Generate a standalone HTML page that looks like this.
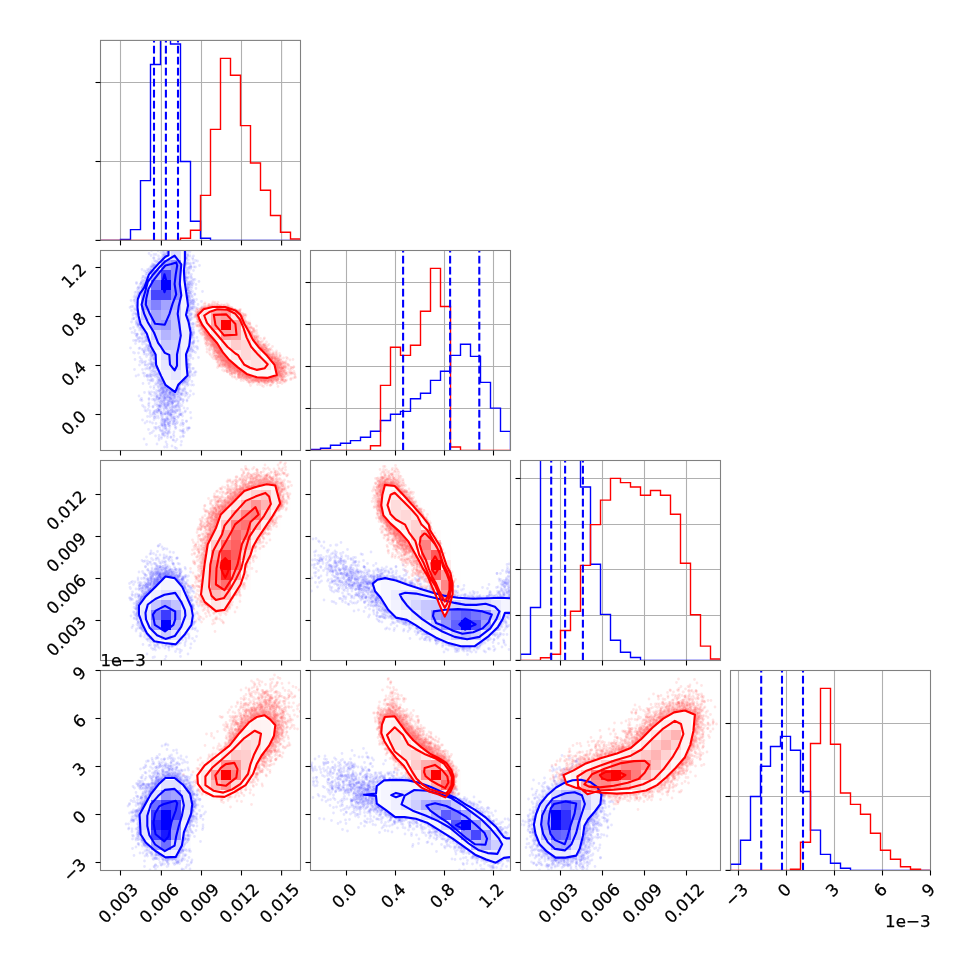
<!DOCTYPE html>
<html><head><meta charset="utf-8"><title>corner</title>
<style>
html,body{margin:0;padding:0;background:#fff;overflow:hidden;width:970px;height:970px}
svg{display:block}
text{font-family:"DejaVu Sans","Liberation Sans",sans-serif;font-size:16.67px;fill:#000;stroke:#000;stroke-width:.25px}
.fr{fill:none;stroke:#808080;stroke-width:1.1}
.tk{stroke:#000;stroke-width:1.1;fill:none}
.gr{stroke:#b0b0b0;stroke-width:1.1;fill:none}
.hb{stroke:#0000ff;stroke-width:1.4;fill:none;stroke-linejoin:miter}
.hr{stroke:#ff0000;stroke-width:1.4;fill:none;stroke-linejoin:miter}
.dq{stroke:#0000ff;stroke-width:2.1;fill:none;stroke-dasharray:7.7 3.3}
.dt{fill:none;stroke-width:5.6;stroke-linecap:round;stroke-opacity:.1}
.cb{stroke:#0000ff;stroke-width:2.1;fill:none;stroke-linejoin:round}
.cr{stroke:#ff0000;stroke-width:2.1;fill:none;stroke-linejoin:round}
</style></head><body>
<svg width="970" height="970" viewBox="0 0 970 970">
<rect width="970" height="970" fill="#fff"/>
<defs>
<clipPath id="c00"><rect x="100.5" y="40.4" width="200.0" height="200.0"/></clipPath>
<clipPath id="c10"><rect x="100.5" y="250.5" width="200.0" height="200.0"/></clipPath>
<clipPath id="c11"><rect x="310.5" y="250.5" width="200.0" height="200.0"/></clipPath>
<clipPath id="c20"><rect x="100.5" y="460.5" width="200.0" height="200.0"/></clipPath>
<clipPath id="c21"><rect x="310.5" y="460.5" width="200.0" height="200.0"/></clipPath>
<clipPath id="c22"><rect x="520.5" y="460.5" width="200.0" height="200.0"/></clipPath>
<clipPath id="c30"><rect x="100.5" y="670.5" width="200.0" height="200.0"/></clipPath>
<clipPath id="c31"><rect x="310.5" y="670.5" width="200.0" height="200.0"/></clipPath>
<clipPath id="c32"><rect x="520.5" y="670.5" width="200.0" height="200.0"/></clipPath>
<clipPath id="c33"><rect x="730.5" y="670.5" width="200.0" height="200.0"/></clipPath>
</defs>
<g clip-path="url(#c00)">
<path d="M120.5 40.4 V240.4" class="gr"/>
<path d="M161.4 40.4 V240.4" class="gr"/>
<path d="M201.5 40.4 V240.4" class="gr"/>
<path d="M241.5 40.4 V240.4" class="gr"/>
<path d="M281.6 40.4 V240.4" class="gr"/>
<path d="M100.5 82.5 H300.5" class="gr"/>
<path d="M100.5 161.5 H300.5" class="gr"/>
<path d="M100.5 240.4 L100.5 240.4 L110.5 240.4 L110.5 240.4 L120.5 240.4 L120.5 239.5 L130.5 239.5 L130.5 229.6 L140.5 229.6 L140.5 180.6 L150.5 180.6 L150.5 64.5 L160.5 64.5 L160.5 -30.0 L170.5 -30.0 L170.5 44.0 L180.5 44.0 L180.5 161.5 L190.5 161.5 L190.5 221.2 L200.5 221.2 L200.5 238.2 L210.5 238.2 L210.5 240.4 L220.5 240.4 L220.5 240.4 L230.5 240.4 L230.5 240.4 L240.5 240.4 L240.5 240.4 L250.5 240.4 L250.5 240.4 L260.5 240.4 L260.5 240.4 L270.5 240.4 L270.5 240.4 L280.5 240.4 L280.5 240.4 L290.5 240.4 L290.5 240.4 L300.5 240.4 L300.5 240.4" class="hb"/>
<path d="M100.5 240.4 L100.5 240.4 L110.5 240.4 L110.5 240.4 L120.5 240.4 L120.5 240.4 L130.5 240.4 L130.5 240.4 L140.5 240.4 L140.5 240.4 L150.5 240.4 L150.5 240.4 L160.5 240.4 L160.5 240.4 L170.5 240.4 L170.5 240.4 L180.5 240.4 L180.5 238.2 L190.5 238.2 L190.5 230.3 L200.5 230.3 L200.5 195.4 L210.5 195.4 L210.5 129.4 L220.5 129.4 L220.5 58.4 L230.5 58.4 L230.5 75.2 L240.5 75.2 L240.5 125.6 L250.5 125.6 L250.5 163.0 L260.5 163.0 L260.5 190.2 L270.5 190.2 L270.5 215.5 L280.5 215.5 L280.5 232.3 L290.5 232.3 L290.5 239.0 L300.5 239.0 L300.5 240.4" class="hr"/>
<path d="M154.0 240.4 V40.4" class="dq"/>
<path d="M165.9 240.4 V40.4" class="dq"/>
<path d="M178.0 240.4 V40.4" class="dq"/>
</g>
<rect x="100.5" y="40.4" width="200" height="200" class="fr"/>
<path d="M120.5 240.4 v5" class="tk"/>
<path d="M161.4 240.4 v5" class="tk"/>
<path d="M201.5 240.4 v5" class="tk"/>
<path d="M241.5 240.4 v5" class="tk"/>
<path d="M281.6 240.4 v5" class="tk"/>
<path d="M100.5 82.5 h-5" class="tk"/>
<path d="M100.5 161.5 h-5" class="tk"/>
<path d="M100.5 240.4 h-5" class="tk"/>
<g clip-path="url(#c10)">
<path transform="scale(.5)" d="M263 613h0m10-48h0m-3 20h0m6 2h0m-6 18h0m5 15h0m-4 8h0m5 1h0m-8 8h0m5 5h0m1 26h0m-4 51h0m18 159h0m-4-77h0m-1-82h0m-6-69h0m4-4h0m-4-60h0m8-9h0m2-6h0m-5-4h0m6 0h0m-4-10h0m14-13h0m-3 12h0m-3 110h0m1 15h0m4 3h0m-1 8h0m-2 1h0m4 6h0m-1 1h0m0 38h0m-3 14h0m2 8h0m4 107h0m11-40h0m0-41h0m-10-24h0m1-8h0m1-7h0m7-1h0m-4-5h0m3-6h0m-4-4h0m-2-20h0m-2-19h0m1-151h0m5-11h0m4-7h0m-3-14h0m14-4h0m-6 15h0m0 3h0m-3 2h0m3 0h0m-4 207h0m7 14h0m-6 1h0m-1 1h0m7 0h0m-5 7h0m7 0h0m3 1h0m-4 1h0m-2 4h0m2 7h0m3 8h0m-4 6h0m-3 1h0m5 6h0m-6 3h0m3 5h0m0 13h0m-3 9h0m1 1h0m-2 4h0m8 2h0m-4 45h0m-4 17h0m15-16h0m1-16h0m-4-3h0m4-5h0m0-4h0m2-1h0m-7-10h0m0-5h0m0-2h0m3-8h0m5-2h0m-8-5h0m3-3h0m7-2h0m-6-1h0m-3-2h0m4-8h0m5-2h0m-1-2h0m1 0h0m-5-1h0m-3-1h0m6-2h0m-7-1h0m6-2h0m-5-6h0m7-1h0m-3 0h0m-4-5h0m-2-3h0m5 0h0m-4-251h0m5-6h0m1-2h0m-7-2h0m10-2h0m-8-1h0m10-4h0m-1 0h0m1 277h0m2 1h0m4 5h0m4 1h0m-8 2h0m-2 2h0m4 4h0m0 3h0m-3 7h0m5 2h0m2 2h0m-9 2h0m8 5h0m-8 10h0m1 1h0m2 1h0m-2 2h0m3 1h0m-3 22h0m13-4h0m0-2h0m-1-10h0m8-2h0m-6-20h0m0-9h0m5-9h0m-5-8h0m4-8h0m0-5h0m16-274h0m1 17h0m-1 27h0m-1 2h0m-6 220h0m-3 12h0m6 10h0m-3 1h0m1 1h0m-3 9h0m0 30h0m5 30h0m-1 3h0m3 3h0m6-5h0m-2-70h0m4-21h0m-4-2h0m0-3h0m3-2h0m1-16h0m4-3h0m-5-1h0m-2-15h0m7-53h0m-1-14h0m1-1h0m0-1h0m1-3h0m-4-7h0m1-2h0m2-6h0m-3-3h0m-2-2h0m2-3h0m0-12h0m-1-1h0m7-4h0m-7-7h0m3-4h0m0-2h0m4 0h0m-9-5h0m-1-2h0m2-1h0m7-4h0m-8-3h0m0 0h0m4-3h0m-4-8h0m0-8h0m9 0h0m-9-14h0m2-17h0m14-3h0m-1 25h0m2 10h0m-7 14h0m1 25h0m-1 39h0m2 14h0m0 2h0m-3 8h0m9 22h0m-9 11h0m23-83h0" stroke="#00f" class="dt"/>
<path transform="scale(.5)" d="M263 621h0m-3-6h0m15-38h0m-6 23h0m6 22h0m-1 11h0m-6 4h0m7 9h0m-1 23h0m-2 0h0m1 12h0m-2 6h0m-2 52h0m14 58h0m3-30h0m-7-37h0m9-27h0m-1-20h0m1-1h0m-8-6h0m1-22h0m0-4h0m-4-60h0m2 0h0m-1-1h0m3-6h0m0-1h0m5-5h0m-10-1h0m10-2h0m-4-7h0m13-28h0m-5 131h0m2 1h0m-1 6h0m3 0h0m-3 11h0m-1 12h0m-1 25h0m2 4h0m-2 18h0m0 5h0m9 15h0m14 88h0m-4-30h0m-7-51h0m7-23h0m-7-10h0m11-10h0m-9-4h0m8 0h0m-7-2h0m4-5h0m-3-11h0m0-1h0m-3-9h0m1-2h0m-3-3h0m9-158h0m-7-4h0m7-2h0m0-9h0m-7-10h0m11 12h0m5 3h0m-4 212h0m0 1h0m3 2h0m1 5h0m0 0h0m-2 2h0m4 0h0m-2 4h0m4 5h0m-1 1h0m0 3h0m3 5h0m-1 10h0m0 1h0m0 9h0m-10 2h0m6 1h0m-7 9h0m11 3h0m0 8h0m-5 12h0m4 4h0m2 37h0m9 3h0m0-2h0m-4-11h0m-2-2h0m-2-1h0m2 0h0m2-5h0m4-10h0m2-10h0m-2 0h0m-2-13h0m-2-3h0m5-9h0m-2-3h0m-5-2h0m7-3h0m-1-6h0m-7-2h0m9-3h0m-2-2h0m-5 0h0m2-2h0m3 0h0m-6-11h0m-2-246h0m-1-1h0m1-1h0m2-3h0m2-3h0m7-4h0m7 273h0m3 1h0m-4 2h0m3 7h0m-1 1h0m-5 6h0m5 9h0m-5 9h0m4 12h0m-6 12h0m3 6h0m-3 20h0m5 9h0m5 6h0m7-1h0m-3-56h0m2-2h0m7-8h0m-7-12h0m7-12h0m-3-1h0m-1-3h0m-1-6h0m2-2h0m0-1h0m2-6h0m11-272h0m1 8h0m0 2h0m1 21h0m-2 3h0m2 2h0m-4 5h0m0 1h0m0 2h0m2 13h0m1 7h0m-1 196h0m-1 1h0m-5 9h0m-2 29h0m3 2h0m1 2h0m4 23h0m-4 27h0m0 11h0m-3 0h0m3 10h0m8-70h0m3-7h0m6-25h0m-11-13h0m11-8h0m-7-14h0m0 0h0m-1-2h0m1-5h0m5-13h0m-1-3h0m0-4h0m-5-5h0m1-1h0m1-3h0m2 0h0m-1-59h0m4-10h0m-1-3h0m1 0h0m-3-8h0m1-1h0m3-2h0m-7-16h0m2-8h0m3-4h0m-6-2h0m2-6h0m3-6h0m-2-3h0m3-6h0m-9-3h0m1-22h0m0-24h0m5-16h0m10 26h0m-3 34h0m7 17h0m-5 25h0m-1 2h0m5 27h0m-4 34h0m1 38h0m-2 14h0m-1 20h0m13-75h0m1-131h0" stroke="#00f" class="dt"/>
<path transform="scale(.5)" d="M270 591h0m4 0h0m-2 4h0m3 11h0m0 13h0m-1 3h0m-1 12h0m2 5h0m0 4h0m-3 1h0m-5 11h0m3 6h0m15 150h0m-8-61h0m8-11h0m-1-13h0m-1-59h0m4-5h0m-1-2h0m-3-5h0m-5-18h0m-1-45h0m4-7h0m5-9h0m-5-2h0m13-27h0m3 2h0m-2 6h0m-4 1h0m-2 107h0m-1 3h0m3 16h0m7 8h0m-10 13h0m9 25h0m0 81h0m-3 34h0m-4 3h0m22 1h0m-12-14h0m11-1h0m-8-1h0m7-1h0m2-9h0m-4-23h0m-5-7h0m5-14h0m3-9h0m-7-7h0m2-2h0m-2-16h0m5-9h0m-6-3h0m6-6h0m-6-14h0m4-3h0m0-1h0m-5-1h0m3-5h0m-4-156h0m4-10h0m0 0h0m2-6h0m0-13h0m-4-15h0m13 0h0m4 18h0m-4 6h0m1 1h0m-4 210h0m-1 6h0m3 2h0m2 1h0m5 6h0m0 11h0m-5 4h0m-5 0h0m9 2h0m-7 24h0m8 1h0m-4 4h0m4 6h0m-2 1h0m-3 14h0m-3 5h0m6 34h0m-8 1h0m17 36h0m3-10h0m-7-15h0m6-14h0m-1-5h0m-1-2h0m-4-3h0m5-4h0m4-3h0m-2-22h0m0-1h0m3-8h0m-7-6h0m2-4h0m4-1h0m-1-18h0m-7-2h0m-2-3h0m3-6h0m-2-1h0m7-260h0m-5-3h0m5-5h0m12 283h0m0 0h0m4 2h0m-8 1h0m8 2h0m-8 4h0m-2 1h0m0 3h0m7 4h0m0 4h0m-3 1h0m4 2h0m-7 4h0m-1 43h0m-1 11h0m11 10h0m5 24h0m-2-14h0m9-22h0m-8-6h0m-2-6h0m5-40h0m-4-7h0m-1-3h0m0-1h0m10-5h0m-12-3h0m7-2h0m1-1h0m0-4h0m0-2h0m0-1h0m3-11h0m-4-275h0m16 7h0m0 4h0m-3 37h0m3 12h0m-4 208h0m3 14h0m-5 4h0m-3 10h0m5 10h0m4 22h0m-10 28h0m4 12h0m1 4h0m9-79h0m-3-31h0m1-1h0m6-3h0m-2-7h0m-2-1h0m4-15h0m-5 0h0m7-28h0m1-6h0m0-19h0m0-8h0m-5-26h0m-1-6h0m1-2h0m-1-1h0m0-7h0m-2 0h0m3-4h0m3-6h0m-3-6h0m5-3h0m-3-13h0m4 0h0m-6-1h0m1-1h0m4-7h0m-9-5h0m10-3h0m-9-5h0m6-4h0m-3-3h0m1-30h0m3-8h0m-8-6h0m1-2h0m6-7h0m10-17h0m5 0h0m0 27h0m-8 37h0m0 6h0m1 50h0m7 2h0m-2 12h0m-4 19h0m-5 21h0m1 5h0m3 7h0m-3 6h0m10 11h0m-10 3h0m6 4h0m6-67h0m5-4h0m2-20h0" stroke="#00f" class="dt"/>
<path transform="scale(.5)" d="M261 696h0m7-102h0m2 23h0m5 3h0m-7 5h0m5 24h0m2 4h0m6 147h0m-3-8h0m8-93h0m-1-11h0m-8-11h0m2-2h0m0-32h0m-3-62h0m3-2h0m5-1h0m0-2h0m2-3h0m12-66h0m-5 36h0m0 18h0m-1 1h0m-4 0h0m6 112h0m4 8h0m-10 2h0m9 11h0m0 1h0m-8 1h0m2 11h0m0 15h0m4 8h0m-4 7h0m3 13h0m4 48h0m-3 34h0m2 26h0m15-23h0m-4-2h0m0-11h0m-8-1h0m9-31h0m-8-4h0m2-3h0m-2-24h0m1-9h0m5-2h0m1-7h0m-1-3h0m-2-7h0m-3-4h0m10-2h0m-10-5h0m6-4h0m0-1h0m-2-3h0m4-2h0m-3-1h0m-2-5h0m-1-1h0m-3-161h0m1-6h0m2-3h0m4-2h0m0-16h0m5 15h0m0 1h0m3 222h0m2 6h0m6 1h0m-7 3h0m4 1h0m2 2h0m-10 2h0m11 27h0m-9 5h0m-1 10h0m5 3h0m0 1h0m0 4h0m3 7h0m12 68h0m-1-36h0m-9-8h0m6-6h0m5-4h0m-6-1h0m5 0h0m-10 0h0m2-1h0m1-10h0m6-11h0m-3-5h0m4 0h0m1-1h0m0-9h0m-7-3h0m-3-3h0m3-4h0m2-2h0m4-2h0m-9-2h0m7-3h0m-4 0h0m-1-2h0m9-7h0m-5-2h0m0-2h0m-5-3h0m2-1h0m-1-249h0m-1-6h0m9-9h0m4-10h0m-2 7h0m2 279h0m2 9h0m1 1h0m-4 0h0m8 1h0m-4 10h0m1 2h0m1 1h0m-7 4h0m9 7h0m0 1h0m-9 8h0m5 13h0m-2 9h0m-3 4h0m5 27h0m2 17h0m9-45h0m3-12h0m-7-9h0m1-2h0m5-3h0m0 0h0m-4-5h0m0-5h0m9-3h0m-3-6h0m-8 0h0m11-4h0m-10-6h0m-1-1h0m6-12h0m3-10h0m2-278h0m10 11h0m2 24h0m0 2h0m-2 31h0m0 202h0m0 31h0m-6 19h0m1 30h0m-2 5h0m16 10h0m-6-13h0m8-18h0m-6-8h0m-1-81h0m-1-25h0m3-8h0m7-29h0m-1-1h0m2-3h0m0-12h0m-4-2h0m1-7h0m-4-6h0m2-3h0m-3-2h0m-2-3h0m0-2h0m0-7h0m6-18h0m1-2h0m-3 0h0m-2-1h0m4-6h0m-4-2h0m0-18h0m-3-2h0m-1-1h0m6 0h0m-5-4h0m7-1h0m1-1h0m-4-26h0m-3-7h0m4-2h0m4-1h0m-6-7h0m0-14h0m11-1h0m1 22h0m1 54h0m-3 20h0m0 11h0m4 3h0m-2 12h0m-3 16h0m1 8h0m0 26h0m-2 2h0m11 9h0m-10 5h0m2 37h0m-3 26h0m13-137h0" stroke="#00f" class="dt"/>
<path transform="scale(.5)" d="M264 665h0m10-72h0m-1 34h0m2 0h0m0 42h0m-1 4h0m-7 32h0m2 1h0m3 46h0m13-29h0m-5-8h0m0-19h0m0-14h0m-4-5h0m9-1h0m-1-8h0m-7-18h0m1-11h0m0 0h0m1-50h0m1-3h0m-1-1h0m5-10h0m3-22h0m12-16h0m-7 10h0m4 7h0m-6 2h0m0 3h0m3 116h0m6 18h0m-1 3h0m-3 3h0m-2 2h0m6 8h0m-6 4h0m1 23h0m5 17h0m12 119h0m-4-44h0m-7-1h0m8-42h0m-4-27h0m4-13h0m2-1h0m-10-9h0m5-7h0m0 0h0m4-9h0m1-5h0m-2-2h0m-7-8h0m2-2h0m1-5h0m-2-156h0m1-1h0m-2-5h0m8 0h0m-3-2h0m4-1h0m3 203h0m3 4h0m2 21h0m-2 14h0m6 0h0m-3 7h0m4 9h0m-9 4h0m9 11h0m-9 2h0m2 5h0m4 1h0m-4 1h0m0 1h0m6 6h0m-6 11h0m7 18h0m0 27h0m12-2h0m-10-8h0m4-2h0m3-6h0m4-12h0m-6-19h0m6-8h0m-8-4h0m7-6h0m-6-1h0m7-3h0m-6-7h0m-3-3h0m2-2h0m7 0h0m-10-3h0m1-3h0m2-2h0m-4-2h0m4-1h0m-3-5h0m10-4h0m-7 0h0m1-1h0m-4-1h0m2-260h0m3 0h0m6-20h0m8 291h0m-7 1h0m2 3h0m0 1h0m6 5h0m-6 4h0m0 1h0m-2 6h0m7 3h0m-4 9h0m2 3h0m-4 4h0m5 1h0m-2 5h0m6 6h0m-7 5h0m0 1h0m7 2h0m-2 4h0m-10 21h0m10 12h0m7-47h0m6-3h0m-7-4h0m8-6h0m-11-6h0m-1-22h0m0-2h0m10-11h0m1-12h0m6-273h0m5 17h0m2 15h0m-4 18h0m1 3h0m2 1h0m0 2h0m-1 8h0m-1 6h0m0 195h0m-1 3h0m-2 5h0m0 2h0m4 2h0m-3 7h0m3 3h0m-2 1h0m-3 0h0m-4 5h0m4 39h0m0 6h0m2 15h0m15-11h0m-2-45h0m-8-5h0m3-22h0m-1-5h0m5 0h0m-3 0h0m4-5h0m-1-17h0m-2-1h0m-3-19h0m3-5h0m5-1h0m-6-1h0m-1-9h0m7-10h0m2-25h0m-4-8h0m-2-12h0m4-11h0m-7-1h0m6-5h0m-1-1h0m-1 0h0m-4-3h0m3-3h0m6-4h0m-6-5h0m4-11h0m0 0h0m-7-1h0m0-9h0m1 0h0m5-11h0m-9-1h0m4-5h0m7-11h0m-11-5h0m1-3h0m4-36h0m-2-10h0m5-7h0m-4-1h0m11 39h0m-2 28h0m0 24h0m8 6h0m-6 1h0m0 69h0m7 6h0m-9 10h0m2 1h0m-1 5h0m4 53h0m-3 26h0" stroke="#00f" class="dt"/>
<path transform="scale(.5)" d="M261 657h0m12-90h0m-1 41h0m-6 5h0m3 6h0m5 10h0m-5 37h0m4 6h0m15 36h0m-11-2h0m1-23h0m6-27h0m-7-8h0m3-5h0m-2-6h0m-1-1h0m2-50h0m-2-12h0m3-5h0m3-5h0m1-25h0m5 3h0m8 3h0m-6 21h0m-3 2h0m7 103h0m1 8h0m2 24h0m2 0h0m0 3h0m-5 44h0m-1 2h0m1 2h0m-6 31h0m10 3h0m-1 18h0m-2 13h0m-3 3h0m15 17h0m-2-26h0m3-13h0m3-50h0m-12-14h0m7-1h0m1-4h0m4-11h0m-10-3h0m4-1h0m-2-5h0m5-3h0m-5-4h0m0-172h0m6-2h0m7-18h0m1 5h0m-5 234h0m4 6h0m1 0h0m4 2h0m-1 4h0m3 2h0m-8 1h0m6 4h0m-5 2h0m1 4h0m3 3h0m-3 2h0m5 2h0m-3 0h0m0 13h0m1 12h0m-2 3h0m-1 10h0m4 4h0m-5 11h0m7 3h0m-1 3h0m-1 4h0m-6 9h0m18 34h0m1-18h0m-9-2h0m0-1h0m8-1h0m-3-16h0m5-4h0m-2-4h0m2-5h0m-6-10h0m2-15h0m-3-1h0m4 0h0m-6-9h0m1 0h0m2-3h0m-2-1h0m3-1h0m0-11h0m0-3h0m-1 0h0m3-1h0m-6-2h0m8-1h0m-6-6h0m-1 0h0m4-3h0m-7-14h0m10-258h0m5 280h0m0 1h0m3 1h0m-3 3h0m8 2h0m0 0h0m-2 3h0m-6 6h0m8 1h0m-6 2h0m-2 3h0m2 19h0m3 1h0m3 3h0m-12 3h0m3 1h0m3 2h0m-5 3h0m10 10h0m-7 10h0m7 16h0m1-31h0m11-10h0m1-4h0m-2-10h0m-6-2h0m5-8h0m-2-4h0m-2-3h0m4-3h0m1 0h0m-5-6h0m-4-2h0m8-2h0m1-9h0m-1-1h0m5-281h0m9 21h0m-1 5h0m0 11h0m2 13h0m-2 12h0m0 2h0m-6 206h0m5 1h0m-5 24h0m-2 102h0m16-34h0m-5-14h0m1-42h0m1-29h0m5-27h0m-1-3h0m1-1h0m-3-7h0m-3-5h0m2-5h0m1-3h0m-2-17h0m9-37h0m-3-37h0m0-8h0m-7-1h0m3 0h0m-2-1h0m1-6h0m2-14h0m-3-1h0m4-2h0m-3-6h0m0-3h0m-3 0h0m6-1h0m-3-4h0m-2-1h0m0-3h0m3-4h0m2-5h0m-5-2h0m3-2h0m-1 0h0m7-10h0m-6 0h0m4-3h0m-4-5h0m4-16h0m-2-3h0m-4-2h0m1-18h0m-3-8h0m17 89h0m-6 12h0m4 9h0m-1 2h0m4 3h0m-7 22h0m2 10h0m1 7h0m1 12h0m-4 4h0m3 16h0m2 8h0m3 50h0m11-141h0m2-20h0" stroke="#00f" class="dt"/>
<path transform="scale(.5)" d="M273 584h0m2 1h0m-3 11h0m-1 3h0m2 4h0m0 8h0m-1 9h0m0 8h0m-1 53h0m15 65h0m-6-23h0m8-19h0m-4-5h0m-5-39h0m1 0h0m-2-4h0m3-6h0m-3-2h0m-1-72h0m10-7h0m-4-5h0m3-11h0m6-2h0m0 5h0m-4 104h0m3 5h0m4 9h0m1 7h0m-2 9h0m5 30h0m1 7h0m0 21h0m-2 36h0m0 13h0m0 16h0m-10 1h0m2 1h0m0 6h0m10 23h0m9-9h0m1-26h0m-5-10h0m-1-48h0m-3-16h0m6-3h0m-2 0h0m-3-2h0m1-2h0m4-1h0m-5 0h0m7-1h0m-8-3h0m1-7h0m0-1h0m-1 0h0m5-5h0m-4-5h0m1-5h0m5-164h0m15-22h0m-10 16h0m5 219h0m0 0h0m2 22h0m2 8h0m-9 2h0m6 13h0m0 1h0m-4 2h0m4 15h0m2 2h0m1 1h0m1 0h0m-1 14h0m-2 31h0m3 14h0m-5 6h0m11-10h0m0-5h0m-2-2h0m-1-2h0m1-3h0m5-5h0m-1-2h0m-4-12h0m4 0h0m3-3h0m-1-8h0m-3-34h0m0-4h0m-4-4h0m9-5h0m-1-1h0m-9-4h0m5-2h0m0-266h0m6-17h0m9 2h0m-3 288h0m-2 2h0m5 0h0m-6 3h0m5 3h0m-2 0h0m0 8h0m5 5h0m-4 3h0m1 3h0m-4 1h0m-3 2h0m7 9h0m-3 1h0m4 1h0m-2 2h0m-6 4h0m5 3h0m2 4h0m0 4h0m3 3h0m-10 3h0m3 4h0m-2 13h0m2 3h0m10-12h0m3-12h0m-3-2h0m0-19h0m9-2h0m-4-3h0m0-4h0m1-6h0m-6-11h0m-2-4h0m11-7h0m0-5h0m-1-4h0m1-6h0m-5-274h0m17 263h0m1 1h0m-6 3h0m5 1h0m-2 2h0m-3 0h0m-3 22h0m-3 14h0m8 16h0m-7 13h0m0 45h0m16-18h0m-5-71h0m9-3h0m-7-15h0m-1-9h0m5-4h0m-2-3h0m1-3h0m4-4h0m-7-8h0m2-3h0m0-2h0m5-2h0m-4 0h0m-4-1h0m1-6h0m1-1h0m-1-15h0m0-3h0m4-3h0m0-1h0m3-2h0m2-30h0m-1-4h0m-2-5h0m1-1h0m-2-2h0m1-15h0m-4-17h0m5-6h0m-3-4h0m6-7h0m-9-10h0m4-10h0m-1-4h0m-4-3h0m2-2h0m0-7h0m5-8h0m-7-2h0m1-3h0m8-8h0m-11-2h0m6-1h0m-1-5h0m4-3h0m0-5h0m-9-17h0m3-5h0m-3-1h0m13 6h0m6 5h0m-5 5h0m-2 47h0m3 26h0m2 5h0m-4 11h0m-1 13h0m4 48h0m8 6h0m-8 65h0m2 3h0m-4 1h0m1 37h0" stroke="#00f" class="dt"/>
<path transform="scale(.5)" d="M263 644h0m-1-43h0m6 0h0m5 11h0m1 2h0m-8 15h0m0 1h0m-1 8h0m8 9h0m-6 34h0m18 159h0m-7-143h0m6-14h0m0-5h0m1-8h0m3-4h0m-4-4h0m-3-5h0m-5-6h0m6-1h0m-2-3h0m-1-4h0m8-72h0m-1-10h0m11-21h0m2 4h0m-10 28h0m2 92h0m-1 10h0m5 1h0m-1 3h0m-1 3h0m5 10h0m-6 3h0m3 3h0m3 4h0m-3 8h0m-5 21h0m9 21h0m-6 138h0m11-24h0m3-3h0m2-7h0m-4-9h0m1-19h0m4-5h0m-4-8h0m4-11h0m-2-30h0m-2-11h0m4-9h0m-3-26h0m-2-1h0m3-9h0m1-8h0m0-2h0m-7-166h0m6-7h0m-3-6h0m7-19h0m2 227h0m6 12h0m-7 1h0m2 12h0m9 16h0m-3 10h0m1 2h0m0 2h0m-9 3h0m6 4h0m3 1h0m-3 4h0m2 9h0m-3 10h0m-5 0h0m0 1h0m3 2h0m7 5h0m0 4h0m-4 19h0m3 9h0m-4 14h0m7-25h0m3-3h0m-1-3h0m-1-4h0m4-1h0m1-13h0m4-1h0m-4-2h0m-3-2h0m3-15h0m-6-1h0m10-13h0m-7-10h0m6-3h0m-10 0h0m7-3h0m4-3h0m-9-5h0m-2-7h0m3-246h0m2-1h0m-1-6h0m7-3h0m-2-5h0m11 279h0m1 4h0m-5 2h0m4 0h0m-6 8h0m5 0h0m4 1h0m1 1h0m-3 2h0m0 2h0m-8 1h0m1 0h0m9 3h0m-2 8h0m1 4h0m0 7h0m0 0h0m-6 5h0m0 2h0m7 1h0m-3 0h0m2 5h0m0 12h0m-7 10h0m8 46h0m3-9h0m-2-31h0m3-7h0m4-12h0m-5-6h0m5-18h0m1-10h0m0-3h0m-5-16h0m4-1h0m-3-9h0m2-1h0m4-3h0m1-7h0m12-266h0m1 11h0m-3 34h0m1 1h0m-1 8h0m2 3h0m-2 195h0m-1 4h0m-5 2h0m7 2h0m-1 0h0m0 13h0m-2 3h0m-1 24h0m-4 24h0m4 18h0m1 26h0m-4 10h0m11-27h0m2-102h0m1-4h0m-2-1h0m-1-12h0m3-3h0m2 0h0m-2-2h0m-3-1h0m3-2h0m-4-3h0m0-1h0m2-7h0m-1-5h0m-1-1h0m1-8h0m5-3h0m0-3h0m-2 0h0m7-1h0m-4-15h0m3-4h0m-2-7h0m0-7h0m0-3h0m0-5h0m-1-8h0m1-37h0m-1-2h0m0-5h0m-4 0h0m0-3h0m-1-5h0m3-3h0m-4-4h0m0 0h0m2-2h0m-2-6h0m-1-2h0m2-11h0m4-2h0m-7-10h0m10-1h0m0-20h0m4-16h0m2 85h0m8 5h0m-8 74h0m9 32h0m1-152h0" stroke="#00f" class="dt"/>
<path transform="scale(.5)" d="M394 633h0m1 5h0m-1 14h0m7 14h0m3-9h0m1 0h0m2-1h0m-2-3h0m0-1h0m-7-4h0m-1-6h0m2-2h0m-1-1h0m-1-3h0m4-13h0m-5-2h0m5 0h0m-2-2h0m6 0h0m-2-2h0m5-8h0m2 0h0m7 5h0m2 1h0m0 0h0m-10 2h0m-1 1h0m2 39h0m0 2h0m2 1h0m0 2h0m-2 1h0m5 1h0m-1 1h0m-3 0h0m1 0h0m1 1h0m4 1h0m1 2h0m1 1h0m-5 1h0m-4 3h0m5 0h0m2 1h0m-4 4h0m4 0h0m-4 6h0m6 22h0m12 11h0m0-7h0m-1-3h0m0-14h0m0-2h0m-3-3h0m5-1h0m0-1h0m-2-1h0m-3-4h0m-5-2h0m5 0h0m1 0h0m0 0h0m-4-1h0m-3-2h0m3-1h0m-3-4h0m1-57h0m4-1h0m4-9h0m6 0h0m-2 8h0m6 1h0m-7 71h0m2 3h0m-2 2h0m1 1h0m1 2h0m0 1h0m1 2h0m1 1h0m3 1h0m1 0h0m0 2h0m-2 1h0m0 1h0m5 0h0m-11 0h0m8 0h0m3 0h0m-5 0h0m4 0h0m0 1h0m-10 0h0m11 0h0m-1 0h0m-2 0h0m3 1h0m-2 0h0m-6 0h0m8 1h0m-8 1h0m8 6h0m0 2h0m-7 1h0m-5 3h0m7 0h0m5 1h0m-5 0h0m5 1h0m-2 5h0m-2 2h0m-5 8h0m16 6h0m2-8h0m1-3h0m0-1h0m-4 0h0m6-1h0m-12 0h0m11-1h0m0-1h0m0-2h0m-1-1h0m-3 0h0m5-1h0m-3-3h0m-1 0h0m-5 0h0m1-1h0m5 0h0m1-1h0m-8 0h0m9 0h0m-5 0h0m0 0h0m1 0h0m2-1h0m-4 0h0m-4-1h0m8 0h0m-6 0h0m4 0h0m3 0h0m-1-1h0m-4 0h0m-3 0h0m2 0h0m3 0h0m-1 0h0m2-1h0m-4 0h0m1-1h0m-4-2h0m3-1h0m1 0h0m-1-1h0m-2-1h0m1-1h0m-1 0h0m-1-2h0m12-94h0m1 110h0m1 2h0m-2 2h0m1 0h0m-2 1h0m8 0h0m0 1h0m3 1h0m-11 0h0m12 1h0m-8 0h0m4 0h0m3 0h0m-8 1h0m1 1h0m0 0h0m1 1h0m-4 1h0m3 0h0m-3 1h0m7 1h0m2 0h0m-1 1h0m-4 5h0m2 4h0m-3 1h0m7 0h0m10 9h0m0-4h0m1-1h0m-8-1h0m10 0h0m-2-2h0m0-1h0m1-1h0m-9 0h0m9 0h0m-3-2h0m1-1h0m0 0h0m3-1h0m-2 0h0m-1-1h0m-5 0h0m-1-1h0m7-1h0m-2 0h0m-2-1h0m-3 0h0m4-1h0m-1-2h0m-4 0h0m2-1h0m-3-2h0m1 0h0m-1 0h0m10-103h0m1-2h0m-12-6h0m17 9h0m0 5h0m3 11h0m1 0h0m1 2h0m-8 95h0m1 1h0m4 1h0m1 0h0m0 4h0m-4 5h0m15 14h0m-1-7h0m2-1h0m-3-2h0m-2 0h0m4-2h0m-4 0h0m8-2h0m-8 0h0m2-1h0m3 0h0m-5-2h0m-3-1h0m11-83h0m-2-1h0m-8-11h0m2-7h0m18 6h0m-5 10h0m-4 4h0m11 6h0m1 10h0m-4 5h0m0 1h0m-7 64h0m3 1h0m-4 1h0m9 1h0m-5 0h0m8 1h0m-9 0h0m0 1h0m4 0h0m0 5h0m4 1h0m-10 3h0m19-1h0m-8-1h0m9-1h0m-2-2h0m5 0h0m-2-2h0m-2-1h0m-5-1h0m8-1h0m-11 0h0m7-1h0m3-53h0m0 0h0m-1-1h0m-1-1h0m3-1h0m-6-2h0m4-1h0m-2 0h0m-2-1h0m-2-2h0m-2-1h0m3-1h0m1-1h0m1 0h0m-6 0h0m1-1h0m12-13h0m4 8h0m-1 5h0m3 2h0m-3 6h0m3 1h0m4 2h0m-8 3h0m-1 1h0m0 1h0m1 0h0m3 4h0m3 0h0m2 1h0m0 6h0m0 39h0m-3 0h0m-6 1h0m6 1h0m1 2h0m-4 0h0m1 3h0m-4 0h0m-1 0h0m7 2h0m-2 1h0m8-2h0m2-2h0m1-1h0m-3 0h0m10-1h0m-10-3h0m8-1h0m-7 0h0m-3 0h0m5 0h0m5-1h0m1-1h0m-6 0h0m6-15h0m0-8h0m-2-3h0m-1 0h0m-1-1h0m1 0h0m2-4h0m-9-2h0m0-2h0m9 0h0m-6-1h0m-2-1h0m-2 0h0m4-4h0m2-4h0m7-6h0m5 18h0m-2 2h0m-3 5h0m10 1h0m1 0h0m-11 1h0m2 1h0m-2 2h0m4 3h0m1 0h0m6 1h0m-12 1h0m4 1h0m-2 1h0m-1 3h0m-1 1h0m6 2h0m0 1h0m-3 0h0m3 1h0m0 1h0m-1 1h0m1 1h0m3 2h0m-6 0h0m5 0h0m-5 3h0m1 3h0m7 2h0m7 4h0m2-2h0m-4-7h0m5-4h0m-3-2h0m2 0h0m-5-1h0m-2-2h0m1-1h0m6-2h0m-6 0h0m-1-8h0m6-1h0m-5-1h0m2-4h0m2-3h0m15 11h0m-2 1h0m-1 2h0m1 7h0m-1 1h0m7-1h0" stroke="#f00" class="dt"/>
<path transform="scale(.5)" d="M396 626h0m-3 5h0m3 0h0m0 4h0m-2 0h0m1 2h0m0 14h0m11 10h0m-3-3h0m1-1h0m1-3h0m-2-2h0m-4-2h0m4-1h0m-1-1h0m-1-1h0m1 0h0m-2-5h0m0-1h0m-3-5h0m4-11h0m-2 0h0m-2-2h0m6-2h0m1-3h0m13-8h0m-9 7h0m0 38h0m2 2h0m0 2h0m2 1h0m-1 4h0m0 0h0m-2 0h0m5 0h0m-3 5h0m7 1h0m0 1h0m2 0h0m-1 1h0m-3 0h0m4 1h0m-7 0h0m-2 3h0m3 3h0m5 7h0m0 2h0m1 0h0m12 30h0m-8-4h0m6-10h0m1-5h0m0-1h0m-2 0h0m0-5h0m-1-1h0m1-1h0m-5-3h0m3-1h0m-4-3h0m4-2h0m-2-1h0m2-1h0m-5-3h0m-2-5h0m1-58h0m9-1h0m4-4h0m10 1h0m-4 2h0m1 1h0m-9 74h0m1 0h0m0 1h0m1 1h0m0 1h0m1 1h0m1 0h0m1 0h0m0 1h0m-4 1h0m6 3h0m1 0h0m-1 0h0m1 0h0m-5 1h0m2 0h0m-2 0h0m1 0h0m2 0h0m3 2h0m1 1h0m-5 0h0m6 2h0m-4 1h0m-4 1h0m7 2h0m-2 1h0m0 0h0m2 1h0m-1 1h0m1 0h0m1 0h0m-3 1h0m-3 3h0m4 0h0m3 1h0m-9 2h0m7 1h0m-5 3h0m5 1h0m-1 1h0m0 8h0m2 3h0m5 9h0m-3-2h0m9 0h0m0-2h0m-7-8h0m1-1h0m3-1h0m4-3h0m-1 0h0m-1 0h0m2-2h0m-6 0h0m-1-1h0m8-1h0m-1-1h0m-6 0h0m3 0h0m-3-1h0m5-1h0m1 0h0m-6-1h0m7 0h0m-7-1h0m4-1h0m-5-1h0m-4-1h0m3 0h0m1 0h0m-2-1h0m4 0h0m-2 0h0m-2 0h0m1 0h0m2-2h0m-2-1h0m-1-1h0m1 0h0m-1 0h0m-1 0h0m3-1h0m-3-1h0m1-1h0m9-91h0m-8-1h0m7-3h0m0-2h0m10 7h0m-7 103h0m0 2h0m-1 0h0m0 2h0m0 0h0m5 0h0m0 1h0m-2 2h0m5 0h0m-4 1h0m-3 1h0m4 0h0m-5 1h0m12 1h0m-3 1h0m0 0h0m2 1h0m-3 0h0m1 1h0m-6 1h0m5 3h0m-1 0h0m2 1h0m-9 1h0m10 0h0m1 1h0m-8 2h0m5 1h0m14 11h0m-1 0h0m-1-5h0m-5-2h0m8-2h0m-5-1h0m3 0h0m0-1h0m2-1h0m-9-1h0m7 0h0m0 0h0m-3-1h0m3 0h0m-5 0h0m5-1h0m2-1h0m-6 0h0m1-2h0m-3 0h0m1-1h0m1 0h0m-3-1h0m2-1h0m-2-2h0m9-103h0m0-1h0m-2-2h0m-1-2h0m16 8h0m-9 3h0m8 10h0m-11 95h0m0 0h0m0 0h0m0 3h0m2 1h0m1 0h0m-3 1h0m5 1h0m3 0h0m-3 0h0m4 1h0m-2 1h0m3 1h0m0 0h0m2 0h0m-6 5h0m2 2h0m1 0h0m12 9h0m-5-2h0m7-4h0m-5-1h0m-2 0h0m8-1h0m-11-2h0m7-1h0m0-1h0m-4 0h0m-1-1h0m3 0h0m6-75h0m-2-5h0m-2-2h0m-6-12h0m8-2h0m-9-4h0m6-4h0m11 16h0m-2 10h0m-4 1h0m1 2h0m1 0h0m0 0h0m2 1h0m6 0h0m-6 2h0m1 2h0m6 5h0m-4 1h0m2 0h0m-1 2h0m3 1h0m-9 63h0m2 1h0m0 1h0m-2 0h0m0 0h0m6 0h0m3 1h0m-1 0h0m-1 1h0m-2 1h0m-2 0h0m1 0h0m-5 1h0m4 0h0m6 1h0m0 0h0m-7 2h0m1 3h0m19 0h0m-10 0h0m6-2h0m-3-2h0m-2 0h0m9-1h0m-3-3h0m-4 0h0m3 0h0m-7-1h0m9-53h0m-3-2h0m4-2h0m-5-1h0m-2-1h0m-2-1h0m9-6h0m-10 0h0m-1-1h0m7-4h0m-7-8h0m14 13h0m1 8h0m8 9h0m0 0h0m-3 2h0m2 1h0m-1 0h0m-2 3h0m3 3h0m1 40h0m-9 1h0m8 0h0m-7 0h0m1 0h0m4 2h0m-4 0h0m2 0h0m3 1h0m-2 2h0m-4 0h0m17 2h0m-7-3h0m8-3h0m-7-1h0m0-2h0m-1 0h0m7-1h0m-2-1h0m5 0h0m0 0h0m1-10h0m-2-11h0m-2-3h0m-2-4h0m-4-4h0m0 0h0m10 0h0m-8-2h0m-2-1h0m8-1h0m-4-8h0m-1-15h0m9 29h0m5 4h0m-4 1h0m-3 0h0m8 2h0m-7 0h0m7 4h0m-6 0h0m1 0h0m5 0h0m-6 1h0m-1 0h0m5 1h0m3 0h0m2 2h0m-7 1h0m0 0h0m-3 2h0m9 1h0m-1 1h0m-3 0h0m-5 1h0m6 0h0m-2 1h0m-4 1h0m2 0h0m0 1h0m5 1h0m0 1h0m-6 3h0m0 1h0m-1 0h0m7 1h0m-4 6h0m9-2h0m7-10h0m-5-2h0m-3-4h0m4-2h0m7-2h0m-2-1h0m-7-2h0m0-1h0m1-9h0m17 22h0m3 10h0" stroke="#f00" class="dt"/>
<path transform="scale(.5)" d="M396 629h0m-1 3h0m0 6h0m-2 7h0m14 23h0m-7-8h0m6-4h0m-2-1h0m3-2h0m-2-3h0m-3-1h0m-3-5h0m-2-7h0m-1-12h0m6-4h0m4-3h0m1-1h0m1 0h0m-1 0h0m11-8h0m-8 8h0m-2 38h0m1 3h0m1 2h0m-1 3h0m0 0h0m6 2h0m2 2h0m0 2h0m2 1h0m0 1h0m-6 0h0m4 6h0m-4 1h0m6 17h0m-5 3h0m7 12h0m6 0h0m1-2h0m2-4h0m0-1h0m-2-3h0m-1 0h0m3-5h0m-8-3h0m1 0h0m7-3h0m-2-1h0m3 0h0m-1-1h0m2-2h0m-8-1h0m7 0h0m-1-1h0m-4 0h0m2 0h0m1 0h0m2-1h0m-2-1h0m-3-1h0m-2-1h0m-2-2h0m1-2h0m0-1h0m-2 0h0m0-2h0m10-58h0m1-2h0m-9 0h0m-2 0h0m3-2h0m13 1h0m-3 1h0m-2 72h0m0 2h0m2 1h0m2 2h0m-1 1h0m1 0h0m0 1h0m1 0h0m-3 2h0m2 2h0m-2 1h0m6 0h0m-4 0h0m4 1h0m-2 1h0m1 0h0m-1 1h0m-1 0h0m6 1h0m0 1h0m0 0h0m-8 0h0m9 1h0m-2 1h0m-8 0h0m9 1h0m-5 0h0m-3 1h0m7 0h0m-5 0h0m2 1h0m-1 0h0m3 1h0m-2 1h0m3 2h0m-1 2h0m3 0h0m-2 0h0m-4 1h0m3 0h0m-7 5h0m3 0h0m2 1h0m0 0h0m2 3h0m-4 1h0m5 2h0m-6 5h0m2 2h0m13-2h0m1-2h0m-7 0h0m-1-1h0m9-1h0m-2-3h0m4 0h0m0 0h0m1-2h0m-9 0h0m2-1h0m6 0h0m-3-1h0m1-1h0m-7 0h0m7 0h0m-1-1h0m-5-1h0m6 0h0m-4 0h0m3-1h0m1 0h0m-8 0h0m7-1h0m-6 0h0m5 0h0m-2 0h0m3 0h0m-7-1h0m3-1h0m3 0h0m-3-1h0m0 0h0m1 0h0m-2-1h0m-2-1h0m1 0h0m1 0h0m-3-1h0m1 0h0m2 0h0m0-1h0m-2 0h0m2 0h0m-1-2h0m-2 0h0m6-91h0m-1-1h0m-1-2h0m8 5h0m6 0h0m-4 104h0m0 0h0m1 1h0m-2 3h0m7 1h0m0 0h0m-6 1h0m6 0h0m1 1h0m-5 0h0m4 0h0m-5 0h0m-3 1h0m4 0h0m4 0h0m-7 1h0m9 1h0m0 0h0m1 1h0m-10 1h0m0 1h0m10 1h0m1 0h0m-2 1h0m-4 0h0m4 1h0m2 0h0m-5 1h0m-4 2h0m5 7h0m13 3h0m-3-6h0m6-1h0m-4-1h0m2-1h0m0-1h0m1-1h0m-2 0h0m-1-1h0m0-1h0m-7-2h0m0 0h0m1 0h0m0-2h0m-1-2h0m0-1h0m-1 0h0m6-107h0m6-1h0m11 23h0m-1 4h0m-7 93h0m-3 2h0m2 0h0m5 1h0m-4 0h0m1 1h0m4 0h0m-1 0h0m2 1h0m-7 0h0m7 1h0m-1 0h0m-1 1h0m-2 1h0m3 0h0m-6 8h0m13 6h0m-2-3h0m6-5h0m-1-1h0m5 0h0m-10 0h0m9-1h0m-7 0h0m8 0h0m-7 0h0m0 0h0m2 0h0m2-1h0m-2 0h0m1 0h0m0 0h0m-6-2h0m5 0h0m-5-1h0m0-1h0m11-76h0m-3-5h0m3-2h0m0-9h0m9 5h0m-2 13h0m-7 0h0m6 7h0m1 3h0m2 3h0m0 1h0m-9 65h0m2 1h0m8 1h0m0 1h0m-2 2h0m-2 0h0m0 1h0m-4 2h0m8 0h0m0 1h0m5 2h0m4-2h0m-5-1h0m5 0h0m4-2h0m-7 0h0m7-1h0m-5-1h0m4 0h0m0 0h0m-4-1h0m-4 0h0m5-1h0m0-55h0m-1-1h0m1 0h0m2-2h0m-1-3h0m1-12h0m-4-5h0m-4-5h0m11 16h0m3 5h0m-1 1h0m1 2h0m1 2h0m3 2h0m-4 0h0m2 5h0m-3 2h0m0 0h0m6 2h0m-2 0h0m2 3h0m2 0h0m-2 1h0m4 3h0m-11 40h0m2 0h0m0 1h0m1 0h0m2 0h0m-1 0h0m7 0h0m-2 1h0m-8 0h0m3 1h0m4 0h0m-8 0h0m6 1h0m4 3h0m5 0h0m6-5h0m-5-2h0m3-1h0m1-1h0m1-2h0m1-20h0m0-1h0m0-1h0m-3-2h0m3-2h0m-4 0h0m2 0h0m0-1h0m-7-7h0m1 0h0m1-1h0m-2-1h0m1-1h0m5 0h0m-8-6h0m18 7h0m-2 6h0m-1 4h0m5 2h0m-3 0h0m5 1h0m-8 0h0m9 2h0m-1 2h0m-4 1h0m-3 0h0m-1 0h0m1 1h0m-3 3h0m2 1h0m-2 0h0m2 3h0m9 3h0m-2 0h0m-5 0h0m-4 0h0m5 1h0m0 1h0m-1 3h0m7 1h0m-10 0h0m0 10h0m20-1h0m-7-8h0m2 0h0m4-5h0m-8-3h0m4-1h0m-3 0h0m-1-7h0m6-3h0m-1-2h0m-2-3h0m7 0h0m-3 0h0m-2-2h0m-2-10h0m19 3h0m-8 13h0m0 12h0m4 13h0m9-2h0" stroke="#f00" class="dt"/>
<path transform="scale(.5)" d="M394 626h0m2 2h0m-3 2h0m2 13h0m-2 8h0m12 4h0m-1 0h0m3-1h0m-1-1h0m-3-3h0m-7-8h0m3-1h0m-3-9h0m3-6h0m3-4h0m1 0h0m1 0h0m-4-3h0m2 0h0m5-1h0m1-4h0m9-1h0m1 1h0m-1 1h0m-5 1h0m-4 40h0m2 2h0m3 4h0m-1 0h0m0 3h0m-1 1h0m2 0h0m2 3h0m4 1h0m-3 1h0m3 1h0m1 1h0m-1 2h0m-1 1h0m-1 0h0m-5 11h0m15 30h0m2-4h0m0-12h0m0-9h0m-4 0h0m-1-1h0m6-1h0m2 0h0m-1 0h0m0-1h0m-1 0h0m2 0h0m-8 0h0m-1-1h0m9-1h0m-5-1h0m5-1h0m-6 0h0m3-1h0m-3 0h0m-1 0h0m3 0h0m2-1h0m-7-1h0m-2 0h0m5-1h0m1 0h0m0-2h0m-6 0h0m0-1h0m2-2h0m-2 0h0m-1-5h0m8-60h0m14 2h0m-8 74h0m0 0h0m-1 0h0m1 1h0m-2 1h0m2 0h0m-1 1h0m-1 0h0m5 1h0m-2 0h0m2 0h0m-3 2h0m4 1h0m2 2h0m0 1h0m0 0h0m1 1h0m-7 0h0m1 2h0m8 1h0m-5 1h0m-4 0h0m8 0h0m-5 1h0m5 0h0m-1 0h0m0 2h0m-1 1h0m-2 2h0m6 0h0m-9 4h0m7 0h0m2 1h0m-4 2h0m-4 10h0m18 18h0m-4-10h0m4-3h0m-3-2h0m0-2h0m-1-2h0m-4 0h0m9-1h0m-9-1h0m9-1h0m-1 0h0m1-1h0m-4 0h0m4-1h0m-8 0h0m5 0h0m-5 0h0m-1-1h0m4 0h0m-2 0h0m6 0h0m-5 0h0m-2-2h0m0 0h0m7 0h0m-8 0h0m4-1h0m3-2h0m-8 0h0m6 0h0m0-1h0m-2 0h0m0-2h0m-1 0h0m-1 0h0m-2-1h0m1 0h0m3-1h0m-3-1h0m18-89h0m-8 99h0m2 2h0m1 1h0m-2 0h0m1 1h0m0 0h0m1 1h0m-3 0h0m6 2h0m-3 0h0m5 1h0m-5 1h0m7 1h0m0 0h0m-4 0h0m-2 1h0m7 0h0m-11 1h0m10 2h0m-8 0h0m7 0h0m-2 0h0m-3 3h0m6 1h0m11 20h0m2-6h0m-10-5h0m10-2h0m-4-1h0m-7-1h0m12 0h0m-2-1h0m0 0h0m2-1h0m-1 0h0m-2-1h0m-3 0h0m0-1h0m-2 0h0m-1 0h0m6-1h0m-7 0h0m-1-1h0m2 0h0m-3 0h0m0-2h0m7-108h0m-1-2h0m-4-3h0m11 10h0m6 3h0m0 9h0m3 8h0m0 2h0m-9 88h0m1 3h0m0 1h0m5 1h0m-5 0h0m5 1h0m-3 1h0m6 1h0m-4 0h0m-5 0h0m3 0h0m4 1h0m-8 0h0m11 2h0m0 1h0m-1 0h0m-3 1h0m-7 1h0m6 1h0m-3 1h0m5 2h0m5 2h0m3-1h0m4-3h0m0-2h0m-1 0h0m0-1h0m-4-1h0m4 0h0m-2-1h0m1 0h0m1 0h0m-2 0h0m0 0h0m6-80h0m1-1h0m-2 0h0m-2-2h0m2-2h0m-4 0h0m0-2h0m-1-2h0m-2-4h0m3-1h0m-4-2h0m2-5h0m11 8h0m-3 8h0m1 1h0m2 10h0m4 2h0m3 2h0m-7 0h0m-1 0h0m9 4h0m0 0h0m-3 0h0m-2 1h0m3 70h0m0 2h0m1 0h0m-9 3h0m7 0h0m1 1h0m14 12h0m-2-11h0m-2-3h0m0 0h0m4-1h0m-6 0h0m2 0h0m-2-1h0m-4 0h0m0-1h0m11 0h0m0-53h0m-2-4h0m-2-1h0m0 0h0m0 0h0m0-4h0m-5 0h0m1-2h0m-3-1h0m17 8h0m-5 2h0m2 1h0m5 1h0m-2 1h0m3 0h0m-5 0h0m-2 2h0m3 2h0m2 0h0m1 0h0m-2 2h0m5 0h0m-3 1h0m1 45h0m-8 0h0m3 0h0m-3 1h0m7 0h0m-6 0h0m-1 1h0m9 0h0m-10 0h0m1 1h0m9 1h0m-6 0h0m8 0h0m-4 2h0m-7 1h0m0 1h0m1 3h0m13 2h0m3-4h0m-3-2h0m-1-5h0m10-1h0m-11-1h0m4 0h0m0-1h0m1 0h0m4-2h0m-1 0h0m-3 0h0m6-1h0m0-9h0m-2-9h0m1-3h0m0-2h0m-1-1h0m-2-2h0m0 0h0m-2-1h0m3 0h0m-2-1h0m2 0h0m-6-3h0m9-2h0m-8-3h0m-1-2h0m8-2h0m-7-1h0m-2 0h0m0-1h0m6-2h0m-5-8h0m10 6h0m6 6h0m-5 7h0m2 0h0m1 2h0m-3 1h0m-2 3h0m8 1h0m3 0h0m-4 2h0m2 1h0m-4 0h0m-5 2h0m5 1h0m4 1h0m-2 0h0m0 0h0m-2 1h0m-3 0h0m0 1h0m3 2h0m5 0h0m-8 4h0m5 1h0m-3 1h0m-2 0h0m3 0h0m-3 5h0m6 0h0m-1 2h0m1 0h0m-6 1h0m0 4h0m6 9h0m-4 1h0m4 0h0m6-4h0m4 0h0m-6-6h0m1-19h0m8-4h0m3-3h0m-11-3h0m8-11h0m7 5h0m-3 30h0" stroke="#f00" class="dt"/>
<path transform="scale(.5)" d="M394 618h0m-1 6h0m13 35h0m0-3h0m2 0h0m-3-2h0m2 0h0m-1-1h0m-3-1h0m-6-1h0m7-2h0m-2-1h0m-5-20h0m2-6h0m2-1h0m6-2h0m12-4h0m-11 3h0m3 46h0m1 4h0m7 1h0m0 1h0m-3 0h0m3 1h0m-2 1h0m1 1h0m1 2h0m-8 1h0m4 0h0m5 1h0m-2 3h0m-3 2h0m3 4h0m-2 3h0m-1 0h0m11 13h0m1-1h0m2-1h0m-1-4h0m1-1h0m0-1h0m-1-2h0m3-2h0m-5-1h0m2-2h0m2-1h0m0 0h0m-3 0h0m2-2h0m-3 0h0m-4-1h0m8 0h0m-4 0h0m4-1h0m-2 0h0m-6 0h0m5-1h0m-5 0h0m2-2h0m2-1h0m-3-2h0m-1-62h0m9-1h0m0 0h0m-2-1h0m-3-8h0m16 6h0m-5 1h0m1 2h0m-5 74h0m3 2h0m-4 0h0m4 2h0m0 0h0m1 1h0m-4 1h0m0 1h0m3 0h0m0 0h0m0 1h0m-2 0h0m6 1h0m-5 1h0m3 0h0m2 0h0m1 0h0m-4 0h0m4 0h0m0 3h0m-4 0h0m5 0h0m-2 1h0m3 1h0m1 0h0m-4 0h0m0 1h0m4 1h0m-5 1h0m-5 1h0m5 0h0m3 0h0m2 1h0m-4 0h0m1 2h0m-2 1h0m-1 1h0m1 0h0m4 0h0m-7 2h0m-3 4h0m2 3h0m-1 4h0m20 11h0m0-3h0m-2 0h0m1-8h0m-7 0h0m8 0h0m-2-3h0m3 0h0m-11-1h0m10 0h0m-7-1h0m-2 0h0m10-1h0m0 0h0m-2 0h0m2-1h0m-5-1h0m0 0h0m-3 0h0m3-1h0m1-2h0m1-1h0m-8-1h0m4 0h0m2 0h0m0-1h0m-1-1h0m-2-1h0m-2-1h0m2 0h0m-1-1h0m11-91h0m-1 103h0m1 3h0m3 1h0m-1 1h0m-2 1h0m7 0h0m-2 1h0m-4 1h0m3 1h0m5 0h0m-8 1h0m0 0h0m0 1h0m6 0h0m-4 0h0m4 0h0m-6 1h0m9 0h0m-5 0h0m1 0h0m-5 1h0m6 1h0m-4 5h0m5 2h0m1 8h0m-2 0h0m1 7h0m4 0h0m7-3h0m1-2h0m-2-3h0m0-2h0m3-1h0m-2-2h0m4-1h0m-7-1h0m-3 0h0m3-1h0m3 0h0m-6 0h0m5-1h0m-2 0h0m-1 0h0m3 0h0m-3-1h0m-1 0h0m1 0h0m5-1h0m-2 0h0m-1 0h0m-6-2h0m2-1h0m0 0h0m2 0h0m-1 0h0m-2 0h0m11-107h0m-1-5h0m11 10h0m-10 108h0m0 1h0m1 0h0m3 3h0m0 0h0m0 0h0m1 0h0m-2 0h0m2 0h0m1 1h0m-2 0h0m-3 0h0m6 1h0m0 0h0m0 0h0m1 1h0m2 0h0m0 1h0m2 1h0m-4 0h0m1 0h0m1 1h0m-4 1h0m-6 0h0m10 1h0m2 0h0m-6 3h0m1 1h0m-2 1h0m-5 0h0m5 0h0m16 16h0m-3-7h0m5-4h0m-10-1h0m10-4h0m-3-1h0m-8 0h0m7 0h0m-6 0h0m9-2h0m2 0h0m-5 0h0m-1-1h0m-5 0h0m2-1h0m0 0h0m4 0h0m-2 0h0m0-1h0m-3 0h0m-1 0h0m8-85h0m-5-4h0m5-3h0m-5-1h0m11 3h0m7 7h0m-10 4h0m2 1h0m2 4h0m4 2h0m-3 1h0m-2 0h0m6 1h0m2 5h0m1 2h0m-11 66h0m1 1h0m5 1h0m0 0h0m2 2h0m-3 0h0m4 2h0m10 13h0m-4-2h0m1-8h0m0-2h0m-2-1h0m-1-2h0m9 0h0m-3-1h0m-1 0h0m-1 0h0m5-54h0m-3 0h0m3-1h0m-5 0h0m1-1h0m-2-2h0m-1 0h0m2-2h0m0-1h0m-2-1h0m-3-1h0m3-1h0m6-1h0m12-1h0m-10 4h0m4 7h0m3 2h0m-5 0h0m0 4h0m0 1h0m3 3h0m4 0h0m2 7h0m1 37h0m-3 2h0m-2 0h0m-1 0h0m1 1h0m-6 0h0m-1 0h0m1 1h0m6 1h0m1 1h0m-4 0h0m1 1h0m1 1h0m-2 1h0m0 2h0m12-1h0m3-5h0m-4-1h0m-3-2h0m8 0h0m-4 0h0m3-1h0m-3 0h0m2-1h0m0-1h0m5-1h0m0-24h0m-3-1h0m0 0h0m-1-1h0m0-1h0m0-1h0m-1-2h0m2 0h0m2-1h0m-8-1h0m-1-1h0m9-2h0m-5-1h0m-5-1h0m6-2h0m-5-16h0m13 13h0m7 1h0m-7 5h0m7 4h0m-1 0h0m-5 2h0m-3 0h0m3 2h0m1 1h0m-3 0h0m4 1h0m4 1h0m-6 2h0m4 1h0m-3 0h0m-3 4h0m-1 1h0m5 0h0m5 2h0m0 0h0m-10 1h0m0 1h0m1 2h0m9 0h0m-10 0h0m6 2h0m0 2h0m5 3h0m-7 1h0m1 0h0m5 1h0m-6 0h0m-4 3h0m3 6h0m7 0h0m-6 0h0m4 6h0m9-4h0m-1 0h0m2 0h0m-5-24h0m4-4h0m3-11h0m15 12h0m-5 1h0m6 8h0m-2 3h0m4 4h0" stroke="#f00" class="dt"/>
<path transform="scale(.5)" d="M393 625h0m-3 4h0m5 3h0m-4 1h0m5 1h0m11 36h0m-5-3h0m6-5h0m-1-5h0m-1-3h0m1 0h0m-6-2h0m3-1h0m-5-7h0m2 0h0m-2-2h0m-1-3h0m-2-4h0m3-10h0m20-15h0m-7 3h0m-3 1h0m8 0h0m-1 2h0m-8 42h0m0 1h0m3 1h0m0 1h0m3 3h0m-4 1h0m7 3h0m-3 0h0m5 2h0m1 0h0m-4 2h0m-2 2h0m5 3h0m0 4h0m-5 4h0m-3 2h0m5 1h0m2 1h0m-2 0h0m0 1h0m3 9h0m9 6h0m3-5h0m0 0h0m-9-2h0m-1-1h0m8 0h0m1-1h0m-8-3h0m8-1h0m-2-1h0m3-2h0m-7 0h0m7 0h0m-6-4h0m1-1h0m-2-1h0m1-3h0m2-1h0m-3-2h0m-3-2h0m0 0h0m0-1h0m2 0h0m-3-3h0m9-63h0m11 5h0m-7 74h0m0 1h0m0 1h0m1 0h0m-1 3h0m3 0h0m1 1h0m0 1h0m-2 0h0m0 0h0m-2 0h0m5 0h0m-4 1h0m5 2h0m-7 0h0m9 2h0m3 2h0m-3 1h0m-1 0h0m2 1h0m-2 0h0m0 0h0m4 1h0m-7 2h0m-1 0h0m7 1h0m-1 0h0m-1 1h0m3 0h0m-7 1h0m7 2h0m-7 2h0m-5 0h0m11 0h0m-5 1h0m4 1h0m2 4h0m-3 13h0m14 12h0m-7-10h0m-2 0h0m0-4h0m1-1h0m3-2h0m0-1h0m5-3h0m-2 0h0m-1-1h0m1-3h0m-8 0h0m2 0h0m1 0h0m3 0h0m3 0h0m1-1h0m1 0h0m-3-1h0m-7-1h0m6 0h0m-1-1h0m-1-4h0m-2-1h0m1 0h0m0-1h0m-1 0h0m-3-2h0m0-3h0m6-90h0m5-1h0m4 1h0m-2 2h0m0 0h0m5 1h0m-6 102h0m1 3h0m2 0h0m-3 1h0m4 1h0m3 1h0m-2 1h0m0 0h0m4 1h0m1 0h0m0 0h0m-10 1h0m1 1h0m6 0h0m-6 0h0m8 1h0m-2 1h0m-3 0h0m3 0h0m-3 2h0m-3 1h0m0 2h0m9 1h0m-4 6h0m3 2h0m-1 1h0m8 12h0m-3-4h0m0-8h0m8 0h0m1-2h0m-8-2h0m5-1h0m-7-1h0m1 0h0m8 0h0m-4-2h0m-1 0h0m3-1h0m-5 0h0m5 0h0m2-1h0m-4 0h0m-6-1h0m6 0h0m1 0h0m-4-1h0m-2 0h0m5 0h0m-1-1h0m-2-1h0m-2 0h0m2-1h0m-2-1h0m-1-1h0m10-105h0m-6-2h0m11 5h0m3 1h0m-1 5h0m6 0h0m-4 4h0m-1 1h0m4 2h0m-8 100h0m2 1h0m-1 0h0m-1 1h0m2 0h0m8 5h0m0 1h0m-4 0h0m-7 2h0m3 0h0m1 1h0m4 1h0m-6 2h0m6 1h0m-3 4h0m1 2h0m7-6h0m9-1h0m-2 0h0m-2 0h0m4 0h0m-2-1h0m-6-1h0m0 0h0m-1 0h0m7 0h0m1-1h0m-6-1h0m1 0h0m-2-1h0m0 0h0m8-76h0m0-2h0m-2-2h0m2-1h0m0-1h0m-6-7h0m-1-2h0m6-3h0m-6 0h0m-2-3h0m6-5h0m7 11h0m0 3h0m1 2h0m3 11h0m-1 3h0m-2 5h0m1 1h0m5 5h0m1 1h0m-8 65h0m4 0h0m0 0h0m1 1h0m1 0h0m-1 1h0m-2 1h0m4 1h0m-5 0h0m0 1h0m1 0h0m5 10h0m3-6h0m5-4h0m-4-1h0m-2 0h0m8-1h0m2-1h0m-10-1h0m11-52h0m-1 0h0m-3-4h0m1-1h0m3 0h0m-6 0h0m-2-2h0m5-1h0m-7-6h0m-1-5h0m0-2h0m12 9h0m3 5h0m5 3h0m-9 1h0m7 3h0m-1 2h0m1 4h0m-1 2h0m1 0h0m1 0h0m4 3h0m-11 42h0m3 0h0m4 0h0m-3 0h0m4 0h0m-6 2h0m1 1h0m-2 0h0m1 1h0m0 0h0m8 1h0m-10 0h0m7 3h0m-2 6h0m7 1h0m7-11h0m-6-1h0m3-4h0m-1-1h0m-2 0h0m9-1h0m-1-1h0m2-1h0m-5-24h0m3-3h0m-4-2h0m0-1h0m-1-1h0m0-1h0m-5-1h0m10-1h0m-9 0h0m5-1h0m-2 0h0m4-5h0m4-5h0m0 9h0m2 0h0m3 3h0m-3 0h0m3 1h0m-5 4h0m10 2h0m-6 2h0m3 0h0m-4 1h0m-1 1h0m5 1h0m-4 0h0m6 0h0m-8 2h0m8 1h0m-5 1h0m0 1h0m2 2h0m-4 0h0m2 0h0m3 0h0m-4 2h0m-2 0h0m7 1h0m-2 0h0m-3 1h0m1 2h0m0 0h0m-2 0h0m-1 1h0m8 0h0m-5 2h0m-1 1h0m5 0h0m-7 1h0m7 1h0m-4 1h0m3 0h0m-5 0h0m1 1h0m0 1h0m7 0h0m-7 0h0m3 1h0m5 1h0m0 4h0m1 1h0m-12 2h0m4 12h0m9-20h0m2-2h0m3-4h0m4-1h0m-4-8h0m-2-2h0m-2-1h0m5-9h0m-5-1h0m13 14h0m2 6h0m0 14h0m1 0h0m6-25h0" stroke="#f00" class="dt"/>
<path transform="scale(.5)" d="M395 628h0m-4 6h0m5 9h0m8 27h0m2-6h0m-2-3h0m-1-2h0m-2-7h0m0-4h0m-2-7h0m-1-3h0m0-2h0m-1-3h0m1-6h0m3-10h0m9-11h0m2 8h0m3 0h0m1 2h0m-4 0h0m-4 46h0m3 3h0m3 2h0m1 2h0m2 1h0m-7 1h0m6 0h0m-1 9h0m-5 1h0m9 20h0m-5 3h0m18 6h0m-1-13h0m-7 0h0m2-3h0m1-4h0m-5-1h0m5-1h0m4 0h0m-6-1h0m0 0h0m2-1h0m3-2h0m-8-1h0m7 0h0m-4-1h0m3-1h0m-2-1h0m2-1h0m-4-1h0m0-1h0m-2-2h0m-1 0h0m0-3h0m3-60h0m10 74h0m-1 2h0m0 0h0m0 2h0m1 0h0m-1 1h0m4 0h0m-2 1h0m2 1h0m-4 0h0m3 2h0m3 1h0m-7 1h0m8 1h0m0 1h0m-3 0h0m-1 0h0m-3 1h0m9 0h0m-7 1h0m0 1h0m7 0h0m-2 1h0m-6 1h0m8 0h0m2 2h0m-2 0h0m0 0h0m-5 0h0m6 1h0m-2 3h0m1 4h0m1 2h0m-2 2h0m-2 11h0m16 14h0m1-6h0m-4-6h0m2 0h0m-6 0h0m0-1h0m5-1h0m2-5h0m0 0h0m-11-2h0m4 0h0m-2 0h0m7-1h0m-6-2h0m3 0h0m3-1h0m3 0h0m-11 0h0m8 0h0m-9-1h0m9 0h0m-1-2h0m-7 0h0m3 0h0m2 0h0m4 0h0m-8 0h0m4-1h0m1 0h0m2 0h0m0 0h0m-2-1h0m-6-1h0m3-2h0m-2-1h0m1-1h0m-2-2h0m-1-1h0m9-91h0m4 0h0m2 2h0m6 2h0m-9 101h0m5 3h0m0 3h0m-4 0h0m2 1h0m7 0h0m-7 0h0m1 0h0m-3 3h0m6 0h0m0 0h0m4 0h0m-5 1h0m4 0h0m2 2h0m-8 1h0m2 3h0m1 4h0m-3 0h0m2 1h0m-2 0h0m-2 2h0m3 6h0m3 2h0m14-8h0m-4-1h0m4-1h0m-2 0h0m-5 0h0m4 0h0m5-1h0m-3-1h0m0-1h0m-1-1h0m1-1h0m-3-1h0m-5 0h0m7 0h0m-3-1h0m-4 0h0m-1-1h0m4 0h0m-3 0h0m2 0h0m1-1h0m-3 0h0m-1-1h0m1-1h0m-1-2h0m2-109h0m14 14h0m-1 0h0m6 4h0m-7 103h0m-1 1h0m4 1h0m2 2h0m-2 0h0m1 1h0m3 0h0m-3 1h0m-5 0h0m7 0h0m-5 3h0m9 1h0m0 1h0m-1 2h0m0 3h0m8 8h0m2-3h0m1-7h0m-3-1h0m-1 0h0m2 0h0m-2-1h0m0 0h0m-4-1h0m4 0h0m3 0h0m-4 0h0m2 0h0m-5-1h0m0-1h0m9-76h0m0 0h0m-3-6h0m-3-6h0m3 0h0m-4-2h0m-3-6h0m6-5h0m-7-4h0m14 18h0m4 5h0m2 3h0m-8 0h0m1 2h0m0 0h0m2 1h0m8 2h0m-8 4h0m4 1h0m3 1h0m1 1h0m-3 4h0m3 1h0m-2 0h0m-1 1h0m2 0h0m-1 1h0m2 3h0m1 0h0m-12 60h0m6 3h0m2 1h0m2 0h0m-1 0h0m-3 1h0m-1 0h0m7 2h0m-6 0h0m3 1h0m-8 1h0m11 1h0m-7 0h0m-4 1h0m2 0h0m11 1h0m10-3h0m-5-1h0m1-2h0m3-1h0m-1 0h0m-5-1h0m2 0h0m-2-1h0m5-52h0m2 0h0m-4-5h0m-3-1h0m2 0h0m0 0h0m-2-1h0m-3-4h0m-1 0h0m2-1h0m2-2h0m-2-4h0m2 0h0m7 6h0m2 2h0m-1 8h0m3 2h0m-2 0h0m0 1h0m2 1h0m-4 0h0m2 1h0m0 0h0m8 7h0m0 3h0m1 0h0m1 2h0m0 36h0m-6 2h0m-1 1h0m6 0h0m-9 2h0m0 7h0m10 4h0m4-8h0m8-1h0m-7-1h0m5 0h0m-6 0h0m-2-1h0m10 0h0m-7-1h0m7-2h0m-11 0h0m10-2h0m-4 0h0m-1-1h0m5-1h0m-1 0h0m0 0h0m1-16h0m1-1h0m-1-5h0m-2 0h0m2-4h0m-5 0h0m-1-1h0m2-3h0m-3 0h0m1 0h0m0-1h0m-4-1h0m10-1h0m-8-1h0m-2-1h0m8-1h0m0 0h0m-4-1h0m-4-3h0m10-1h0m-7-4h0m3-3h0m6 7h0m0 7h0m9 3h0m-5 2h0m5 0h0m-4 1h0m-3 3h0m0 0h0m7 2h0m-7 1h0m0 1h0m-1 4h0m1 0h0m5 2h0m-6 1h0m1 1h0m2 0h0m4 1h0m-8 1h0m0 1h0m6 0h0m-2 1h0m-3 1h0m7 1h0m-5 0h0m-2 0h0m2 2h0m3 1h0m0 1h0m1 1h0m-7 1h0m0 1h0m0 0h0m8 2h0m-6 0h0m5 0h0m1 0h0m-7 1h0m-2 0h0m1 0h0m6 1h0m-4 2h0m-3 2h0m2 7h0m12-8h0m4-5h0m-5-1h0m-1-3h0m0-4h0m5-5h0m-1 0h0m0-1h0m-2-2h0m2-2h0m1-1h0m-1 0h0m-4-13h0m11-5h0m2 13h0m4 16h0" stroke="#f00" class="dt"/>
<path transform="scale(.5)" d="M393 620h0m15 47h0m-2-2h0m-8-11h0m7 0h0m-4-2h0m1-1h0m1-1h0m-2-5h0m-2-5h0m-1-15h0m-1-2h0m8-4h0m2 0h0m-1-1h0m-1-2h0m-1-1h0m15-1h0m-10 1h0m11 0h0m-9 1h0m-3 0h0m3 46h0m3 0h0m-1 1h0m1 0h0m-2 2h0m1 2h0m4 1h0m-3 0h0m4 0h0m-7 1h0m-1 0h0m4 0h0m4 2h0m-1 2h0m2 1h0m-2 0h0m-4 1h0m-4 2h0m10 2h0m-6 13h0m19 22h0m-3-1h0m-3-6h0m6-5h0m-1-1h0m0-5h0m-3-1h0m3 0h0m-8-3h0m4 0h0m3-3h0m0 0h0m-6 0h0m7-3h0m1-2h0m-5 0h0m2 0h0m-3 0h0m1-1h0m3 0h0m0-1h0m-4-1h0m2 0h0m-5-2h0m-1-1h0m2 0h0m1-2h0m-5 0h0m1-1h0m0-3h0m3-60h0m0-1h0m0-3h0m10 1h0m2 2h0m-3 76h0m-1 4h0m2 0h0m1 1h0m1 1h0m0 1h0m-3 2h0m6 0h0m1 1h0m0 0h0m-3 0h0m5 2h0m-2 1h0m3 0h0m-2 1h0m-4 1h0m4 0h0m3 0h0m-8 0h0m2 1h0m3 1h0m-6 1h0m4 1h0m3 0h0m-3 3h0m-2 0h0m-2 2h0m8 2h0m-2 1h0m-6 0h0m9 5h0m-1 1h0m0 6h0m-5 6h0m16 6h0m-1-2h0m2-2h0m1 0h0m-10-3h0m0-1h0m2-1h0m7-3h0m-7 0h0m1 0h0m6-1h0m-4-1h0m5-1h0m-2-1h0m-3 0h0m-6-1h0m2 0h0m6 0h0m1-1h0m-1-3h0m-3-1h0m0-1h0m1 0h0m-6-1h0m3-2h0m1 0h0m1 0h0m-4 0h0m-1 0h0m5-2h0m0 0h0m-1-1h0m-1-1h0m-3-2h0m1-1h0m-1-1h0m0 0h0m3-93h0m1-1h0m8 108h0m0 2h0m1 0h0m1 1h0m1 0h0m-1 1h0m0 0h0m0 1h0m4 3h0m-3 1h0m4 3h0m2 1h0m-6 0h0m1 1h0m0 1h0m-3 1h0m0 0h0m1 0h0m3 0h0m6 1h0m-10 1h0m7 2h0m0 0h0m3 3h0m-8 0h0m0 7h0m2 0h0m16 7h0m0-5h0m-9-5h0m9-1h0m-2 0h0m3-2h0m-2 0h0m3-2h0m0 0h0m-1 0h0m-6-2h0m2 0h0m1-2h0m-3-1h0m-1 0h0m2 0h0m-1-1h0m-1 0h0m-4-1h0m1 0h0m2-1h0m4-110h0m-4-2h0m10-1h0m8 10h0m-6 5h0m2 0h0m1 4h0m5 12h0m-11 88h0m2 2h0m0 2h0m2 0h0m1 0h0m-4 0h0m3 0h0m-3 1h0m2 0h0m-1 1h0m3 0h0m3 0h0m-6 1h0m3 1h0m4 0h0m-4 0h0m4 1h0m0 1h0m-4 2h0m-1 1h0m-2 1h0m0 0h0m7 1h0m-1 3h0m2 1h0m-8 4h0m19-5h0m-1 0h0m2 0h0m-5-1h0m4 0h0m-9-1h0m12 0h0m-8-1h0m8 0h0m-1-1h0m-2-1h0m-7 0h0m4 0h0m4 0h0m-5 0h0m-3-1h0m3-1h0m-2 0h0m-2 0h0m-1-1h0m8-81h0m0-1h0m1 0h0m-2-1h0m0-11h0m1-4h0m-4-5h0m14 28h0m3 1h0m-5 5h0m7 11h0m-6 64h0m3 0h0m0 1h0m0 1h0m-6 3h0m6 2h0m1 1h0m-6 0h0m-3 0h0m12 0h0m10 0h0m-2-1h0m1-2h0m1-1h0m-7 0h0m1 0h0m-4-1h0m12-1h0m-2-54h0m-3-1h0m1-1h0m0-2h0m-4-3h0m-2-1h0m3-2h0m5-1h0m-8-3h0m2-2h0m-3-2h0m2 0h0m9-6h0m0 16h0m6 0h0m-1 1h0m6 4h0m-11 2h0m3 1h0m5 1h0m-3 0h0m6 1h0m-5 2h0m0 3h0m4 2h0m-2 1h0m4 3h0m-2 40h0m-3 1h0m-6 1h0m9 1h0m1 0h0m-8 1h0m0 1h0m7 0h0m0 2h0m-1 2h0m-9 0h0m8 0h0m-1 1h0m11 1h0m-3-7h0m4-2h0m-2-1h0m-4-1h0m1 0h0m3-1h0m5-2h0m-2 0h0m4-15h0m-1-8h0m-4-2h0m2-1h0m-3 0h0m0-1h0m-1-1h0m1 0h0m2 0h0m-1-2h0m-1 0h0m-3 0h0m-3-4h0m9-2h0m-5 0h0m4-2h0m-4-1h0m-1-2h0m-1 0h0m17-4h0m1 6h0m-5 3h0m-2 0h0m9 1h0m-2 5h0m-1 0h0m-1 2h0m-5 2h0m0 0h0m3 2h0m-1 1h0m4 1h0m-6 1h0m0 2h0m0 1h0m0 1h0m9 0h0m-2 0h0m-7 3h0m9 1h0m-10 1h0m9 1h0m-1 0h0m3 0h0m-6 1h0m0 1h0m2 0h0m-1 1h0m0 0h0m-3 3h0m-2 0h0m8 3h0m-6 2h0m7 1h0m-8 0h0m7 0h0m-8 2h0m3 2h0m-3 1h0m3 1h0m-1 3h0m9 5h0m3-3h0m-3-3h0m1-12h0m4-6h0m-3-3h0m-1-2h0m18-3h0m7 19h0" stroke="#f00" class="dt"/>
<path d="M168.5 246.9L168.5 255.2L165.4 256.7L159.7 262.4L154.0 268.6L148.9 274.7L146.3 282.0L144.2 287.6L140.1 293.3L137.7 299.5L137.5 307.7L138.6 316.0L140.6 324.2L146.8 333.5L149.9 342.8L150.9 346.2L155.6 354.4L156.1 364.7L161.2 376.1L165.4 384.8L175.2 392.1L178.2 384.8L187.5 375.6L186.5 364.7L186.0 354.4L189.1 346.2L189.6 342.8L190.6 332.5L188.6 322.2L186.0 314.9L188.0 305.7L187.5 301.5L186.0 291.2L184.4 279.9L183.9 270.6L184.9 260.3L184.9 246.9Z" fill="#fff" shape-rendering="crispEdges"/>
<g shape-rendering="crispEdges"><rect x="130.5" y="280.2" width="10" height="10" fill="#f6f6ff" fill-opacity="0.03"/><rect x="130.5" y="290.2" width="10" height="10" fill="#e8e8ff" fill-opacity="0.09"/><rect x="130.5" y="300.2" width="10" height="10" fill="#dfdfff" fill-opacity="0.13"/><rect x="130.5" y="310.2" width="10" height="10" fill="#e5e5ff" fill-opacity="0.10"/><rect x="130.5" y="320.2" width="10" height="10" fill="#efefff" fill-opacity="0.06"/><rect x="140.5" y="260.2" width="10" height="10" fill="#f7f7ff" fill-opacity="0.03"/><rect x="140.5" y="270.2" width="10" height="10" fill="#e5e5ff" fill-opacity="0.10"/><rect x="140.5" y="280.2" width="10" height="10" fill="#b7b7ff" fill-opacity="0.28"/><rect x="140.5" y="290.2" width="10" height="10" fill="#7a7aff" fill-opacity="0.52"/><rect x="140.5" y="300.2" width="10" height="10" fill="#6868ff" fill-opacity="0.59"/><rect x="140.5" y="310.2" width="10" height="10" fill="#8d8dff" fill-opacity="0.45"/><rect x="140.5" y="320.2" width="10" height="10" fill="#b6b6ff" fill-opacity="0.29"/><rect x="140.5" y="330.2" width="10" height="10" fill="#ddddff" fill-opacity="0.13"/><rect x="140.5" y="340.2" width="10" height="10" fill="#ededff" fill-opacity="0.07"/><rect x="140.5" y="350.2" width="10" height="10" fill="#f7f7ff" fill-opacity="0.03"/><rect x="150.5" y="250.2" width="10" height="10" fill="#f6f6ff" fill-opacity="0.04"/><rect x="150.5" y="260.2" width="10" height="10" fill="#d6d6ff" fill-opacity="0.16"/><rect x="150.5" y="270.2" width="10" height="10" fill="#7272ff" fill-opacity="0.55"/><rect x="150.5" y="280.2" width="10" height="10" fill="#4040ff" fill-opacity="0.75"/><rect x="150.5" y="290.2" width="10" height="10" fill="#2626ff" fill-opacity="0.85"/><rect x="150.5" y="300.2" width="10" height="10" fill="#4d4dff" fill-opacity="0.70"/><rect x="150.5" y="310.2" width="10" height="10" fill="#6666ff" fill-opacity="0.60"/><rect x="150.5" y="320.2" width="10" height="10" fill="#6767ff" fill-opacity="0.60"/><rect x="150.5" y="330.2" width="10" height="10" fill="#9797ff" fill-opacity="0.41"/><rect x="150.5" y="340.2" width="10" height="10" fill="#b3b3ff" fill-opacity="0.30"/><rect x="150.5" y="350.2" width="10" height="10" fill="#d3d3ff" fill-opacity="0.17"/><rect x="150.5" y="360.2" width="10" height="10" fill="#dbdbff" fill-opacity="0.14"/><rect x="150.5" y="370.2" width="10" height="10" fill="#ededff" fill-opacity="0.07"/><rect x="150.5" y="380.2" width="10" height="10" fill="#f7f7ff" fill-opacity="0.03"/><rect x="160.5" y="250.2" width="10" height="10" fill="#d8d8ff" fill-opacity="0.15"/><rect x="160.5" y="260.2" width="10" height="10" fill="#6767ff" fill-opacity="0.59"/><rect x="160.5" y="270.2" width="10" height="10" fill="#2626ff" fill-opacity="0.85"/><rect x="160.5" y="280.2" width="10" height="10" fill="#0000ff" fill-opacity="1.00"/><rect x="160.5" y="290.2" width="10" height="10" fill="#2626ff" fill-opacity="0.85"/><rect x="160.5" y="300.2" width="10" height="10" fill="#6666ff" fill-opacity="0.60"/><rect x="160.5" y="310.2" width="10" height="10" fill="#7373ff" fill-opacity="0.55"/><rect x="160.5" y="320.2" width="10" height="10" fill="#5d5dff" fill-opacity="0.63"/><rect x="160.5" y="330.2" width="10" height="10" fill="#7575ff" fill-opacity="0.54"/><rect x="160.5" y="340.2" width="10" height="10" fill="#8989ff" fill-opacity="0.46"/><rect x="160.5" y="350.2" width="10" height="10" fill="#a2a2ff" fill-opacity="0.37"/><rect x="160.5" y="360.2" width="10" height="10" fill="#aeaeff" fill-opacity="0.32"/><rect x="160.5" y="370.2" width="10" height="10" fill="#c1c1ff" fill-opacity="0.24"/><rect x="160.5" y="380.2" width="10" height="10" fill="#d9d9ff" fill-opacity="0.15"/><rect x="160.5" y="390.2" width="10" height="10" fill="#f6f6ff" fill-opacity="0.04"/><rect x="170.5" y="250.2" width="10" height="10" fill="#a3a3ff" fill-opacity="0.36"/><rect x="170.5" y="260.2" width="10" height="10" fill="#5757ff" fill-opacity="0.66"/><rect x="170.5" y="270.2" width="10" height="10" fill="#5858ff" fill-opacity="0.65"/><rect x="170.5" y="280.2" width="10" height="10" fill="#5d5dff" fill-opacity="0.63"/><rect x="170.5" y="290.2" width="10" height="10" fill="#5858ff" fill-opacity="0.65"/><rect x="170.5" y="300.2" width="10" height="10" fill="#7474ff" fill-opacity="0.55"/><rect x="170.5" y="310.2" width="10" height="10" fill="#8383ff" fill-opacity="0.49"/><rect x="170.5" y="320.2" width="10" height="10" fill="#8383ff" fill-opacity="0.49"/><rect x="170.5" y="330.2" width="10" height="10" fill="#8484ff" fill-opacity="0.48"/><rect x="170.5" y="340.2" width="10" height="10" fill="#8e8eff" fill-opacity="0.44"/><rect x="170.5" y="350.2" width="10" height="10" fill="#9696ff" fill-opacity="0.41"/><rect x="170.5" y="360.2" width="10" height="10" fill="#9999ff" fill-opacity="0.40"/><rect x="170.5" y="370.2" width="10" height="10" fill="#afafff" fill-opacity="0.31"/><rect x="170.5" y="380.2" width="10" height="10" fill="#ccccff" fill-opacity="0.20"/><rect x="170.5" y="390.2" width="10" height="10" fill="#eaeaff" fill-opacity="0.08"/><rect x="180.5" y="250.2" width="10" height="10" fill="#d7d7ff" fill-opacity="0.16"/><rect x="180.5" y="260.2" width="10" height="10" fill="#d5d5ff" fill-opacity="0.16"/><rect x="180.5" y="270.2" width="10" height="10" fill="#d8d8ff" fill-opacity="0.15"/><rect x="180.5" y="280.2" width="10" height="10" fill="#d2d2ff" fill-opacity="0.18"/><rect x="180.5" y="290.2" width="10" height="10" fill="#c6c6ff" fill-opacity="0.22"/><rect x="180.5" y="300.2" width="10" height="10" fill="#c4c4ff" fill-opacity="0.23"/><rect x="180.5" y="310.2" width="10" height="10" fill="#ccccff" fill-opacity="0.20"/><rect x="180.5" y="320.2" width="10" height="10" fill="#bdbdff" fill-opacity="0.26"/><rect x="180.5" y="330.2" width="10" height="10" fill="#b6b6ff" fill-opacity="0.29"/><rect x="180.5" y="340.2" width="10" height="10" fill="#bebeff" fill-opacity="0.25"/><rect x="180.5" y="350.2" width="10" height="10" fill="#cfcfff" fill-opacity="0.19"/><rect x="180.5" y="360.2" width="10" height="10" fill="#cdcdff" fill-opacity="0.20"/><rect x="180.5" y="370.2" width="10" height="10" fill="#cfcfff" fill-opacity="0.19"/><rect x="180.5" y="380.2" width="10" height="10" fill="#efefff" fill-opacity="0.06"/><rect x="190.5" y="290.2" width="10" height="10" fill="#f7f7ff" fill-opacity="0.03"/><rect x="190.5" y="300.2" width="10" height="10" fill="#f5f5ff" fill-opacity="0.04"/><rect x="190.5" y="310.2" width="10" height="10" fill="#f7f7ff" fill-opacity="0.03"/><rect x="190.5" y="320.2" width="10" height="10" fill="#f1f1ff" fill-opacity="0.05"/><rect x="190.5" y="330.2" width="10" height="10" fill="#eeeeff" fill-opacity="0.07"/><rect x="190.5" y="340.2" width="10" height="10" fill="#f1f1ff" fill-opacity="0.05"/><rect x="190.5" y="350.2" width="10" height="10" fill="#f7f7ff" fill-opacity="0.03"/><rect x="190.5" y="360.2" width="10" height="10" fill="#f7f7ff" fill-opacity="0.03"/><rect x="190.5" y="370.2" width="10" height="10" fill="#f6f6ff" fill-opacity="0.04"/></g>
<path d="M197.9 314.9L203.6 309.3L212.7 307.0L225.2 307.0L235.4 310.4L240.5 314.9L244.4 324.0L249.0 332.0L252.9 339.9L259.2 347.8L267.1 355.8L274.5 364.8L276.8 375.1L267.1 377.9L256.9 377.3L246.7 373.9L237.6 367.1L228.6 359.2L222.9 352.4L217.2 343.3L209.3 334.2L202.5 325.2L199.6 319.5Z" fill="#fff" shape-rendering="crispEdges"/>
<g shape-rendering="crispEdges"><rect x="190.5" y="310.2" width="10" height="10" fill="#ffebeb" fill-opacity="0.08"/><rect x="190.5" y="320.2" width="10" height="10" fill="#fff4f4" fill-opacity="0.04"/><rect x="200.5" y="300.2" width="10" height="10" fill="#ffecec" fill-opacity="0.07"/><rect x="200.5" y="310.2" width="10" height="10" fill="#ffafaf" fill-opacity="0.32"/><rect x="200.5" y="320.2" width="10" height="10" fill="#ffc6c6" fill-opacity="0.22"/><rect x="200.5" y="330.2" width="10" height="10" fill="#ffeded" fill-opacity="0.07"/><rect x="210.5" y="300.2" width="10" height="10" fill="#ffe3e3" fill-opacity="0.11"/><rect x="210.5" y="310.2" width="10" height="10" fill="#ff6a6a" fill-opacity="0.58"/><rect x="210.5" y="320.2" width="10" height="10" fill="#ff6969" fill-opacity="0.59"/><rect x="210.5" y="330.2" width="10" height="10" fill="#ffb8b8" fill-opacity="0.28"/><rect x="210.5" y="340.2" width="10" height="10" fill="#ffe8e8" fill-opacity="0.09"/><rect x="210.5" y="350.2" width="10" height="10" fill="#fff7f7" fill-opacity="0.03"/><rect x="220.5" y="300.2" width="10" height="10" fill="#ffe5e5" fill-opacity="0.10"/><rect x="220.5" y="310.2" width="10" height="10" fill="#ff6161" fill-opacity="0.62"/><rect x="220.5" y="320.2" width="10" height="10" fill="#ff0000" fill-opacity="1.00"/><rect x="220.5" y="330.2" width="10" height="10" fill="#ff6464" fill-opacity="0.61"/><rect x="220.5" y="340.2" width="10" height="10" fill="#ffb0b0" fill-opacity="0.31"/><rect x="220.5" y="350.2" width="10" height="10" fill="#ffdbdb" fill-opacity="0.14"/><rect x="220.5" y="360.2" width="10" height="10" fill="#fff5f5" fill-opacity="0.04"/><rect x="230.5" y="300.2" width="10" height="10" fill="#fff1f1" fill-opacity="0.05"/><rect x="230.5" y="310.2" width="10" height="10" fill="#ffa9a9" fill-opacity="0.34"/><rect x="230.5" y="320.2" width="10" height="10" fill="#ff6565" fill-opacity="0.60"/><rect x="230.5" y="330.2" width="10" height="10" fill="#ff6868" fill-opacity="0.59"/><rect x="230.5" y="340.2" width="10" height="10" fill="#ff8e8e" fill-opacity="0.44"/><rect x="230.5" y="350.2" width="10" height="10" fill="#ffb5b5" fill-opacity="0.29"/><rect x="230.5" y="360.2" width="10" height="10" fill="#ffdbdb" fill-opacity="0.14"/><rect x="230.5" y="370.2" width="10" height="10" fill="#fff7f7" fill-opacity="0.03"/><rect x="240.5" y="310.2" width="10" height="10" fill="#fff0f0" fill-opacity="0.06"/><rect x="240.5" y="320.2" width="10" height="10" fill="#ffd5d5" fill-opacity="0.17"/><rect x="240.5" y="330.2" width="10" height="10" fill="#ffabab" fill-opacity="0.33"/><rect x="240.5" y="340.2" width="10" height="10" fill="#ff9898" fill-opacity="0.40"/><rect x="240.5" y="350.2" width="10" height="10" fill="#ff9a9a" fill-opacity="0.39"/><rect x="240.5" y="360.2" width="10" height="10" fill="#ffb1b1" fill-opacity="0.31"/><rect x="240.5" y="370.2" width="10" height="10" fill="#ffe6e6" fill-opacity="0.10"/><rect x="250.5" y="330.2" width="10" height="10" fill="#ffefef" fill-opacity="0.06"/><rect x="250.5" y="340.2" width="10" height="10" fill="#ffd0d0" fill-opacity="0.18"/><rect x="250.5" y="350.2" width="10" height="10" fill="#ffa7a7" fill-opacity="0.35"/><rect x="250.5" y="360.2" width="10" height="10" fill="#ffa4a4" fill-opacity="0.36"/><rect x="250.5" y="370.2" width="10" height="10" fill="#ffd2d2" fill-opacity="0.18"/><rect x="260.5" y="340.2" width="10" height="10" fill="#fff4f4" fill-opacity="0.04"/><rect x="260.5" y="350.2" width="10" height="10" fill="#ffd5d5" fill-opacity="0.17"/><rect x="260.5" y="360.2" width="10" height="10" fill="#ffaeae" fill-opacity="0.32"/><rect x="260.5" y="370.2" width="10" height="10" fill="#ffd0d0" fill-opacity="0.18"/><rect x="260.5" y="380.2" width="10" height="10" fill="#fff7f7" fill-opacity="0.03"/><rect x="270.5" y="350.2" width="10" height="10" fill="#fff6f6" fill-opacity="0.04"/><rect x="270.5" y="360.2" width="10" height="10" fill="#ffe2e2" fill-opacity="0.11"/><rect x="270.5" y="370.2" width="10" height="10" fill="#ffe0e0" fill-opacity="0.12"/></g>
<path d="M168.5 246.9L168.5 255.2L165.4 256.7L159.7 262.4L154.0 268.6L148.9 274.7L146.3 282.0L144.2 287.6L140.1 293.3L137.7 299.5L137.5 307.7L138.6 316.0L140.6 324.2L146.8 333.5L149.9 342.8L150.9 346.2L155.6 354.4L156.1 364.7L161.2 376.1L165.4 384.8L175.2 392.1L178.2 384.8L187.5 375.6L186.5 364.7L186.0 354.4L189.1 346.2L189.6 342.8L190.6 332.5L188.6 322.2L186.0 314.9L188.0 305.7L187.5 301.5L186.0 291.2L184.4 279.9L183.9 270.6L184.9 260.3L184.9 246.9ZM174.6 255.7L165.4 261.3L159.7 267.0L153.0 274.7L147.8 282.0L145.3 291.2L143.2 298.5L141.6 304.6L144.2 313.9L147.8 322.2L154.0 332.5L158.1 342.8L161.2 347.2L164.8 352.9L169.3 354.9L170.0 364.7L174.6 370.4L177.0 365.8L177.0 354.4L178.8 346.2L178.8 345.9L180.8 335.6L179.3 324.2L177.7 313.9L178.8 305.7L181.3 295.4L179.8 284.0L180.3 275.8L181.3 264.4ZM176.2 262.4L171.5 263.9L165.4 265.5L160.2 271.6L153.0 280.9L148.4 289.2L146.3 298.5L145.8 304.6L149.4 312.9L155.1 323.7L164.8 324.7L169.5 313.9L172.6 303.6L176.2 294.3L174.6 284.0L175.7 274.7L177.2 265.5ZM164.5 274.2L162.1 284.0L164.5 292.3L167.2 284.0Z" class="cb"/>
<path d="M197.9 314.9L203.6 309.3L212.7 307.0L225.2 307.0L235.4 310.4L240.5 314.9L244.4 324.0L249.0 332.0L252.9 339.9L259.2 347.8L267.1 355.8L274.5 364.8L276.8 375.1L267.1 377.9L256.9 377.3L246.7 373.9L237.6 367.1L228.6 359.2L222.9 352.4L217.2 343.3L209.3 334.2L202.5 325.2L199.6 319.5ZM204.2 315.5L209.3 312.1L217.2 309.3L227.4 309.8L235.4 313.8L239.9 319.5L243.3 327.4L246.7 337.6L251.2 346.7L258.0 354.6L267.7 364.3L264.8 368.2L256.9 369.9L250.1 367.7L244.4 364.8L240.5 359.2L238.2 355.2L235.4 353.5L227.4 346.7L220.6 338.8L213.8 330.8L207.0 322.9ZM213.8 314.9L226.3 314.4L235.4 324.0L236.5 334.8L224.0 335.4L215.5 325.2ZM222.9 322.3L226.9 322.3L226.9 327.4L222.9 327.4Z" class="cr"/>
</g>
<rect x="100.5" y="250.5" width="200" height="200" class="fr"/>
<path d="M120.5 450.5 v5" class="tk"/>
<path d="M161.4 450.5 v5" class="tk"/>
<path d="M201.5 450.5 v5" class="tk"/>
<path d="M241.5 450.5 v5" class="tk"/>
<path d="M281.6 450.5 v5" class="tk"/>
<path d="M100.5 414.5 h-5" class="tk"/>
<path d="M100.5 365.5 h-5" class="tk"/>
<path d="M100.5 316.5 h-5" class="tk"/>
<path d="M100.5 267.5 h-5" class="tk"/>
<g clip-path="url(#c11)">
<path d="M346.5 250.5 V450.5" class="gr"/>
<path d="M395.5 250.5 V450.5" class="gr"/>
<path d="M444.5 250.5 V450.5" class="gr"/>
<path d="M493.5 250.5 V450.5" class="gr"/>
<path d="M310.5 282.5 H510.5" class="gr"/>
<path d="M310.5 324.5 H510.5" class="gr"/>
<path d="M310.5 366.5 H510.5" class="gr"/>
<path d="M310.5 408.5 H510.5" class="gr"/>
<path d="M310.5 450.5 L310.5 449.5 L320.5 449.5 L320.5 448.2 L330.5 448.2 L330.5 445.3 L340.5 445.3 L340.5 443.3 L350.5 443.3 L350.5 440.6 L360.5 440.6 L360.5 437.3 L370.5 437.3 L370.5 431.2 L380.5 431.2 L380.5 420.5 L390.5 420.5 L390.5 414.3 L400.5 414.3 L400.5 411.4 L410.5 411.4 L410.5 398.7 L420.5 398.7 L420.5 393.3 L430.5 393.3 L430.5 380.4 L440.5 380.4 L440.5 371.3 L450.5 371.3 L450.5 355.4 L460.5 355.4 L460.5 344.3 L470.5 344.3 L470.5 356.4 L480.5 356.4 L480.5 382.4 L490.5 382.4 L490.5 408.1 L500.5 408.1 L500.5 431.4 L510.5 431.4 L510.5 450.5" class="hb"/>
<path d="M310.5 450.5 L310.5 450.5 L320.5 450.5 L320.5 450.5 L330.5 450.5 L330.5 450.5 L340.5 450.5 L340.5 450.5 L350.5 450.5 L350.5 450.5 L360.5 450.5 L360.5 450.5 L370.5 450.5 L370.5 445.8 L380.5 445.8 L380.5 385.4 L390.5 385.4 L390.5 347.3 L400.5 347.3 L400.5 355.4 L410.5 355.4 L410.5 345.3 L420.5 345.3 L420.5 311.2 L430.5 311.2 L430.5 268.4 L440.5 268.4 L440.5 306.5 L450.5 306.5 L450.5 447.0 L460.5 447.0 L460.5 450.5 L470.5 450.5 L470.5 450.5 L480.5 450.5 L480.5 450.5 L490.5 450.5 L490.5 450.5 L500.5 450.5 L500.5 450.5 L510.5 450.5 L510.5 450.5" class="hr"/>
<path d="M403.1 450.5 V250.5" class="dq"/>
<path d="M450.1 450.5 V250.5" class="dq"/>
<path d="M479.3 450.5 V250.5" class="dq"/>
</g>
<rect x="310.5" y="250.5" width="200" height="200" class="fr"/>
<path d="M346.5 450.5 v5" class="tk"/>
<path d="M395.5 450.5 v5" class="tk"/>
<path d="M444.5 450.5 v5" class="tk"/>
<path d="M493.5 450.5 v5" class="tk"/>
<path d="M310.5 282.5 h-5" class="tk"/>
<path d="M310.5 324.5 h-5" class="tk"/>
<path d="M310.5 366.5 h-5" class="tk"/>
<path d="M310.5 408.5 h-5" class="tk"/>
<path d="M310.5 450.4 h-5" class="tk"/>
<g clip-path="url(#c20)">
<path transform="scale(.5)" d="M259 1167h0m3-2h0m10 13h0m2 31h0m0 15h0m1 9h0m-2 6h0m12 22h0m-4-4h0m6-2h0m-5-2h0m4-1h0m0-1h0m-7-44h0m3-2h0m-3-6h0m3-1h0m6-1h0m-12-2h0m1-6h0m7-6h0m3-6h0m-1-6h0m-5-2h0m5-24h0m-1-2h0m9-16h0m-3 7h0m7 9h0m1 3h0m-3 14h0m-7 4h0m7 3h0m-3 2h0m1 5h0m-4 4h0m7 3h0m-3 5h0m0 2h0m-5 1h0m2 1h0m-2 1h0m-1 2h0m2 0h0m0 1h0m-1 68h0m6 6h0m3 23h0m11 6h0m-8-114h0m0-1h0m-1-1h0m2-4h0m5-1h0m2-3h0m-5-1h0m-3-2h0m2-2h0m6 0h0m0-5h0m-6-5h0m7 0h0m-5-5h0m6-3h0m-7-5h0m6-7h0m-6-2h0m8-4h0m8-22h0m0 24h0m-7 3h0m2 6h0m-1 4h0m3 1h0m4 0h0m0 4h0m-3 1h0m-2 2h0m7 1h0m-8 0h0m2 3h0m-1 6h0m-2 4h0m2 121h0m16 23h0m0-22h0m1-3h0m-2-1h0m-6-130h0m4-4h0m3 0h0m0-1h0m3-1h0m0 0h0m-9-3h0m6 0h0m2-1h0m-4-2h0m1 0h0m2-1h0m-2-6h0m0-5h0m2-1h0m-1-3h0m-2-5h0m3-12h0m12 14h0m0 15h0m-1 2h0m-2 5h0m-1 3h0m4 1h0m2 0h0m-7 2h0m19 12h0m-2-3h0m-2-7h0m1-2h0m-6-17h0m11 3h0m-1 9h0m5 7h0m1 3h0m1 3h0m-4 5h0m6 6h0m1 2h0m0 116h0m14-33h0m-1-57h0m0-19h0m-3-9h0m-7-19h0m4-2h0m16 51h0m-8 10h0m5 15h0m-1 54h0" stroke="#00f" class="dt"/>
<path transform="scale(.5)" d="M267 1169h0m1 38h0m4 6h0m2 1h0m-1 2h0m9 38h0m4-3h0m-6-6h0m3-2h0m-6-11h0m1 0h0m0-9h0m0-3h0m-1-11h0m2-3h0m1 0h0m4-6h0m-2-1h0m4-4h0m-4 0h0m3-12h0m1 0h0m-7-7h0m8-3h0m-10-7h0m12-18h0m7 19h0m-4 1h0m3 8h0m-2 0h0m7 5h0m-11 6h0m3 0h0m-3 1h0m0 6h0m4 73h0m2 5h0m15 21h0m1 0h0m-2-3h0m-7-14h0m-1-93h0m-1-7h0m9-8h0m-9-3h0m9-1h0m-7-1h0m-1-1h0m1-1h0m6-2h0m-6-3h0m4-5h0m-1-1h0m-2 0h0m3-4h0m5-8h0m-8-9h0m9-1h0m1-12h0m3 24h0m-4 3h0m0 0h0m1 4h0m7 3h0m0 5h0m-2 1h0m-4 4h0m1 0h0m2 4h0m-5 1h0m1 1h0m-1 0h0m18 130h0m-4-141h0m-2-2h0m10 0h0m-7-1h0m3-1h0m6 0h0m-6-1h0m2-1h0m-6-1h0m4-2h0m0 0h0m2-3h0m-1-7h0m-6-3h0m5-3h0m-3-5h0m13-21h0m3 11h0m3 13h0m-6 12h0m2 4h0m-2 2h0m0 4h0m3 0h0m-6 3h0m2 0h0m0 1h0m6 136h0m-1 2h0m-7 0h0m14 11h0m3-5h0m6-131h0m-7-10h0m0-4h0m-2 0h0m7-1h0m-5-1h0m-4-9h0m0-1h0m10-1h0m-10-6h0m10-6h0m-5-12h0m16 19h0m-5 19h0m4 2h0m-5 3h0m-4 6h0m4 0h0m7 0h0m-10 121h0m17-14h0m5-60h0m-3-9h0m-4-11h0m-3-1h0m3-1h0m-3-9h0m8-7h0m-8-7h0m-1-16h0m13 49h0m9 25h0m-3 31h0" stroke="#00f" class="dt"/>
<path transform="scale(.5)" d="M261 1196h0m12-8h0m-2 6h0m-6 5h0m9 5h0m-1 2h0m-1 1h0m4 4h0m-2 1h0m-5 13h0m2 3h0m3 1h0m-5 0h0m3 3h0m10 40h0m2-14h0m-7-2h0m8-5h0m-3-1h0m0-2h0m-6-3h0m4-7h0m-2-13h0m-2-11h0m2-2h0m2-4h0m-4-5h0m6 0h0m-3-5h0m8 0h0m0-1h0m0-2h0m-2-1h0m2-1h0m-9-1h0m10-1h0m0-3h0m-5-12h0m0-3h0m-7-17h0m8-35h0m16-13h0m-5 49h0m1 7h0m-1 2h0m2 3h0m2 0h0m-3 7h0m-2 0h0m-3 1h0m8 2h0m1 0h0m-1 3h0m-7 8h0m-3 1h0m2 72h0m4 15h0m12 6h0m-7-8h0m1-93h0m-1-3h0m9-5h0m0-1h0m-3-6h0m3-2h0m-5-1h0m7-3h0m-10-12h0m2-1h0m4-2h0m-3-2h0m17-10h0m-6 2h0m5 1h0m-3 7h0m2 6h0m-4 7h0m7 1h0m1 1h0m-10 0h0m7 1h0m1 0h0m-9 2h0m5 2h0m-3 4h0m-1 2h0m2 115h0m15 33h0m2-30h0m-7-131h0m4-4h0m0-5h0m-1-5h0m2 0h0m2-1h0m-2 0h0m-5-3h0m15-26h0m-3 4h0m6 21h0m1 0h0m-3 2h0m-4 1h0m5 0h0m-4 1h0m9 2h0m-10 2h0m11 1h0m6 142h0m4-4h0m-1-126h0m-3-3h0m-3-1h0m-2-3h0m-1-5h0m6-4h0m6 4h0m1 3h0m9 1h0m-4 4h0m-1 2h0m1 10h0m5 0h0m-5 2h0m-3 131h0m15-25h0m-1-8h0m7-52h0m-9-22h0m1-1h0m-1-1h0m4-6h0m5-10h0m2 6h0m1 28h0m-1 4h0m1 3h0m12 23h0" stroke="#00f" class="dt"/>
<path transform="scale(.5)" d="M261 1200h0m9-36h0m4 38h0m-1 10h0m2 9h0m0 2h0m-1 4h0m0 22h0m-1 9h0m15 5h0m-3-8h0m-6-6h0m-3-1h0m6 0h0m0-6h0m-3-7h0m0-2h0m-2-17h0m4-9h0m-3-5h0m-1 0h0m7-3h0m-1-5h0m-5-1h0m3-15h0m4-2h0m3-19h0m-5 0h0m12-35h0m1 17h0m-5 28h0m9 1h0m-12 2h0m9 0h0m-5 4h0m6 8h0m0 4h0m-4 1h0m-5 7h0m9 78h0m1 3h0m4 2h0m-2-1h0m4-101h0m4 0h0m-2-2h0m1-5h0m4-4h0m-4-2h0m-2-7h0m-3 0h0m-2-5h0m3-10h0m11-37h0m1 13h0m-4 3h0m2 13h0m4 5h0m-3 8h0m-2 1h0m6 2h0m-3 1h0m-1 0h0m8 6h0m-2 0h0m-6 2h0m8 2h0m-5 2h0m-4 1h0m2 0h0m-3 1h0m0 4h0m-1 2h0m2 122h0m2 3h0m12-139h0m1-1h0m6-1h0m-1-1h0m-2 0h0m2 0h0m-9-2h0m7-1h0m-1 0h0m-2-1h0m6-4h0m-4-3h0m1-4h0m4-5h0m-5-9h0m-5-24h0m21 6h0m-8 29h0m-1 3h0m2 0h0m-2 2h0m-2 5h0m9 0h0m-3 1h0m-5 0h0m11 4h0m-4 1h0m-6 1h0m7 1h0m-3 0h0m-1 1h0m2 1h0m-6 140h0m1 6h0m17-139h0m0 0h0m-3-2h0m7-5h0m-9-3h0m4-1h0m-1-4h0m8-1h0m0 15h0m0 2h0m0 5h0m8 9h0m-3 1h0m6 9h0m-1 84h0m-2 4h0m1 12h0m6 22h0m8-64h0m-3-47h0m-7-12h0m12 32h0m2 15h0m-1 5h0m1 7h0m-2 13h0m9 5h0m-2 11h0m4-61h0" stroke="#00f" class="dt"/>
<path transform="scale(.5)" d="M265 1163h0m5 27h0m-5 1h0m3 24h0m7 2h0m-8 7h0m4 5h0m4 11h0m-3 22h0m12-5h0m-4-21h0m-2-4h0m0-21h0m0-8h0m2-1h0m5-11h0m1-4h0m-8-15h0m9-49h0m12 2h0m-9 24h0m1 23h0m6 7h0m2 2h0m-2 2h0m-4 1h0m4 0h0m-4 1h0m2 1h0m-2 0h0m-1 2h0m3 81h0m-2 9h0m1 30h0m12 7h0m3-1h0m-6-132h0m1-4h0m3 0h0m-5-2h0m7-3h0m2 0h0m0-4h0m-2-4h0m-5-2h0m6-1h0m-7-1h0m6-2h0m1 0h0m-9-4h0m5-5h0m-4-7h0m10-5h0m-4-11h0m9-35h0m-2 48h0m6 1h0m-8 2h0m10 1h0m-7 2h0m5 2h0m-3 2h0m3 5h0m-5 0h0m6 1h0m-5 5h0m-2 1h0m3 0h0m-4 1h0m1 3h0m2 1h0m-2 118h0m3 1h0m13 4h0m-7-2h0m1-130h0m1 0h0m0-4h0m-2-1h0m0 0h0m8 0h0m2-2h0m1-4h0m-2-1h0m1-3h0m-5-4h0m-1-2h0m5-22h0m-5-5h0m10 10h0m1 1h0m8 6h0m-6 13h0m-4 2h0m6 2h0m-4 0h0m-1 2h0m-1 2h0m0 1h0m3 3h0m2 0h0m1 3h0m0 134h0m13-2h0m2-122h0m1 0h0m-3-1h0m3-11h0m-3-1h0m-5-2h0m0-3h0m7-3h0m-6-5h0m11 4h0m3 11h0m-2 5h0m2 0h0m-2 0h0m1 1h0m7 6h0m-10 3h0m8 3h0m-6 1h0m7 3h0m-6 104h0m9-13h0m9-55h0m-3-8h0m3-2h0m-2-7h0m3-2h0m-7-9h0m-2-4h0m7-3h0m-5-4h0m4-29h0m4 101h0" stroke="#00f" class="dt"/>
<path transform="scale(.5)" d="M264 1189h0m10 19h0m-3 9h0m5 2h0m0 2h0m-1 15h0m6 31h0m5-6h0m-5-5h0m-4-5h0m7-1h0m-6-16h0m0-8h0m-1-4h0m0 0h0m0 0h0m-1-15h0m5-3h0m3-10h0m4-1h0m-10-1h0m-1-1h0m7-9h0m-5-11h0m4-5h0m7-44h0m6 7h0m-3 30h0m3 3h0m4 5h0m-2 3h0m-2 2h0m-6 0h0m5 9h0m4 2h0m-8 2h0m3 2h0m-3 1h0m0 5h0m12 103h0m3-16h0m1-107h0m2-6h0m2 0h0m-2-1h0m-1-1h0m4-3h0m-8 0h0m2-1h0m5-2h0m-6-2h0m4 0h0m-5-3h0m3-5h0m1-7h0m4-32h0m-10-8h0m18-13h0m-2 31h0m0 2h0m2 11h0m-3 1h0m3 10h0m0 2h0m2 2h0m-2 0h0m-7 1h0m-1 2h0m6 2h0m1 1h0m1 0h0m-7 0h0m3 4h0m0 1h0m6 0h0m-7 2h0m4 1h0m-5 4h0m1 121h0m4 9h0m0 0h0m8-10h0m-2-128h0m0-2h0m5-3h0m3-1h0m-6-1h0m3-1h0m3 0h0m0 0h0m-3-1h0m6 0h0m-11-1h0m6 0h0m1-1h0m-8-7h0m2-3h0m2-22h0m1-18h0m18 32h0m-1 19h0m0 1h0m0 1h0m-4 2h0m4 1h0m-5 0h0m5 1h0m-2 139h0m13-128h0m-2-4h0m-2-1h0m2-6h0m1-1h0m1-1h0m3-4h0m-11-4h0m2-4h0m5-13h0m-1-11h0m6 22h0m4 20h0m-5 2h0m3 7h0m2 3h0m4 4h0m-6 103h0m9 5h0m10 6h0m2-35h0m0-42h0m-9-20h0m0-1h0m-1-4h0m11 30h0m5 29h0m-3 4h0m-2 28h0" stroke="#00f" class="dt"/>
<path transform="scale(.5)" d="M264 1255h0m-3-78h0m-1-2h0m15 39h0m0 4h0m-3 0h0m3 9h0m1 3h0m-7 6h0m4 1h0m7 18h0m6-3h0m-9-9h0m1-13h0m-2-17h0m3-4h0m-2-1h0m6-6h0m-1-5h0m-1-7h0m-2-10h0m7-1h0m-2-2h0m9-63h0m-2 19h0m4 7h0m-4 11h0m-2 4h0m7 3h0m3 1h0m-5 10h0m1 5h0m-7 8h0m2 0h0m9 0h0m-4 2h0m-5 5h0m7 83h0m-8 2h0m22 26h0m-5-1h0m1-15h0m4 0h0m-8-4h0m1-1h0m-3-2h0m3-97h0m1-2h0m-3 0h0m1 0h0m5-4h0m-1-2h0m4-1h0m-3 0h0m-6-1h0m0 0h0m7-2h0m-1-2h0m-5-7h0m-3-4h0m11-6h0m-10-3h0m10-1h0m-1-18h0m-9-3h0m5-4h0m-3-3h0m-1-10h0m14-15h0m7 33h0m-1 2h0m-7 5h0m7 4h0m-1 11h0m-1 3h0m-2 2h0m3 1h0m-7 8h0m3 5h0m-2 0h0m-1 3h0m0 1h0m0 0h0m12 122h0m-2-134h0m3-2h0m5-3h0m2 0h0m2-1h0m-4-1h0m-7-1h0m5 0h0m-3-3h0m9 0h0m-7-1h0m2-2h0m2-5h0m-4-1h0m4-3h0m-8-13h0m14-7h0m5 6h0m-8 22h0m1 1h0m9 4h0m-8 2h0m4 3h0m1 136h0m-2 2h0m6 1h0m13 13h0m-2-142h0m-1 0h0m-2-3h0m1-1h0m-5-2h0m-1-2h0m3-4h0m6-2h0m-1-9h0m0-2h0m3 7h0m3 29h0m7 4h0m-5 0h0m6 99h0m11-63h0m-3-15h0m3 0h0m-1-3h0m-6-1h0m2-2h0m-2-21h0m-1-11h0m10 48h0m2 3h0m3 47h0" stroke="#00f" class="dt"/>
<path transform="scale(.5)" d="M262 1232h0m1-34h0m-4-2h0m17-36h0m-11 24h0m8 20h0m-1 14h0m4 2h0m-1 5h0m-2 6h0m-5 6h0m-2 14h0m20 38h0m-6-17h0m4-14h0m0-10h0m0-1h0m-1-2h0m-7 0h0m2-29h0m0-1h0m2-9h0m3-2h0m0-3h0m1-1h0m-2-2h0m2-3h0m1-5h0m1-1h0m-9-11h0m3-7h0m0-6h0m-2-21h0m15 7h0m6 8h0m-1 4h0m-6 8h0m4 2h0m2 4h0m1 5h0m0 0h0m-2 1h0m2 1h0m-9 0h0m2 0h0m3 3h0m2 0h0m-8 6h0m-1 68h0m2 8h0m8 10h0m-2 2h0m14 10h0m-9-1h0m0-6h0m3-104h0m-3-1h0m3 0h0m2-3h0m4-2h0m-7-3h0m-1-2h0m3 0h0m-3-5h0m8-4h0m-1-14h0m-2-39h0m17-13h0m-4 32h0m0 7h0m-2 10h0m3 3h0m2 0h0m-7 0h0m4 1h0m-1 2h0m2 2h0m-4 0h0m-2 3h0m-2 1h0m8 1h0m-7 5h0m9 0h0m-9 1h0m0 1h0m4 2h0m-5 6h0m6 114h0m8-129h0m7-5h0m-3-1h0m-3-4h0m-2 0h0m-2-6h0m11-5h0m-9-2h0m3-16h0m-1 0h0m6-19h0m6 42h0m4 6h0m-7 0h0m2 7h0m5 136h0m-6 6h0m21 4h0m-2-138h0m-2-1h0m1-6h0m-6 0h0m3-15h0m0-22h0m18 21h0m-2 16h0m-5 5h0m3 4h0m-2 2h0m-4 1h0m-1 0h0m1 3h0m7 0h0m-2 4h0m2 1h0m1 5h0m1 2h0m2 4h0m-11 128h0m20-17h0m2-45h0m1-38h0m-2-5h0m0-1h0m-8-23h0m5-5h0m9 6h0m0 59h0m-1 3h0" stroke="#00f" class="dt"/>
<path transform="scale(.5)" d="M391 1090h0m1 4h0m4 7h0m-7 26h0m3 28h0m-1 10h0m12 79h0m3-23h0m-7-48h0m2-11h0m-2-10h0m7-2h0m-10 0h0m10-1h0m-1-6h0m2 0h0m1-11h0m-2-4h0m-2 0h0m3-2h0m-2-8h0m3-3h0m-1-1h0m0-7h0m-8-36h0m3-13h0m2-3h0m2-3h0m6-28h0m6 2h0m1 8h0m-2 6h0m1 0h0m-4 4h0m5 2h0m-9 9h0m9 5h0m-6 1h0m0 3h0m2 6h0m-4 4h0m2 0h0m0 6h0m0 6h0m-2 1h0m2 5h0m-5 9h0m4 1h0m-2 6h0m-1 5h0m1 10h0m1 83h0m-1 3h0m5 12h0m3 5h0m11 20h0m-3-5h0m-6-10h0m2-162h0m3-2h0m-5-2h0m8-3h0m-1 0h0m-7-2h0m11-3h0m-6-2h0m0 0h0m3-2h0m4-3h0m-1-1h0m1 0h0m-2-2h0m-7-11h0m8-3h0m0-3h0m-4-4h0m1-10h0m-7-14h0m11-2h0m-1-6h0m-2-6h0m11 11h0m-3 2h0m6 1h0m-4 12h0m-1 1h0m6 4h0m-3 4h0m-1 1h0m2 0h0m-3 0h0m-3 2h0m3 4h0m-3 1h0m0 1h0m-1 0h0m-2 1h0m6 0h0m0 0h0m-3 1h0m1 2h0m-1 0h0m-2 4h0m1 2h0m0 0h0m-1 0h0m-2 7h0m0 1h0m1 3h0m1 170h0m19-1h0m2-5h0m-10-194h0m3-3h0m3 0h0m1-3h0m1 0h0m0-1h0m1 0h0m-8 0h0m4-3h0m6-1h0m-9 0h0m-3-1h0m7 0h0m-2-1h0m2 0h0m3-4h0m-4 0h0m-4-1h0m-2-1h0m10 0h0m-5-1h0m3 0h0m-2-2h0m17-39h0m-7 0h0m2 12h0m0 3h0m3 8h0m2 8h0m-1 6h0m2 1h0m-4 1h0m3 0h0m-10 2h0m9 1h0m0 0h0m-3 1h0m1 1h0m1 0h0m-5 1h0m-1 5h0m-2 1h0m8 191h0m-6 3h0m5 3h0m8-213h0m3-2h0m-6 0h0m0-1h0m7-1h0m0 0h0m-3-1h0m0-1h0m5-2h0m-4-3h0m6 0h0m-9-4h0m2 0h0m0-1h0m12-31h0m-1 3h0m1 1h0m4 1h0m0 2h0m1 3h0m-6 6h0m4 1h0m1 8h0m-8 0h0m6 1h0m-5 3h0m3 2h0m3 0h0m-6 2h0m3 2h0m-2 1h0m9 157h0m-4 12h0m0 12h0m8-16h0m-3-18h0m6-18h0m-5-135h0m3-1h0m-4-4h0m3-1h0m2 0h0m1-1h0m-7-1h0m4-2h0m4-4h0m-1-1h0m1-1h0m-8-6h0m10-3h0m-3-6h0m-6-11h0m21 7h0m-1 12h0m-8 7h0m3 1h0m4 5h0m0 0h0m4 0h0m-7 2h0m-4 1h0m6 120h0m8-10h0m7-8h0m-3-5h0m2-2h0m3-6h0m-12-90h0m4-1h0m0 0h0m-3-1h0m7-1h0m-5 0h0m0 0h0m2-2h0m-2 0h0m5-1h0m-1-6h0m14-13h0m-6 8h0m0 1h0m-2 1h0m5 2h0m-4 0h0m8 3h0m-5 2h0m3 0h0m3 0h0m1 5h0m-9 86h0m5 2h0m-7 4h0m-1 2h0m12 17h0m-12 13h0m20-63h0m2-5h0m0-55h0m0 0h0m1-1h0m-6-3h0m5 0h0m-7 0h0m5-2h0m-7-7h0m1 0h0m-2-3h0m8-16h0m14-14h0m0 43h0m-9 2h0m-1 4h0m10 3h0m-9 0h0m4 0h0m1 1h0m-1 2h0m-2 1h0m1 6h0m3 4h0m1 12h0m0 1h0m3 4h0m-2 3h0m2 3h0m4 1h0m1-7h0m-2-1h0m1 0h0m7-1h0m-1-4h0" stroke="#f00" class="dt"/>
<path transform="scale(.5)" d="M394 1099h0m1 15h0m1 19h0m-2 24h0m-5 19h0m11 30h0m2-3h0m4 0h0m0-4h0m-7-9h0m0-16h0m4-5h0m1-12h0m0-2h0m-2-6h0m2-1h0m2-4h0m-1-2h0m2-1h0m-6-9h0m2-10h0m3-2h0m2-4h0m-10-11h0m10-8h0m-4 0h0m-4-3h0m1-1h0m-3-3h0m7-11h0m2-1h0m-6 0h0m-4 0h0m9-9h0m4-58h0m8 19h0m-7 9h0m3 3h0m6 8h0m-7 1h0m1 0h0m5 1h0m-11 0h0m10 8h0m-2 15h0m2 1h0m-2 3h0m4 1h0m-4 5h0m-1 6h0m0 0h0m-2 3h0m1 6h0m-6 2h0m7 107h0m-6 10h0m19 8h0m-5-154h0m-3-3h0m4-2h0m0-1h0m0-1h0m2-1h0m0-4h0m2-1h0m2-1h0m-10-3h0m9 0h0m2-1h0m-8-2h0m7-1h0m-7 0h0m5-2h0m-1-1h0m-4-3h0m0-1h0m7 0h0m1-1h0m-7 0h0m4-3h0m-2-2h0m0-2h0m5-4h0m-1-1h0m0-6h0m-2-1h0m3-16h0m11-31h0m-6 15h0m2 4h0m0 6h0m-6 18h0m12 2h0m-3 1h0m3 1h0m-7 1h0m5 0h0m-2 0h0m3 1h0m-4 0h0m2 1h0m-3 0h0m3 1h0m-6 1h0m-3 2h0m2 3h0m3 1h0m0 0h0m0 2h0m-1 0h0m-2 1h0m2 1h0m0 0h0m0 5h0m-3 0h0m0 2h0m1 2h0m-1 188h0m23-19h0m-10-196h0m1-2h0m3 0h0m2-3h0m0-2h0m-6 0h0m1-1h0m-3 0h0m5 0h0m6-1h0m0-2h0m-3-2h0m1-1h0m-1-1h0m-5-1h0m0-5h0m5-4h0m-1-9h0m-6-4h0m9-21h0m2-3h0m10 5h0m-10 7h0m5 10h0m0 0h0m1 6h0m4 9h0m-3 2h0m-6 0h0m8 1h0m-8 3h0m0 1h0m-1 6h0m3 1h0m-2 0h0m13 213h0m3-34h0m-1-191h0m5-6h0m-7-1h0m6-2h0m-5-1h0m0 0h0m3-1h0m1-3h0m-6-1h0m11 0h0m-1-3h0m-10-1h0m9 0h0m-6-4h0m0-11h0m4-3h0m7-2h0m9 3h0m-5 1h0m5 6h0m-7 6h0m1 1h0m-4 0h0m0 0h0m-1 0h0m2 1h0m1 2h0m2 1h0m-1 2h0m-1 1h0m-2 3h0m-1 2h0m5 180h0m-5 22h0m-1 12h0m13-45h0m0-29h0m7-3h0m-5-1h0m1-2h0m-4-142h0m8-3h0m-3-1h0m0-1h0m0-1h0m-4 0h0m10-2h0m-6-1h0m0-1h0m-1-1h0m-1 0h0m0-1h0m8-5h0m0-1h0m-1-4h0m-8-9h0m8 0h0m13-9h0m-7 7h0m5 7h0m-7 3h0m1 0h0m0 5h0m-1 0h0m-2 5h0m1 1h0m5 1h0m-3 1h0m3 3h0m-3 118h0m0 2h0m2 1h0m1 16h0m8-142h0m-2-3h0m9-1h0m-4 0h0m-4-5h0m8 0h0m-7-1h0m1-1h0m2-1h0m0-2h0m13-5h0m5 13h0m-10 1h0m8 2h0m-9 4h0m12 72h0m-1 2h0m-1 3h0m-1 3h0m-4 36h0m18-47h0m-9-1h0m4-69h0m-4-2h0m-1-5h0m3-3h0m3-1h0m3 0h0m-8-13h0m8-1h0m8-8h0m-2 9h0m1 4h0m2 10h0m3 1h0m2 2h0m-8 3h0m6 1h0m-6 10h0m-1 5h0m4 15h0m0 3h0m4 3h0m0 9h0m-3 2h0m-1 1h0m-3 3h0m-2 20h0m12-39h0m10-6h0m-10 0h0m9-5h0m-9-4h0m-2 0h0m4-4h0m8-30h0m-6-2h0m1-7h0m6 33h0" stroke="#f00" class="dt"/>
<path transform="scale(.5)" d="M396 1072h0m0 1h0m-7 25h0m-4 2h0m0 71h0m10 1h0m2 65h0m2-4h0m-3-5h0m6-36h0m2-23h0m0-9h0m-5-4h0m7-6h0m-3-4h0m2-7h0m2 0h0m-4-1h0m-6-2h0m3-12h0m-1-5h0m9-11h0m-4-1h0m2-13h0m-2-2h0m-2-33h0m-1-5h0m-1-4h0m2-4h0m9-25h0m5 2h0m0 20h0m0 6h0m1 4h0m3 6h0m-5 7h0m3 3h0m-2 2h0m1 1h0m-7 1h0m9 1h0m-10 2h0m9 2h0m-3 1h0m1 0h0m0 0h0m3 1h0m-4 0h0m-1 10h0m-6 3h0m7 1h0m-3 1h0m2 0h0m-5 3h0m-1 5h0m4 4h0m-1 1h0m0 4h0m0 2h0m-1 2h0m1 1h0m6 96h0m8 35h0m2-22h0m0-8h0m-7-147h0m1-1h0m5-2h0m1-3h0m-2-3h0m-4-2h0m2-1h0m0-1h0m1-1h0m6-2h0m-5-2h0m-4-1h0m3-3h0m7 0h0m-2-2h0m1-2h0m1 0h0m0-1h0m0-1h0m-7-1h0m0-1h0m6-2h0m-7-3h0m9-3h0m-7-1h0m1-1h0m2 0h0m3-3h0m-7-2h0m3-2h0m-2-2h0m7-7h0m-7-4h0m8-28h0m7 12h0m2 7h0m-6 13h0m2 2h0m1 1h0m4 1h0m-5 2h0m1 1h0m0 1h0m-7 0h0m7 2h0m-1 2h0m3 1h0m-1 1h0m-7 4h0m1 6h0m3 2h0m-3 8h0m5 189h0m4 3h0m4 5h0m3-228h0m1-1h0m2-1h0m-1-1h0m2 0h0m-1 0h0m0-1h0m1-1h0m-10 0h0m9 0h0m2-2h0m1-1h0m-4-1h0m4-3h0m0 0h0m-4-1h0m-3-2h0m-4-29h0m18-9h0m5 21h0m-3 1h0m-1 5h0m0 0h0m1 1h0m-2 4h0m3 0h0m-5 1h0m4 2h0m-4 2h0m5 0h0m-2 2h0m1 0h0m-3 1h0m-2 5h0m0 0h0m0 194h0m-2 7h0m0 3h0m17-30h0m3-2h0m-9-181h0m1-1h0m3-8h0m-4-3h0m0-2h0m1-13h0m3-1h0m-2-4h0m1-8h0m16-15h0m-4 5h0m2 7h0m0 5h0m1 7h0m2 0h0m-6 3h0m6 8h0m-8 3h0m3 2h0m-4 4h0m12 166h0m-7 18h0m9-40h0m0-10h0m9-11h0m-4-136h0m-3-1h0m-1-1h0m8 0h0m-1-9h0m1 0h0m-5 0h0m4-1h0m-10-26h0m22 12h0m-4 4h0m5 10h0m1 3h0m-12 3h0m2 0h0m7 1h0m-2 1h0m2 142h0m0 28h0m12-50h0m1-9h0m-7-6h0m7-10h0m-4 0h0m-4-97h0m3 0h0m2-4h0m2 0h0m2 0h0m-8-3h0m3-1h0m5-1h0m-8-1h0m7-6h0m2 0h0m4-3h0m-1 2h0m4 6h0m-3 1h0m8 3h0m0 2h0m-10 1h0m0 0h0m3 0h0m-3 1h0m8 0h0m-4 0h0m6 0h0m-2 0h0m2 72h0m-8 17h0m15-5h0m3-5h0m-9-6h0m4-3h0m4-8h0m-1-1h0m1-4h0m2-54h0m-1-1h0m-8-1h0m3 0h0m3-2h0m3-2h0m-6-5h0m-3-3h0m10-9h0m8-22h0m-7 16h0m0 6h0m8 1h0m-2 8h0m5 9h0m-2 6h0m-4 6h0m3 7h0m3 9h0m-1 10h0m-2 2h0m0 2h0m-2 5h0m2 2h0m-4 3h0m-4 2h0m13-12h0m8-1h0m-7-3h0m5-1h0m-6 0h0m2-4h0m-2-9h0m8-2h0m0-2h0m-10-8h0m6-5h0m-3-1h0m1 0h0m0-2h0m1-1h0m7-6h0m-7-3h0m-3-14h0m17 25h0" stroke="#f00" class="dt"/>
<path transform="scale(.5)" d="M384 1225h0m8-137h0m-2 36h0m4 30h0m-2 5h0m1 29h0m-2 6h0m-3 25h0m19-11h0m-4-4h0m5 0h0m-5-8h0m1-32h0m1-10h0m-7-2h0m5-1h0m0-2h0m1-2h0m-7-6h0m7-5h0m-1-3h0m-1-7h0m5-5h0m-7-5h0m6 0h0m-2-1h0m1-4h0m-1-1h0m-6-5h0m10-11h0m-9-23h0m-3-14h0m1-2h0m7-3h0m-3-3h0m2-7h0m2-8h0m10 4h0m-4 8h0m0 0h0m6 2h0m-1 1h0m-1 1h0m-4 4h0m8 3h0m-6 2h0m3 1h0m1 10h0m-1 4h0m0 2h0m-8 4h0m7 1h0m-4 5h0m4 3h0m-6 4h0m6 0h0m-3 5h0m0 5h0m-3 9h0m0 95h0m5 3h0m1 4h0m-4 13h0m9-150h0m1-3h0m2-5h0m4-4h0m-2-1h0m-4-5h0m11-4h0m-2 0h0m-8-7h0m3-1h0m4-6h0m-4-4h0m1-1h0m-5-2h0m9 0h0m-7 0h0m2-5h0m1 0h0m-3-9h0m5-1h0m3-1h0m-8-1h0m10-23h0m2 10h0m6 7h0m-4 0h0m-1 5h0m2 2h0m-1 2h0m-3 0h0m0 1h0m7 0h0m-5 1h0m4 0h0m0 0h0m2 3h0m-9 4h0m2 0h0m-1 1h0m4 0h0m1 0h0m-6 0h0m1 0h0m1 0h0m5 2h0m-3 1h0m0 1h0m-5 0h0m6 2h0m0 1h0m-1 2h0m-4 3h0m1 0h0m0 5h0m9 178h0m-2 5h0m5 14h0m3-18h0m-2-205h0m2 0h0m-4-2h0m5 0h0m-4 0h0m0-2h0m-1 0h0m7-1h0m4-1h0m-10-1h0m5 0h0m-5-1h0m3-1h0m1-3h0m2-1h0m-2-1h0m4-3h0m-1-1h0m-3-1h0m4-16h0m1-16h0m1-7h0m9 7h0m-8 8h0m5 11h0m-1 3h0m-4 4h0m7 1h0m-4 0h0m6 1h0m0 1h0m1 4h0m-2 0h0m-7 1h0m5 1h0m-4 3h0m0 0h0m-1 1h0m0 2h0m1 0h0m19 169h0m-9-178h0m-1-1h0m3-2h0m0-1h0m3-1h0m1-1h0m-4 0h0m3-1h0m-1-1h0m6-4h0m1 0h0m-4-1h0m-5-1h0m4-1h0m0 0h0m4-2h0m1 0h0m-8 0h0m0-1h0m0-2h0m1-28h0m10-15h0m-3 21h0m12 3h0m-9 3h0m8 0h0m0 6h0m-2 1h0m0 5h0m-4 0h0m3 0h0m-4 0h0m0 0h0m-3 1h0m8 1h0m-3 0h0m4 1h0m-5 2h0m1 0h0m-5 1h0m1 3h0m7 180h0m15-65h0m-11-129h0m0-4h0m5-4h0m0 0h0m10-30h0m-2 14h0m4 2h0m-5 1h0m6 2h0m-4 2h0m3 7h0m0 1h0m1 2h0m5 6h0m-10 1h0m-1 0h0m3 2h0m5 107h0m2 2h0m-6 10h0m2 8h0m-5 13h0m1 8h0m13-26h0m7-21h0m-2-106h0m1 0h0m-8-3h0m9-1h0m-5 0h0m-4-3h0m3 0h0m-3-13h0m4-5h0m12 6h0m-3 7h0m5 3h0m-2 1h0m-1 2h0m5 0h0m-4 1h0m-5 0h0m0 1h0m8 2h0m-6 0h0m3 87h0m-2 1h0m-1 3h0m6 8h0m4-20h0m3-4h0m3-6h0m4-65h0m-3-2h0m1 0h0m-5-1h0m-3-4h0m12-2h0m0 11h0m2 4h0m-1 1h0m2 4h0m5 0h0m2 1h0m-7 2h0m5 4h0m0 14h0m-1 0h0m3 0h0m0 1h0m-4 4h0m2 1h0m-3 2h0m4 21h0m-9 20h0m13-41h0m1-12h0m-1-22h0m3-1h0m-2-3h0m-2-7h0m9-15h0m6 36h0" stroke="#f00" class="dt"/>
<path transform="scale(.5)" d="M387 1085h0m1 8h0m1 15h0m1 20h0m5 30h0m-8 15h0m8 8h0m-5 13h0m4 12h0m0 2h0m10 4h0m-3-2h0m0-17h0m-3-11h0m5-12h0m2-29h0m3-2h0m-8-1h0m5 0h0m3-1h0m-1-2h0m-1-1h0m-3-6h0m4-4h0m-1-1h0m-1-3h0m0-10h0m0-3h0m-6-8h0m4-8h0m2-10h0m0-1h0m-4-1h0m0-20h0m1-10h0m3-12h0m12-40h0m-3 25h0m1 14h0m-7 12h0m1 7h0m0 8h0m10 0h0m-10 5h0m2 0h0m6 1h0m1 3h0m1 1h0m1 1h0m-3 1h0m1 2h0m-3 5h0m0 2h0m-3 2h0m3 0h0m-2 4h0m-1 13h0m1 0h0m0 1h0m-2 8h0m1 96h0m4 3h0m0 1h0m-3 21h0m7-158h0m1-3h0m2-1h0m-2-1h0m4-2h0m1-2h0m-1-1h0m-2 0h0m5-2h0m-1-2h0m0 0h0m3-3h0m0-2h0m1-1h0m0 0h0m-1 0h0m1-1h0m-5 0h0m4-1h0m-2-2h0m2-1h0m-9-1h0m7-6h0m-2-1h0m1-1h0m-5 0h0m5 0h0m5 0h0m-1-4h0m-1-2h0m-6-1h0m8-2h0m-6-7h0m4-8h0m-3 0h0m-6-9h0m8-14h0m11-17h0m-5 5h0m-2 23h0m10 6h0m-3 0h0m-3 2h0m2 2h0m2 3h0m-9 2h0m7 1h0m3 2h0m-10 5h0m6 1h0m-5 0h0m3 1h0m2 3h0m-5 3h0m5 2h0m-2 1h0m2 1h0m-5 1h0m2 2h0m-2 3h0m0 5h0m-1 2h0m1 185h0m12-214h0m1-1h0m1 0h0m-1-5h0m-2 0h0m6-2h0m-2 0h0m1-1h0m0-3h0m0-1h0m1 0h0m0-4h0m-5 0h0m8-4h0m-1-1h0m-2-2h0m-1-4h0m7-3h0m0-9h0m-2-6h0m-4-3h0m7 0h0m3 5h0m1 1h0m6 4h0m-7 1h0m5 8h0m-2 0h0m-4 1h0m5 1h0m-4 2h0m0 1h0m3 1h0m-6 0h0m7 1h0m2 0h0m0 1h0m0 0h0m-9 0h0m1 1h0m-1 2h0m4 1h0m2 1h0m2 189h0m14-6h0m-9-1h0m8-5h0m-6-185h0m0-2h0m3-2h0m-3 0h0m3-1h0m1-1h0m-7-1h0m3 0h0m7-2h0m-10 0h0m8-1h0m1-1h0m1-2h0m-3-5h0m3-3h0m0-5h0m-6-1h0m0-9h0m-2-3h0m16-14h0m4 14h0m0 8h0m-2 2h0m0 2h0m-3 2h0m-4 3h0m5 2h0m-6 5h0m-1 2h0m7 185h0m6-22h0m-1-4h0m0-17h0m5-152h0m2-3h0m5-9h0m-4-9h0m4-3h0m-7-6h0m17 4h0m1 9h0m-2 1h0m-1 2h0m-4 10h0m-4 1h0m3 119h0m5 1h0m-2 3h0m12-10h0m-3-7h0m5-7h0m-4-102h0m3 0h0m-6 0h0m11-4h0m-12-3h0m1-9h0m4-1h0m-4-2h0m14-13h0m-2 12h0m9 4h0m-7 4h0m0 1h0m-2 1h0m1 2h0m3 1h0m0 2h0m5 4h0m1 72h0m-2 17h0m-1 1h0m5-5h0m6-5h0m0-4h0m0-3h0m-5-1h0m9-70h0m-4-3h0m5-2h0m-6-3h0m-1-7h0m7-6h0m4-20h0m8 9h0m-7 9h0m-3 16h0m7 1h0m-6 2h0m-2 1h0m4 5h0m-4 1h0m1 1h0m9 4h0m-1 4h0m-2 4h0m1 3h0m-4 2h0m4 9h0m1 10h0m0 1h0m-6 3h0m1 4h0m-4 3h0m13-28h0m5-13h0m0-3h0m-6-7h0m2-7h0m4-38h0m9 38h0m-4 11h0m2 22h0" stroke="#f00" class="dt"/>
<path transform="scale(.5)" d="M396 1084h0m0 11h0m-12 14h0m12 2h0m-3 3h0m-6 11h0m5 29h0m0 18h0m3 25h0m-3 45h0m10-42h0m3-2h0m-4 0h0m-2-2h0m3-8h0m-4-26h0m7 0h0m-3-1h0m3-1h0m-7-8h0m5-10h0m-1-7h0m4-3h0m2-10h0m-7-12h0m-3-6h0m8-18h0m-3-32h0m2-10h0m-3-1h0m6-25h0m1-6h0m1 10h0m8 4h0m-2 10h0m2 11h0m-3 4h0m4 16h0m-3 2h0m1 5h0m0 0h0m-1 6h0m3 2h0m-7 0h0m-2 3h0m1 3h0m0 5h0m0 6h0m0 1h0m1 4h0m-1 4h0m0 1h0m-2 1h0m-1 17h0m4 82h0m5 8h0m0 6h0m13 15h0m-8-164h0m1-1h0m0-2h0m-1-2h0m4-1h0m-5 0h0m0-1h0m2-1h0m-2-2h0m6-4h0m1-9h0m1-6h0m1-2h0m0-4h0m1-4h0m-9-4h0m5-1h0m5-1h0m-1-3h0m-11-2h0m9-4h0m-3-6h0m0-1h0m-5-7h0m3-5h0m16-16h0m2 15h0m-2 0h0m-1 4h0m-2 1h0m5 5h0m0 0h0m-9 0h0m-1 11h0m9 2h0m-2 3h0m-1 3h0m-2 2h0m-2 6h0m1 2h0m0 3h0m-1 2h0m-1 2h0m19 183h0m3-6h0m-7-201h0m-2-1h0m2-1h0m3-2h0m0 0h0m-5-2h0m4 0h0m-5-1h0m2 0h0m2-3h0m-4-1h0m1 0h0m3-9h0m-5 0h0m1-8h0m8-7h0m1-1h0m-7-1h0m18-5h0m-5 0h0m-2 3h0m1 1h0m4 0h0m-1 5h0m3 2h0m-8 1h0m9 1h0m-6 1h0m-3 2h0m11 0h0m-4 7h0m2 1h0m-1 1h0m-8 1h0m4 3h0m5 186h0m8 20h0m-3-217h0m-1-1h0m2 0h0m1-2h0m4-2h0m-1-1h0m-6-1h0m7-1h0m-6-3h0m1-1h0m-3 0h0m10-1h0m-9-3h0m4 0h0m-4-4h0m5 0h0m5-6h0m-1-14h0m-5-4h0m-2 0h0m19-21h0m0 3h0m-1 17h0m-3 7h0m2 8h0m-3 3h0m0 3h0m-1 2h0m-4 4h0m3 1h0m5 0h0m-7 4h0m-1 1h0m2 2h0m17 127h0m-6-135h0m5-3h0m-4 0h0m-2-1h0m5 0h0m4-3h0m-1-1h0m-3-4h0m1-2h0m3-5h0m1-2h0m0 0h0m-9-7h0m17-5h0m-3 10h0m2 1h0m-1 1h0m-1 2h0m2 0h0m5 1h0m-4 3h0m-3 3h0m4 2h0m-1 0h0m4 2h0m-2 1h0m-1 0h0m0 1h0m-4 1h0m7 104h0m-2 5h0m-5 29h0m10-39h0m5-2h0m3-10h0m-6-93h0m3-3h0m1-1h0m-3-1h0m6 0h0m-10-2h0m8-1h0m1-2h0m1-1h0m-9-7h0m9-8h0m9-7h0m3 3h0m-5 10h0m0 1h0m6 5h0m0 8h0m-2 0h0m1 1h0m-10 1h0m6 0h0m-5 2h0m9 85h0m-7 0h0m2 0h0m2 1h0m-2 1h0m-2 13h0m17-20h0m-3-4h0m-3-5h0m7-68h0m-7-1h0m4 0h0m-5-5h0m1 0h0m-1 0h0m-2-1h0m4-3h0m1 0h0m4-8h0m-6-8h0m16-5h0m-4 22h0m5 6h0m-6 6h0m2 3h0m-1 3h0m1 1h0m3 8h0m-1 3h0m2 5h0m-2 1h0m1 1h0m1 1h0m1 0h0m3 4h0m-2 3h0m-1 4h0m2 1h0m-5 1h0m1 1h0m-3 2h0m6 2h0m-6 5h0m2 11h0m-5 2h0m-1 6h0m1 5h0m19-26h0m-3-16h0m0-16h0m-5-7h0m4-3h0m-3-7h0m6-37h0m6 58h0" stroke="#f00" class="dt"/>
<path transform="scale(.5)" d="M378 1197h0m3-60h0m4-57h0m11 83h0m11 75h0m-2-28h0m-1-7h0m4-1h0m-8 0h0m5-5h0m-7-6h0m4-1h0m0-23h0m4-19h0m-2-23h0m1-11h0m-4-1h0m2-13h0m0-19h0m1-2h0m3-5h0m-3-6h0m-6-10h0m15 9h0m2 1h0m3 0h0m-6 5h0m7 2h0m-9 1h0m10 2h0m-11 2h0m6 7h0m-3 10h0m-2 14h0m3 98h0m-4 6h0m21 48h0m0-41h0m-7-2h0m0-148h0m-2 0h0m0 0h0m3-7h0m2 0h0m-3-1h0m2-2h0m1-1h0m-1 0h0m4-1h0m-6 0h0m4-1h0m3-2h0m-7 0h0m8-2h0m-3 0h0m-7-1h0m10-2h0m-2 0h0m1-2h0m-7-9h0m3-2h0m-6-2h0m5-7h0m-4-2h0m5-3h0m4 0h0m-7-1h0m5 0h0m4-6h0m-11 0h0m9-2h0m13-38h0m0 17h0m-7 7h0m-1 7h0m2 6h0m2 0h0m4 6h0m1 0h0m-3 3h0m0 1h0m-9 0h0m7 0h0m-2 2h0m1 0h0m-1 0h0m6 1h0m-7 0h0m-2 1h0m0 1h0m-1 1h0m6 1h0m-4 1h0m-2 2h0m2 1h0m2 1h0m-5 2h0m4 3h0m-2 4h0m-1 0h0m1 2h0m0 1h0m-2 174h0m17-201h0m-3-3h0m6-1h0m2-2h0m-5 0h0m-4-1h0m4-1h0m7 0h0m-3-2h0m-1-1h0m3-5h0m-3-2h0m8-44h0m6 17h0m1 9h0m-7 3h0m1 4h0m-4 0h0m0 1h0m10 1h0m-1 0h0m-1 1h0m-2 1h0m-2 4h0m-1 1h0m5 1h0m-8 0h0m5 0h0m0 1h0m-3 1h0m3 2h0m-5 0h0m5 1h0m-1 0h0m-1 3h0m-2 0h0m-2 3h0m3 199h0m1 2h0m9-25h0m5-3h0m-5-186h0m0-1h0m-1-1h0m1-2h0m3 0h0m-3-2h0m7-1h0m-3-1h0m-2-2h0m7-1h0m-7 0h0m2-1h0m2 0h0m4-3h0m-9-1h0m7-6h0m-3-1h0m-1-7h0m-3-2h0m17-27h0m-2 20h0m-1 16h0m4 3h0m-6 5h0m2 0h0m-2 1h0m8 185h0m5-19h0m-2-22h0m3-9h0m-3-143h0m5-1h0m1 0h0m-6-1h0m2-1h0m8-1h0m-8-1h0m4-2h0m-7-1h0m3-2h0m5-4h0m0-6h0m-6-2h0m5-1h0m15-17h0m0 14h0m-2 7h0m-6 4h0m3 1h0m-3 0h0m-1 1h0m6 1h0m-5 0h0m4 7h0m-2 0h0m-1 1h0m1 0h0m5 112h0m-7 32h0m12-32h0m2-5h0m-2-2h0m-1-4h0m9-10h0m-6-95h0m2 0h0m-3 0h0m7-2h0m1-2h0m-7-6h0m7-2h0m0-2h0m-5-5h0m1-1h0m4-14h0m12 13h0m-5 2h0m-1 0h0m1 4h0m2 8h0m3 2h0m0 76h0m0 2h0m-1 8h0m-9 7h0m0 7h0m10 2h0m-11 10h0m15-31h0m2-3h0m-3-6h0m4-6h0m4-3h0m1-3h0m-9-57h0m7-1h0m-6 0h0m1-3h0m7-3h0m0-1h0m-6-2h0m-2-1h0m0-2h0m6-9h0m1 0h0m3 5h0m0 6h0m3 6h0m0 0h0m-1 2h0m-2 2h0m6 1h0m-5 1h0m7 1h0m-2 0h0m-1 0h0m1 3h0m-6 1h0m0 3h0m1 1h0m1 2h0m2 2h0m-2 0h0m3 1h0m2 2h0m0 1h0m0 3h0m-2 2h0m2 6h0m0 6h0m3 4h0m-4 2h0m2 0h0m0 1h0m-4 3h0m1 2h0m-1 3h0m1 2h0m15-4h0m3-22h0m-11-15h0m8-29h0m-5-3h0" stroke="#f00" class="dt"/>
<path transform="scale(.5)" d="M376 1170h0m19-110h0m-1 5h0m-3 26h0m-2 15h0m6 15h0m-8 1h0m-1 24h0m4 6h0m-4 19h0m10 2h0m6 62h0m-6-36h0m6-19h0m-3-6h0m0-12h0m2-18h0m3-1h0m4-8h0m-9-4h0m9-13h0m-11-19h0m8-1h0m2-1h0m1-8h0m-2-3h0m-4-4h0m-2-43h0m19-11h0m-9 3h0m8 2h0m-2 12h0m2 0h0m-5 8h0m5 1h0m-1 2h0m-6 2h0m6 11h0m-4 6h0m6 7h0m-2 0h0m0 1h0m-6 1h0m-2 5h0m4 3h0m0 1h0m1 7h0m-2 2h0m-2 1h0m-1 17h0m0 86h0m22 18h0m-8-151h0m1-4h0m0-1h0m-2-3h0m-1-5h0m8 0h0m0-1h0m-2-1h0m-5-1h0m2-1h0m7 0h0m-1-1h0m0-1h0m-8-1h0m2-3h0m3-5h0m-5-2h0m6-3h0m2-2h0m-8-3h0m-2 0h0m4-5h0m4-3h0m-5-3h0m2-1h0m5-7h0m1-12h0m-2-5h0m-1-6h0m16-3h0m-9 5h0m1 8h0m-1 8h0m-3 2h0m7 0h0m3 1h0m-2 1h0m1 0h0m0 3h0m1 1h0m1 1h0m-1 0h0m-7 0h0m-2 2h0m3 0h0m-1 1h0m3 1h0m4 0h0m-1 1h0m2 0h0m-6 1h0m0 1h0m-2 1h0m5 1h0m1 1h0m-7 6h0m4 0h0m-5 2h0m4 1h0m0 1h0m-5 3h0m1 8h0m0 0h0m5 175h0m-5 8h0m15-13h0m4 0h0m-2-1h0m3 0h0m-8-197h0m0-2h0m4 0h0m-1-1h0m-4 0h0m4 0h0m2-4h0m-4-2h0m8 0h0m0-1h0m1 0h0m-7-3h0m-2 0h0m-2-3h0m10-8h0m1-4h0m1-10h0m-1-5h0m12 10h0m-1 1h0m2 4h0m-3 0h0m3 1h0m-7 2h0m1 1h0m5 0h0m-5 3h0m0 0h0m-2 1h0m-2 3h0m4 1h0m-2 0h0m-2 1h0m-2 0h0m3 1h0m2 198h0m-4 7h0m15-25h0m7-3h0m-8-190h0m4-2h0m-1-3h0m4-1h0m-2 0h0m-6-4h0m8-2h0m0-1h0m-4-4h0m6-1h0m-7-11h0m8-10h0m5 12h0m1 7h0m4 3h0m-10 1h0m6 0h0m-6 2h0m6 1h0m0 0h0m-5 6h0m10 139h0m-10 39h0m7 10h0m15-40h0m-11-8h0m3-152h0m-3 0h0m0-1h0m3 0h0m1-3h0m-1-19h0m6-3h0m-6-4h0m1-7h0m8-2h0m8 2h0m-9 14h0m2 4h0m8 3h0m-10 5h0m1 2h0m4 0h0m5 0h0m0 1h0m-1 0h0m1 0h0m-10 1h0m9 0h0m-9 3h0m5 1h0m-3 1h0m1 118h0m5 1h0m-1 1h0m8-23h0m1-1h0m7-3h0m-4-1h0m4-1h0m-10-94h0m0-2h0m10 0h0m-6-3h0m0-1h0m4-4h0m-4-3h0m-5-13h0m6-1h0m8-15h0m3 22h0m0 1h0m-3 0h0m1 3h0m5 1h0m-3 2h0m-4 2h0m4 1h0m7 2h0m-2 2h0m-1 3h0m2 74h0m0 1h0m-1 0h0m-3 8h0m2 7h0m-7 6h0m5 4h0m7-10h0m9-15h0m-6-3h0m2-9h0m3-8h0m2-50h0m-7-8h0m1-11h0m-6-1h0m10-11h0m13-1h0m-10 9h0m1 6h0m-2 9h0m1 4h0m2 1h0m0 2h0m4 3h0m-1 0h0m1 2h0m-5 2h0m6 2h0m-1 6h0m-1 3h0m1 1h0m-1 4h0m5 7h0m-4 6h0m1 2h0m1 0h0m-3 2h0m1 6h0m6-2h0m-1-6h0m1-14h0m1-2h0m1-49h0m-1-10h0m3-7h0" stroke="#f00" class="dt"/>
<path d="M165.5 576.5L174.7 578.1L182.2 586.9L186.8 597.1L191.4 607.3L192.8 615.7L191.4 624.9L184.9 634.2L175.7 644.4L164.5 643.0L154.3 641.2L146.9 633.3L142.3 624.0L139.0 614.7L139.0 605.5L145.1 597.1L155.3 586.9Z" fill="#fff" shape-rendering="crispEdges"/>
<g shape-rendering="crispEdges"><rect x="130.5" y="600.2" width="10" height="10" fill="#eeeeff" fill-opacity="0.07"/><rect x="130.5" y="610.2" width="10" height="10" fill="#eeeeff" fill-opacity="0.07"/><rect x="130.5" y="620.2" width="10" height="10" fill="#f5f5ff" fill-opacity="0.04"/><rect x="140.5" y="590.2" width="10" height="10" fill="#e2e2ff" fill-opacity="0.12"/><rect x="140.5" y="600.2" width="10" height="10" fill="#bbbbff" fill-opacity="0.27"/><rect x="140.5" y="610.2" width="10" height="10" fill="#acacff" fill-opacity="0.33"/><rect x="140.5" y="620.2" width="10" height="10" fill="#c6c6ff" fill-opacity="0.22"/><rect x="140.5" y="630.2" width="10" height="10" fill="#e8e8ff" fill-opacity="0.09"/><rect x="150.5" y="580.2" width="10" height="10" fill="#e2e2ff" fill-opacity="0.11"/><rect x="150.5" y="590.2" width="10" height="10" fill="#bebeff" fill-opacity="0.25"/><rect x="150.5" y="600.2" width="10" height="10" fill="#8585ff" fill-opacity="0.48"/><rect x="150.5" y="610.2" width="10" height="10" fill="#4c4cff" fill-opacity="0.70"/><rect x="150.5" y="620.2" width="10" height="10" fill="#6161ff" fill-opacity="0.62"/><rect x="150.5" y="630.2" width="10" height="10" fill="#b5b5ff" fill-opacity="0.29"/><rect x="150.5" y="640.2" width="10" height="10" fill="#ededff" fill-opacity="0.07"/><rect x="160.5" y="570.2" width="10" height="10" fill="#e7e7ff" fill-opacity="0.10"/><rect x="160.5" y="580.2" width="10" height="10" fill="#cacaff" fill-opacity="0.21"/><rect x="160.5" y="590.2" width="10" height="10" fill="#a7a7ff" fill-opacity="0.35"/><rect x="160.5" y="600.2" width="10" height="10" fill="#6a6aff" fill-opacity="0.58"/><rect x="160.5" y="610.2" width="10" height="10" fill="#2020ff" fill-opacity="0.88"/><rect x="160.5" y="620.2" width="10" height="10" fill="#0000ff" fill-opacity="1.00"/><rect x="160.5" y="630.2" width="10" height="10" fill="#8e8eff" fill-opacity="0.44"/><rect x="160.5" y="640.2" width="10" height="10" fill="#e6e6ff" fill-opacity="0.10"/><rect x="170.5" y="570.2" width="10" height="10" fill="#ececff" fill-opacity="0.07"/><rect x="170.5" y="580.2" width="10" height="10" fill="#ccccff" fill-opacity="0.20"/><rect x="170.5" y="590.2" width="10" height="10" fill="#a9a9ff" fill-opacity="0.34"/><rect x="170.5" y="600.2" width="10" height="10" fill="#8383ff" fill-opacity="0.49"/><rect x="170.5" y="610.2" width="10" height="10" fill="#5f5fff" fill-opacity="0.63"/><rect x="170.5" y="620.2" width="10" height="10" fill="#7676ff" fill-opacity="0.54"/><rect x="170.5" y="630.2" width="10" height="10" fill="#aeaeff" fill-opacity="0.32"/><rect x="170.5" y="640.2" width="10" height="10" fill="#e3e3ff" fill-opacity="0.11"/><rect x="180.5" y="580.2" width="10" height="10" fill="#eeeeff" fill-opacity="0.07"/><rect x="180.5" y="590.2" width="10" height="10" fill="#d9d9ff" fill-opacity="0.15"/><rect x="180.5" y="600.2" width="10" height="10" fill="#bebeff" fill-opacity="0.26"/><rect x="180.5" y="610.2" width="10" height="10" fill="#aeaeff" fill-opacity="0.32"/><rect x="180.5" y="620.2" width="10" height="10" fill="#c1c1ff" fill-opacity="0.24"/><rect x="180.5" y="630.2" width="10" height="10" fill="#e2e2ff" fill-opacity="0.11"/><rect x="180.5" y="640.2" width="10" height="10" fill="#f7f7ff" fill-opacity="0.03"/><rect x="190.5" y="600.2" width="10" height="10" fill="#f0f0ff" fill-opacity="0.06"/><rect x="190.5" y="610.2" width="10" height="10" fill="#eaeaff" fill-opacity="0.08"/><rect x="190.5" y="620.2" width="10" height="10" fill="#efefff" fill-opacity="0.06"/></g>
<path d="M266.6 484.2L275.3 485.5L280.2 503.4L272.8 515.8L265.4 526.9L257.9 538.0L253.0 546.7L250.5 554.9L245.6 564.7L244.3 573.4L240.6 584.5L232.0 598.1L224.5 609.9L215.9 611.1L204.7 601.9L201.0 594.4L204.7 563.5L207.8 544.2L215.9 528.1L220.8 514.5L232.0 503.4L244.3 491.0L256.7 486.7Z" fill="#fff" shape-rendering="crispEdges"/>
<g shape-rendering="crispEdges"><rect x="190.5" y="560.2" width="10" height="10" fill="#fff6f6" fill-opacity="0.04"/><rect x="190.5" y="570.2" width="10" height="10" fill="#fff3f3" fill-opacity="0.05"/><rect x="190.5" y="580.2" width="10" height="10" fill="#fff0f0" fill-opacity="0.06"/><rect x="190.5" y="590.2" width="10" height="10" fill="#ffeeee" fill-opacity="0.07"/><rect x="190.5" y="600.2" width="10" height="10" fill="#fff7f7" fill-opacity="0.03"/><rect x="200.5" y="530.2" width="10" height="10" fill="#ffefef" fill-opacity="0.06"/><rect x="200.5" y="540.2" width="10" height="10" fill="#ffdcdc" fill-opacity="0.14"/><rect x="200.5" y="550.2" width="10" height="10" fill="#ffcece" fill-opacity="0.19"/><rect x="200.5" y="560.2" width="10" height="10" fill="#ffc0c0" fill-opacity="0.25"/><rect x="200.5" y="570.2" width="10" height="10" fill="#ffb6b6" fill-opacity="0.29"/><rect x="200.5" y="580.2" width="10" height="10" fill="#ffadad" fill-opacity="0.32"/><rect x="200.5" y="590.2" width="10" height="10" fill="#ffb3b3" fill-opacity="0.30"/><rect x="200.5" y="600.2" width="10" height="10" fill="#ffdbdb" fill-opacity="0.14"/><rect x="200.5" y="610.2" width="10" height="10" fill="#fff7f7" fill-opacity="0.03"/><rect x="210.5" y="510.2" width="10" height="10" fill="#ffeaea" fill-opacity="0.08"/><rect x="210.5" y="520.2" width="10" height="10" fill="#ffd5d5" fill-opacity="0.16"/><rect x="210.5" y="530.2" width="10" height="10" fill="#ffb5b5" fill-opacity="0.29"/><rect x="210.5" y="540.2" width="10" height="10" fill="#ff8e8e" fill-opacity="0.44"/><rect x="210.5" y="550.2" width="10" height="10" fill="#ff6b6b" fill-opacity="0.58"/><rect x="210.5" y="560.2" width="10" height="10" fill="#ff5656" fill-opacity="0.66"/><rect x="210.5" y="570.2" width="10" height="10" fill="#ff5050" fill-opacity="0.69"/><rect x="210.5" y="580.2" width="10" height="10" fill="#ff5656" fill-opacity="0.66"/><rect x="210.5" y="590.2" width="10" height="10" fill="#ff7a7a" fill-opacity="0.52"/><rect x="210.5" y="600.2" width="10" height="10" fill="#ffb0b0" fill-opacity="0.31"/><rect x="210.5" y="610.2" width="10" height="10" fill="#ffe9e9" fill-opacity="0.09"/><rect x="220.5" y="500.2" width="10" height="10" fill="#ffe2e2" fill-opacity="0.11"/><rect x="220.5" y="510.2" width="10" height="10" fill="#ffb2b2" fill-opacity="0.30"/><rect x="220.5" y="520.2" width="10" height="10" fill="#ff8888" fill-opacity="0.47"/><rect x="220.5" y="530.2" width="10" height="10" fill="#ff6868" fill-opacity="0.59"/><rect x="220.5" y="540.2" width="10" height="10" fill="#ff4444" fill-opacity="0.73"/><rect x="220.5" y="550.2" width="10" height="10" fill="#ff2121" fill-opacity="0.87"/><rect x="220.5" y="560.2" width="10" height="10" fill="#ff0000" fill-opacity="1.00"/><rect x="220.5" y="570.2" width="10" height="10" fill="#ff1515" fill-opacity="0.92"/><rect x="220.5" y="580.2" width="10" height="10" fill="#ff3f3f" fill-opacity="0.75"/><rect x="220.5" y="590.2" width="10" height="10" fill="#ff8686" fill-opacity="0.47"/><rect x="220.5" y="600.2" width="10" height="10" fill="#ffc0c0" fill-opacity="0.25"/><rect x="220.5" y="610.2" width="10" height="10" fill="#ffeded" fill-opacity="0.07"/><rect x="230.5" y="490.2" width="10" height="10" fill="#ffe2e2" fill-opacity="0.11"/><rect x="230.5" y="500.2" width="10" height="10" fill="#ffaeae" fill-opacity="0.32"/><rect x="230.5" y="510.2" width="10" height="10" fill="#ff7b7b" fill-opacity="0.52"/><rect x="230.5" y="520.2" width="10" height="10" fill="#ff4d4d" fill-opacity="0.70"/><rect x="230.5" y="530.2" width="10" height="10" fill="#ff3d3d" fill-opacity="0.76"/><rect x="230.5" y="540.2" width="10" height="10" fill="#ff3636" fill-opacity="0.79"/><rect x="230.5" y="550.2" width="10" height="10" fill="#ff3434" fill-opacity="0.80"/><rect x="230.5" y="560.2" width="10" height="10" fill="#ff3d3d" fill-opacity="0.76"/><rect x="230.5" y="570.2" width="10" height="10" fill="#ff6969" fill-opacity="0.59"/><rect x="230.5" y="580.2" width="10" height="10" fill="#ffa4a4" fill-opacity="0.36"/><rect x="230.5" y="590.2" width="10" height="10" fill="#ffd6d6" fill-opacity="0.16"/><rect x="230.5" y="600.2" width="10" height="10" fill="#fff1f1" fill-opacity="0.06"/><rect x="240.5" y="480.2" width="10" height="10" fill="#ffebeb" fill-opacity="0.08"/><rect x="240.5" y="490.2" width="10" height="10" fill="#ffb1b1" fill-opacity="0.31"/><rect x="240.5" y="500.2" width="10" height="10" fill="#ff7878" fill-opacity="0.53"/><rect x="240.5" y="510.2" width="10" height="10" fill="#ff5151" fill-opacity="0.68"/><rect x="240.5" y="520.2" width="10" height="10" fill="#ff4343" fill-opacity="0.74"/><rect x="240.5" y="530.2" width="10" height="10" fill="#ff5151" fill-opacity="0.68"/><rect x="240.5" y="540.2" width="10" height="10" fill="#ff7878" fill-opacity="0.53"/><rect x="240.5" y="550.2" width="10" height="10" fill="#ff9797" fill-opacity="0.41"/><rect x="240.5" y="560.2" width="10" height="10" fill="#ffc0c0" fill-opacity="0.25"/><rect x="240.5" y="570.2" width="10" height="10" fill="#ffd7d7" fill-opacity="0.16"/><rect x="240.5" y="580.2" width="10" height="10" fill="#ffeaea" fill-opacity="0.08"/><rect x="240.5" y="590.2" width="10" height="10" fill="#fff7f7" fill-opacity="0.03"/><rect x="250.5" y="480.2" width="10" height="10" fill="#ffd9d9" fill-opacity="0.15"/><rect x="250.5" y="490.2" width="10" height="10" fill="#ff9494" fill-opacity="0.42"/><rect x="250.5" y="500.2" width="10" height="10" fill="#ff5b5b" fill-opacity="0.64"/><rect x="250.5" y="510.2" width="10" height="10" fill="#ff4c4c" fill-opacity="0.70"/><rect x="250.5" y="520.2" width="10" height="10" fill="#ff7c7c" fill-opacity="0.51"/><rect x="250.5" y="530.2" width="10" height="10" fill="#ffaeae" fill-opacity="0.32"/><rect x="250.5" y="540.2" width="10" height="10" fill="#ffd6d6" fill-opacity="0.16"/><rect x="250.5" y="550.2" width="10" height="10" fill="#ffeaea" fill-opacity="0.08"/><rect x="250.5" y="560.2" width="10" height="10" fill="#fff6f6" fill-opacity="0.04"/><rect x="260.5" y="470.2" width="10" height="10" fill="#fff6f6" fill-opacity="0.03"/><rect x="260.5" y="480.2" width="10" height="10" fill="#ffc8c8" fill-opacity="0.22"/><rect x="260.5" y="490.2" width="10" height="10" fill="#ff8888" fill-opacity="0.47"/><rect x="260.5" y="500.2" width="10" height="10" fill="#ff7676" fill-opacity="0.54"/><rect x="260.5" y="510.2" width="10" height="10" fill="#ff9292" fill-opacity="0.43"/><rect x="260.5" y="520.2" width="10" height="10" fill="#ffc4c4" fill-opacity="0.23"/><rect x="260.5" y="530.2" width="10" height="10" fill="#ffe9e9" fill-opacity="0.08"/><rect x="270.5" y="480.2" width="10" height="10" fill="#ffd6d6" fill-opacity="0.16"/><rect x="270.5" y="490.2" width="10" height="10" fill="#ffbbbb" fill-opacity="0.27"/><rect x="270.5" y="500.2" width="10" height="10" fill="#ffb3b3" fill-opacity="0.30"/><rect x="270.5" y="510.2" width="10" height="10" fill="#ffdada" fill-opacity="0.14"/><rect x="270.5" y="520.2" width="10" height="10" fill="#fff3f3" fill-opacity="0.05"/><rect x="280.5" y="490.2" width="10" height="10" fill="#fff2f2" fill-opacity="0.05"/><rect x="280.5" y="500.2" width="10" height="10" fill="#ffeeee" fill-opacity="0.07"/></g>
<path d="M165.5 576.5L174.7 578.1L182.2 586.9L186.8 597.1L191.4 607.3L192.8 615.7L191.4 624.9L184.9 634.2L175.7 644.4L164.5 643.0L154.3 641.2L146.9 633.3L142.3 624.0L139.0 614.7L139.0 605.5L145.1 597.1L155.3 586.9ZM175.2 592.9L181.2 601.8L184.9 610.1L185.4 615.7L181.2 626.8L174.7 636.1L165.5 638.9L157.1 635.2L149.7 627.7L146.0 619.4L145.5 612.9L147.8 604.5L155.3 599.0L164.5 594.8ZM165.0 605.9L175.2 611.5L175.2 619.4L173.4 624.9L165.0 631.4L154.8 624.9L152.9 614.7L155.7 610.6Z" class="cb"/>
<path d="M266.6 484.2L275.3 485.5L280.2 503.4L272.8 515.8L265.4 526.9L257.9 538.0L253.0 546.7L250.5 554.9L245.6 564.7L244.3 573.4L240.6 584.5L232.0 598.1L224.5 609.9L215.9 611.1L204.7 601.9L201.0 594.4L204.7 563.5L207.8 544.2L215.9 528.1L220.8 514.5L232.0 503.4L244.3 491.0L256.7 486.7ZM265.4 492.9L269.1 496.6L270.9 504.0L264.1 515.8L256.7 525.7L249.3 536.8L245.6 549.2L243.1 561.0L241.2 568.5L236.3 578.4L230.7 588.2L223.9 598.1L215.9 600.0L211.5 595.7L209.1 587.0L210.3 564.7L213.4 550.4L222.1 534.3L224.5 525.7L234.4 513.3L245.6 500.9L256.7 496.0ZM255.5 507.1L258.6 514.5L250.5 522.0L246.8 534.3L241.9 544.2L240.0 553.6L237.5 564.7L232.0 578.4L224.5 590.1L215.9 584.5L216.5 568.5L219.6 552.4L225.8 541.8L230.7 533.1L235.1 524.4L245.6 515.8ZM225.2 558.1L228.9 562.2L229.5 567.7L227.6 572.7L225.2 577.9L222.7 572.7L220.8 567.7L221.4 562.2Z" class="cr"/>
</g>
<rect x="100.5" y="460.5" width="200" height="200" class="fr"/>
<path d="M120.5 660.5 v5" class="tk"/>
<path d="M161.4 660.5 v5" class="tk"/>
<path d="M201.5 660.5 v5" class="tk"/>
<path d="M241.5 660.5 v5" class="tk"/>
<path d="M281.6 660.5 v5" class="tk"/>
<path d="M100.5 620.5 h-5" class="tk"/>
<path d="M100.5 578.5 h-5" class="tk"/>
<path d="M100.5 536.5 h-5" class="tk"/>
<path d="M100.5 494.5 h-5" class="tk"/>
<g clip-path="url(#c21)">
<path transform="scale(.5)" d="M647 1141h0m-5-6h0m-3-13h0m1-6h0m-3-34h0m19 55h0m-2 13h0m18 57h0m-8-4h0m0-40h0m1-13h0m5-10h0m-5 0h0m0-2h0m6-2h0m-9-4h0m9-7h0m-2-2h0m1-21h0m9 15h0m1 5h0m-5 8h0m7 17h0m1 0h0m-3 13h0m-1 15h0m8-8h0m2-1h0m4 0h0m-6-9h0m1-1h0m6-6h0m-1-17h0m-7-10h0m16-6h0m-3 21h0m3 10h0m3 5h0m-8 5h0m8 13h0m-6 0h0m2 5h0m17 17h0m1-1h0m-6-2h0m1-2h0m3-2h0m1-8h0m-1-3h0m0-5h0m-1-3h0m-5-2h0m4 0h0m2-6h0m-5 0h0m-3-1h0m0-12h0m8-2h0m-4-12h0m9-24h0m6 25h0m-5 27h0m8 3h0m-9 4h0m4 17h0m1 4h0m10 46h0m2-16h0m-3-7h0m7-6h0m-11-9h0m5-2h0m-3 0h0m3-5h0m6-7h0m-5-6h0m-5-2h0m10-3h0m-9-3h0m8-1h0m2 0h0m-2-1h0m-4-2h0m-5-2h0m0-4h0m15-4h0m5 5h0m-4 5h0m-3 20h0m5 15h0m-6 5h0m6 8h0m-4 8h0m7 18h0m11-5h0m-3 0h0m-3-18h0m7-1h0m1-3h0m-1-4h0m-4-6h0m-2-5h0m5-40h0m-5-3h0m13-19h0m-2 9h0m7 1h0m-9 76h0m2 10h0m3 26h0m11-19h0m-1-7h0m2-71h0m-5-21h0m19 25h0m12 81h0m3 0h0m-10-1h0m5-83h0m-2-9h0m13 16h0m-1 78h0m1 11h0m14-80h0m12-22h0m-1 106h0m3 19h0m8-5h0m-4-6h0m7-94h0m-3-2h0m15 104h0m-1 3h0m12-89h0m-1-1h0m1-3h0m-3-2h0m0-7h0m18 114h0m9-2h0m-2-97h0m5-2h0m-4-8h0m10 5h0m0 5h0m4 2h0m14 108h0m-3-5h0m-5-3h0m4-99h0m10 0h0m0 103h0m3 6h0m9 0h0m-2-10h0m5-109h0m15 101h0m1 18h0m4-24h0m9-89h0m10-44h0m-2 44h0m2 2h0m-5 0h0m3 66h0m-7 9h0m15 3h0m-2-15h0m2-6h0m5-2h0m2-6h0m-6-50h0m6-1h0m-7-1h0m-3-4h0m10-25h0m-6-2h0m4-18h0m10-6h0m-2 7h0m5 3h0m-5 13h0m5 2h0m-8 4h0m0 10h0m5 5h0m2 3h0m-3 4h0m4 1h0m0 8h0m-2 34h0m-7 4h0m7 2h0m-4 8h0m6 8h0m8-17h0m-5-3h0m6-2h0m-3-53h0m-2-12h0" stroke="#00f" class="dt"/>
<path transform="scale(.5)" d="M623 1182h0m-5-49h0m12-14h0m0 10h0m12 23h0m4-25h0m0-2h0m-2-8h0m3-2h0m12 1h0m-7 3h0m7 13h0m-8 5h0m13 5h0m-4-1h0m2-5h0m6-22h0m13-7h0m2 4h0m-1 8h0m-10 13h0m7 9h0m-4 30h0m4 26h0m6-33h0m11-5h0m-6-16h0m4-1h0m-3-4h0m-5-3h0m2-14h0m4-9h0m4 1h0m0 4h0m6 2h0m0 12h0m-1 5h0m1 9h0m-4 12h0m-2 1h0m2 10h0m6 25h0m13-2h0m1-2h0m1-11h0m1-4h0m-6-2h0m3-15h0m-8-3h0m-1-11h0m14 1h0m-2 10h0m6 2h0m-5 14h0m7 4h0m-5 1h0m-1 8h0m4 3h0m5 29h0m11-13h0m-9 0h0m10-1h0m-1-11h0m-8-6h0m1-2h0m3-3h0m4-7h0m-5-4h0m3-1h0m-4-1h0m7-1h0m-3-3h0m-1-20h0m8-11h0m7 7h0m-2 2h0m3 17h0m-1 1h0m-6 0h0m2 0h0m2 1h0m-5 2h0m1 3h0m5 24h0m-8 6h0m6 7h0m-6 1h0m8 5h0m1 18h0m13-6h0m-2-1h0m-9-16h0m0-5h0m4-39h0m7-5h0m-2-1h0m-5 0h0m-3-1h0m6-4h0m6 7h0m3 1h0m-2 57h0m2 8h0m1 12h0m16 14h0m-4-2h0m-4-12h0m2-79h0m9-19h0m8 19h0m-1 9h0m1 0h0m0 1h0m1 77h0m11-74h0m12 0h0m-3 0h0m3 2h0m-1 2h0m-4 73h0m1 3h0m20 32h0m-10-15h0m7-7h0m-4-1h0m-1-95h0m18-1h0m-1 4h0m-6 12h0m-1 3h0m7 85h0m2 1h0m-2 15h0m11-1h0m3-1h0m-10-98h0m10-2h0m0-13h0m9 18h0m1 1h0m-3 93h0m6 1h0m-5 3h0m14 13h0m-7-14h0m8-89h0m-2-1h0m-6-1h0m8-1h0m1 0h0m-8-1h0m14-14h0m-3 112h0m13 6h0m-3-100h0m20 105h0m15 4h0m-8-5h0m13-108h0m4 4h0m1 4h0m-5 99h0m16 1h0m2-4h0m2-96h0m-6-2h0m-5-7h0m12 11h0m4 92h0m-5 2h0m18 8h0m2 0h0m-1-19h0m2-1h0m-8-2h0m4-1h0m-4-82h0m5-2h0m15 68h0m-5 9h0m9 6h0m11-13h0m-9-2h0m-3 0h0m8-64h0m-3-13h0m5-11h0m11-27h0m-7 22h0m5 2h0m2 16h0m-2 1h0m-5 11h0m-1 36h0m5 22h0m-3 3h0m7 42h0m8-106h0m-6-2h0m2-19h0" stroke="#00f" class="dt"/>
<path transform="scale(.5)" d="M622 1130h0m10-53h0m2 44h0m2 6h0m-5 25h0m7 3h0m0-29h0m0-3h0m3-6h0m1-6h0m-3-27h0m14 29h0m3 11h0m2 6h0m1 11h0m-2 18h0m3 7h0m9 2h0m-2-5h0m-1-19h0m5-4h0m-1-32h0m3-3h0m2 10h0m2 8h0m4 4h0m2 21h0m-10 8h0m4 0h0m6 10h0m-4 4h0m16 12h0m-6-13h0m3-5h0m-4-7h0m0-2h0m4-4h0m-2-4h0m-5-9h0m19 14h0m-6 1h0m5 3h0m-2 4h0m3 10h0m-2 6h0m3 1h0m-6 12h0m6 17h0m-9 2h0m20-5h0m2-19h0m-6-6h0m6-5h0m2-1h0m-10-23h0m3-8h0m-4-16h0m9-1h0m12 11h0m-7 18h0m2 1h0m1 0h0m5 0h0m1 3h0m-2 2h0m-5 2h0m-2 3h0m0 0h0m6 7h0m-8 15h0m2 8h0m9 0h0m-8 1h0m-4 1h0m19 34h0m4-19h0m0-6h0m-1-8h0m-6-22h0m-2-6h0m8-2h0m-3-15h0m-5-5h0m12 3h0m1 1h0m0 2h0m1 1h0m0 2h0m8 0h0m-5 6h0m-2 0h0m-1 31h0m6 0h0m-5 4h0m3 5h0m1 2h0m-3 0h0m4 14h0m1 2h0m0 6h0m9 18h0m-2-36h0m-6-2h0m1-11h0m4-46h0m0-8h0m14 77h0m2 3h0m-9 14h0m17-77h0m3-3h0m-5-17h0m9-5h0m6 110h0m9 19h0m5-12h0m1-5h0m-9-5h0m1-83h0m21 10h0m-7 3h0m5 1h0m3 80h0m-11 12h0m20 3h0m-2-92h0m-5-4h0m19 93h0m3 5h0m9 14h0m-1-14h0m16-81h0m0 94h0m-2 1h0m0 6h0m6-100h0m19 2h0m-5 95h0m6 3h0m11 10h0m-9-7h0m7-99h0m-2-1h0m5-9h0m-3-9h0m8 0h0m7 7h0m-7 13h0m5 2h0m-5 0h0m1 107h0m8-5h0m5-1h0m1-107h0m8 113h0m17-105h0m0-1h0m-1-1h0m-6-1h0m11-3h0m11 6h0m-9 87h0m-1 5h0m16 8h0m1-25h0m2-84h0m2-1h0m-1-2h0m14 3h0m-5 72h0m-1 5h0m5 2h0m-7 26h0m3 5h0m18-12h0m-1-6h0m-5-12h0m2-14h0m-4-4h0m1-4h0m-3-62h0m6-5h0m4-14h0m-4-2h0m-6-5h0m13 3h0m1 3h0m-3 9h0m9 0h0m-9 5h0m5 7h0m5 8h0m-4 60h0m7 40h0m5-65h0m-2 0h0m4-61h0m-8-12h0m0-1h0m1-3h0" stroke="#00f" class="dt"/>
<path transform="scale(.5)" d="M625 1120h0m10 7h0m-11 29h0m11 18h0m9-53h0m-4 0h0m8-25h0m0 104h0m20-16h0m3-3h0m-5-37h0m2-17h0m2-5h0m0-3h0m1-5h0m-5-8h0m6 7h0m6 11h0m-4 8h0m3 5h0m1 2h0m2 1h0m-6 4h0m7 1h0m-8 2h0m3 2h0m-1 8h0m0 12h0m8 2h0m-6 6h0m4 20h0m6-5h0m0-13h0m-2-2h0m9-8h0m-1-16h0m1-7h0m-8-41h0m13 37h0m1 0h0m7 4h0m-5 7h0m-4 3h0m1 5h0m8 4h0m-5 7h0m1 24h0m7-5h0m3-1h0m-2-11h0m7-12h0m0-1h0m-2-3h0m0-1h0m-2-3h0m1-5h0m-6-31h0m2-8h0m17 19h0m3 6h0m-8 4h0m6 8h0m-1 6h0m2 7h0m-1 0h0m2 0h0m0 2h0m-11 0h0m4 4h0m-4 5h0m4 3h0m6 2h0m0 9h0m1 4h0m-9 6h0m7 5h0m15-14h0m-5-24h0m-3-1h0m2-12h0m5-2h0m-6-4h0m5-44h0m14 47h0m-8 9h0m-3 19h0m2 10h0m8 0h0m-2 6h0m-1 3h0m0 0h0m0 1h0m5 42h0m10-6h0m-3-17h0m-1-3h0m-6-4h0m10-3h0m-4-9h0m-5 0h0m2-50h0m3-3h0m-4-1h0m17-3h0m-2 11h0m-2 62h0m0 2h0m3 8h0m-6 5h0m13 19h0m6-12h0m-1-80h0m-3-11h0m10 8h0m4 0h0m4 3h0m-9 3h0m2 78h0m-2 0h0m1 14h0m18-7h0m-2-4h0m2-82h0m-6-1h0m6-8h0m9 19h0m2 1h0m2 80h0m4-81h0m6-5h0m-5-7h0m9 0h0m5 21h0m-2 82h0m1 2h0m6 6h0m10 11h0m-4-12h0m6-83h0m-2-30h0m12 26h0m0 6h0m-3 89h0m4 11h0m11-97h0m13-11h0m-2 12h0m6 98h0m-1 1h0m13 8h0m-3-3h0m-6-103h0m8 0h0m-10-3h0m10-5h0m2 10h0m-1 1h0m2 105h0m21 10h0m-7-11h0m7-4h0m-1 0h0m-6-123h0m8 21h0m9 1h0m13 3h0m-7 0h0m13 89h0m-4 0h0m12-8h0m10-85h0m-3 0h0m15-45h0m-9 49h0m6 74h0m4 6h0m-7 4h0m14-33h0m3-4h0m-5-54h0m6-4h0m-4-17h0m-3-6h0m2-15h0m17-19h0m-7 38h0m4 0h0m0 5h0m3 6h0m-6 3h0m-4 7h0m7 9h0m-6 41h0m1 8h0m3 3h0m-2 42h0m14 1h0m2-64h0m-2-32h0m-3-6h0" stroke="#00f" class="dt"/>
<path transform="scale(.5)" d="M619 1109h0m11 2h0m2 34h0m-1 20h0m8 0h0m2-32h0m7-49h0m11 28h0m-6 15h0m6 3h0m-4 32h0m13 42h0m-4-22h0m6-20h0m-9-42h0m11-30h0m10-5h0m-8 5h0m7 28h0m2 3h0m-3 19h0m3 16h0m-7 0h0m2 6h0m3 1h0m2 0h0m8 35h0m-6-45h0m3-3h0m6-2h0m-5-8h0m2-7h0m-5-3h0m5-5h0m16-10h0m-6 19h0m3 7h0m-4 3h0m-3 17h0m5 3h0m5 2h0m-8 3h0m7 1h0m0 1h0m-7 1h0m-3 5h0m12 19h0m1 10h0m4 0h0m6-26h0m-8-1h0m-1-6h0m7-1h0m-6-14h0m9-3h0m-9-2h0m1-5h0m4-7h0m-5-17h0m17 10h0m1 13h0m-6 7h0m0 11h0m0 6h0m7 4h0m-2 1h0m-6 3h0m3 15h0m2 3h0m1 26h0m12-27h0m-8 0h0m7-1h0m2-2h0m-5-6h0m7-2h0m-5-8h0m2 0h0m-7-1h0m7-11h0m-6 0h0m3-1h0m-3-13h0m3-9h0m0-2h0m11 6h0m6 4h0m-1 3h0m-4 1h0m-4 2h0m1 9h0m0 9h0m2 3h0m1 7h0m-5 7h0m11 1h0m-3 6h0m0 6h0m2 6h0m-7 1h0m1 17h0m11 15h0m2-9h0m0-12h0m5-5h0m-4-5h0m1-8h0m0 0h0m-5-4h0m1-2h0m0-3h0m-2-37h0m6 0h0m-1-1h0m-1-3h0m5-7h0m4 9h0m-1 65h0m2 4h0m6 1h0m0 5h0m2 3h0m0 24h0m-8 0h0m12-23h0m6 0h0m-2-84h0m6-9h0m10 101h0m-6 0h0m3 2h0m8 14h0m-3-12h0m3-2h0m2-2h0m-3-77h0m0-2h0m12 85h0m-1 5h0m19 11h0m0-4h0m-3-3h0m6-83h0m-11-2h0m11-17h0m10 24h0m3 100h0m2-14h0m5-84h0m3-5h0m4 2h0m6 7h0m0 94h0m13 10h0m-1-3h0m-9-8h0m24-94h0m-4 7h0m-3 93h0m-1 4h0m4 11h0m8-8h0m-4-102h0m15-7h0m0 11h0m13 108h0m-2-5h0m3-105h0m1-2h0m10 2h0m-1 1h0m14 102h0m3-7h0m2-1h0m-10-90h0m20 105h0m7-109h0m4-7h0m17 73h0m-8 42h0m20-18h0m-6-31h0m5-62h0m-5-14h0m-6-2h0m10-6h0m9-29h0m-2 6h0m3 19h0m-4 5h0m-1 14h0m7 0h0m-9 4h0m10 39h0m-1 2h0m-4 6h0m11 7h0m-1-61h0m-1-3h0m5 0h0" stroke="#00f" class="dt"/>
<path transform="scale(.5)" d="M620 1172h0m-4-28h0m2-4h0m14-38h0m-3 44h0m14 16h0m0-70h0m14 8h0m2 21h0m-4 18h0m4 33h0m6-10h0m5-8h0m-8-23h0m10-4h0m0-17h0m-9-2h0m19 14h0m-6 25h0m4 17h0m-3 19h0m8 16h0m3-5h0m-3-8h0m7-10h0m-7-29h0m2-10h0m19-11h0m-1 4h0m0 10h0m-6 1h0m1 1h0m5 3h0m-1 3h0m-7 0h0m8 1h0m-1 7h0m-3 4h0m7 8h0m-10 3h0m5 21h0m5 30h0m9-2h0m-5-31h0m0-2h0m4-10h0m-2-9h0m3-1h0m-7-7h0m1-2h0m4-1h0m2-12h0m3-3h0m-3-11h0m-1-1h0m-6 0h0m17 14h0m-1 16h0m0 2h0m0 4h0m-6 4h0m8 4h0m2 1h0m-6 4h0m5 2h0m-2 10h0m-4 2h0m6 10h0m9 0h0m-1-3h0m4-16h0m-9-1h0m5-4h0m-1-10h0m8-1h0m-7-2h0m-4-2h0m3-4h0m7-5h0m-1-4h0m4 3h0m2 5h0m0 1h0m-2 3h0m0 2h0m-1 2h0m3 16h0m-3 2h0m10 11h0m-9 6h0m-1 0h0m8 29h0m6 3h0m5-2h0m1-4h0m-1-6h0m-5-2h0m-1-8h0m9-5h0m-6-1h0m-5-51h0m6-1h0m2-5h0m-7-9h0m12 73h0m1 5h0m4 4h0m0 2h0m3 11h0m-6 1h0m17 25h0m-5-24h0m-2-4h0m3-2h0m-4-5h0m8-67h0m3-4h0m-5-2h0m-1-1h0m18 6h0m-8 2h0m5 4h0m3 74h0m-9 5h0m19 6h0m-4-2h0m4-6h0m-1-75h0m-1-25h0m12 22h0m-2 2h0m-3 1h0m5 0h0m-3 5h0m4 79h0m-4 27h0m13-8h0m2-5h0m0-8h0m4-94h0m-1-3h0m4 9h0m-1 1h0m6 7h0m-1 86h0m2 0h0m-4 6h0m8 7h0m1-10h0m18-95h0m5 17h0m-5 94h0m9 1h0m10-93h0m2 96h0m4 1h0m15 17h0m-5-11h0m4-1h0m-3-2h0m14-98h0m-5 103h0m0 1h0m-2 3h0m11 2h0m10-5h0m-6-2h0m5-99h0m-5-4h0m9 104h0m3 1h0m7 5h0m7-103h0m10-22h0m5 105h0m-5 2h0m2 1h0m-5 2h0m-2 7h0m19-101h0m11 71h0m14 32h0m-8-23h0m11-2h0m-1-33h0m2-4h0m-1-38h0m-4-14h0m11-51h0m3 46h0m2 5h0m0 10h0m-3 1h0m-5 0h0m2 2h0m1 3h0m-4 43h0m13-8h0m0-57h0" stroke="#00f" class="dt"/>
<path transform="scale(.5)" d="M626 1078h0m11 78h0m0-15h0m0-21h0m6 0h0m10 12h0m6 3h0m-4 10h0m6 34h0m0-3h0m7-23h0m-2-11h0m-3-1h0m0-1h0m-2-3h0m2-2h0m5-2h0m3-7h0m12-11h0m-5 23h0m3 1h0m1 8h0m-9 4h0m0 10h0m5 1h0m-1 1h0m19 25h0m-7-7h0m-2-9h0m5-1h0m2-7h0m0-3h0m2-1h0m-1-9h0m-3-1h0m3-3h0m-7-2h0m4-7h0m-4-11h0m0-4h0m3-1h0m15 15h0m-3 0h0m4 1h0m-4 7h0m-2 2h0m-2 2h0m4 7h0m1 0h0m-6 1h0m1 7h0m3 0h0m-5 3h0m9 4h0m-2 11h0m-6 27h0m18-31h0m-1-1h0m1-4h0m1 0h0m3 0h0m-11-5h0m5-7h0m0-9h0m3-4h0m0-3h0m-4-1h0m1-6h0m-2-15h0m15-2h0m-4 28h0m7 4h0m0 2h0m2 6h0m-4 0h0m-2 5h0m15 45h0m-3-3h0m4-24h0m-4-1h0m-5-7h0m0-9h0m9-14h0m-7-26h0m17 0h0m4 16h0m-2 8h0m-1 1h0m-4 0h0m6 4h0m-10 24h0m2 3h0m5 2h0m-3 1h0m4 1h0m-7 4h0m8 2h0m-6 0h0m1 1h0m1 0h0m-4 1h0m8 4h0m-5 8h0m2 3h0m16 18h0m-9-9h0m8-10h0m-10-52h0m3-3h0m4-13h0m-7-3h0m13 0h0m2 2h0m4 11h0m-6 2h0m8 70h0m-6 0h0m16 10h0m-4-1h0m8-76h0m-5-13h0m17 20h0m0 76h0m6 9h0m-1-3h0m5-2h0m-5-3h0m2-78h0m3-16h0m-7-16h0m17 37h0m-2 80h0m-1 1h0m12 8h0m10 6h0m9 13h0m-7 0h0m12-7h0m14 8h0m5 1h0m-4 3h0m15 4h0m-9-3h0m-1-2h0m5-90h0m1-4h0m-6-7h0m18 2h0m-2 4h0m1 2h0m16 105h0m1-97h0m6-21h0m-3 13h0m12 4h0m21-7h0m-2 14h0m-6 99h0m20-1h0m-4-1h0m-6-97h0m7-1h0m3-3h0m9 0h0m-5 3h0m2 86h0m11-88h0m5-11h0m-5-6h0m3-8h0m17 14h0m-8 9h0m9 2h0m-7 2h0m4 63h0m4 28h0m3-20h0m0-19h0m5-6h0m-1-1h0m2 0h0m-3-47h0m5-4h0m11-45h0m-2 7h0m2 12h0m-6 3h0m5 1h0m1 20h0m0 4h0m6 95h0m-1-34h0m4-19h0m-2-39h0m-3-2h0m0-10h0m2-4h0m-5-39h0m15 56h0" stroke="#00f" class="dt"/>
<path transform="scale(.5)" d="M629 1104h0m0 0h0m-2 26h0m1 5h0m4 2h0m13-18h0m-8-8h0m17-9h0m1 2h0m9 71h0m0-10h0m5-4h0m-6-3h0m0 0h0m-2-14h0m10-10h0m-7-1h0m8-9h0m-1-1h0m-8-7h0m-2-25h0m21 35h0m-7 0h0m-3 16h0m1 5h0m6 1h0m-7 19h0m5 11h0m-3 4h0m17 23h0m-6-2h0m7-9h0m0-19h0m-1-13h0m1-1h0m3-10h0m-2-1h0m-6-1h0m2-10h0m6-1h0m-6 0h0m5-3h0m-5-1h0m-2-3h0m8-32h0m11 21h0m0 30h0m-7 3h0m4 6h0m0 11h0m2 5h0m-4 28h0m16-12h0m-1-1h0m-6-23h0m2-1h0m-2-8h0m5-14h0m-2-1h0m12-34h0m4 54h0m-1 4h0m-7 4h0m-1 7h0m7 1h0m-2 12h0m6 4h0m-7 2h0m5 8h0m13-9h0m-10-2h0m1-14h0m5-4h0m-5-2h0m4-6h0m3-4h0m-1-1h0m4-1h0m-9-18h0m13-2h0m9 17h0m-8 1h0m1 4h0m-3 7h0m-1 10h0m7 5h0m-3 4h0m5 6h0m-1 1h0m0 0h0m-1 2h0m0 2h0m-7 3h0m9 1h0m-2 6h0m2 2h0m-7 0h0m0 10h0m7 9h0m4 1h0m10-10h0m-7-18h0m-2-2h0m5-1h0m-4-7h0m1-38h0m4-18h0m-1-3h0m4 7h0m10 3h0m-3 11h0m1 0h0m4 1h0m-10 52h0m0 0h0m1 2h0m1 9h0m-2 15h0m19 21h0m-3-11h0m-1-88h0m-5-5h0m12-6h0m2 13h0m1 80h0m12 8h0m0-109h0m13 25h0m2 1h0m1 81h0m-6 3h0m2 10h0m21 3h0m-5-5h0m0-105h0m5 17h0m3 9h0m9 0h0m-2 1h0m-1 84h0m-3 6h0m1 0h0m8 5h0m5-1h0m-6-4h0m4-90h0m7 5h0m5 1h0m5 3h0m-9 85h0m10 12h0m11-97h0m-10-15h0m21 20h0m-9 91h0m7 5h0m-4 9h0m-4 6h0m16-15h0m20 5h0m-6 4h0m-4 5h0m13-125h0m21 10h0m-2 7h0m-6 99h0m15 4h0m8-102h0m13 85h0m-2-88h0m19-18h0m-3 17h0m-1 2h0m-4 75h0m5 2h0m-2 8h0m-2 6h0m15-94h0m6-4h0m-8-2h0m7-2h0m-2-13h0m3-5h0m-1-1h0m10-10h0m-3 2h0m0 4h0m2 0h0m-7 9h0m1 4h0m10 9h0m-1 47h0m-5 0h0m2 5h0m3 3h0m-6 8h0m0 7h0m2 17h0m9-99h0" stroke="#00f" class="dt"/>
<path transform="scale(.5)" d="M751 967h0m-4 11h0m7 10h0m1 23h0m9 49h0m-3-2h0m-3-15h0m4-4h0m-3-1h0m8-3h0m0-1h0m0-2h0m-3-4h0m-1 0h0m2-4h0m-1 0h0m1-1h0m-2 0h0m-2-1h0m2 0h0m-7-1h0m7-5h0m-2-2h0m0-1h0m-1-1h0m3-1h0m-7-1h0m4-1h0m3-2h0m-1 0h0m-2-3h0m2-6h0m2-9h0m-7-5h0m6 0h0m-2 0h0m-1-4h0m7-3h0m-8-4h0m9-2h0m-8-1h0m6 0h0m-1-2h0m-1-10h0m0-4h0m3-15h0m2 1h0m0 5h0m1 2h0m0 2h0m4 9h0m-4 3h0m0 4h0m4 0h0m2 2h0m-6 0h0m4 2h0m5 0h0m-8 0h0m2 0h0m5 0h0m-10 1h0m7 0h0m3 1h0m1 0h0m-10 2h0m6 68h0m-2 0h0m1 3h0m-4 1h0m-1 1h0m10 2h0m0 0h0m-1 2h0m-3 1h0m-3 0h0m3 18h0m2 11h0m0 21h0m0 5h0m10-8h0m4-1h0m-4-17h0m1-3h0m2-1h0m2-3h0m-1-4h0m-9-1h0m6-2h0m-2-1h0m5-1h0m-2-2h0m3-2h0m-2-2h0m-8-1h0m9-1h0m-11-3h0m7-1h0m-1 0h0m-5 0h0m1 0h0m0-1h0m0-3h0m4-77h0m-5-1h0m2-3h0m5 0h0m-1 0h0m-4-3h0m2-1h0m-3 0h0m0-2h0m2-13h0m7-17h0m5 40h0m1 1h0m-3 1h0m6 2h0m-6 1h0m8 0h0m-4 1h0m3 0h0m1 2h0m1 6h0m-8 76h0m-1 1h0m0 0h0m3 4h0m2 2h0m3 0h0m-9 4h0m4 1h0m5 1h0m-1 0h0m-5 1h0m5 0h0m-3 0h0m2 4h0m0 2h0m-2 1h0m-3 2h0m9 6h0m-6 5h0m4 13h0m-1 3h0m-2 2h0m4 6h0m12 10h0m-5-4h0m-3-4h0m1 0h0m7-17h0m0-3h0m-6 0h0m2 0h0m2-1h0m-8-4h0m11-4h0m-5-3h0m4 0h0m-1-1h0m-3-1h0m0-2h0m2 0h0m1-2h0m-3-1h0m-5-2h0m3-2h0m2 0h0m-2-2h0m-4-2h0m0-1h0m-1-4h0m11-72h0m-4-3h0m-2-1h0m-1-5h0m0-3h0m3-1h0m-3-3h0m-2-2h0m14 7h0m-1 1h0m2 8h0m-3 3h0m7 5h0m-5 1h0m3 2h0m5 5h0m-11 74h0m3 5h0m1 1h0m0 1h0m1 2h0m0 1h0m-2 3h0m5 2h0m-3 0h0m-3 0h0m-1 0h0m2 1h0m4 2h0m-6 5h0m6 3h0m0 4h0m3 1h0m-11 3h0m5 4h0m7 14h0m-2 6h0m10 26h0m3-27h0m-6-1h0m7-10h0m-2-1h0m-5-2h0m3-8h0m-2 0h0m-1-101h0m0-8h0m-4-2h0m14 19h0m2 2h0m3 4h0m3 3h0m-2 109h0m-5 9h0m5 17h0m1 2h0m-8 1h0m11-2h0m1-10h0m-1-6h0m8-103h0m-2-3h0m9 131h0m3 11h0m-2 2h0m5 3h0m14 35h0m-1-3h0m-9-144h0m21 52h0m1 83h0m-5 3h0m7 14h0m2-40h0m2-18h0m0-13h0m-2-23h0" stroke="#f00" class="dt"/>
<path transform="scale(.5)" d="M751 957h0m-7 46h0m12 11h0m-2 1h0m2 7h0m0 4h0m9 38h0m1-10h0m1-8h0m-5-7h0m5-2h0m-6-3h0m2-1h0m3-1h0m-3-7h0m2-1h0m-7-3h0m3-8h0m0-3h0m0-1h0m-2 0h0m4-2h0m-7-3h0m3 0h0m-3-1h0m8-2h0m-1-6h0m1-3h0m0-2h0m-3 0h0m0 0h0m3-6h0m-3-1h0m1 0h0m-5-2h0m3-1h0m6 0h0m1-1h0m-1-2h0m-8 0h0m2-2h0m7 0h0m-8 0h0m6-1h0m-7 0h0m4 0h0m3-1h0m0-2h0m-1-3h0m-5-1h0m1-2h0m-4-2h0m6-6h0m4-1h0m13-8h0m-8 9h0m4 1h0m-4 1h0m0 9h0m2 0h0m4 2h0m-2 0h0m-6 64h0m0 1h0m3 2h0m-1 2h0m3 2h0m3 4h0m0 0h0m-4 0h0m4 1h0m1 0h0m0 1h0m0 2h0m2 2h0m-1 7h0m1 9h0m11 44h0m-2-20h0m-4-7h0m6-5h0m-4-1h0m5 0h0m0-5h0m-1-7h0m-2 0h0m3-3h0m-1-1h0m-8-3h0m8 0h0m-5-2h0m-1-1h0m1 0h0m-1-1h0m3 0h0m-3 0h0m-4-3h0m5-1h0m-5-2h0m8-78h0m-3-1h0m2-1h0m-7-1h0m0 0h0m4-1h0m-2-1h0m3 0h0m-5-2h0m2-7h0m3-2h0m-1-4h0m6-1h0m2-5h0m6 7h0m0 4h0m-4 4h0m3 5h0m-1 3h0m-4 6h0m3 3h0m8 3h0m-2 1h0m-1 2h0m-9 74h0m5 5h0m-4 1h0m7 1h0m-5 2h0m-3 1h0m8 0h0m-6 1h0m9 0h0m-1 1h0m1 0h0m-5 1h0m1 0h0m-1 2h0m3 2h0m-5 4h0m-2 2h0m9 1h0m0 0h0m-2 1h0m-2 1h0m-5 2h0m4 3h0m2 1h0m-6 15h0m21 39h0m-1-18h0m1-7h0m-5-14h0m2-2h0m-3-4h0m4-3h0m-7-2h0m0-1h0m5 0h0m-4-1h0m7-2h0m-1-1h0m-1 0h0m2-1h0m-5 0h0m3-2h0m-2-1h0m1-1h0m4-1h0m-5 0h0m-2-1h0m1-4h0m-5-2h0m2-3h0m-1-1h0m9-74h0m-3-7h0m-1 0h0m-1-2h0m4-1h0m-9 0h0m2 0h0m3 0h0m-1-1h0m0-2h0m-4 0h0m2-9h0m1-2h0m9 14h0m3 6h0m-1 4h0m0 1h0m0 3h0m4 4h0m-2 88h0m2 1h0m0 8h0m1 13h0m-4 0h0m7 8h0m-3 3h0m4 3h0m0 17h0m-1 5h0m9 8h0m-5-11h0m7-1h0m-3-14h0m6-4h0m-6-2h0m0-9h0m-1-5h0m7-90h0m-2 0h0m-2-1h0m-1 0h0m-2-3h0m6-1h0m-9-6h0m3 0h0m-4-6h0m0-1h0m14 13h0m-2 9h0m4 4h0m1 123h0m-2 0h0m17 20h0m-1-10h0m-4-9h0m4-102h0m1-7h0m-7-2h0m17 29h0m-6 108h0m2 1h0m-1 1h0m2 3h0m13 36h0m0-3h0m5-112h0m-4-12h0m-3-4h0m1-4h0m14 43h0m5 88h0m-1 2h0m-4 6h0m-1 1h0m2 1h0m11-20h0" stroke="#f00" class="dt"/>
<path transform="scale(.5)" d="M754 957h0m2 14h0m-2 4h0m1 0h0m-2 12h0m-5 4h0m5 8h0m-4 4h0m3 11h0m3 15h0m8 36h0m0-23h0m0-1h0m-2-3h0m6-5h0m-1-2h0m-2-1h0m2-2h0m0 0h0m0 0h0m-3-2h0m-1-5h0m2 0h0m0-1h0m0-2h0m-2 0h0m-6-6h0m6-1h0m-6-7h0m3 0h0m4-2h0m-5 0h0m2-3h0m1-8h0m-4-1h0m5-3h0m1-2h0m2-1h0m1-3h0m-3 0h0m0-3h0m5-4h0m-2-1h0m-6 0h0m1-1h0m5 0h0m1-2h0m1-2h0m-6 0h0m-3-1h0m7 0h0m1-2h0m0-5h0m1-4h0m-6-8h0m5-4h0m3-11h0m8 19h0m-3 4h0m-3 4h0m-2 3h0m8 4h0m-3 1h0m-7 65h0m3 4h0m0 0h0m-1 2h0m5 1h0m-6 0h0m2 3h0m7 0h0m0 1h0m-3 3h0m1 0h0m-1 3h0m2 2h0m0 1h0m1 1h0m0 2h0m-6 2h0m6 6h0m-7 7h0m5 31h0m11-19h0m5-4h0m-1-6h0m-4-5h0m1-4h0m-6-1h0m5-2h0m-4-3h0m7-2h0m1 0h0m-11-2h0m4-4h0m-2 0h0m2 0h0m-1-1h0m0 0h0m8-78h0m-8 0h0m5 0h0m-5 0h0m2-1h0m-4-1h0m7 0h0m-7-2h0m2-3h0m2-3h0m4-4h0m-9-1h0m3-7h0m11-11h0m4 7h0m-6 10h0m1 5h0m1 10h0m3 3h0m-3 1h0m5 4h0m1 2h0m0 1h0m0 1h0m3 1h0m-10 75h0m2 2h0m2 1h0m2 2h0m-5 2h0m1 1h0m5 2h0m4 0h0m-8 0h0m-2 1h0m3 2h0m-2 0h0m-1 1h0m4 1h0m-5 0h0m8 1h0m-6 1h0m7 0h0m-5 1h0m4 1h0m-4 1h0m5 2h0m2 1h0m-10 0h0m6 2h0m3 2h0m-5 2h0m4 2h0m-7 3h0m5 4h0m-8 2h0m11 0h0m6 23h0m0-10h0m-4-8h0m2-1h0m1-3h0m-3-2h0m10 0h0m-3-1h0m1-1h0m2-2h0m-11-2h0m5-1h0m-2-1h0m-2 0h0m2-2h0m-2-1h0m6-3h0m-1-1h0m-2 0h0m2-1h0m1-1h0m2 0h0m-5 0h0m0-1h0m3-1h0m-2-1h0m-4-3h0m1-2h0m8-75h0m1-6h0m-9-2h0m8-5h0m-6-1h0m1-2h0m-4-11h0m1-3h0m21 18h0m-2 3h0m-5 10h0m1 0h0m0 1h0m-2 2h0m1 2h0m0 1h0m2 2h0m4 1h0m-7 86h0m1 0h0m0 3h0m3 2h0m-5 0h0m7 4h0m1 3h0m-1 9h0m-1 4h0m-3 1h0m3 30h0m0 2h0m15-5h0m0-3h0m-5-3h0m2-7h0m3-1h0m-4-3h0m-3-3h0m0-4h0m-3-8h0m4 0h0m12-88h0m2 8h0m-2 103h0m1 2h0m-4 4h0m8 0h0m12 29h0m-2-3h0m-6-13h0m5-99h0m0-5h0m-2-3h0m-3-7h0m13 139h0m3 6h0m-4 3h0m16-102h0m7 18h0m10 109h0m-2 3h0m-2 6h0m16-23h0m-3-13h0m-1-24h0m-5-15h0m0-2h0" stroke="#f00" class="dt"/>
<path transform="scale(.5)" d="M753 968h0m2 6h0m-5 6h0m-5 2h0m10 6h0m0 3h0m-1 21h0m1 7h0m11 33h0m1-18h0m-4-2h0m2-7h0m0 0h0m0-1h0m0-4h0m-1 0h0m-1-3h0m-6-1h0m2-1h0m-3-1h0m6-1h0m-2-5h0m2 0h0m0-2h0m-1 0h0m-4-1h0m1-2h0m4-2h0m-4-4h0m2-17h0m3-1h0m-5-1h0m8-8h0m-9 0h0m5-3h0m3-3h0m-4 0h0m-4-1h0m4 0h0m-2-5h0m19-15h0m1 16h0m-7 3h0m-4 3h0m8 1h0m-3 0h0m-1 3h0m0 0h0m7 2h0m-11 0h0m1 68h0m1 0h0m4 3h0m-2 0h0m3 1h0m-1 0h0m2 1h0m-2 7h0m4 3h0m-3 1h0m5 3h0m-1 1h0m0 15h0m-3 5h0m3 7h0m3 2h0m7-16h0m1-1h0m-7-4h0m4 0h0m2-2h0m0-1h0m1 0h0m-4-2h0m0-1h0m2-2h0m-4-1h0m2 0h0m3 0h0m-2-3h0m3 0h0m-2-1h0m-3-2h0m-4-82h0m3 0h0m2 0h0m-4-3h0m9-2h0m-7 0h0m2-1h0m5-3h0m-4-1h0m0-1h0m-1-12h0m-2-7h0m12 1h0m0 9h0m6 15h0m-10 3h0m0 1h0m10 1h0m-8 2h0m5 0h0m-7 1h0m2 2h0m3 1h0m-2 0h0m3 2h0m5 8h0m-10 75h0m2 1h0m5 2h0m-3 1h0m3 1h0m-7 0h0m3 3h0m7 0h0m-6 1h0m4 0h0m-5 0h0m7 2h0m1 1h0m-4 3h0m0 2h0m2 5h0m-2 0h0m4 1h0m-8 0h0m3 2h0m1 5h0m-6 2h0m8 4h0m7 68h0m3-40h0m1-5h0m-9 0h0m6-3h0m-2-7h0m4-4h0m1-7h0m0-6h0m-9 0h0m8-8h0m-2-1h0m4 0h0m0-1h0m-5 0h0m3 0h0m1-1h0m-9 0h0m6-2h0m-1 0h0m2 0h0m-7-1h0m4 0h0m-3-1h0m0 0h0m-1 0h0m7 0h0m-2-1h0m-1-2h0m0-1h0m-3-1h0m0 0h0m8-78h0m0 0h0m0-5h0m-9-5h0m6-2h0m-2-14h0m-1-4h0m-1-3h0m19 36h0m-5 1h0m7 4h0m-3 1h0m-2 0h0m6 9h0m-11 75h0m2 3h0m0 2h0m3 1h0m-1 0h0m1 1h0m-1 4h0m4 0h0m-3 2h0m3 0h0m-4 3h0m-4 1h0m10 4h0m-7 4h0m7 7h0m-9 5h0m5 2h0m-5 28h0m11 17h0m9-21h0m2 0h0m-10-5h0m6-4h0m-7-12h0m1-3h0m-2-4h0m5-1h0m-3-6h0m0-5h0m0-2h0m9-83h0m-1-1h0m0-4h0m-1 0h0m1-1h0m0-1h0m-4-3h0m-4-2h0m3-1h0m-5-2h0m3-9h0m17 19h0m-6 1h0m0 115h0m3 2h0m-1 4h0m2 5h0m-2 10h0m2 28h0m17-10h0m0-1h0m-4-12h0m-6 0h0m2-4h0m-3-7h0m4-107h0m-1-2h0m-2-3h0m20 156h0m14 41h0m-3-137h0m15 112h0m-2 7h0m-1 11h0m9-9h0m3-4h0m-7-3h0m2-13h0m3-32h0m2-6h0m-4-3h0m7-1h0" stroke="#f00" class="dt"/>
<path transform="scale(.5)" d="M755 961h0m-4 5h0m1 15h0m2 4h0m1 10h0m1 14h0m-8 6h0m6 3h0m13 22h0m0-3h0m-8-2h0m4-1h0m4 0h0m-2-1h0m-4-1h0m2-2h0m-7-1h0m5-2h0m-2-4h0m3-1h0m1 0h0m-6-1h0m5 0h0m0-2h0m-4-1h0m5-5h0m-4 0h0m1-1h0m-3-10h0m0-3h0m1 0h0m-1-1h0m7-1h0m-2-1h0m-2-1h0m-3-1h0m2-1h0m3-1h0m2-3h0m0 0h0m0-4h0m1 0h0m-5-1h0m0-2h0m3-2h0m1-3h0m-6-4h0m6-2h0m3-4h0m-4-4h0m-3-2h0m6-5h0m9-11h0m0 14h0m1 2h0m-7 4h0m3 3h0m3 1h0m-6 1h0m3 0h0m-4 63h0m3 4h0m1 1h0m0 2h0m1 0h0m2 1h0m-2 0h0m1 2h0m2 0h0m-1 1h0m-3 0h0m4 1h0m-2 1h0m4 0h0m1 0h0m-6 2h0m5 0h0m2 0h0m-5 1h0m-1 1h0m4 0h0m-2 1h0m0 2h0m-3 6h0m3 17h0m0 3h0m-2 2h0m18 20h0m-3-8h0m-3-4h0m1-9h0m-1-2h0m-1-5h0m6-3h0m0-1h0m-6-1h0m2-1h0m2-2h0m-8-3h0m4-2h0m5-3h0m-7 0h0m2 0h0m3-2h0m-4-1h0m2 0h0m0-1h0m-4 0h0m-2 0h0m1-1h0m7-84h0m-5 0h0m1-1h0m0-1h0m8-1h0m-5-10h0m-2-18h0m12 18h0m-5 10h0m4 0h0m-2 3h0m9 3h0m-8 2h0m0 0h0m2 5h0m1 2h0m4 0h0m2 4h0m-11 74h0m2 3h0m3 2h0m0 0h0m1 3h0m1 0h0m0 1h0m-4 0h0m6 1h0m1 0h0m1 1h0m-6 0h0m4 1h0m0 2h0m1 0h0m-1 1h0m-4 0h0m5 4h0m1 8h0m-2 5h0m1 2h0m-6 4h0m1 1h0m4 2h0m-4 6h0m-2 2h0m11 23h0m7-13h0m1 0h0m-11-6h0m5-3h0m4-1h0m0-1h0m-8-7h0m7-2h0m0-1h0m-2-3h0m5-2h0m-8 0h0m3-8h0m-5 0h0m3-3h0m3-1h0m1-1h0m-3 0h0m-4-1h0m0-2h0m2-1h0m-1-2h0m8-76h0m-2 0h0m2-11h0m-9 0h0m7-1h0m-7-1h0m13-5h0m2 12h0m-2 12h0m8 5h0m1 1h0m0 0h0m-7 80h0m-2 2h0m-1 1h0m5 5h0m-3 1h0m-2 2h0m8 1h0m-1 1h0m-4 2h0m6 4h0m0 5h0m-2 1h0m-4 9h0m3 2h0m5 1h0m-5 3h0m1 0h0m1 2h0m0 10h0m0 20h0m8-20h0m0 0h0m3-13h0m-2-4h0m1-6h0m-4-2h0m-2 0h0m9-97h0m-5-5h0m-4 0h0m14 12h0m2 6h0m-4 112h0m2 0h0m7 6h0m-2 1h0m4 2h0m-8 21h0m16-10h0m-3 0h0m6-104h0m-2-2h0m-8-16h0m2 0h0m14 25h0m4 11h0m-8 104h0m6 16h0m2 12h0m8 12h0m6-112h0m-2-10h0m6 26h0m2 3h0m6 13h0m0 74h0m-8 16h0m10-1h0m0-12h0m3-3h0m2-63h0" stroke="#f00" class="dt"/>
<path transform="scale(.5)" d="M753 980h0m1 9h0m-2 2h0m1 2h0m0 9h0m1 1h0m-3 5h0m3 18h0m9 27h0m-4-15h0m8 0h0m-4-1h0m0 0h0m3 0h0m-5-1h0m-3-2h0m4-1h0m3-1h0m-3-3h0m3 0h0m-1-1h0m0-3h0m-4-4h0m0-1h0m-3-6h0m4-1h0m1-1h0m1-3h0m-6-14h0m5-1h0m2-5h0m-2 0h0m1-1h0m1-1h0m-1-1h0m2-3h0m-3 0h0m2-3h0m0-2h0m3 0h0m-2-2h0m-4-2h0m2-1h0m-4-1h0m9-8h0m-7 0h0m4 0h0m-2-1h0m-2 0h0m1-2h0m2-6h0m0-11h0m-4-5h0m11 12h0m2 9h0m5 0h0m-5 2h0m3 0h0m-3 3h0m6 0h0m-10 0h0m-1 5h0m2 65h0m0 1h0m3 4h0m-2 0h0m6 3h0m-2 1h0m-1 1h0m3 1h0m-3 6h0m-4 4h0m8 3h0m-4 1h0m-3 10h0m5 0h0m8 44h0m1-7h0m-1-27h0m6-11h0m-1-1h0m-1-6h0m3 0h0m-1 0h0m2-2h0m-4-1h0m3 0h0m-11 0h0m11-1h0m-10-1h0m11-1h0m-6 0h0m3-1h0m-5-1h0m2-1h0m1-1h0m-5-1h0m0 0h0m2-1h0m-1 0h0m-3-3h0m5-76h0m0-1h0m-1 0h0m1-1h0m-2 0h0m-1-3h0m7 0h0m-2-1h0m-2-13h0m-3-4h0m9-11h0m11 16h0m1 6h0m-6 1h0m-1 1h0m2 6h0m-6 3h0m7 3h0m-2 2h0m1 2h0m1 4h0m4 3h0m-3 80h0m-2 2h0m2 0h0m0 1h0m2 1h0m-10 0h0m3 0h0m1 1h0m7 0h0m0 0h0m-1 0h0m-3 0h0m-7 2h0m11 0h0m-8 0h0m3 3h0m5 1h0m-4 1h0m5 0h0m-11 0h0m10 2h0m-1 1h0m-3 1h0m1 1h0m-4 6h0m4 1h0m4 0h0m-5 1h0m5 1h0m-11 0h0m5 0h0m-1 25h0m17-4h0m-1-2h0m-7-5h0m5-1h0m-4-5h0m-1-1h0m7-3h0m-5-2h0m1-2h0m3-3h0m-4 0h0m-3-2h0m9-1h0m-5-1h0m1-1h0m-2-1h0m6-1h0m-2-1h0m-5 0h0m3-2h0m1 0h0m-7-1h0m1-2h0m2-1h0m0 0h0m-1-2h0m-1-1h0m10-73h0m-1-1h0m-5-5h0m0-2h0m2-3h0m-1-2h0m1-1h0m0-3h0m-6-20h0m1-1h0m11 36h0m0 4h0m11 6h0m-6 1h0m4 1h0m0 3h0m-10 74h0m2 2h0m-2 8h0m6 1h0m-5 1h0m5 1h0m-3 4h0m7 4h0m-8 0h0m8 7h0m-8 7h0m8 64h0m8-21h0m4-10h0m0-6h0m-3-4h0m0-2h0m0-12h0m2-3h0m-1-2h0m-3 0h0m5-1h0m-3 0h0m-6-1h0m-1-1h0m5-6h0m4-93h0m-5-8h0m9 7h0m1 3h0m4 7h0m1 6h0m-6 94h0m1 3h0m-1 0h0m8 13h0m-7 7h0m6 7h0m13 11h0m-1-6h0m3-106h0m-3-4h0m-5-11h0m-2-3h0m2-12h0m25 57h0m17 52h0m-3 99h0m0 4h0m9-26h0m4-30h0m-1-6h0" stroke="#f00" class="dt"/>
<path transform="scale(.5)" d="M753 974h0m-1 10h0m-2 13h0m3 39h0m10 7h0m4-7h0m-10-1h0m8 0h0m-8-1h0m10-1h0m1 0h0m-7-7h0m-1 0h0m2-2h0m2-1h0m-2-1h0m1 0h0m0-1h0m1-1h0m-3-1h0m1-1h0m0-1h0m-3-2h0m4-3h0m-4-1h0m3-1h0m-1 0h0m1 0h0m-4-1h0m1-4h0m0-6h0m-2-8h0m3-1h0m0-1h0m3-2h0m-7-1h0m5 0h0m3-2h0m2 0h0m-1-1h0m-7 0h0m0-1h0m-1-2h0m9-6h0m-2 0h0m3 0h0m1-1h0m-11-3h0m11-2h0m-8 0h0m-2-6h0m9-29h0m10 19h0m-6 1h0m8 1h0m-9 8h0m1 3h0m-1 1h0m5 2h0m1 2h0m3 1h0m-9 65h0m0 1h0m1 1h0m0 0h0m-2 3h0m-1 1h0m1 0h0m7 1h0m-7 1h0m4 1h0m-4 1h0m8 1h0m-4 3h0m0 0h0m6 0h0m-5 1h0m0 1h0m3 2h0m3 0h0m-5 2h0m-2 3h0m4 3h0m-3 1h0m4 2h0m-10 5h0m0 6h0m6 15h0m16 24h0m-7-35h0m8-3h0m1-3h0m-2-3h0m2 0h0m-8-3h0m3-2h0m-5-1h0m8-4h0m-2 0h0m3-3h0m-6-1h0m-3 0h0m9-1h0m-7-1h0m0 0h0m3-2h0m-1 0h0m-6-2h0m8-80h0m-5 0h0m1 0h0m3-2h0m-1 0h0m0-2h0m-6-1h0m4 0h0m-2-1h0m7-3h0m-3 0h0m-4-1h0m7-1h0m0-17h0m4 24h0m1 7h0m3 0h0m-2 3h0m8 2h0m-5 1h0m4 3h0m2 3h0m-11 72h0m0 1h0m1 2h0m2 2h0m0 0h0m3 1h0m-6 2h0m1 2h0m10 3h0m-1 0h0m1 5h0m-2 3h0m1 2h0m-2 1h0m0 8h0m3 4h0m-8 1h0m-2 5h0m16 41h0m1-8h0m-1-24h0m-1-11h0m3-1h0m1 0h0m1-4h0m-2 0h0m-4-2h0m8-1h0m-8 0h0m5-1h0m-7 0h0m4-5h0m-3-1h0m4-2h0m3-1h0m-1 0h0m-9-3h0m5-1h0m1 0h0m0 0h0m-1 0h0m-5-4h0m10-75h0m0-1h0m-2-5h0m4 0h0m-9-1h0m-1-2h0m0 0h0m-2-5h0m9-1h0m-6 0h0m16 2h0m-6 10h0m10 1h0m-6 3h0m3 0h0m-2 2h0m-1 2h0m3 2h0m3 8h0m1 2h0m-11 73h0m0 2h0m3 2h0m-3 2h0m0 1h0m1 1h0m0 0h0m-2 1h0m6 1h0m1 2h0m-5 4h0m9 3h0m-3 25h0m14 54h0m-1-24h0m-2-13h0m0-2h0m4-9h0m-5-2h0m3-11h0m-7-4h0m3-5h0m-1-3h0m-1-2h0m6-87h0m-7-8h0m2-10h0m10 24h0m5 5h0m1 3h0m-6 93h0m4 9h0m3 6h0m-3 1h0m-4 1h0m8 11h0m1 4h0m2 13h0m6-10h0m4-101h0m-2-8h0m-1-2h0m-3-6h0m1 0h0m0-1h0m-6-10h0m15 147h0m5 15h0m11 21h0m17-9h0m-3 12h0m-4 5h0m13 3h0m3-31h0m-5-2h0m5-6h0m-3-20h0m1-9h0" stroke="#f00" class="dt"/>
<path transform="scale(.5)" d="M756 956h0m-8 18h0m7 2h0m-5 17h0m-4 4h0m9 2h0m-1 6h0m-5 8h0m14 31h0m4-2h0m-2-4h0m-2-3h0m5-1h0m-5-3h0m1-2h0m2-1h0m-1-2h0m-2-2h0m-1 0h0m1-2h0m-4-3h0m1-1h0m4-1h0m-1-4h0m-2-3h0m-5-1h0m2-3h0m3 0h0m-3-1h0m-1-1h0m5 0h0m-3 0h0m0-2h0m2-14h0m-2-1h0m6 0h0m-6-2h0m3-2h0m2-2h0m4-2h0m-2-1h0m1 0h0m-5-1h0m3 0h0m0-1h0m-3-1h0m-1-4h0m3 0h0m2 0h0m-1-3h0m-1-7h0m1-5h0m1 0h0m-4-2h0m11-14h0m-4 9h0m10 4h0m-11 0h0m10 4h0m-2 2h0m-7 4h0m7 1h0m-3 3h0m-2 2h0m5 1h0m-8 2h0m0 61h0m0 3h0m6 6h0m-5 0h0m-1 0h0m7 0h0m0 2h0m0 1h0m0 0h0m-5 2h0m2 0h0m6 1h0m0 1h0m2 1h0m-4 0h0m3 3h0m-1 1h0m2 0h0m-4 0h0m3 1h0m0 3h0m-10 1h0m10 0h0m-1 3h0m2 5h0m-4 3h0m-1 24h0m10 17h0m6-19h0m-3 0h0m-2-9h0m3-10h0m-1-3h0m1-3h0m3-8h0m-2 0h0m2 0h0m-10-1h0m8-1h0m-8 0h0m6-1h0m-3-3h0m1-1h0m-6-2h0m1 0h0m1-2h0m-2 0h0m3-77h0m1-1h0m-3-2h0m2 0h0m6-5h0m1-5h0m-2-1h0m2-15h0m9 20h0m-6 1h0m3 2h0m-2 2h0m6 5h0m-4 0h0m-1 1h0m-1 3h0m0 1h0m-1 82h0m1 2h0m4 3h0m-3 5h0m7 1h0m-2 1h0m4 2h0m-3 1h0m-5 4h0m3 0h0m5 1h0m-10 1h0m10 1h0m-6 3h0m-3 2h0m0 2h0m9 1h0m-10 3h0m7 27h0m4 6h0m6-5h0m-5-4h0m-2-3h0m5-6h0m4-3h0m-5-4h0m5-4h0m-4 0h0m5-1h0m-1 0h0m2-3h0m-11-4h0m6 0h0m-2-1h0m3-1h0m-5-3h0m4-1h0m0 0h0m-5-3h0m4-1h0m-4-1h0m5-1h0m-4 0h0m0-1h0m-2-3h0m0-1h0m12-73h0m-3-2h0m-1-2h0m-6-7h0m0-1h0m2-1h0m6-2h0m-3-12h0m10 14h0m-3 10h0m5 2h0m0 5h0m4 7h0m-10 75h0m0 1h0m1 7h0m1 3h0m1 0h0m4 2h0m-3 0h0m-3 1h0m1 2h0m6 1h0m1 3h0m-3 0h0m4 0h0m-2 4h0m12 53h0m-4-12h0m0-3h0m-4-8h0m3-1h0m8-3h0m-12-1h0m6-2h0m-5-7h0m1 0h0m6-3h0m1-2h0m-8-10h0m2 0h0m5-88h0m-1-5h0m0-3h0m6 5h0m0 6h0m0 104h0m4 8h0m-4 6h0m0 2h0m6 3h0m1 39h0m14 0h0m2-2h0m0-3h0m-3-3h0m-5-12h0m-3-16h0m7-97h0m-7-18h0m12 142h0m1 9h0m1 10h0m7 1h0m-3 2h0m14 28h0m-9-8h0m2-6h0m0-2h0m4-114h0m8 138h0m1 2h0m8 3h0m4-28h0" stroke="#f00" class="dt"/>
<path d="M372.7 583.6L377.4 579.7L385.1 578.1L395.9 580.5L408.3 585.1L420.7 589.0L433.0 592.8L445.4 595.9L457.8 597.8L473.2 598.7L488.7 598.2L499.5 597.8L510.4 598.2L519.6 598.2L519.6 612.9L510.4 612.9L504.9 612.9L502.6 619.1L498.0 626.9L488.7 636.1L474.8 646.2L460.9 646.2L448.5 643.1L436.1 637.7L425.3 631.5L416.0 625.3L406.8 619.9L395.9 617.6L388.2 609.8L380.5 597.5L375.1 591.3Z" fill="#fff" shape-rendering="crispEdges"/>
<g shape-rendering="crispEdges"><rect x="360.5" y="580.2" width="10" height="10" fill="#f7f7ff" fill-opacity="0.03"/><rect x="370.5" y="570.2" width="10" height="10" fill="#f2f2ff" fill-opacity="0.05"/><rect x="370.5" y="580.2" width="10" height="10" fill="#dadaff" fill-opacity="0.14"/><rect x="370.5" y="590.2" width="10" height="10" fill="#e8e8ff" fill-opacity="0.09"/><rect x="380.5" y="570.2" width="10" height="10" fill="#ececff" fill-opacity="0.08"/><rect x="380.5" y="580.2" width="10" height="10" fill="#cfcfff" fill-opacity="0.19"/><rect x="380.5" y="590.2" width="10" height="10" fill="#cfcfff" fill-opacity="0.19"/><rect x="380.5" y="600.2" width="10" height="10" fill="#dedeff" fill-opacity="0.13"/><rect x="380.5" y="610.2" width="10" height="10" fill="#f3f3ff" fill-opacity="0.05"/><rect x="390.5" y="570.2" width="10" height="10" fill="#f2f2ff" fill-opacity="0.05"/><rect x="390.5" y="580.2" width="10" height="10" fill="#ceceff" fill-opacity="0.19"/><rect x="390.5" y="590.2" width="10" height="10" fill="#babaff" fill-opacity="0.27"/><rect x="390.5" y="600.2" width="10" height="10" fill="#c6c6ff" fill-opacity="0.22"/><rect x="390.5" y="610.2" width="10" height="10" fill="#d9d9ff" fill-opacity="0.15"/><rect x="390.5" y="620.2" width="10" height="10" fill="#f7f7ff" fill-opacity="0.03"/><rect x="400.5" y="580.2" width="10" height="10" fill="#d7d7ff" fill-opacity="0.16"/><rect x="400.5" y="590.2" width="10" height="10" fill="#a9a9ff" fill-opacity="0.34"/><rect x="400.5" y="600.2" width="10" height="10" fill="#b0b0ff" fill-opacity="0.31"/><rect x="400.5" y="610.2" width="10" height="10" fill="#cbcbff" fill-opacity="0.20"/><rect x="400.5" y="620.2" width="10" height="10" fill="#f1f1ff" fill-opacity="0.05"/><rect x="410.5" y="580.2" width="10" height="10" fill="#e6e6ff" fill-opacity="0.10"/><rect x="410.5" y="590.2" width="10" height="10" fill="#a9a9ff" fill-opacity="0.34"/><rect x="410.5" y="600.2" width="10" height="10" fill="#9898ff" fill-opacity="0.40"/><rect x="410.5" y="610.2" width="10" height="10" fill="#b3b3ff" fill-opacity="0.30"/><rect x="410.5" y="620.2" width="10" height="10" fill="#ddddff" fill-opacity="0.13"/><rect x="420.5" y="580.2" width="10" height="10" fill="#f1f1ff" fill-opacity="0.05"/><rect x="420.5" y="590.2" width="10" height="10" fill="#b4b4ff" fill-opacity="0.29"/><rect x="420.5" y="600.2" width="10" height="10" fill="#8888ff" fill-opacity="0.47"/><rect x="420.5" y="610.2" width="10" height="10" fill="#8d8dff" fill-opacity="0.45"/><rect x="420.5" y="620.2" width="10" height="10" fill="#bfbfff" fill-opacity="0.25"/><rect x="420.5" y="630.2" width="10" height="10" fill="#ebebff" fill-opacity="0.08"/><rect x="430.5" y="590.2" width="10" height="10" fill="#cacaff" fill-opacity="0.21"/><rect x="430.5" y="600.2" width="10" height="10" fill="#8282ff" fill-opacity="0.49"/><rect x="430.5" y="610.2" width="10" height="10" fill="#5d5dff" fill-opacity="0.64"/><rect x="430.5" y="620.2" width="10" height="10" fill="#8b8bff" fill-opacity="0.46"/><rect x="430.5" y="630.2" width="10" height="10" fill="#d2d2ff" fill-opacity="0.18"/><rect x="430.5" y="640.2" width="10" height="10" fill="#f6f6ff" fill-opacity="0.04"/><rect x="440.5" y="590.2" width="10" height="10" fill="#ddddff" fill-opacity="0.13"/><rect x="440.5" y="600.2" width="10" height="10" fill="#8686ff" fill-opacity="0.47"/><rect x="440.5" y="610.2" width="10" height="10" fill="#4c4cff" fill-opacity="0.70"/><rect x="440.5" y="620.2" width="10" height="10" fill="#5b5bff" fill-opacity="0.64"/><rect x="440.5" y="630.2" width="10" height="10" fill="#b8b8ff" fill-opacity="0.28"/><rect x="440.5" y="640.2" width="10" height="10" fill="#ebebff" fill-opacity="0.08"/><rect x="450.5" y="590.2" width="10" height="10" fill="#e7e7ff" fill-opacity="0.10"/><rect x="450.5" y="600.2" width="10" height="10" fill="#9191ff" fill-opacity="0.43"/><rect x="450.5" y="610.2" width="10" height="10" fill="#4141ff" fill-opacity="0.75"/><rect x="450.5" y="620.2" width="10" height="10" fill="#3636ff" fill-opacity="0.79"/><rect x="450.5" y="630.2" width="10" height="10" fill="#9292ff" fill-opacity="0.43"/><rect x="450.5" y="640.2" width="10" height="10" fill="#dedeff" fill-opacity="0.13"/><rect x="460.5" y="590.2" width="10" height="10" fill="#ebebff" fill-opacity="0.08"/><rect x="460.5" y="600.2" width="10" height="10" fill="#9f9fff" fill-opacity="0.38"/><rect x="460.5" y="610.2" width="10" height="10" fill="#3434ff" fill-opacity="0.79"/><rect x="460.5" y="620.2" width="10" height="10" fill="#0000ff" fill-opacity="1.00"/><rect x="460.5" y="630.2" width="10" height="10" fill="#7878ff" fill-opacity="0.53"/><rect x="460.5" y="640.2" width="10" height="10" fill="#d6d6ff" fill-opacity="0.16"/><rect x="470.5" y="590.2" width="10" height="10" fill="#ececff" fill-opacity="0.07"/><rect x="470.5" y="600.2" width="10" height="10" fill="#a3a3ff" fill-opacity="0.36"/><rect x="470.5" y="610.2" width="10" height="10" fill="#4343ff" fill-opacity="0.74"/><rect x="470.5" y="620.2" width="10" height="10" fill="#2c2cff" fill-opacity="0.83"/><rect x="470.5" y="630.2" width="10" height="10" fill="#8e8eff" fill-opacity="0.44"/><rect x="470.5" y="640.2" width="10" height="10" fill="#dbdbff" fill-opacity="0.14"/><rect x="480.5" y="590.2" width="10" height="10" fill="#ebebff" fill-opacity="0.08"/><rect x="480.5" y="600.2" width="10" height="10" fill="#a0a0ff" fill-opacity="0.37"/><rect x="480.5" y="610.2" width="10" height="10" fill="#5454ff" fill-opacity="0.67"/><rect x="480.5" y="620.2" width="10" height="10" fill="#6464ff" fill-opacity="0.61"/><rect x="480.5" y="630.2" width="10" height="10" fill="#c3c3ff" fill-opacity="0.24"/><rect x="480.5" y="640.2" width="10" height="10" fill="#f2f2ff" fill-opacity="0.05"/><rect x="490.5" y="590.2" width="10" height="10" fill="#e9e9ff" fill-opacity="0.08"/><rect x="490.5" y="600.2" width="10" height="10" fill="#b6b6ff" fill-opacity="0.29"/><rect x="490.5" y="610.2" width="10" height="10" fill="#9191ff" fill-opacity="0.43"/><rect x="490.5" y="620.2" width="10" height="10" fill="#c3c3ff" fill-opacity="0.24"/><rect x="490.5" y="630.2" width="10" height="10" fill="#efefff" fill-opacity="0.06"/><rect x="500.5" y="590.2" width="10" height="10" fill="#eaeaff" fill-opacity="0.08"/><rect x="500.5" y="600.2" width="10" height="10" fill="#c9c9ff" fill-opacity="0.21"/><rect x="500.5" y="610.2" width="10" height="10" fill="#dfdfff" fill-opacity="0.13"/><rect x="500.5" y="620.2" width="10" height="10" fill="#f3f3ff" fill-opacity="0.05"/></g>
<path d="M384.9 484.9L394.7 486.0L404.0 495.8L413.3 506.1L421.5 515.4L428.8 524.6L429.9 530.0L435.1 538.2L440.2 546.5L443.3 555.8L446.4 565.1L450.5 573.3L452.6 583.6L452.6 593.9L450.5 602.2L447.4 611.4L444.8 616.6L442.3 611.4L439.2 604.2L436.1 596.0L432.0 586.7L427.8 576.4L422.7 568.1L418.5 559.7L413.3 550.4L408.1 541.1L399.9 531.9L390.6 523.6L383.4 515.4L381.3 505.1L382.4 494.7Z" fill="#fff" shape-rendering="crispEdges"/>
<g shape-rendering="crispEdges"><rect x="370.5" y="490.2" width="10" height="10" fill="#fff5f5" fill-opacity="0.04"/><rect x="370.5" y="500.2" width="10" height="10" fill="#fff4f4" fill-opacity="0.04"/><rect x="370.5" y="510.2" width="10" height="10" fill="#fff7f7" fill-opacity="0.03"/><rect x="380.5" y="480.2" width="10" height="10" fill="#ffe1e1" fill-opacity="0.12"/><rect x="380.5" y="490.2" width="10" height="10" fill="#ffcaca" fill-opacity="0.21"/><rect x="380.5" y="500.2" width="10" height="10" fill="#ffc0c0" fill-opacity="0.25"/><rect x="380.5" y="510.2" width="10" height="10" fill="#ffd2d2" fill-opacity="0.18"/><rect x="380.5" y="520.2" width="10" height="10" fill="#fff1f1" fill-opacity="0.05"/><rect x="390.5" y="480.2" width="10" height="10" fill="#ffe4e4" fill-opacity="0.11"/><rect x="390.5" y="490.2" width="10" height="10" fill="#ffafaf" fill-opacity="0.31"/><rect x="390.5" y="500.2" width="10" height="10" fill="#ffa0a0" fill-opacity="0.37"/><rect x="390.5" y="510.2" width="10" height="10" fill="#ffa6a6" fill-opacity="0.35"/><rect x="390.5" y="520.2" width="10" height="10" fill="#ffcfcf" fill-opacity="0.19"/><rect x="390.5" y="530.2" width="10" height="10" fill="#fff2f2" fill-opacity="0.05"/><rect x="400.5" y="490.2" width="10" height="10" fill="#ffe2e2" fill-opacity="0.11"/><rect x="400.5" y="500.2" width="10" height="10" fill="#ffadad" fill-opacity="0.32"/><rect x="400.5" y="510.2" width="10" height="10" fill="#ff9b9b" fill-opacity="0.39"/><rect x="400.5" y="520.2" width="10" height="10" fill="#ffabab" fill-opacity="0.33"/><rect x="400.5" y="530.2" width="10" height="10" fill="#ffcece" fill-opacity="0.19"/><rect x="400.5" y="540.2" width="10" height="10" fill="#ffefef" fill-opacity="0.06"/><rect x="410.5" y="500.2" width="10" height="10" fill="#ffe6e6" fill-opacity="0.10"/><rect x="410.5" y="510.2" width="10" height="10" fill="#ffafaf" fill-opacity="0.31"/><rect x="410.5" y="520.2" width="10" height="10" fill="#ff9494" fill-opacity="0.42"/><rect x="410.5" y="530.2" width="10" height="10" fill="#ff8e8e" fill-opacity="0.44"/><rect x="410.5" y="540.2" width="10" height="10" fill="#ffafaf" fill-opacity="0.32"/><rect x="410.5" y="550.2" width="10" height="10" fill="#ffd9d9" fill-opacity="0.15"/><rect x="410.5" y="560.2" width="10" height="10" fill="#fff2f2" fill-opacity="0.05"/><rect x="420.5" y="510.2" width="10" height="10" fill="#ffebeb" fill-opacity="0.08"/><rect x="420.5" y="520.2" width="10" height="10" fill="#ffc2c2" fill-opacity="0.24"/><rect x="420.5" y="530.2" width="10" height="10" fill="#ff6b6b" fill-opacity="0.58"/><rect x="420.5" y="540.2" width="10" height="10" fill="#ff4c4c" fill-opacity="0.70"/><rect x="420.5" y="550.2" width="10" height="10" fill="#ff5555" fill-opacity="0.66"/><rect x="420.5" y="560.2" width="10" height="10" fill="#ff9191" fill-opacity="0.43"/><rect x="420.5" y="570.2" width="10" height="10" fill="#ffdcdc" fill-opacity="0.14"/><rect x="420.5" y="580.2" width="10" height="10" fill="#fff2f2" fill-opacity="0.05"/><rect x="430.5" y="520.2" width="10" height="10" fill="#fff5f5" fill-opacity="0.04"/><rect x="430.5" y="530.2" width="10" height="10" fill="#ffe4e4" fill-opacity="0.11"/><rect x="430.5" y="540.2" width="10" height="10" fill="#ff8989" fill-opacity="0.46"/><rect x="430.5" y="550.2" width="10" height="10" fill="#ff3232" fill-opacity="0.81"/><rect x="430.5" y="560.2" width="10" height="10" fill="#ff0000" fill-opacity="1.00"/><rect x="430.5" y="570.2" width="10" height="10" fill="#ff3535" fill-opacity="0.79"/><rect x="430.5" y="580.2" width="10" height="10" fill="#ff8e8e" fill-opacity="0.44"/><rect x="430.5" y="590.2" width="10" height="10" fill="#ffd6d6" fill-opacity="0.16"/><rect x="430.5" y="600.2" width="10" height="10" fill="#ffeeee" fill-opacity="0.07"/><rect x="430.5" y="610.2" width="10" height="10" fill="#fff7f7" fill-opacity="0.03"/><rect x="440.5" y="540.2" width="10" height="10" fill="#fff3f3" fill-opacity="0.05"/><rect x="440.5" y="550.2" width="10" height="10" fill="#ffe6e6" fill-opacity="0.10"/><rect x="440.5" y="560.2" width="10" height="10" fill="#ffb9b9" fill-opacity="0.27"/><rect x="440.5" y="570.2" width="10" height="10" fill="#ff6262" fill-opacity="0.61"/><rect x="440.5" y="580.2" width="10" height="10" fill="#ff5050" fill-opacity="0.69"/><rect x="440.5" y="590.2" width="10" height="10" fill="#ff6060" fill-opacity="0.62"/><rect x="440.5" y="600.2" width="10" height="10" fill="#ffafaf" fill-opacity="0.31"/><rect x="440.5" y="610.2" width="10" height="10" fill="#ffe2e2" fill-opacity="0.11"/><rect x="450.5" y="570.2" width="10" height="10" fill="#fff0f0" fill-opacity="0.06"/><rect x="450.5" y="580.2" width="10" height="10" fill="#ffeaea" fill-opacity="0.08"/><rect x="450.5" y="590.2" width="10" height="10" fill="#ffecec" fill-opacity="0.08"/><rect x="450.5" y="600.2" width="10" height="10" fill="#fff3f3" fill-opacity="0.05"/></g>
<path d="M372.7 583.6L377.4 579.7L385.1 578.1L395.9 580.5L408.3 585.1L420.7 589.0L433.0 592.8L445.4 595.9L457.8 597.8L473.2 598.7L488.7 598.2L499.5 597.8L510.4 598.2L519.6 598.2L519.6 612.9L510.4 612.9L504.9 612.9L502.6 619.1L498.0 626.9L488.7 636.1L474.8 646.2L460.9 646.2L448.5 643.1L436.1 637.7L425.3 631.5L416.0 625.3L406.8 619.9L395.9 617.6L388.2 609.8L380.5 597.5L375.1 591.3ZM399.8 594.4L405.2 592.8L416.0 593.6L429.9 596.7L442.3 599.8L454.7 602.9L465.5 604.9L476.3 604.9L485.6 603.7L494.9 606.8L499.5 611.4L496.4 619.1L490.3 628.4L479.4 636.9L467.1 639.2L454.7 636.9L442.3 631.5L431.5 625.3L422.2 619.1L412.9 611.4L406.8 605.2L402.1 599.0ZM433.8 611.4L445.4 609.8L457.8 609.1L470.2 609.8L482.5 611.4L491.8 614.5L488.7 622.2L482.5 628.4L473.2 632.3L462.4 633.8L453.1 630.7L443.9 626.1L436.1 623.0L433.0 616.0ZM465.2 618.4L471.7 622.2L475.6 624.5L471.7 626.1L465.2 629.6L459.3 624.5Z" class="cb"/>
<path d="M384.9 484.9L394.7 486.0L404.0 495.8L413.3 506.1L421.5 515.4L428.8 524.6L429.9 530.0L435.1 538.2L440.2 546.5L443.3 555.8L446.4 565.1L450.5 573.3L452.6 583.6L452.6 593.9L450.5 602.2L447.4 611.4L444.8 616.6L442.3 611.4L439.2 604.2L436.1 596.0L432.0 586.7L427.8 576.4L422.7 568.1L418.5 559.7L413.3 550.4L408.1 541.1L399.9 531.9L390.6 523.6L383.4 515.4L381.3 505.1L382.4 494.7ZM394.7 492.7L403.0 500.9L411.2 509.2L417.4 516.4L421.5 524.6L427.3 530.0L432.0 538.2L436.6 546.5L440.2 554.7L443.3 564.0L446.9 571.2L450.0 579.5L451.0 587.7L449.5 597.0L446.9 604.2L444.8 607.8L441.8 602.2L438.7 593.9L435.1 585.7L429.9 577.4L425.8 568.1L423.6 562.8L419.5 555.6L417.4 548.4L415.4 541.1L409.2 532.9L405.1 524.6L395.8 519.5L390.6 514.3L387.5 505.1L390.6 494.7ZM424.2 533.6L420.6 537.2L419.6 544.4L422.2 552.7L425.8 559.9L428.9 569.2L432.0 576.4L436.1 583.6L439.2 590.8L442.3 597.0L444.8 601.6L447.4 597.0L449.5 589.8L449.5 581.5L446.9 574.3L442.8 566.1L441.2 558.9L439.2 551.6L435.1 544.4L429.9 538.2L425.8 534.1ZM435.1 556.3L438.7 563.0L438.1 569.2L435.1 574.3L432.0 569.2L431.4 563.0Z" class="cr"/>
</g>
<rect x="310.5" y="460.5" width="200" height="200" class="fr"/>
<path d="M346.5 660.5 v5" class="tk"/>
<path d="M395.5 660.5 v5" class="tk"/>
<path d="M444.5 660.5 v5" class="tk"/>
<path d="M493.5 660.5 v5" class="tk"/>
<path d="M310.5 620.5 h-5" class="tk"/>
<path d="M310.5 578.5 h-5" class="tk"/>
<path d="M310.5 536.5 h-5" class="tk"/>
<path d="M310.5 494.5 h-5" class="tk"/>
<g clip-path="url(#c22)">
<path d="M560.5 460.5 V660.5" class="gr"/>
<path d="M602.5 460.5 V660.5" class="gr"/>
<path d="M644.5 460.5 V660.5" class="gr"/>
<path d="M686.5 460.5 V660.5" class="gr"/>
<path d="M520.5 478.5 H720.5" class="gr"/>
<path d="M520.5 524.5 H720.5" class="gr"/>
<path d="M520.5 569.5 H720.5" class="gr"/>
<path d="M520.5 615.5 H720.5" class="gr"/>
<path d="M520.5 660.5 L520.5 654.3 L530.5 654.3 L530.5 607.5 L540.5 607.5 L540.5 390.0 L550.5 390.0 L550.5 390.0 L560.5 390.0 L560.5 390.0 L570.5 390.0 L570.5 390.0 L580.5 390.0 L580.5 487.0 L590.5 487.0 L590.5 564.2 L600.5 564.2 L600.5 614.4 L610.5 614.4 L610.5 640.2 L620.5 640.2 L620.5 652.3 L630.5 652.3 L630.5 657.5 L640.5 657.5 L640.5 660.5 L650.5 660.5 L650.5 660.5 L660.5 660.5 L660.5 660.5 L670.5 660.5 L670.5 660.5 L680.5 660.5 L680.5 660.5 L690.5 660.5 L690.5 660.5 L700.5 660.5 L700.5 660.5 L710.5 660.5 L710.5 660.5 L720.5 660.5 L720.5 660.5" class="hb"/>
<path d="M520.5 660.5 L520.5 660.5 L530.5 660.5 L530.5 660.5 L540.5 660.5 L540.5 657.7 L550.5 657.7 L550.5 654.3 L560.5 654.3 L560.5 630.5 L570.5 630.5 L570.5 611.2 L580.5 611.2 L580.5 565.4 L590.5 565.4 L590.5 524.6 L600.5 524.6 L600.5 500.1 L610.5 500.1 L610.5 478.4 L620.5 478.4 L620.5 482.6 L630.5 482.6 L630.5 487.0 L640.5 487.0 L640.5 495.2 L650.5 495.2 L650.5 490.5 L660.5 490.5 L660.5 495.2 L670.5 495.2 L670.5 514.2 L680.5 514.2 L680.5 563.2 L690.5 563.2 L690.5 614.7 L700.5 614.7 L700.5 646.1 L710.5 646.1 L710.5 659.0 L720.5 659.0 L720.5 660.5" class="hr"/>
<path d="M551.2 660.5 V460.5" class="dq"/>
<path d="M565.1 660.5 V460.5" class="dq"/>
<path d="M582.9 660.5 V460.5" class="dq"/>
</g>
<rect x="520.5" y="460.5" width="200" height="200" class="fr"/>
<path d="M560.5 660.5 v5" class="tk"/>
<path d="M602.5 660.5 v5" class="tk"/>
<path d="M644.5 660.5 v5" class="tk"/>
<path d="M686.5 660.5 v5" class="tk"/>
<path d="M520.5 478.5 h-5" class="tk"/>
<path d="M520.5 524.5 h-5" class="tk"/>
<path d="M520.5 569.5 h-5" class="tk"/>
<path d="M520.5 615.5 h-5" class="tk"/>
<path d="M520.5 660.4 h-5" class="tk"/>
<g clip-path="url(#c30)">
<path transform="scale(.5)" d="M252 1648h0m7-39h0m16-41h0m0 32h0m-3 22h0m4 1h0m-11 1h0m7 8h0m-5 1h0m10 54h0m2-36h0m-2-31h0m7 0h0m1-3h0m0 0h0m0-1h0m-1-4h0m2-1h0m-1-14h0m-3-2h0m4-27h0m-1-5h0m-2 0h0m2-12h0m5-6h0m2 10h0m3 14h0m4 6h0m-8 1h0m6 14h0m-6 3h0m3 4h0m-1 3h0m-3 0h0m4 1h0m-3 5h0m1 0h0m-3 4h0m-1 1h0m0 71h0m0 7h0m2 23h0m-1 21h0m19 0h0m-2-16h0m5-7h0m-3-11h0m-8-3h0m0-1h0m1-111h0m1-1h0m0 0h0m2-2h0m3 0h0m-3-1h0m-1-5h0m7-5h0m-5-3h0m-1-1h0m0-1h0m7 0h0m-5-3h0m-1-41h0m11-5h0m-4 1h0m8 14h0m1 2h0m-4 16h0m-2 3h0m-2 4h0m6 2h0m1 2h0m3 1h0m-10 1h0m5 2h0m0 2h0m-4 2h0m1 2h0m-3 133h0m2 5h0m2 1h0m-2 8h0m6 8h0m-4 25h0m18-17h0m-4-13h0m-5-3h0m1-5h0m-1-155h0m6-6h0m-5-1h0m-1-3h0m10-18h0m-1-30h0m2-9h0m7 20h0m-1 23h0m-4 5h0m5 9h0m-5 1h0m7 4h0m-5 0h0m7 163h0m-5 2h0m-3 0h0m-3 3h0m0 7h0m0 5h0m13-3h0m9-9h0m-8-4h0m8-6h0m-3-153h0m2-2h0m-9-4h0m4-1h0m1-1h0m0-3h0m0-5h0m0-6h0m0-8h0m17 13h0m-3 11h0m-3 1h0m4 11h0m0 2h0m-1 1h0m1 116h0m0 9h0m-3 28h0m7 16h0m-8 3h0m3 1h0m6-38h0m4-21h0m3-9h0m-2-1h0m-5 0h0m4-6h0m-3-3h0m6-18h0m-1-6h0m3-4h0m0 0h0m-6-52h0m1-3h0m5-1h0m-5 0h0m-4-17h0m15 29h0m4 11h0m-2 4h0m-4 0h0m-1 5h0m0 0h0m7 3h0m-7 2h0m0 4h0m8 10h0m-6 24h0m5 9h0m7-61h0m1-1h0" stroke="#00f" class="dt"/>
<path transform="scale(.5)" d="M264 1658h0m-5-51h0m3-6h0m7-25h0m2 46h0m-1 9h0m-5 9h0m9 30h0m2 18h0m12-1h0m-2-6h0m-2-2h0m-1-2h0m-3-11h0m1-1h0m-3 0h0m1-3h0m1-8h0m-4-1h0m1-4h0m2-2h0m-2-14h0m7-14h0m-4 0h0m-3-1h0m11-6h0m-4-3h0m2-2h0m-6-8h0m7-11h0m0-4h0m-5-13h0m-1-3h0m3-12h0m11-34h0m-2 1h0m-1 46h0m-3 0h0m9 1h0m-4 4h0m4 12h0m-9 1h0m0 4h0m5 10h0m-2 2h0m-1 0h0m1 1h0m-3 3h0m1 1h0m-2 72h0m1 6h0m5 4h0m-4 12h0m5 10h0m16 26h0m-2-4h0m2-4h0m-4-11h0m-2-8h0m-2 0h0m8-8h0m-5-4h0m-5-113h0m-1-3h0m1-2h0m5-1h0m3-1h0m-8-3h0m11-4h0m-9-3h0m2-3h0m5-15h0m-3-1h0m-2-4h0m4 0h0m2-11h0m-7-18h0m10-4h0m0 2h0m-2 38h0m4 8h0m-3 2h0m3 1h0m1 0h0m-4 0h0m4 1h0m-5 1h0m2 2h0m-2 1h0m1 5h0m6 135h0m-6 0h0m9 4h0m9 39h0m-5-30h0m-2-161h0m6-8h0m2-65h0m8 27h0m6 6h0m-4 5h0m1 11h0m-7 14h0m8 3h0m3 0h0m-4 161h0m16 12h0m-4-3h0m-1-12h0m6-6h0m-2-144h0m2-2h0m-4 0h0m0-2h0m-1-4h0m-7 0h0m2-1h0m4-19h0m-4-4h0m4-24h0m9 36h0m7 12h0m1 0h0m-10 7h0m6 6h0m1 3h0m0 2h0m1 100h0m0 5h0m-3 5h0m-1 3h0m5 2h0m-5 15h0m-1 0h0m2 5h0m13-8h0m-6-20h0m4-8h0m3-12h0m-2-4h0m3-5h0m2-8h0m-4 0h0m2-10h0m-1-46h0m-5-11h0m4-9h0m-6-9h0m3-21h0m-1-11h0m11 56h0m0 2h0m2 4h0m1 19h0m7 4h0m-9 3h0m5 3h0m-6 5h0m-2 3h0m10 28h0m12-2h0m-5-19h0m-2-10h0" stroke="#00f" class="dt"/>
<path transform="scale(.5)" d="M257 1658h0m2-32h0m10-23h0m-3 0h0m10 3h0m-7 32h0m5 1h0m0 0h0m1 26h0m-10 6h0m11 2h0m10 33h0m-1-14h0m-7-2h0m9-4h0m-3-6h0m-7-1h0m8-4h0m-8-6h0m0-14h0m3-13h0m-3-2h0m0-1h0m0-11h0m3 0h0m-2-5h0m4-3h0m3-3h0m-2-2h0m2-4h0m1-3h0m-4-4h0m5 0h0m-4-8h0m3-19h0m-7-1h0m-2-6h0m6 0h0m4-2h0m-7-5h0m12-30h0m-2 46h0m3 3h0m-2 2h0m2 19h0m-5 5h0m2 0h0m-1 2h0m7 83h0m15 24h0m-8-10h0m0-123h0m2 0h0m-3-7h0m1 0h0m3-2h0m4-7h0m1-5h0m-9-7h0m-1-3h0m11-10h0m-7-15h0m14-19h0m0 20h0m-5 17h0m0 2h0m6 2h0m-4 5h0m8 0h0m-11 2h0m4 4h0m-5 7h0m22 154h0m-1-2h0m-1 0h0m3-3h0m-10-157h0m1-4h0m8-1h0m-5-1h0m-1 0h0m7-5h0m-8-1h0m0-1h0m-2-2h0m8 0h0m-1-11h0m-7-1h0m0-8h0m11 8h0m9 7h0m0 6h0m-6 4h0m5 5h0m-8 0h0m2 0h0m4 159h0m-4 6h0m1 0h0m16 6h0m1-1h0m-3-4h0m6-158h0m-4-3h0m-1-1h0m-3-1h0m2-1h0m7 0h0m-10-2h0m1-1h0m6-4h0m-3-2h0m-1-48h0m9 12h0m0 6h0m-1 30h0m10 5h0m-11 10h0m12 7h0m-2 109h0m-4 4h0m5 16h0m-5 2h0m3 11h0m-3 1h0m0 2h0m-4 7h0m21 2h0m-10-39h0m6-39h0m2-7h0m-1-1h0m0-4h0m2-40h0m-2-10h0m1-4h0m-8-2h0m8 0h0m2-1h0m-3-5h0m-7-3h0m5-10h0m-3 0h0m2-19h0m9 35h0m8 8h0m-8 2h0m1 3h0m7 2h0m-7 12h0m5 7h0m-5 0h0m1 6h0m1 2h0m-4 3h0m-1 5h0m0 4h0m1 3h0m8 2h0m-7 32h0m15 17h0m4-24h0m-2-28h0" stroke="#00f" class="dt"/>
<path transform="scale(.5)" d="M273 1567h0m-7 6h0m2 24h0m7 26h0m-2 4h0m3 2h0m-3 3h0m-5 9h0m7 7h0m-3 10h0m13 25h0m-7-13h0m0-24h0m7-28h0m0-3h0m1-6h0m-6 0h0m-3-1h0m10-2h0m-2-5h0m1-8h0m1-17h0m-6-3h0m-5-1h0m11-4h0m2-33h0m10 48h0m-1 3h0m-3 9h0m-5 3h0m4 0h0m0 1h0m-5 1h0m0 2h0m6 86h0m-6 3h0m11 49h0m10-23h0m-6-8h0m8-5h0m-10-9h0m3-111h0m-4-2h0m4-1h0m5-4h0m-3 0h0m-2-1h0m6 0h0m0-2h0m-3-1h0m-2-3h0m3-1h0m-6-2h0m9-7h0m11-41h0m-5 5h0m0 2h0m4 5h0m-4 4h0m0 8h0m-2 2h0m3 1h0m2 10h0m-4 4h0m-2 4h0m0 1h0m-1 2h0m2 3h0m-3 135h0m6 4h0m-5 8h0m12 11h0m3 0h0m4-13h0m-9-154h0m4-4h0m2-2h0m5-8h0m-3-3h0m-6-2h0m0-4h0m5-7h0m-3-11h0m2-30h0m9 22h0m6 4h0m-3 16h0m-1 8h0m1 2h0m1 1h0m-6 0h0m2 2h0m8 4h0m-6 3h0m4 2h0m-6 0h0m1 0h0m-3 2h0m10 170h0m4-9h0m4-1h0m5-154h0m-7-3h0m1-2h0m-5-3h0m2-2h0m4-1h0m4-4h0m-2-5h0m-3-6h0m4-8h0m-3 0h0m2-12h0m10 4h0m-6 40h0m1 6h0m4 1h0m2 2h0m2 0h0m-2 4h0m0 94h0m4 10h0m-6 2h0m1 16h0m-3 45h0m16-2h0m-2-36h0m-1-23h0m-2-7h0m1-7h0m-1-3h0m3-15h0m0-2h0m5-9h0m-2-1h0m2-2h0m0-37h0m0-6h0m0-1h0m-8-14h0m3-3h0m3 0h0m-8-5h0m9-2h0m-2-10h0m-7-41h0m22 51h0m-2 0h0m-3 24h0m-6 7h0m1 6h0m2 4h0m1 0h0m0 5h0m2 1h0m-5 9h0m4 3h0m-4 3h0m1 3h0m3 5h0m2 0h0m-4 3h0m13-39h0" stroke="#00f" class="dt"/>
<path transform="scale(.5)" d="M262 1643h0m1-19h0m-7-12h0m19-18h0m-3 100h0m16-8h0m-1-6h0m-3-1h0m-5-11h0m0-1h0m0-1h0m1-2h0m-4-1h0m3-6h0m0-1h0m0-3h0m-3-9h0m3-5h0m0-7h0m3-9h0m2-6h0m4-4h0m-1-6h0m-6-1h0m6-1h0m-1-36h0m-5-31h0m10-8h0m8 12h0m-9 17h0m10 10h0m-2 3h0m-7 10h0m8 7h0m1 1h0m-7 2h0m1 4h0m-4 10h0m-1 2h0m1 1h0m0 0h0m3 80h0m-1 1h0m3 3h0m-1 8h0m0 6h0m-5 15h0m16-16h0m-1-2h0m-4-114h0m0-6h0m8-4h0m-3-1h0m4 0h0m2-15h0m0-4h0m-5-6h0m3-7h0m-1-1h0m-1-21h0m7 8h0m0 7h0m1 6h0m3 8h0m3 0h0m3 2h0m-5 2h0m3 1h0m0 2h0m-5 0h0m0 0h0m-2 5h0m-3 2h0m4 2h0m-1 1h0m-3 2h0m1 133h0m2 4h0m9 1h0m-6 8h0m6 9h0m-1 2h0m11-14h0m1-161h0m-3-2h0m-6-10h0m5-14h0m-7-37h0m19 31h0m-5 9h0m1 7h0m5 0h0m0 12h0m-7 2h0m11 162h0m-6 1h0m2 1h0m1 2h0m7 4h0m-4-6h0m5-3h0m5-1h0m-5 0h0m1-2h0m4-6h0m1-144h0m-5-2h0m6-1h0m-12-3h0m12-1h0m-8-1h0m4-5h0m2-6h0m-3-17h0m6 37h0m4 2h0m0 1h0m1 0h0m-3 1h0m2 0h0m5 98h0m-2 6h0m0 4h0m-2 27h0m-3 3h0m1 18h0m11 0h0m0-39h0m8-19h0m-4-10h0m-4-5h0m4-4h0m0-3h0m1-56h0m3-3h0m-5 0h0m-1-2h0m-1-2h0m3-10h0m-4-8h0m11 4h0m1 25h0m6 1h0m2 5h0m1 2h0m-5 4h0m-5 2h0m2 0h0m0 2h0m2 3h0m-1 1h0m0 3h0m-2 9h0m7 6h0m-7 6h0m5 4h0m-5 0h0m2 1h0m0 3h0m-5 1h0m5 30h0m19-45h0" stroke="#00f" class="dt"/>
<path transform="scale(.5)" d="M258 1656h0m6-16h0m0-6h0m9-42h0m0 14h0m3 3h0m-4 2h0m2 11h0m-3 2h0m1 12h0m-5 7h0m-3 20h0m8 14h0m-4 34h0m12-5h0m-2-33h0m4-1h0m-2-18h0m0-4h0m0 0h0m-1-12h0m0-5h0m0-14h0m0-4h0m6-1h0m0-2h0m0-3h0m-5-3h0m3-10h0m0-19h0m4-41h0m10 33h0m-6 4h0m2 3h0m1 4h0m2 1h0m4 0h0m-1 1h0m0 8h0m-8 5h0m0 3h0m5 1h0m-4 3h0m-3 5h0m1 1h0m1 77h0m5 6h0m-5 2h0m7 11h0m13 12h0m-11-11h0m12-2h0m-11-116h0m2-4h0m0-1h0m4-1h0m-5-1h0m4-3h0m3-1h0m-7 0h0m6-1h0m2-9h0m-6-7h0m3-6h0m3-11h0m-2-14h0m11 5h0m-4 3h0m1 12h0m0 6h0m-2 2h0m4 3h0m-1 4h0m4 0h0m0 1h0m-3 2h0m-5 6h0m5 138h0m-5 1h0m10 2h0m-8 20h0m19-10h0m-7-4h0m0-160h0m-2-1h0m5-2h0m3-1h0m-7-4h0m9 0h0m0 0h0m0-6h0m-5 0h0m4-9h0m-4 0h0m0-4h0m-1-14h0m14 0h0m-1 0h0m4 12h0m0 5h0m-8 4h0m1 9h0m1 4h0m5 2h0m1 164h0m5 1h0m8-14h0m1-4h0m-2-142h0m-5-2h0m0-4h0m6 0h0m-9-2h0m-1-6h0m2-8h0m14-11h0m-3 14h0m1 17h0m7 5h0m-8 0h0m9 7h0m-5 0h0m3 4h0m-1 91h0m-1 9h0m3 5h0m-2 1h0m-5 16h0m0 1h0m-2 5h0m6 0h0m11 29h0m-4 0h0m4-15h0m-6-5h0m6-35h0m-2-4h0m4-19h0m4-9h0m-3-11h0m-1-48h0m-3-2h0m0-3h0m4-1h0m-6-1h0m-2-2h0m3-21h0m19 35h0m-10 4h0m1 2h0m4 4h0m-4 4h0m0 7h0m0 1h0m-1 0h0m0 1h0m1 1h0m0 1h0m8 25h0m-7 12h0m19-12h0m5-15h0" stroke="#00f" class="dt"/>
<path transform="scale(.5)" d="M263 1639h0m9-54h0m1 36h0m0 4h0m-8 1h0m10 2h0m-4 1h0m3 3h0m-8 10h0m8 15h0m1 10h0m-8 5h0m-2 6h0m10 1h0m-3 1h0m16 9h0m-5-6h0m4-4h0m-8-15h0m1 0h0m-2-5h0m-1-1h0m4-1h0m-1-13h0m-2-11h0m0-3h0m0-7h0m3 0h0m0 0h0m4-9h0m-3-18h0m3-7h0m-5-16h0m12-27h0m5 22h0m-4 7h0m2 1h0m5 4h0m-1 1h0m0 3h0m-6 1h0m7 0h0m-6 5h0m-1 4h0m-1 1h0m-1 0h0m3 1h0m1 2h0m-5 5h0m0 6h0m-1 74h0m3 5h0m6 3h0m1 2h0m-6 16h0m18 21h0m0-21h0m-5-128h0m-3-1h0m7-6h0m0-1h0m1 0h0m-3-1h0m-3 0h0m3-3h0m-1-2h0m-3-7h0m1-23h0m7 19h0m10 3h0m1 1h0m-8 4h0m0 3h0m3 0h0m-4 3h0m0 2h0m-1 1h0m5 135h0m1 5h0m3 17h0m13-5h0m-9-7h0m8-162h0m1 0h0m-3-2h0m3-2h0m-6-1h0m-4-3h0m0-7h0m11-5h0m-9-5h0m4-5h0m-2-8h0m18-17h0m-11 16h0m2 25h0m0 3h0m10 0h0m-5 3h0m1 2h0m-7 0h0m6 5h0m-7 161h0m12 2h0m-11 10h0m17-2h0m3-3h0m-4-9h0m-3 0h0m6-5h0m0 0h0m3-7h0m-5-143h0m-1-3h0m-3-10h0m9-17h0m11-5h0m0 33h0m-4 3h0m0 9h0m3 1h0m1 2h0m1 91h0m-6 30h0m-2 4h0m7 13h0m-6 8h0m5 1h0m5-60h0m7 0h0m2-10h0m-3-2h0m-4-1h0m6-6h0m-2-5h0m3-2h0m-2-2h0m2-7h0m0 0h0m1-19h0m-3-13h0m2-1h0m-2-1h0m1-1h0m2-2h0m-3-8h0m-1-3h0m3-1h0m-3-3h0m-7-3h0m5-3h0m-4-4h0m0-8h0m21 26h0m-9 16h0m4 9h0m-5 8h0m2 1h0m-2 8h0m2 11h0m19 22h0m-5-20h0" stroke="#00f" class="dt"/>
<path transform="scale(.5)" d="M257 1648h0m10-28h0m7 1h0m-6 3h0m7 9h0m-8 7h0m9 20h0m-1 15h0m-10 22h0m20-18h0m-5-1h0m1-1h0m-2-10h0m2 0h0m-3-33h0m3-16h0m2-2h0m3 0h0m-2 0h0m2-1h0m-2 0h0m1-6h0m-9-16h0m7 0h0m3-7h0m-5-8h0m4-6h0m-7-6h0m-1-4h0m5-7h0m15-33h0m2 30h0m-6 18h0m-2 1h0m7 1h0m-2 4h0m-5 10h0m-1 2h0m1 2h0m7 0h0m-7 4h0m3 5h0m1 89h0m-4 3h0m3 6h0m0 2h0m4 1h0m11 14h0m-8-9h0m6-127h0m3-2h0m-2-1h0m-4-1h0m6-2h0m0-4h0m-5-2h0m-2-11h0m-3-1h0m12-19h0m-11-1h0m20-8h0m3 14h0m-11 14h0m8 6h0m-6 0h0m5 2h0m3 0h0m-5 3h0m-6 9h0m8 134h0m0 0h0m-3 35h0m16-23h0m2-167h0m0 0h0m-1-1h0m-4-1h0m-4 0h0m8-1h0m-4-4h0m4-2h0m-7-3h0m15-15h0m-2 6h0m0 4h0m6 3h0m1 9h0m-8 1h0m9 3h0m-10 1h0m0 0h0m4 1h0m5 1h0m-3 0h0m-1 162h0m-6 1h0m7 2h0m7 7h0m5-3h0m-1-17h0m4-7h0m-3-139h0m-1-4h0m-1-1h0m2-4h0m-5-3h0m8-1h0m-2 0h0m-7-1h0m1-7h0m-3-18h0m1-4h0m16 23h0m-5 5h0m6 6h0m-4 4h0m0 2h0m0 0h0m7 3h0m-3 1h0m3 10h0m2 90h0m-3 15h0m-3 10h0m4 2h0m-8 8h0m2 3h0m-2 5h0m21 21h0m2-6h0m-3-17h0m-5-25h0m7-15h0m-10-7h0m1-2h0m5-12h0m1-9h0m4-1h0m-1-6h0m1-33h0m-2-5h0m-3-9h0m1-5h0m-6 0h0m1 0h0m7-3h0m-5-6h0m6-15h0m1 22h0m0 11h0m2 5h0m2 11h0m1 2h0m-3 8h0m6 1h0m-2 4h0m-5 3h0m1 2h0m3 13h0m-4 5h0m8 8h0m12-32h0" stroke="#00f" class="dt"/>
<path transform="scale(.5)" d="M400 1584h0m-3-5h0m0-40h0m16-71h0m-3 23h0m16 23h0m14-81h0m-4 60h0m-1 4h0m10 0h0m9-46h0m-7-1h0m4 0h0m12-36h0m0 34h0m-5 15h0m8 4h0m-3 3h0m2 5h0m-5 6h0m4 3h0m-5 2h0m0 107h0m11 1h0m0-121h0m3-6h0m4 0h0m-2-2h0m1-3h0m-2-1h0m2-1h0m-5-13h0m-3-9h0m4-5h0m2-1h0m8-52h0m10 9h0m-10 20h0m6 4h0m2 0h0m2 10h0m-8 21h0m7 5h0m-6 0h0m6 2h0m-4 0h0m-1 0h0m-5 2h0m20 127h0m1-26h0m-9-107h0m1-2h0m2-4h0m6-5h0m-8-3h0m9-1h0m-3-6h0m-3-4h0m-4-1h0m-1-3h0m5-11h0m4-19h0m-3-6h0m0-4h0m12-10h0m-2 6h0m2 33h0m-3 2h0m0 6h0m6 2h0m-9 3h0m6 2h0m-3 7h0m4 1h0m-6 3h0m4 1h0m-1 3h0m-2 0h0m7 97h0m0 16h0m-2 6h0m-5 4h0m0 11h0m19 1h0m-9-11h0m8-18h0m-3-1h0m5-12h0m-4-11h0m-2-2h0m7-1h0m-5-2h0m3-1h0m-5-82h0m1 0h0m4-1h0m-8 0h0m9 0h0m-2-3h0m-2 0h0m-1-3h0m5-1h0m-1-1h0m0 0h0m-3-2h0m-2-2h0m-1-1h0m5-3h0m-1-4h0m-2-5h0m-2-3h0m-2-16h0m9-2h0m5 1h0m3 16h0m-3 3h0m8 4h0m-6 13h0m-5 0h0m3 1h0m4 1h0m0 1h0m-6 4h0m6 1h0m-2 4h0m5 3h0m-2 61h0m3 2h0m-6 0h0m-4 8h0m9 4h0m-8 0h0m1 0h0m1 14h0m-4 8h0m23-14h0m-9-11h0m5-4h0m1-2h0m-4-1h0m6-2h0m-6-1h0m-4 0h0m1-1h0m10-4h0m-4-1h0m0-1h0m-1 0h0m-1-4h0m-1-1h0m0-2h0m-1-2h0m4-5h0m4 0h0m-4 0h0m1-4h0m2-7h0m-1-2h0m2-12h0m-4-6h0m3 0h0m2-2h0m-8-2h0m4-2h0m-4-1h0m-4-1h0m5 0h0m4-1h0m2-6h0m-2 0h0m0-3h0m2-7h0m-7-7h0m8-1h0m-4-2h0m-4-1h0m4-2h0m-3-2h0m6-3h0m-10-3h0m3-4h0m-3-1h0m10-11h0m-2-34h0m4 20h0m0 31h0m4 5h0m-3 8h0m4 1h0m-2 14h0m-3 9h0m1 1h0m2 3h0m4 1h0m-1 1h0m0 3h0m-2 3h0m1 3h0m4 4h0m-10 7h0m3 1h0m8 2h0m-9 0h0m3 1h0m-3 4h0m3 2h0m-4 1h0m9 13h0m9 7h0m3-41h0m-5-10h0m-4-5h0m1-5h0m-1-2h0m1-6h0m-1-7h0m7-5h0m-6-11h0m4-22h0m-4-5h0m19 19h0m-9 78h0m4 17h0m18-110h0m-6-5h0" stroke="#f00" class="dt"/>
<path transform="scale(.5)" d="M394 1537h0m-5 26h0m16-37h0m13-16h0m2 2h0m11-4h0m-4-12h0m1-20h0m11 24h0m-5 94h0m9 9h0m4 2h0m4-110h0m4-46h0m1-24h0m10 18h0m-1 6h0m-2 7h0m2 0h0m-6 12h0m6 14h0m-7 2h0m2 109h0m9-118h0m-1-1h0m1-2h0m3-3h0m-3-4h0m5-3h0m5 0h0m-8-2h0m7-2h0m-2-6h0m-7-1h0m3-3h0m4-1h0m-3-2h0m7 0h0m-7-5h0m18-31h0m-3 21h0m2 0h0m-9 4h0m9 0h0m1 2h0m-6 1h0m-1 4h0m6 0h0m-5 1h0m6 0h0m-5 2h0m5 1h0m-9 3h0m4 3h0m-1 2h0m2 1h0m-1 0h0m0 2h0m-4 3h0m18 127h0m-6-139h0m3-2h0m0-1h0m4-7h0m-1-2h0m-3-1h0m-3-4h0m9 0h0m-11-3h0m8-35h0m7 3h0m3 3h0m5 0h0m-8 3h0m0 7h0m2 11h0m-4 2h0m10 4h0m-6 7h0m-1 3h0m0 1h0m-3 3h0m10 87h0m-4 10h0m3 11h0m-9 18h0m18-22h0m-6-5h0m0-13h0m9-1h0m-5-3h0m-1-2h0m3-3h0m4-4h0m-10-79h0m2-2h0m9-1h0m-9-1h0m-3-2h0m1 0h0m10-7h0m-5-5h0m1-1h0m-2-5h0m-3-13h0m7-1h0m-1-14h0m0-17h0m8 20h0m-2 4h0m5 5h0m-3 1h0m5 4h0m2 5h0m-7 1h0m2 2h0m4 5h0m-8 1h0m-1 0h0m1 2h0m9 4h0m-11 1h0m6 6h0m5 3h0m-5 0h0m2 1h0m3 2h0m-1 0h0m-5 1h0m1 1h0m4 1h0m-4 65h0m3 2h0m-2 1h0m2 1h0m-3 4h0m1 2h0m-5 5h0m6 5h0m0 2h0m-7 4h0m14 4h0m8-24h0m0-1h0m-1-4h0m1 0h0m-2-2h0m-1-3h0m4-1h0m-3-1h0m2-1h0m-7 0h0m5-1h0m-4-2h0m-2 0h0m1-2h0m-2-1h0m9-3h0m-3-6h0m1-1h0m1-7h0m0-7h0m2-12h0m0 0h0m-1-2h0m0-1h0m-1 0h0m-2-1h0m2-1h0m-5-2h0m5-2h0m-9-2h0m6 0h0m-2-2h0m-1 0h0m0-2h0m-1 0h0m-3-1h0m10 0h0m1-1h0m-1-2h0m-10-2h0m7-9h0m4-3h0m-6-6h0m7-3h0m-10-4h0m-1-4h0m3-2h0m-3-7h0m12-7h0m5 9h0m1 13h0m2 22h0m3 8h0m-9 0h0m3 5h0m5 0h0m0 2h0m0 1h0m-8 6h0m-2 5h0m5 2h0m6 2h0m-12 4h0m1 0h0m1 2h0m9 0h0m0 3h0m-4 10h0m-6 4h0m1 2h0m15 12h0m-2-1h0m-3-23h0m4-16h0m-3-6h0m0-1h0m8-1h0m-4-11h0m0-16h0m1-19h0m14-14h0m-8 9h0m2 18h0" stroke="#f00" class="dt"/>
<path transform="scale(.5)" d="M405 1587h0m0-51h0m8 53h0m10-72h0m15-29h0m6 11h0m6-6h0m1-3h0m1-1h0m1-1h0m-1-2h0m-1-31h0m-6-21h0m19 24h0m-4 8h0m1 8h0m3 3h0m-3 6h0m-2 0h0m-1 3h0m16 116h0m2-16h0m-6-110h0m1-5h0m-2-2h0m5 0h0m-2-5h0m-2-4h0m8-1h0m-4-9h0m-5 0h0m6 0h0m-2-6h0m5-5h0m-9-2h0m5-3h0m-2 0h0m0 0h0m6-8h0m10-26h0m-6 5h0m5 16h0m0 2h0m1 10h0m-5 7h0m5 2h0m-3 4h0m4 2h0m-2 0h0m-6 1h0m4 0h0m4 1h0m-8 2h0m1 1h0m7 1h0m-4 2h0m-3 4h0m-1 1h0m1 119h0m6 11h0m12-26h0m-8-114h0m5-8h0m0-4h0m0 0h0m-1-6h0m-4-6h0m7-7h0m3-4h0m-4-6h0m5-20h0m12-31h0m0 20h0m-7 26h0m6 1h0m2 8h0m-12 7h0m4 1h0m6 0h0m0 2h0m1 2h0m-4 1h0m-5 5h0m6 0h0m-3 0h0m-4 1h0m4 1h0m3 1h0m-4 0h0m1 1h0m4 94h0m1 2h0m-1 2h0m2 12h0m0 4h0m-6 3h0m11-8h0m-1-9h0m-1-13h0m0-1h0m5-9h0m3-83h0m-8-1h0m0-5h0m10 0h0m-12-2h0m11 0h0m-10-1h0m7-7h0m-7-19h0m7-1h0m-1 0h0m-4-4h0m10-5h0m9 6h0m0 10h0m-9 0h0m3 1h0m-3 2h0m1 0h0m-1 1h0m5 2h0m2 0h0m-3 1h0m7 3h0m-3 0h0m-3 2h0m-4 11h0m5 0h0m3 2h0m-3 0h0m4 1h0m-11 3h0m8 3h0m1 61h0m-4 4h0m2 6h0m-6 2h0m6 0h0m-7 2h0m11 4h0m-8 3h0m-1 3h0m3 0h0m0 2h0m-5 9h0m4 21h0m10-29h0m0-18h0m0-1h0m4-2h0m-5-2h0m2-10h0m-1-4h0m4-5h0m0-1h0m3-1h0m1-4h0m2-1h0m-2-3h0m0-4h0m0-2h0m1-14h0m-1-2h0m0-2h0m-6-2h0m6 0h0m1-5h0m-2-1h0m0-1h0m-9-2h0m10-9h0m-3-2h0m-6-6h0m2 0h0m-1-2h0m-1-2h0m2 0h0m-3-15h0m3-2h0m7-2h0m-7-3h0m-2-19h0m13-6h0m2 31h0m7 15h0m-8 2h0m9 6h0m-11 10h0m9 4h0m-6 7h0m3 2h0m-6 5h0m0 2h0m5 0h0m-5 1h0m8 0h0m-5 4h0m-1 3h0m6 0h0m1 5h0m-8 2h0m10 1h0m-12 4h0m5 1h0m-5 2h0m3 7h0m1 1h0m2 2h0m-5 19h0m7 2h0m-3 8h0m7 2h0m-11 3h0m15-35h0m4-13h0m2-5h0m-9-3h0m7-4h0m3-29h0m-7-11h0m9 26h0m4 1h0m-4 0h0m11 7h0" stroke="#f00" class="dt"/>
<path transform="scale(.5)" d="M389 1571h0m8-34h0m11-5h0m16-22h0m24-16h0m5-3h0m-3-5h0m6 0h0m-3-14h0m6-52h0m1 21h0m1 19h0m2 1h0m3 5h0m-6 13h0m8 0h0m-4 3h0m-5 6h0m-2 108h0m13-120h0m-1 0h0m2-7h0m2-3h0m7-1h0m-3-1h0m-1-1h0m-2-2h0m-4-1h0m3-1h0m-2-1h0m6-1h0m1-2h0m-1-1h0m0-2h0m-4-5h0m-3-14h0m5-26h0m7-10h0m9 0h0m-9 18h0m9 8h0m-9 6h0m3 8h0m-3 8h0m9 5h0m-7 2h0m0 3h0m1 0h0m3 1h0m-6 2h0m-1 4h0m2 141h0m9-156h0m5-3h0m4-4h0m-4-4h0m6-1h0m-10-2h0m10-8h0m-10-5h0m8-14h0m13-25h0m-1 2h0m2 30h0m-8 2h0m4 2h0m-6 0h0m6 1h0m1 1h0m1 9h0m-1 0h0m-5 0h0m1 1h0m3 3h0m-3 0h0m-3 1h0m3 4h0m-3 2h0m6 97h0m0 1h0m1 11h0m0 5h0m3 5h0m9 10h0m-6-35h0m0 0h0m10-1h0m-4-3h0m-7-7h0m1 0h0m7 0h0m-4-3h0m4-1h0m-5-1h0m6 0h0m0-7h0m-9-77h0m4-2h0m5 0h0m-3-1h0m-5 0h0m7 0h0m0-1h0m3 0h0m-1-2h0m-3-1h0m-2-3h0m3-1h0m-5-2h0m0-7h0m-2-2h0m6-1h0m3-4h0m-10-10h0m9-15h0m-7-19h0m12 7h0m2 13h0m-2 3h0m-1 13h0m7 2h0m-3 11h0m6 5h0m-2 5h0m-6 7h0m-2 1h0m3 1h0m6 5h0m0 54h0m0 1h0m0 8h0m-1 2h0m1 3h0m0 5h0m-11 15h0m6 9h0m6 9h0m0-10h0m2-25h0m7-6h0m0-3h0m-6-2h0m9-2h0m-7-1h0m1-5h0m-1-1h0m7-2h0m-2-5h0m2 0h0m-6 0h0m3-12h0m1-5h0m0 0h0m1-1h0m0-2h0m0-5h0m-1-1h0m1-2h0m0-1h0m-2-1h0m0-2h0m0-1h0m-1 0h0m0 0h0m1-1h0m-3-1h0m1-1h0m0-1h0m-1-1h0m-5-2h0m4-3h0m1 0h0m2-1h0m-5 0h0m2-3h0m-4-5h0m3 0h0m-4-2h0m12-2h0m-1-3h0m0-3h0m-3-2h0m0-12h0m-6-7h0m7-11h0m6-20h0m6 27h0m-1 10h0m-7 10h0m0 14h0m8 2h0m0 7h0m-3 13h0m3 6h0m-7 3h0m2 3h0m0 4h0m2 2h0m0 1h0m-6 4h0m5 1h0m-4 2h0m6 2h0m-2 10h0m-4 1h0m7 2h0m-3 3h0m3 19h0m7-47h0m0-4h0m8-6h0m-7-9h0m2-1h0m3-1h0m-1-21h0m-3-16h0m-1-3h0m0-7h0m10-30h0m4 73h0m1 15h0m-5 32h0m-1 5h0m12-61h0m0-36h0" stroke="#f00" class="dt"/>
<path transform="scale(.5)" d="M401 1516h0m22-49h0m19 33h0m6-41h0m18-35h0m1 18h0m-5 11h0m4 12h0m1 12h0m-3 3h0m-1 1h0m2 2h0m-9 7h0m2 2h0m14 98h0m-2-116h0m-1-4h0m1-1h0m4-1h0m2-3h0m0-1h0m3-1h0m-1-1h0m-1 0h0m1-5h0m-4-10h0m2 0h0m-5-4h0m-1-17h0m2-13h0m3-9h0m17-28h0m-5 22h0m1 10h0m0 25h0m1 3h0m1 1h0m1 0h0m-7 1h0m7 2h0m-3 1h0m-5 4h0m6 1h0m2 1h0m-4 2h0m-6 4h0m1 7h0m-1 3h0m1 122h0m13-137h0m0-2h0m-1-1h0m0-2h0m9-3h0m-7-1h0m7-2h0m-2-1h0m2-6h0m-1-5h0m-4-4h0m5-5h0m-7-5h0m8-35h0m-1-14h0m4 3h0m4 22h0m4 19h0m0 10h0m-2 4h0m0 1h0m-9 0h0m11 7h0m-5 6h0m1 1h0m-1 0h0m5 93h0m-3 6h0m2 13h0m-4 0h0m10-4h0m4-4h0m-7-3h0m7-7h0m-6-8h0m8 0h0m-2-4h0m3-3h0m0-3h0m-8-78h0m7-3h0m0-4h0m-4-2h0m-5-9h0m9 0h0m-4 0h0m3-1h0m-7-4h0m3-3h0m-1-1h0m4-2h0m3-2h0m-3-3h0m-2-10h0m14 1h0m-5 4h0m-2 7h0m2 8h0m5 5h0m3 10h0m-8 1h0m8 1h0m-4 4h0m3 0h0m-1 0h0m1 1h0m2 3h0m-3 1h0m0 0h0m2 56h0m-1 10h0m-4 2h0m-4 0h0m10 1h0m-10 4h0m7 2h0m-6 5h0m12-12h0m1-11h0m0-1h0m-2 0h0m3-1h0m6-3h0m-3 0h0m-7 0h0m7 0h0m-4-4h0m4 0h0m-4-2h0m2-3h0m2-2h0m4-12h0m-1-11h0m-2-6h0m-1-1h0m3-3h0m-5-1h0m-2-1h0m3-1h0m-5-2h0m2-1h0m6 0h0m-7-2h0m0 0h0m-1 0h0m-1-1h0m1-1h0m7 0h0m0-2h0m-2-2h0m4-1h0m-7-2h0m4-3h0m-6-3h0m6-2h0m3 0h0m-11-3h0m0-12h0m5-24h0m-4-20h0m5-1h0m7 42h0m4 5h0m-3 5h0m3 2h0m-3 2h0m7 4h0m-6 9h0m-1 3h0m3 1h0m6 7h0m-10 5h0m2 0h0m-2 2h0m1 0h0m4 4h0m6 3h0m-1 1h0m-2 3h0m-8 0h0m5 3h0m-3 0h0m8 1h0m-5 1h0m-5 6h0m2 3h0m5 0h0m-7 1h0m1 2h0m2 1h0m3 5h0m-2 4h0m-4 1h0m4 14h0m17-6h0m-10-13h0m1-8h0m1-5h0m-1-18h0m0-1h0m6-2h0m-6-9h0m2-3h0m2-2h0m-4-8h0m7-25h0m6-17h0m-1 1h0m5 3h0m-4 9h0m0 12h0m7 34h0m-9 0h0m0 2h0m1 35h0m18-59h0" stroke="#f00" class="dt"/>
<path transform="scale(.5)" d="M400 1530h0m27 63h0m-4-121h0m18 20h0m-1 8h0m16 101h0m-6-106h0m5-1h0m-3-49h0m15-11h0m-8 25h0m2 6h0m-5 2h0m5 1h0m3 1h0m2 3h0m-5 0h0m6 2h0m-1 1h0m0 0h0m-5 2h0m4 3h0m-7 2h0m2 0h0m18 110h0m-5-8h0m4-117h0m0-7h0m2 0h0m-1-5h0m-1-7h0m-7-6h0m9-23h0m12-12h0m-3 2h0m-2 8h0m1 1h0m4 3h0m-10 5h0m1 7h0m8 0h0m0 4h0m1 3h0m-9 1h0m3 4h0m4 0h0m-8 4h0m7 3h0m3 1h0m-10 2h0m4 3h0m-2 0h0m15-14h0m-1-1h0m1 0h0m4-2h0m-5-1h0m-2-1h0m7-4h0m-3 0h0m0-2h0m3-3h0m-3 0h0m0-4h0m-6-6h0m1-10h0m7-7h0m-3-4h0m1-12h0m-1-7h0m11-10h0m2 49h0m-4 4h0m3 2h0m4 1h0m-6 2h0m3 3h0m-3 0h0m3 1h0m-7 1h0m5 0h0m3 2h0m-4 3h0m-3 2h0m8 97h0m-3 2h0m-1 25h0m16-20h0m1-4h0m-7-11h0m-1-1h0m2-10h0m8-1h0m-3-7h0m-9-78h0m6 0h0m-4 0h0m-1-1h0m6-1h0m4-2h0m-10 0h0m-1-1h0m11 0h0m-5-1h0m-6 0h0m10 0h0m-6-1h0m-2-2h0m10-1h0m-7-1h0m7-3h0m-2 0h0m-3-24h0m3-1h0m1-6h0m-7-16h0m15 11h0m-6 3h0m4 21h0m4 2h0m-7 2h0m-1 5h0m11 5h0m-2 3h0m-8 0h0m10 2h0m-10 0h0m2 1h0m4 2h0m-7 0h0m5 6h0m3 2h0m3 55h0m-6 10h0m-4 1h0m4 7h0m-1 7h0m-3 0h0m12 6h0m-1-4h0m-1-3h0m3-11h0m-1-1h0m7-15h0m-9-1h0m8 0h0m2-4h0m-1-3h0m-3-1h0m3-1h0m0-6h0m0-5h0m0-2h0m1 0h0m0-6h0m1-12h0m-3-1h0m3 0h0m-5-1h0m-5-5h0m-1-1h0m12-4h0m-3-4h0m2-1h0m-10-1h0m6-4h0m0-9h0m3-10h0m1-2h0m-6-8h0m6-24h0m-10-4h0m15-13h0m8 12h0m-10 22h0m5 25h0m4 14h0m-8 3h0m9 1h0m-12 3h0m8 1h0m-6 7h0m1 1h0m3 0h0m6 0h0m-2 4h0m-4 0h0m0 1h0m-6 1h0m2 1h0m1 1h0m0 1h0m3 1h0m-1 0h0m-2 2h0m-1 3h0m-2 1h0m1 4h0m5 0h0m-4 1h0m-1 7h0m10 0h0m-11 3h0m3 1h0m-2 1h0m0 4h0m2 4h0m2 16h0m-3 4h0m-1 4h0m13-33h0m-1-14h0m5-25h0m-5-6h0m1-7h0m-2-31h0m22-20h0m-9 16h0m0 24h0m6 1h0m-3 21h0m0 22h0m15 1h0m-6-1h0m10-48h0" stroke="#f00" class="dt"/>
<path transform="scale(.5)" d="M396 1520h0m8 69h0m-6-8h0m1-8h0m19-59h0m8-6h0m17-73h0m-8 28h0m9 136h0m4-101h0m4-5h0m0-4h0m2-12h0m0-23h0m11-21h0m-5 0h0m4 34h0m4 4h0m-10 2h0m0 5h0m3 1h0m-4 0h0m5 2h0m1 1h0m-2 5h0m0 127h0m9-142h0m5-3h0m4-4h0m-1 0h0m-2-2h0m3-1h0m-1-2h0m-5-2h0m2-11h0m2-26h0m11-28h0m0 36h0m-4 2h0m0 7h0m8 0h0m-8 5h0m7 0h0m-1 0h0m-5 2h0m-1 1h0m0 6h0m-3 2h0m6 1h0m-6 2h0m3 2h0m-2 119h0m10 1h0m11 30h0m-11-35h0m11-10h0m-4-5h0m-4-113h0m-2-1h0m2-2h0m-1-2h0m1-9h0m4-4h0m2 0h0m0 0h0m-1-2h0m2-3h0m-8-2h0m3-4h0m6 0h0m0-24h0m5-10h0m8 26h0m-3 7h0m-3 1h0m-6 3h0m6 2h0m2 4h0m-4 0h0m2 2h0m-3 1h0m8 1h0m-3 0h0m1 1h0m0 2h0m-1 2h0m-5 0h0m0 1h0m-2 0h0m11 97h0m0 0h0m-6 7h0m3 9h0m0 5h0m6-15h0m5-15h0m-1-7h0m3-2h0m-2-4h0m2-2h0m-6-79h0m2 0h0m1-2h0m0-1h0m1-4h0m0-4h0m0 0h0m-2-1h0m0-4h0m-1-4h0m-1-2h0m-1-9h0m15-11h0m-2 13h0m-3 2h0m3 13h0m1 0h0m-2 2h0m3 1h0m0 4h0m-5 0h0m-1 1h0m2 4h0m9 6h0m1 55h0m-4 6h0m-1 1h0m3 2h0m-4 1h0m4 1h0m0 1h0m-3 2h0m-7 3h0m3 5h0m0 13h0m-2 7h0m9 0h0m-7 4h0m9 10h0m-7 7h0m15-24h0m-8-5h0m11-4h0m-1-8h0m0-10h0m-9-6h0m0-4h0m0-4h0m2-3h0m8-7h0m-2-4h0m0-1h0m2-9h0m-2-20h0m0-1h0m-1-1h0m4 0h0m-1 0h0m-7-3h0m-1 0h0m3 0h0m3-1h0m1-2h0m2-1h0m-5 0h0m2-1h0m-4 0h0m-1-1h0m-2 0h0m10-1h0m-4-1h0m-5 0h0m6-2h0m-6-6h0m0-5h0m2-2h0m-4-2h0m7-1h0m-3-2h0m2-2h0m2-3h0m2-4h0m-11-5h0m4-31h0m9 18h0m4 2h0m3 2h0m-1 30h0m-2 13h0m-4 0h0m1 4h0m10 1h0m-7 8h0m-4 4h0m6 4h0m0 1h0m-3 0h0m3 3h0m-5 3h0m4 1h0m-4 3h0m-1 2h0m6 3h0m4 1h0m-8 1h0m7 0h0m-10 2h0m9 7h0m-1 3h0m0 7h0m-4 15h0m10 3h0m0-13h0m7-29h0m-6-12h0m5-4h0m-6-6h0m2-17h0m-1 0h0m2-16h0m0-14h0m11-4h0m15 42h0m5-10h0m-10-31h0" stroke="#f00" class="dt"/>
<path transform="scale(.5)" d="M367 1549h0m19-5h0m6 17h0m0 5h0m24-48h0m-1 6h0m9-6h0m18 81h0m3-1h0m0-98h0m5-2h0m2-22h0m-1-15h0m5-6h0m7-19h0m2 5h0m1 3h0m-1 18h0m1 9h0m-3 1h0m-4 1h0m4 1h0m4 2h0m-3 3h0m-1 115h0m9-121h0m2-3h0m5-4h0m-1-4h0m1-3h0m-8 0h0m6-5h0m-8-8h0m10-15h0m13-24h0m-7 6h0m-4 1h0m10 9h0m1 4h0m-3 4h0m-7 5h0m9 11h0m-5 0h0m5 3h0m-10 0h0m11 2h0m-6 3h0m0 3h0m-5 3h0m-1 2h0m11 117h0m-7 7h0m14-143h0m-5-2h0m9-3h0m1-4h0m-2-1h0m2-1h0m0-5h0m1-2h0m-11-2h0m5-2h0m4-2h0m12-46h0m1 4h0m-11 7h0m6 26h0m-2 5h0m0 5h0m3 1h0m0 1h0m-4 2h0m9 1h0m-9 2h0m6 0h0m-4 1h0m5 2h0m-7 0h0m5 4h0m-3 0h0m6 105h0m-7 6h0m-1 13h0m6 10h0m-6 4h0m0 17h0m9-42h0m2-14h0m0-4h0m0 0h0m-2-1h0m4-9h0m0-1h0m0-1h0m7-9h0m-3-79h0m-1 0h0m-4-1h0m8-1h0m-2-4h0m-6-6h0m4-2h0m-4-5h0m6 0h0m-5 0h0m4-21h0m2-3h0m-8-20h0m18 18h0m-8 3h0m7 1h0m4 13h0m1 4h0m-8 1h0m-1 9h0m3 1h0m-2 5h0m-2 2h0m8 1h0m0 0h0m-8 4h0m6 1h0m3 1h0m-7 1h0m8 0h0m-2 3h0m1 57h0m-2 1h0m1 0h0m-5 6h0m1 5h0m3 1h0m2 1h0m-6 0h0m-3 6h0m-2 3h0m0 2h0m0 7h0m5 4h0m2 11h0m17-19h0m-8-5h0m6-12h0m-9-1h0m4-7h0m2-2h0m-1-1h0m3 0h0m-7-2h0m2-4h0m-2 0h0m5-2h0m2-2h0m-2 0h0m-4-1h0m3-1h0m1-3h0m2 0h0m-1-3h0m2-1h0m0-2h0m2-19h0m-1-1h0m-1-4h0m-3-3h0m5-2h0m-6-1h0m4-1h0m-2 0h0m-7-3h0m5 0h0m-1 0h0m5-5h0m-10-1h0m8-1h0m0-7h0m0-11h0m-4 0h0m6-5h0m2-10h0m-12-3h0m12 0h0m-10-12h0m-1 0h0m0-6h0m7-2h0m12-17h0m-1 35h0m-4 18h0m4 12h0m2 3h0m-8 7h0m9 4h0m-8 6h0m9 10h0m-9 0h0m10 1h0m-10 1h0m8 1h0m-8 1h0m1 1h0m-2 5h0m-1 5h0m5 0h0m-2 5h0m1 2h0m-3 3h0m7 34h0m9-37h0m-3-20h0m1-26h0m-1-3h0m1-1h0m-3-1h0m7-6h0m-1-2h0m8-22h0m9 13h0m0 15h0m-8 10h0m1 9h0m4 10h0m11-38h0m7-16h0m-1 27h0" stroke="#f00" class="dt"/>
<path d="M165.4 778.0L174.6 778.0L182.9 784.7L190.1 794.0L192.2 804.3L191.1 813.6L188.0 821.9L183.9 832.2L181.9 845.6L175.7 856.9L165.4 857.4L155.1 850.7L145.8 842.5L140.6 834.2L140.1 823.9L139.6 814.6L145.8 803.3L150.9 794.0L159.2 783.7Z" fill="#fff" shape-rendering="crispEdges"/>
<g shape-rendering="crispEdges"><rect x="130.5" y="800.2" width="10" height="10" fill="#f4f4ff" fill-opacity="0.04"/><rect x="130.5" y="810.2" width="10" height="10" fill="#e8e8ff" fill-opacity="0.09"/><rect x="130.5" y="820.2" width="10" height="10" fill="#e9e9ff" fill-opacity="0.09"/><rect x="130.5" y="830.2" width="10" height="10" fill="#ededff" fill-opacity="0.07"/><rect x="140.5" y="780.2" width="10" height="10" fill="#f7f7ff" fill-opacity="0.03"/><rect x="140.5" y="790.2" width="10" height="10" fill="#e7e7ff" fill-opacity="0.09"/><rect x="140.5" y="800.2" width="10" height="10" fill="#c2c2ff" fill-opacity="0.24"/><rect x="140.5" y="810.2" width="10" height="10" fill="#9d9dff" fill-opacity="0.38"/><rect x="140.5" y="820.2" width="10" height="10" fill="#9b9bff" fill-opacity="0.39"/><rect x="140.5" y="830.2" width="10" height="10" fill="#acacff" fill-opacity="0.32"/><rect x="140.5" y="840.2" width="10" height="10" fill="#dcdcff" fill-opacity="0.14"/><rect x="140.5" y="850.2" width="10" height="10" fill="#f7f7ff" fill-opacity="0.03"/><rect x="150.5" y="770.2" width="10" height="10" fill="#f5f5ff" fill-opacity="0.04"/><rect x="150.5" y="780.2" width="10" height="10" fill="#dadaff" fill-opacity="0.15"/><rect x="150.5" y="790.2" width="10" height="10" fill="#a3a3ff" fill-opacity="0.36"/><rect x="150.5" y="800.2" width="10" height="10" fill="#4040ff" fill-opacity="0.75"/><rect x="150.5" y="810.2" width="10" height="10" fill="#2121ff" fill-opacity="0.87"/><rect x="150.5" y="820.2" width="10" height="10" fill="#1414ff" fill-opacity="0.92"/><rect x="150.5" y="830.2" width="10" height="10" fill="#2626ff" fill-opacity="0.85"/><rect x="150.5" y="840.2" width="10" height="10" fill="#6666ff" fill-opacity="0.60"/><rect x="150.5" y="850.2" width="10" height="10" fill="#e4e4ff" fill-opacity="0.11"/><rect x="160.5" y="770.2" width="10" height="10" fill="#e2e2ff" fill-opacity="0.11"/><rect x="160.5" y="780.2" width="10" height="10" fill="#a9a9ff" fill-opacity="0.34"/><rect x="160.5" y="790.2" width="10" height="10" fill="#5c5cff" fill-opacity="0.64"/><rect x="160.5" y="800.2" width="10" height="10" fill="#2121ff" fill-opacity="0.87"/><rect x="160.5" y="810.2" width="10" height="10" fill="#0000ff" fill-opacity="1.00"/><rect x="160.5" y="820.2" width="10" height="10" fill="#0000ff" fill-opacity="1.00"/><rect x="160.5" y="830.2" width="10" height="10" fill="#0d0dff" fill-opacity="0.95"/><rect x="160.5" y="840.2" width="10" height="10" fill="#4040ff" fill-opacity="0.75"/><rect x="160.5" y="850.2" width="10" height="10" fill="#bbbbff" fill-opacity="0.27"/><rect x="160.5" y="860.2" width="10" height="10" fill="#f4f4ff" fill-opacity="0.04"/><rect x="170.5" y="770.2" width="10" height="10" fill="#e3e3ff" fill-opacity="0.11"/><rect x="170.5" y="780.2" width="10" height="10" fill="#a8a8ff" fill-opacity="0.34"/><rect x="170.5" y="790.2" width="10" height="10" fill="#6666ff" fill-opacity="0.60"/><rect x="170.5" y="800.2" width="10" height="10" fill="#2626ff" fill-opacity="0.85"/><rect x="170.5" y="810.2" width="10" height="10" fill="#2626ff" fill-opacity="0.85"/><rect x="170.5" y="820.2" width="10" height="10" fill="#4d4dff" fill-opacity="0.70"/><rect x="170.5" y="830.2" width="10" height="10" fill="#5c5cff" fill-opacity="0.64"/><rect x="170.5" y="840.2" width="10" height="10" fill="#9898ff" fill-opacity="0.41"/><rect x="170.5" y="850.2" width="10" height="10" fill="#c9c9ff" fill-opacity="0.21"/><rect x="170.5" y="860.2" width="10" height="10" fill="#f5f5ff" fill-opacity="0.04"/><rect x="180.5" y="770.2" width="10" height="10" fill="#f6f6ff" fill-opacity="0.04"/><rect x="180.5" y="780.2" width="10" height="10" fill="#d9d9ff" fill-opacity="0.15"/><rect x="180.5" y="790.2" width="10" height="10" fill="#ababff" fill-opacity="0.33"/><rect x="180.5" y="800.2" width="10" height="10" fill="#9999ff" fill-opacity="0.40"/><rect x="180.5" y="810.2" width="10" height="10" fill="#a6a6ff" fill-opacity="0.35"/><rect x="180.5" y="820.2" width="10" height="10" fill="#c1c1ff" fill-opacity="0.24"/><rect x="180.5" y="830.2" width="10" height="10" fill="#dadaff" fill-opacity="0.15"/><rect x="180.5" y="840.2" width="10" height="10" fill="#e4e4ff" fill-opacity="0.10"/><rect x="180.5" y="850.2" width="10" height="10" fill="#f3f3ff" fill-opacity="0.05"/><rect x="190.5" y="780.2" width="10" height="10" fill="#f7f7ff" fill-opacity="0.03"/><rect x="190.5" y="790.2" width="10" height="10" fill="#ebebff" fill-opacity="0.08"/><rect x="190.5" y="800.2" width="10" height="10" fill="#e4e4ff" fill-opacity="0.11"/><rect x="190.5" y="810.2" width="10" height="10" fill="#eaeaff" fill-opacity="0.08"/><rect x="190.5" y="820.2" width="10" height="10" fill="#f4f4ff" fill-opacity="0.04"/></g>
<path d="M264.7 715.3L270.3 719.6L275.3 725.2L274.0 735.7L269.1 745.6L261.6 755.5L256.7 764.1L253.0 774.0L245.6 785.2L234.4 792.0L224.5 796.9L213.4 796.3L203.5 791.3L197.9 783.9L197.3 775.3L204.7 765.4L217.1 755.5L229.5 745.6L239.4 733.2L249.3 722.1L256.7 717.1Z" fill="#fff" shape-rendering="crispEdges"/>
<g shape-rendering="crispEdges"><rect x="190.5" y="760.2" width="10" height="10" fill="#fff7f7" fill-opacity="0.03"/><rect x="190.5" y="770.2" width="10" height="10" fill="#ffe7e7" fill-opacity="0.09"/><rect x="190.5" y="780.2" width="10" height="10" fill="#ffebeb" fill-opacity="0.08"/><rect x="200.5" y="750.2" width="10" height="10" fill="#fff7f7" fill-opacity="0.03"/><rect x="200.5" y="760.2" width="10" height="10" fill="#ffdada" fill-opacity="0.14"/><rect x="200.5" y="770.2" width="10" height="10" fill="#ffb2b2" fill-opacity="0.30"/><rect x="200.5" y="780.2" width="10" height="10" fill="#ffb3b3" fill-opacity="0.30"/><rect x="200.5" y="790.2" width="10" height="10" fill="#ffe8e8" fill-opacity="0.09"/><rect x="210.5" y="750.2" width="10" height="10" fill="#ffe2e2" fill-opacity="0.12"/><rect x="210.5" y="760.2" width="10" height="10" fill="#ffa6a6" fill-opacity="0.35"/><rect x="210.5" y="770.2" width="10" height="10" fill="#ff6060" fill-opacity="0.62"/><rect x="210.5" y="780.2" width="10" height="10" fill="#ff7777" fill-opacity="0.53"/><rect x="210.5" y="790.2" width="10" height="10" fill="#ffd1d1" fill-opacity="0.18"/><rect x="220.5" y="740.2" width="10" height="10" fill="#ffe9e9" fill-opacity="0.09"/><rect x="220.5" y="750.2" width="10" height="10" fill="#ffb2b2" fill-opacity="0.30"/><rect x="220.5" y="760.2" width="10" height="10" fill="#ff5656" fill-opacity="0.66"/><rect x="220.5" y="770.2" width="10" height="10" fill="#ff0000" fill-opacity="1.00"/><rect x="220.5" y="780.2" width="10" height="10" fill="#ff5d5d" fill-opacity="0.64"/><rect x="220.5" y="790.2" width="10" height="10" fill="#ffd0d0" fill-opacity="0.19"/><rect x="230.5" y="730.2" width="10" height="10" fill="#ffe5e5" fill-opacity="0.10"/><rect x="230.5" y="740.2" width="10" height="10" fill="#ffb8b8" fill-opacity="0.28"/><rect x="230.5" y="750.2" width="10" height="10" fill="#ff8a8a" fill-opacity="0.46"/><rect x="230.5" y="760.2" width="10" height="10" fill="#ff5c5c" fill-opacity="0.64"/><rect x="230.5" y="770.2" width="10" height="10" fill="#ff4e4e" fill-opacity="0.70"/><rect x="230.5" y="780.2" width="10" height="10" fill="#ff9a9a" fill-opacity="0.40"/><rect x="230.5" y="790.2" width="10" height="10" fill="#ffecec" fill-opacity="0.07"/><rect x="240.5" y="710.2" width="10" height="10" fill="#fff7f7" fill-opacity="0.03"/><rect x="240.5" y="720.2" width="10" height="10" fill="#ffe0e0" fill-opacity="0.12"/><rect x="240.5" y="730.2" width="10" height="10" fill="#ffb9b9" fill-opacity="0.28"/><rect x="240.5" y="740.2" width="10" height="10" fill="#ff9a9a" fill-opacity="0.40"/><rect x="240.5" y="750.2" width="10" height="10" fill="#ff8f8f" fill-opacity="0.44"/><rect x="240.5" y="760.2" width="10" height="10" fill="#ff9191" fill-opacity="0.43"/><rect x="240.5" y="770.2" width="10" height="10" fill="#ffa3a3" fill-opacity="0.36"/><rect x="240.5" y="780.2" width="10" height="10" fill="#ffdbdb" fill-opacity="0.14"/><rect x="250.5" y="710.2" width="10" height="10" fill="#ffe9e9" fill-opacity="0.09"/><rect x="250.5" y="720.2" width="10" height="10" fill="#ffc5c5" fill-opacity="0.23"/><rect x="250.5" y="730.2" width="10" height="10" fill="#ffa6a6" fill-opacity="0.35"/><rect x="250.5" y="740.2" width="10" height="10" fill="#ffa4a4" fill-opacity="0.36"/><rect x="250.5" y="750.2" width="10" height="10" fill="#ffb8b8" fill-opacity="0.28"/><rect x="250.5" y="760.2" width="10" height="10" fill="#ffd5d5" fill-opacity="0.17"/><rect x="250.5" y="770.2" width="10" height="10" fill="#ffeaea" fill-opacity="0.08"/><rect x="260.5" y="710.2" width="10" height="10" fill="#ffe3e3" fill-opacity="0.11"/><rect x="260.5" y="720.2" width="10" height="10" fill="#ffc8c8" fill-opacity="0.21"/><rect x="260.5" y="730.2" width="10" height="10" fill="#ffbfbf" fill-opacity="0.25"/><rect x="260.5" y="740.2" width="10" height="10" fill="#ffcdcd" fill-opacity="0.20"/><rect x="260.5" y="750.2" width="10" height="10" fill="#ffeaea" fill-opacity="0.08"/><rect x="270.5" y="710.2" width="10" height="10" fill="#fff6f6" fill-opacity="0.04"/><rect x="270.5" y="720.2" width="10" height="10" fill="#ffe2e2" fill-opacity="0.11"/><rect x="270.5" y="730.2" width="10" height="10" fill="#ffe5e5" fill-opacity="0.10"/><rect x="270.5" y="740.2" width="10" height="10" fill="#fff3f3" fill-opacity="0.05"/></g>
<path d="M165.4 778.0L174.6 778.0L182.9 784.7L190.1 794.0L192.2 804.3L191.1 813.6L188.0 821.9L183.9 832.2L181.9 845.6L175.7 856.9L165.4 857.4L155.1 850.7L145.8 842.5L140.6 834.2L140.1 823.9L139.6 814.6L145.8 803.3L150.9 794.0L159.2 783.7ZM164.8 789.9L174.6 788.9L181.9 796.1L183.9 805.4L181.9 815.7L178.8 826.0L176.2 836.3L174.6 845.6L164.8 851.2L155.1 844.5L149.4 835.3L147.3 826.0L147.3 815.7L150.9 804.3L158.1 796.1ZM163.3 804.3L175.7 800.7L177.2 803.3L175.7 810.5L171.5 821.9L168.5 836.3L164.3 841.4L155.6 834.2L153.5 822.9L155.1 813.6L159.2 806.4Z" class="cb"/>
<path d="M264.7 715.3L270.3 719.6L275.3 725.2L274.0 735.7L269.1 745.6L261.6 755.5L256.7 764.1L253.0 774.0L245.6 785.2L234.4 792.0L224.5 796.9L213.4 796.3L203.5 791.3L197.9 783.9L197.3 775.3L204.7 765.4L217.1 755.5L229.5 745.6L239.4 733.2L249.3 722.1L256.7 717.1ZM254.8 730.7L261.0 733.8L259.2 744.3L254.2 754.2L250.5 764.1L248.0 774.0L240.6 783.9L232.0 789.5L223.3 792.6L213.4 790.7L205.4 785.2L205.4 776.5L212.2 767.8L222.1 759.2L233.2 749.3L244.3 738.1ZM225.8 764.1L234.4 762.9L237.5 769.1L236.3 777.7L225.8 785.8L217.1 784.5L215.3 775.3L220.8 767.8Z" class="cr"/>
</g>
<rect x="100.5" y="670.5" width="200" height="200" class="fr"/>
<path d="M120.5 870.5 v5" class="tk"/>
<path d="M161.4 870.5 v5" class="tk"/>
<path d="M201.5 870.5 v5" class="tk"/>
<path d="M241.5 870.5 v5" class="tk"/>
<path d="M281.6 870.5 v5" class="tk"/>
<path d="M100.5 862.5 h-5" class="tk"/>
<path d="M100.5 814.5 h-5" class="tk"/>
<path d="M100.5 766.5 h-5" class="tk"/>
<path d="M100.5 718.5 h-5" class="tk"/>
<path d="M100.5 670.5 h-5" class="tk"/>
<g clip-path="url(#c31)">
<path transform="scale(.5)" d="M626 1542h0m1 20h0m11-49h0m10 17h0m12 16h0m-4 21h0m1 1h0m3 20h0m3 53h0m1-64h0m8-11h0m-3-25h0m-3-6h0m5-1h0m12 15h0m-1 4h0m-6 3h0m0 2h0m5 0h0m-5 89h0m16 0h0m-8-39h0m12-27h0m-4-1h0m-5-15h0m7-5h0m-5-2h0m3-27h0m12-30h0m3 33h0m-3 24h0m-4 12h0m-1 9h0m-2 5h0m9 5h0m-4 11h0m3 13h0m-8 4h0m11 6h0m5-3h0m7-1h0m-7-4h0m6-1h0m-4-10h0m-2-12h0m3-8h0m1-2h0m3-7h0m-8 0h0m-1-4h0m-3-1h0m5-4h0m6-1h0m-10-5h0m4 0h0m14-63h0m-2 17h0m-4 32h0m4 9h0m-1 12h0m0 2h0m5 1h0m-5 0h0m2 5h0m-4 0h0m9 3h0m1 1h0m-8 3h0m-3 6h0m2 1h0m7 11h0m-3 12h0m14 26h0m-3-16h0m-2-9h0m-2-4h0m-1-6h0m9-2h0m-4-3h0m3 0h0m-9-3h0m9-11h0m-7-1h0m3-1h0m-2-4h0m3-3h0m-4-22h0m6-25h0m-6-14h0m-1-8h0m14 14h0m7 31h0m-4 0h0m2 4h0m0 22h0m-5 6h0m-1 3h0m6 11h0m-1 8h0m-7 1h0m6 8h0m0 1h0m0 2h0m1 0h0m-3 4h0m1 2h0m14 17h0m-5-9h0m1-13h0m-1-2h0m-1-1h0m3-2h0m4-49h0m-8-2h0m6-1h0m-4-15h0m12 4h0m10 7h0m-3 68h0m-7 0h0m8 7h0m13-74h0m-3-13h0m-7 0h0m9-9h0m7 20h0m6 83h0m-6 1h0m6 4h0m3-91h0m14-9h0m1 15h0m16 128h0m-5-43h0m12 1h0m1 20h0m14 11h0m1-12h0m-2-16h0m3-76h0m-4-1h0m14 3h0m-6 80h0m4 3h0m5 20h0m11 1h0m-6-5h0m1-92h0m16 6h0m-7 81h0m10 10h0m-4 3h0m16 14h0m-5-104h0m4-13h0m10 22h0m-6 84h0m0 5h0m20 38h0m-7-11h0m0-9h0m6-99h0m2-1h0m-3-6h0m14 8h0m-8 98h0m21-88h0m8 3h0m-3 4h0m5 5h0m2 3h0m-3 84h0m1 9h0m5-4h0m-1-101h0m18 0h0m-3 19h0m14 97h0m2-6h0m-1-11h0m2-1h0m1-62h0m10-20h0m2 2h0m-4 16h0m-4 19h0m0 41h0m5 4h0" stroke="#00f" class="dt"/>
<path transform="scale(.5)" d="M620 1547h0m2-17h0m5 35h0m7 6h0m12 2h0m3-31h0m8 16h0m-1 1h0m-4 44h0m15 12h0m-2-51h0m4-48h0m10 27h0m2 0h0m-3 9h0m0 20h0m6 27h0m1 60h0m6-19h0m2-15h0m-3-43h0m-2-6h0m6-24h0m1-2h0m-7-16h0m-4-27h0m12 21h0m8 5h0m1 15h0m-2 4h0m-6 0h0m4 3h0m2 2h0m3 4h0m-5 1h0m4 5h0m-4 4h0m0 1h0m-3 6h0m7 23h0m-4 27h0m11-20h0m2-3h0m-5-5h0m4-7h0m-1-1h0m4-1h0m-5-5h0m-3 0h0m10-1h0m-2-10h0m3-2h0m-8-18h0m3-5h0m-5-22h0m14 33h0m4 3h0m-5 6h0m8 8h0m-2 1h0m-5 6h0m2 3h0m-1 2h0m-2 2h0m5 0h0m-5 5h0m0 1h0m-2 1h0m0 3h0m7 9h0m-5 2h0m6 0h0m14 5h0m2-5h0m-1-6h0m-1 0h0m-6-6h0m-2-15h0m8 0h0m-3-2h0m-4-4h0m0-8h0m9-56h0m10 38h0m-6 8h0m0 9h0m5 3h0m-5 5h0m3 1h0m-6 21h0m6 9h0m4 4h0m-4 4h0m-5 31h0m21 4h0m-1-18h0m-5-4h0m0 0h0m3-11h0m-3-1h0m2-3h0m-4-48h0m5-17h0m13-5h0m3 11h0m-1 70h0m-7 3h0m12 34h0m0-14h0m6-3h0m-1-5h0m-7-8h0m2 0h0m-3-3h0m5-72h0m1-2h0m7-11h0m6 89h0m-1 2h0m1 1h0m10 18h0m-4-1h0m6-19h0m-8-80h0m7-1h0m6 90h0m2 9h0m6 39h0m25-129h0m0 2h0m-1 80h0m-2 8h0m0 4h0m6-90h0m9-1h0m-2-3h0m8-4h0m-3 10h0m11 6h0m-11 80h0m5 2h0m3 1h0m-1 3h0m1 41h0m11-37h0m-5-85h0m4-1h0m-5-8h0m20 8h0m12 139h0m-9-41h0m20-79h0m-3 90h0m3 9h0m-9 10h0m24 38h0m-10-19h0m6-12h0m-8-11h0m5-6h0m0 0h0m1-2h0m3-87h0m-4-11h0m8 105h0m2 4h0m0 0h0m6 21h0m9-15h0m2-102h0m-8 0h0m13-7h0m6 14h0m14 26h0m-2-11h0m-2-8h0m-1-10h0m10 28h0m0 90h0m19-75h0m-3-3h0m8-17h0m10 37h0m-9 42h0m12-3h0m1-39h0m-1-5h0" stroke="#00f" class="dt"/>
<path transform="scale(.5)" d="M630 1539h0m-5 0h0m8 1h0m0 15h0m6 82h0m6-86h0m8-32h0m4 30h0m-2 2h0m-7 87h0m19-42h0m-3-20h0m1-4h0m-1-5h0m-1-2h0m2-41h0m12 1h0m0 7h0m0 8h0m3 6h0m-7 10h0m7 15h0m-1 1h0m-1 3h0m-2 1h0m5 3h0m0 23h0m13 11h0m-5-32h0m6-6h0m1-4h0m-5-9h0m-6 0h0m9-8h0m-8-2h0m4-1h0m6-14h0m6-12h0m-4 0h0m7 5h0m3 5h0m-8 4h0m6 3h0m0 6h0m-4 3h0m5 9h0m-1 1h0m-1 8h0m0 6h0m-3 3h0m-4 12h0m9 9h0m-4 3h0m-4 37h0m15-10h0m-5-14h0m3-10h0m6-12h0m-6-4h0m4 0h0m1-5h0m-2-2h0m4-3h0m0-4h0m-10-4h0m10-4h0m-7-10h0m0-3h0m-3-43h0m15 54h0m7 2h0m-4 4h0m3 1h0m-7 1h0m8 7h0m-5 3h0m3 1h0m-5 5h0m-3 3h0m5 2h0m6 22h0m9 16h0m-1-5h0m-5-2h0m8-6h0m-4-11h0m-3-1h0m8-5h0m-10-1h0m10-13h0m-5-2h0m-4-7h0m3-9h0m-3-3h0m-1-8h0m-1-5h0m8-5h0m-3-9h0m4-13h0m-5-11h0m16 42h0m-7 6h0m-2 1h0m12 0h0m-7 13h0m-5 9h0m5 5h0m-5 0h0m6 2h0m2 2h0m-7 3h0m0 14h0m6 37h0m13-26h0m0-1h0m-5-7h0m1-53h0m-2-5h0m6-3h0m-3 0h0m2-2h0m14-4h0m-8 4h0m0 5h0m3 65h0m18 22h0m-9-5h0m11-2h0m-10-3h0m3-1h0m16 8h0m-6 2h0m15-9h0m2-78h0m8 87h0m5 1h0m-2 26h0m3 18h0m12-11h0m-5-25h0m-5-11h0m6-2h0m15-80h0m-5 6h0m-1 76h0m17 29h0m-5-23h0m15 7h0m-3 2h0m-2 9h0m22 6h0m-3-88h0m1-1h0m6-1h0m4 1h0m2 90h0m-7 6h0m4 13h0m13-6h0m2 0h0m1-94h0m-8-1h0m4-7h0m9 116h0m18 6h0m-8-10h0m4-101h0m12 18h0m3 102h0m-1 1h0m11-1h0m6-1h0m-8-99h0m12 10h0m16 14h0m-6-22h0m12 14h0m1 12h0m-2 2h0m3 1h0m6 10h0m2 70h0m1-1h0m6-58h0m0-5h0m-2-7h0m24 20h0" stroke="#00f" class="dt"/>
<path transform="scale(.5)" d="M614 1631h0m4-119h0m7 24h0m2 20h0m6 5h0m-6 9h0m3 2h0m6 17h0m3-55h0m10-16h0m-1 9h0m1 26h0m10 27h0m11-6h0m-10-8h0m5-3h0m-4-12h0m6-5h0m-6-8h0m19-11h0m2 24h0m-2 8h0m-3 17h0m8 35h0m8-25h0m2-6h0m-1-1h0m-8-5h0m7-18h0m-3-3h0m1-1h0m-2-28h0m14 3h0m-6 12h0m1 16h0m4 10h0m0 2h0m6 4h0m-8 1h0m4 31h0m-2 1h0m13 12h0m2-1h0m-4-1h0m2-2h0m-6-26h0m-1-2h0m2 0h0m3 0h0m-1-17h0m5-3h0m-9-12h0m21-27h0m1 26h0m2 7h0m-4 4h0m-2 0h0m2 6h0m-5 2h0m2 5h0m3 1h0m-4 10h0m0 1h0m3 1h0m-2 2h0m3 2h0m3 3h0m-6 2h0m1 6h0m-3 4h0m2 8h0m-3 2h0m12 28h0m7-24h0m-4-14h0m2-2h0m0-9h0m5-1h0m-4-1h0m-4-7h0m-1-2h0m0-2h0m-2-4h0m4-2h0m4-2h0m2-3h0m-3-2h0m-3-1h0m4-13h0m3-5h0m-9-3h0m-1-6h0m3-3h0m-1-25h0m16 32h0m-3 12h0m5 7h0m-7 10h0m2 5h0m4 0h0m-8 1h0m-1 1h0m2 11h0m0 1h0m5 7h0m4 22h0m-7 11h0m-3 8h0m16-14h0m3-10h0m-7-4h0m4-52h0m7-5h0m7-11h0m2 1h0m-3 83h0m-2 0h0m8 10h0m6-7h0m-2-81h0m4-8h0m9-4h0m4 16h0m-7 80h0m27 17h0m14-5h0m-4-5h0m-3-3h0m8-83h0m13 109h0m9-1h0m1-5h0m0-7h0m0-4h0m2-76h0m13 91h0m-4 0h0m2 4h0m-8 20h0m19 1h0m0-18h0m-5-93h0m13 0h0m-2 1h0m6 102h0m-3 2h0m2 4h0m-4 9h0m11-2h0m2-103h0m-2-1h0m15-1h0m3 8h0m0 143h0m9-37h0m-1-6h0m-1-4h0m-1 0h0m5-85h0m-4-5h0m6 0h0m16 111h0m-2 2h0m8 7h0m4-9h0m-10-1h0m4-1h0m0-92h0m3-1h0m10 99h0m6 2h0m12 13h0m-6-2h0m-4-95h0m4-1h0m12 91h0m7 0h0m-7 1h0m-2 2h0m0 7h0m13-77h0m-3-4h0m2 0h0m2-8h0m0-1h0m14 76h0m14 8h0" stroke="#00f" class="dt"/>
<path transform="scale(.5)" d="M617 1497h0m13 21h0m8 74h0m20-33h0m-3 20h0m2 3h0m0 2h0m8-11h0m-5 0h0m1-31h0m8-4h0m1-8h0m12-9h0m-1 10h0m2 6h0m0 1h0m-8 9h0m9 6h0m-8 13h0m-1 3h0m6 12h0m-5 24h0m6 16h0m6 8h0m-1-10h0m7-21h0m-6-3h0m1-2h0m4-23h0m0-10h0m-5-17h0m6-1h0m-9-23h0m16-1h0m4 15h0m-8 1h0m4 3h0m-1 30h0m-3 19h0m11 8h0m-6 5h0m1 2h0m14 54h0m1-48h0m1-7h0m-6 0h0m4-4h0m-5-7h0m-2-9h0m-1-8h0m6-7h0m-6-5h0m2-2h0m0-26h0m20 3h0m0 22h0m-4 7h0m-6 13h0m1 1h0m-1 1h0m8 2h0m-6 4h0m-2 4h0m5 0h0m-3 10h0m3 5h0m-5 1h0m7 0h0m1 20h0m6 13h0m-2-22h0m9-6h0m0-3h0m-5-1h0m3-2h0m-1-2h0m-7-4h0m7-5h0m-5-4h0m4-3h0m1-5h0m-2-1h0m3-6h0m-3-2h0m2-8h0m-5-6h0m1-5h0m10-20h0m0 34h0m2 8h0m4 1h0m-2 0h0m-5 4h0m0 16h0m8 1h0m-5 0h0m1 3h0m2 1h0m-1 1h0m-4 3h0m6 5h0m5 3h0m-3 1h0m-6 1h0m0 6h0m6 6h0m2 11h0m4 27h0m4-20h0m-6-21h0m4-1h0m-4-1h0m9-3h0m-1 0h0m-6-64h0m3-10h0m7 10h0m10 4h0m-2 67h0m0 3h0m-6 2h0m5 31h0m12-19h0m10-8h0m1 5h0m4 8h0m7-8h0m13-87h0m-3 7h0m5 78h0m3 20h0m-2 0h0m-3 9h0m8-21h0m2-1h0m12-80h0m-4 76h0m10 7h0m-7 7h0m7 1h0m-7 4h0m12 24h0m2-113h0m25 106h0m-2-8h0m5-4h0m-5-2h0m-2-83h0m18 2h0m-8 111h0m22 10h0m-7-119h0m9 99h0m8 6h0m1 5h0m1 2h0m-2 22h0m6 11h0m-3-37h0m0-90h0m10-4h0m5 6h0m5 2h0m-6 7h0m8 0h0m-8 89h0m7 13h0m3-106h0m13 7h0m5 11h0m-5 104h0m23-88h0m-5-1h0m-1-25h0m9 28h0m0 3h0m8 77h0m11 3h0m-4-6h0m-4-1h0m6-53h0m-3-7h0m9-6h0m0 9h0m9 58h0m12 3h0m-1-7h0" stroke="#00f" class="dt"/>
<path transform="scale(.5)" d="M623 1534h0m7 0h0m3 21h0m9-10h0m13 0h0m-5 49h0m6 6h0m4 11h0m11-28h0m-7-8h0m7-5h0m-6-15h0m7-36h0m6 22h0m5 9h0m-7 8h0m3 11h0m-6 7h0m3 1h0m5 35h0m10 5h0m-6-14h0m2-26h0m0-14h0m4-12h0m4-1h0m-5-24h0m17 4h0m-9 6h0m10 15h0m-10 16h0m5 8h0m2 0h0m-2 5h0m2 30h0m3 8h0m3 14h0m5-3h0m-6-2h0m8-9h0m-1-11h0m-2-9h0m4-4h0m-4-2h0m-6-14h0m1 0h0m2-1h0m3-1h0m3-11h0m0-51h0m8 27h0m-5 8h0m11 6h0m-9 21h0m2 1h0m5 7h0m-1 4h0m-3 1h0m-4 9h0m6 0h0m-1 5h0m-2 5h0m4 1h0m-8 6h0m9 17h0m8-10h0m5-21h0m-5-1h0m2-25h0m-5-3h0m3-9h0m-5-15h0m6-7h0m11 5h0m-4 9h0m9 7h0m-10 2h0m9 0h0m-3 1h0m-4 2h0m6 10h0m-4 9h0m2 1h0m-5 12h0m1 1h0m3 0h0m-1 6h0m-3 4h0m7 5h0m-1 3h0m6 21h0m5-3h0m0-16h0m-5-7h0m9-58h0m-6-2h0m0-5h0m10-27h0m7 37h0m-8 1h0m4 68h0m6 2h0m-9 16h0m-2 4h0m4 3h0m9-17h0m2-5h0m2-72h0m6-1h0m6 85h0m1 1h0m11 25h0m-3-26h0m6-3h0m2-79h0m-10-3h0m13 1h0m3 79h0m14 16h0m0-92h0m27 111h0m0-7h0m0-11h0m-6-2h0m-2-91h0m6 0h0m0-3h0m6 98h0m9 7h0m-5 1h0m4 9h0m13 5h0m-5-14h0m12-79h0m-5 83h0m4 15h0m5 8h0m6 27h0m7-25h0m-5-12h0m-4-92h0m1-1h0m13 10h0m3 1h0m-5 89h0m4 6h0m4 1h0m1 6h0m4-96h0m21 1h0m-6 3h0m-4 3h0m9 96h0m-1 5h0m0 32h0m9-29h0m-3-1h0m-1-2h0m4-97h0m-2-7h0m11 6h0m-2 7h0m1 5h0m5 91h0m0 3h0m0 18h0m13-5h0m2-1h0m-2-1h0m-8-9h0m2-2h0m3-86h0m-1-2h0m-1-1h0m20 16h0m-5 1h0m-3 77h0m-3 9h0m15-10h0m1-63h0m2-1h0m9 4h0m-2 8h0m7 3h0m-6 0h0m2 57h0m16-58h0" stroke="#00f" class="dt"/>
<path transform="scale(.5)" d="M615 1604h0m8-73h0m12 34h0m6-26h0m6-2h0m3-25h0m2 13h0m4 0h0m0 10h0m-7 40h0m12 24h0m2-15h0m3-6h0m-4-8h0m3-23h0m0-12h0m15 2h0m4 7h0m-10 5h0m6 3h0m-2 1h0m1 24h0m2 1h0m-3 3h0m-6 0h0m1 33h0m15-27h0m0-18h0m-2-17h0m14-21h0m-3 14h0m1 4h0m6 2h0m-6 12h0m0 7h0m3 1h0m6 6h0m-5 4h0m2 20h0m-1 8h0m2 16h0m4-13h0m11-8h0m-8-7h0m7-7h0m-3-1h0m0-9h0m2-3h0m-3-4h0m-1-7h0m2 0h0m2-6h0m0-4h0m-2-22h0m9 4h0m4 28h0m3 25h0m-11 1h0m4 2h0m6 2h0m-6 2h0m0 0h0m0 2h0m-3 1h0m3 1h0m4 1h0m-6 1h0m4 4h0m4 0h0m0 36h0m-9 3h0m18-3h0m0-20h0m0-4h0m0-2h0m-7-20h0m3-1h0m8-1h0m-2-3h0m-3-2h0m-6-11h0m4 0h0m-1 0h0m-1-4h0m0-6h0m3-1h0m1-2h0m2-5h0m-3-21h0m13 15h0m-4 3h0m6 14h0m-7 1h0m4 22h0m2 0h0m-8 9h0m8 1h0m2 4h0m-7 8h0m7 4h0m7 6h0m0-6h0m4-4h0m-1-3h0m3-57h0m-1-5h0m1-25h0m3 29h0m1 69h0m7 3h0m1 23h0m-9 9h0m19-17h0m-8-5h0m1-5h0m2-2h0m1-73h0m-3-1h0m6-5h0m12 6h0m-2 81h0m-3 16h0m14-98h0m0-7h0m16 89h0m-4 6h0m-1 3h0m-3 11h0m17-14h0m7-5h0m1 10h0m0 5h0m12 29h0m-2-14h0m5-5h0m0-17h0m-4-79h0m9-1h0m7 6h0m3 88h0m-2 6h0m4 1h0m-6 6h0m19-92h0m-8-8h0m11-1h0m6 102h0m12 17h0m0-13h0m6-102h0m-1 14h0m3 92h0m1 10h0m7 8h0m-3 0h0m8 37h0m-4-141h0m2 0h0m21-5h0m-9 10h0m1 9h0m7 98h0m5 29h0m6-136h0m8 116h0m-3 1h0m0 17h0m19-13h0m-1-84h0m-1-2h0m3-13h0m2 17h0m7 7h0m-5 85h0m4 15h0m16-82h0m-5-2h0m-1-2h0m14 3h0m-7 2h0m6 1h0m-6 3h0m3 2h0m6 41h0m11 23h0m-6-68h0m7-23h0" stroke="#00f" class="dt"/>
<path transform="scale(.5)" d="M615 1553h0m-3-7h0m12-20h0m2 69h0m18 5h0m2-7h0m1-68h0m9 0h0m-4 2h0m1 13h0m3 20h0m-1 3h0m12 63h0m3-27h0m-3-9h0m4-6h0m-6-5h0m5-18h0m-9-17h0m17 21h0m-4 8h0m7 71h0m14 18h0m-3-38h0m-3-25h0m2-15h0m3-3h0m-10-1h0m1-6h0m2-3h0m-1-6h0m2-27h0m6-9h0m9 7h0m3 10h0m-1 9h0m-8 1h0m3 6h0m8 5h0m-5 9h0m1 1h0m-2 5h0m-5 1h0m4 1h0m7 2h0m-1 10h0m1 3h0m-8 15h0m17 20h0m3-6h0m-4-22h0m-5-3h0m-1-4h0m8-2h0m-3 0h0m-4-3h0m9-6h0m-6-20h0m-5-2h0m2-20h0m12-12h0m1 2h0m4 4h0m-4 3h0m-4 5h0m11 2h0m-1 3h0m-3 0h0m5 0h0m-3 1h0m-4 16h0m-2 0h0m-3 5h0m2 2h0m8 0h0m-3 3h0m-7 1h0m7 4h0m-2 6h0m-2 1h0m-1 1h0m10 6h0m0 3h0m-3 17h0m-9 5h0m9 18h0m0 10h0m6-39h0m1-10h0m4-9h0m2-2h0m-6-3h0m-2-2h0m0-6h0m-1 0h0m9-2h0m-6-1h0m2-5h0m2-11h0m4-1h0m-4-7h0m9 11h0m1 6h0m-1 8h0m-2 1h0m5 6h0m-7 12h0m6 11h0m4 1h0m0 8h0m-4 1h0m2 19h0m11 18h0m4-29h0m-3-9h0m-8-1h0m0-4h0m12 8h0m1 3h0m5 10h0m2 9h0m10 5h0m-5-18h0m4-78h0m-3-3h0m17 90h0m4 1h0m2 9h0m-2-8h0m1-1h0m10-82h0m7 0h0m-1 3h0m6 87h0m-8 2h0m14 20h0m8-106h0m5 3h0m-2 0h0m3 0h0m-6 74h0m0 9h0m20-87h0m4 10h0m10 3h0m-8 87h0m5 16h0m7-12h0m1-87h0m1-2h0m-4-1h0m7-10h0m-5-7h0m13 24h0m17 114h0m-8-13h0m5-4h0m-1-95h0m13 108h0m17 27h0m-7-19h0m1-2h0m13-94h0m5 104h0m7 16h0m2-7h0m-5-1h0m5-5h0m-7-1h0m10-87h0m0-1h0m11 1h0m0 8h0m0 87h0m13 20h0m-5-18h0m-2-84h0m17 1h0m-8 8h0m5 5h0m3 83h0m3-8h0m1-70h0m8-13h0m14 6h0m-2 3h0m-5 12h0" stroke="#00f" class="dt"/>
<path transform="scale(.5)" d="M747 1426h0m7 32h0m12 19h0m-4-10h0m-2-2h0m2-4h0m1-4h0m0 0h0m-5-1h0m2-5h0m-1-4h0m-1-4h0m6-3h0m-3-1h0m5-8h0m-7-27h0m9 4h0m4 0h0m0 3h0m5 10h0m-1 7h0m1 1h0m3 1h0m-6 0h0m-6 2h0m8 0h0m-5 1h0m-2 0h0m0 1h0m0 1h0m3 53h0m5 10h0m4-65h0m0 0h0m3-1h0m5-1h0m0 0h0m-4-1h0m-2-3h0m3 0h0m-2-1h0m-3-3h0m3 0h0m-4-2h0m6-9h0m-2 0h0m5-2h0m-2-1h0m-3-2h0m2-16h0m-2-4h0m-3-20h0m12 32h0m6 16h0m2 13h0m-7 1h0m6 4h0m-5 1h0m-1 0h0m0 1h0m6 2h0m-7 1h0m3 1h0m7 0h0m-6 0h0m1 2h0m-1 0h0m1 1h0m1 1h0m-1 0h0m0 1h0m3 1h0m1 1h0m2 1h0m-3 1h0m2 1h0m-11 68h0m6 5h0m1 1h0m-5 27h0m11-20h0m7-66h0m1-4h0m-4 0h0m3 0h0m-1-1h0m4 0h0m-3-1h0m2-1h0m-8-2h0m4 0h0m-1 0h0m0-1h0m1 0h0m-2 0h0m2 0h0m1-1h0m-5-2h0m4-1h0m2-1h0m2-2h0m-8-1h0m8 0h0m-10 0h0m7-4h0m-1-1h0m-5-4h0m7-2h0m-6-16h0m13 11h0m-2 24h0m2 3h0m5 1h0m1 0h0m-2 0h0m3 1h0m-6 0h0m-4 2h0m11 4h0m-10 1h0m2 0h0m1 1h0m0 5h0m7 1h0m-3 1h0m-3 0h0m6 1h0m-3 0h0m1 1h0m-2 84h0m-6 4h0m11 9h0m10-84h0m1-2h0m-6-2h0m-1-2h0m0-1h0m6-1h0m-9-1h0m4-6h0m4 0h0m-7-2h0m9 0h0m-10-6h0m1-1h0m7-21h0m-4-11h0m12 31h0m-2 12h0m1 0h0m-3 6h0m7 3h0m-1 2h0m1 1h0m-3 0h0m2 2h0m-4 0h0m1 0h0m3 2h0m-3 2h0m-1 0h0m4 3h0m3 0h0m-3 1h0m2 1h0m2 0h0m0 1h0m-3 78h0m7 6h0m7-76h0m-3-1h0m0-1h0m-2-2h0m-3-1h0m1-1h0m1-1h0m5-1h0m-3 0h0m-2-1h0m-3-1h0m3-1h0m7-2h0m-7 0h0m3-1h0m-4-5h0m6-3h0m-2 0h0m-6-3h0m9 0h0m-7-2h0m6-7h0m-3-1h0m16 22h0m-4 0h0m-3 3h0m5 0h0m0 1h0m-2 2h0m-6 1h0m3 1h0m-2 4h0m9 1h0m-9 0h0m10 2h0m-2 1h0m-3 1h0m2 0h0m3 0h0m-11 74h0m8 3h0m1 2h0m14 2h0m-3-1h0m-1-73h0m1 0h0m3 0h0m1-1h0m-6-2h0m-5-2h0m2-1h0m9-2h0m-9-2h0m-2 0h0m1-3h0m-2-15h0m19 12h0m-6 7h0m0 3h0m0 1h0m3 5h0m4 2h0m-6 1h0m2 0h0m5 9h0m3 55h0m-4 8h0m4-5h0m11-1h0m-8-8h0m6-4h0m-1 0h0m-1-5h0m2-7h0m1-12h0m-1-1h0m-6-13h0m5-6h0m-1 0h0m-5-4h0m2-5h0" stroke="#f00" class="dt"/>
<path transform="scale(.5)" d="M755 1426h0m4 63h0m7-5h0m-1-9h0m-3-1h0m1-3h0m-1-11h0m-3-5h0m3 0h0m-4-7h0m3 0h0m0-2h0m6-8h0m0 0h0m-9 0h0m3-3h0m3-2h0m-1-1h0m-4-5h0m7-5h0m-1-42h0m15-4h0m-11 25h0m1 16h0m6 0h0m-4 1h0m5 2h0m-3 1h0m2 1h0m0 2h0m-3 2h0m-3 2h0m9 1h0m-7 0h0m3 1h0m2 0h0m-2 0h0m-7 4h0m1 51h0m7 9h0m1 2h0m3 6h0m7 14h0m-4 0h0m1-2h0m5-2h0m3-78h0m0-1h0m-8 0h0m5-1h0m-5-3h0m1-1h0m-1-1h0m-1 0h0m5 0h0m2-1h0m-9-4h0m5 0h0m3-1h0m1-3h0m-3-3h0m-3-1h0m8-7h0m-9-7h0m14-9h0m-4 14h0m0 8h0m4 5h0m-1 2h0m2 7h0m-2 2h0m-3 1h0m6 2h0m-7 1h0m1 1h0m4 1h0m2 2h0m1 7h0m3 1h0m-5 0h0m3 1h0m0 1h0m0 1h0m1 2h0m-9 73h0m9 6h0m3 6h0m9-71h0m-2-1h0m4-2h0m-7-1h0m5-1h0m-4 0h0m2-1h0m-5-2h0m1-2h0m-2-2h0m1-2h0m-2-2h0m0-3h0m1-4h0m-1-3h0m1-1h0m3-3h0m1-3h0m3-2h0m1-1h0m-8-1h0m0-2h0m2-22h0m-1-1h0m17 36h0m-3 10h0m-4 3h0m7 0h0m-2 1h0m-5 4h0m1 6h0m1 2h0m6 1h0m-2 2h0m-2 4h0m5 0h0m1 2h0m-4 82h0m-3 3h0m-3 3h0m3 12h0m18-2h0m1-80h0m-2-2h0m3 0h0m-3-1h0m1 0h0m-5-2h0m-1-5h0m4-2h0m-5 0h0m-3 0h0m0-4h0m5-1h0m-2-4h0m7-4h0m-10-1h0m2-1h0m10-2h0m-5-1h0m-2-1h0m1-1h0m-5-5h0m8-12h0m3 17h0m0 9h0m0 1h0m11 10h0m-9 0h0m1 1h0m-1 5h0m6 1h0m2 2h0m-7 1h0m7 0h0m-7 3h0m6 1h0m-3 0h0m1 0h0m5 3h0m-5 0h0m-1 1h0m18 88h0m-12-3h0m1-1h0m6-75h0m-1 0h0m0 0h0m5 0h0m0-1h0m0-1h0m-3 0h0m-5 0h0m4-1h0m1-1h0m-7 0h0m9 0h0m-6 0h0m7-2h0m-11-1h0m11-1h0m-3-1h0m-6-1h0m-1 0h0m8-2h0m-1 0h0m-5-1h0m8-7h0m-9-17h0m18 5h0m-2 14h0m-1 0h0m1 2h0m0 8h0m-5 1h0m0 3h0m0 2h0m0 2h0m10 1h0m-8 3h0m4 1h0m-3 0h0m5 3h0m-4 74h0m1 0h0m1 11h0m9-7h0m7-70h0m-6-5h0m-4-1h0m7-1h0m4 0h0m-4 0h0m-3 0h0m0-1h0m-2 0h0m6 0h0m-6-1h0m6-1h0m-9 0h0m10-9h0m-8-25h0m19 44h0m0 2h0m-5 0h0m3 3h0m4 4h0m0 1h0m10 54h0m-5-2h0m1-4h0m5-9h0m-3-7h0m0-5h0m0-3h0m0-3h0m-2-11h0m-1-1h0m0-2h0m-3-2h0m-1-9h0m12 25h0m5 35h0" stroke="#f00" class="dt"/>
<path transform="scale(.5)" d="M749 1426h0m2 15h0m14 45h0m-6-18h0m1-5h0m2-4h0m-5-3h0m4-2h0m-4-9h0m1-3h0m1-5h0m2-5h0m2-2h0m-2 0h0m2-4h0m3 0h0m-9-3h0m22-31h0m-3 5h0m2 1h0m-6 0h0m5 11h0m-4 14h0m3 3h0m-5 3h0m-3 2h0m7 2h0m-7 4h0m1 46h0m0 0h0m-1 1h0m5 8h0m15 38h0m-1-10h0m4-3h0m0-83h0m-8-2h0m4 0h0m2 0h0m-6 0h0m-1-1h0m5 0h0m-6 0h0m1-2h0m0-1h0m0 0h0m0-2h0m-1-1h0m2-2h0m-2-1h0m0-3h0m5-4h0m1-1h0m-6-3h0m2-2h0m1-3h0m4-3h0m-4-3h0m3-2h0m8-10h0m6 22h0m-7 0h0m5 6h0m-4 2h0m-1 4h0m-2 0h0m9 1h0m-2 9h0m-6 4h0m6 2h0m1 0h0m-5 2h0m3 0h0m3 2h0m1 1h0m-6 78h0m6 8h0m-6 0h0m-2 7h0m21 9h0m-6-12h0m7-69h0m0-2h0m-1 0h0m-4-2h0m3 0h0m-5-1h0m4 0h0m-1-3h0m-5 0h0m-1-4h0m0-1h0m-1-3h0m10-1h0m-2-4h0m1-1h0m-8-1h0m4-3h0m-2-5h0m7-1h0m-7-10h0m19-1h0m-5 14h0m-2 1h0m-1 17h0m6 3h0m-6 3h0m0 1h0m5 0h0m-2 3h0m4 1h0m-10 2h0m7 3h0m-3 0h0m-2 1h0m10 2h0m-8 1h0m6 0h0m-2 1h0m-1 1h0m5 4h0m-11 74h0m2 2h0m5 3h0m6 12h0m6 0h0m-1-1h0m-3-2h0m7-75h0m-3-5h0m0 0h0m-1-1h0m2 0h0m-3 0h0m3-1h0m1 0h0m-6-1h0m-1 0h0m5-1h0m-5 0h0m2 0h0m1-1h0m-3 0h0m-1-1h0m2-1h0m7-1h0m-8 0h0m0-2h0m9-1h0m-6-1h0m4-2h0m-8 0h0m2-1h0m8-9h0m3-5h0m-2 15h0m1 2h0m8 6h0m-3 2h0m4 1h0m-7 2h0m-3 0h0m10 1h0m-8 2h0m0 1h0m3 0h0m-2 1h0m6 2h0m-1 0h0m-6 0h0m-1 0h0m7 1h0m-3 0h0m2 0h0m2 1h0m-7 0h0m9 1h0m-2 3h0m-8 78h0m15-72h0m-1-2h0m0 0h0m1 0h0m-1-2h0m-4-1h0m7 0h0m-2-1h0m-2-1h0m4 0h0m2-1h0m-3 0h0m0-1h0m-2 0h0m-4-1h0m6-2h0m3-6h0m-6-1h0m0-1h0m8-9h0m2 2h0m10 5h0m-9 5h0m4 4h0m-2 2h0m-1 0h0m7 3h0m1 7h0m-9 1h0m0 0h0m1 2h0m-3 1h0m4 2h0m3 2h0m1 0h0m3 3h0m-3 76h0m-3 3h0m-1 1h0m16-2h0m-6-1h0m-1-1h0m9-70h0m0-4h0m-3 0h0m-6-1h0m11-2h0m-10-2h0m-1 0h0m6 0h0m-6-13h0m2-3h0m12 5h0m-2 22h0m1 0h0m5 1h0m1 4h0m4 65h0m2-13h0m3-2h0m5-2h0m-2-2h0m-1-4h0m1-11h0m0-3h0m3-7h0m-6-8h0m0-2h0m7-1h0m-8-3h0m2-3h0" stroke="#f00" class="dt"/>
<path transform="scale(.5)" d="M756 1416h0m-1 19h0m1 40h0m9 11h0m-6-4h0m2 0h0m3-5h0m0-1h0m-3-3h0m1-3h0m0-2h0m-1-2h0m0-3h0m1-4h0m-1-14h0m4-3h0m-1-3h0m2-3h0m-5-3h0m0-3h0m5-11h0m-3-2h0m-6 0h0m18-43h0m-3 18h0m2 29h0m3 1h0m-5 1h0m8 1h0m-3 2h0m2 1h0m-3 3h0m-3 1h0m3 0h0m1 68h0m-3 7h0m13 10h0m4-1h0m-1-2h0m0-81h0m2-1h0m-7-2h0m3-1h0m-1-2h0m0-1h0m-6-4h0m6-5h0m-2-4h0m2-37h0m12 23h0m-3 20h0m-4 2h0m5 1h0m2 4h0m-7 5h0m1 1h0m3 0h0m1 0h0m-5 0h0m12 1h0m-12 4h0m9 0h0m-3 1h0m-2 1h0m3 1h0m2 1h0m-2 0h0m4 2h0m1 7h0m0 3h0m-5 74h0m5 6h0m8 14h0m-4-12h0m4-72h0m2-3h0m0 0h0m-2 0h0m2-2h0m-3-1h0m0-1h0m0-4h0m-1-1h0m3-1h0m1-8h0m-9-2h0m1-1h0m-1-2h0m6-38h0m6 58h0m4 0h0m-3 2h0m5 1h0m-5 3h0m-1 1h0m7 0h0m4 0h0m-6 2h0m-4 0h0m5 4h0m-5 0h0m10 1h0m-4 0h0m-2 1h0m-2 0h0m3 2h0m3 5h0m-10 68h0m1 1h0m0 10h0m19 16h0m-8-1h0m11-80h0m-1-5h0m-4-1h0m3-1h0m0 0h0m-1 0h0m0-1h0m-4 0h0m7 0h0m-8 0h0m6 0h0m2-1h0m-2 0h0m-2-3h0m-5-2h0m0-1h0m8-1h0m-5 0h0m-4 0h0m10-2h0m-6 0h0m2-1h0m-6-1h0m7-1h0m4 0h0m-12-3h0m1-8h0m9-4h0m-1-16h0m-1-7h0m5 23h0m6 12h0m4 6h0m-4 2h0m-1 1h0m-6 1h0m7 0h0m-2 1h0m-3 2h0m1 0h0m5 1h0m2 1h0m-3 1h0m-4 0h0m1 3h0m-4 2h0m4 1h0m2 1h0m-4 0h0m9 2h0m-9 1h0m6 0h0m-1 0h0m0 1h0m5 1h0m-5 0h0m2 3h0m14 87h0m-9-5h0m-1-1h0m9-73h0m2-1h0m-2 0h0m-5-1h0m3-1h0m-2-1h0m-3-1h0m1-2h0m-1 0h0m-2 0h0m1-1h0m0 0h0m1 0h0m6-1h0m1-2h0m-10 0h0m6 0h0m0-1h0m0 0h0m1-7h0m-3-10h0m-4-6h0m14 6h0m10 22h0m-8 3h0m3 0h0m-4 1h0m3 2h0m-6 0h0m10 3h0m-1 2h0m0 1h0m0 1h0m1 0h0m-7 83h0m14-2h0m5-74h0m0 0h0m-3 0h0m-3-15h0m5-1h0m-4-1h0m-2 0h0m-2-2h0m12 14h0m5 1h0m4 5h0m-8 2h0m6 0h0m-3 1h0m1 1h0m3 71h0m5-11h0m7 0h0m-2-6h0m5-1h0m-8-1h0m3-2h0m-1-1h0m3 0h0m-2-5h0m0-6h0m1-2h0m-1-5h0m5-1h0m-6-7h0m-1-2h0m0-1h0m-2-7h0m1 0h0m-2 0h0m10-4h0m-10-3h0m3 0h0m-5-2h0m4 0h0m1-1h0m8 7h0" stroke="#f00" class="dt"/>
<path transform="scale(.5)" d="M756 1426h0m9 63h0m-5-2h0m6-8h0m-4-5h0m2-2h0m-1-1h0m-5-1h0m4-4h0m0-4h0m-3-8h0m0-6h0m6-3h0m-1 0h0m-5-2h0m5-2h0m-7-1h0m10-2h0m-1-15h0m-4 0h0m-1-3h0m-3-3h0m21-3h0m-1 2h0m-7 5h0m8 6h0m-1 1h0m-4 1h0m-3 1h0m7 1h0m-1 1h0m-8 0h0m9 0h0m-10 5h0m3 50h0m3 10h0m4 2h0m-6 10h0m19 12h0m-3-2h0m2-6h0m-4-1h0m-6-9h0m5-70h0m-3-2h0m3 0h0m5-3h0m-6-5h0m-1 0h0m2-23h0m-2-6h0m-2-7h0m3-1h0m1-2h0m-3-20h0m13 31h0m-3 1h0m12 27h0m-12 5h0m2 1h0m1 0h0m-2 0h0m9 1h0m-7 3h0m0 0h0m6 2h0m-7 3h0m3 3h0m3 3h0m1 3h0m-4 75h0m2 6h0m14-64h0m1 0h0m-2-1h0m-1-1h0m4-2h0m1 0h0m-1 0h0m-7-7h0m-2-3h0m6 0h0m-6-1h0m8 0h0m-4-1h0m-3-3h0m0-2h0m-2-2h0m3 0h0m6-9h0m-7-3h0m4-7h0m11 4h0m0 14h0m-1 12h0m1 1h0m0 2h0m-3 5h0m0 0h0m-1 0h0m5 1h0m-1 1h0m-4 1h0m8 0h0m-7 3h0m0 1h0m2 0h0m4 1h0m1 1h0m-8 0h0m3 1h0m6 0h0m-3 1h0m-4 0h0m1 0h0m5 2h0m-1 1h0m2 2h0m-4 0h0m1 85h0m9 6h0m7-76h0m0-1h0m-5-3h0m2-2h0m-5-1h0m-1-3h0m-1-1h0m2-1h0m-2 0h0m10-1h0m-5-1h0m1-1h0m-6-3h0m3 0h0m3-1h0m-7-4h0m9-1h0m-9 0h0m5-1h0m2 0h0m-2-2h0m6 0h0m-6-6h0m2-12h0m-5-2h0m5-4h0m11 29h0m-1 0h0m-3 1h0m2 11h0m6 3h0m-11 3h0m7 0h0m0 0h0m-4 2h0m2 0h0m-4 1h0m3 0h0m3 1h0m-2 0h0m0 2h0m-1 0h0m4 0h0m-3 1h0m0 0h0m3 0h0m-4 1h0m2 1h0m0 1h0m1 0h0m4 0h0m12 10h0m-4-1h0m2-2h0m-1 0h0m-5 0h0m8-1h0m-7 0h0m1 0h0m0-2h0m4 0h0m-5 0h0m3-1h0m-6-2h0m1-2h0m0-2h0m2 0h0m-2-1h0m4-3h0m2-4h0m-8-7h0m6-5h0m4-9h0m6 39h0m-2 0h0m-1 3h0m2 0h0m3 5h0m3 1h0m-2 76h0m7 1h0m10-69h0m-4-5h0m-2-1h0m2 0h0m-6-1h0m0-1h0m7 0h0m-3-2h0m-5-1h0m-1-1h0m5-1h0m5-5h0m-5-2h0m-4-2h0m12 6h0m6 3h0m3 6h0m-9 2h0m10 3h0m-7 0h0m1 1h0m3 10h0m3 56h0m0 1h0m-2 1h0m1 3h0m2 1h0m-8 2h0m0 4h0m12-18h0m0-1h0m2-1h0m2-1h0m2-3h0m-1-2h0m-1-3h0m1-5h0m-1 0h0m2-4h0m0-10h0m-4-4h0m6-4h0m-4-1h0m-2-1h0m-5-4h0m1-2h0m12 16h0m-1 30h0" stroke="#f00" class="dt"/>
<path transform="scale(.5)" d="M755 1431h0m-5 5h0m1 8h0m15 38h0m-7-13h0m3-11h0m-6-3h0m5-10h0m3-2h0m1 0h0m2-3h0m0 0h0m1-2h0m-3-1h0m-8-1h0m9-2h0m-4-4h0m3-5h0m15-21h0m-2 6h0m-2 0h0m3 9h0m-10 0h0m10 2h0m-10 10h0m0 4h0m7 62h0m-6 1h0m9 2h0m-5 0h0m16 24h0m0-4h0m1-5h0m-1-2h0m-4-5h0m-2-1h0m-1-1h0m-1-1h0m-1-72h0m9-1h0m-4 0h0m2 0h0m-5-2h0m6-3h0m-8-1h0m4-1h0m-1-3h0m6-1h0m-1 0h0m3 0h0m-5-7h0m1 0h0m0-9h0m-1-6h0m0-1h0m1-18h0m5 0h0m10 11h0m-11 22h0m7 2h0m-1 2h0m-5 14h0m9 2h0m-2 0h0m-7 1h0m5 4h0m-3 3h0m2 1h0m2 1h0m3 0h0m0 88h0m-1 2h0m-3 0h0m17 35h0m-2-18h0m-5-16h0m6-69h0m1-4h0m-2-2h0m-2-1h0m-3 0h0m3-2h0m3 0h0m-3-4h0m-2-1h0m-4-1h0m7-2h0m-1 0h0m-6-1h0m0 0h0m5-1h0m1-15h0m-3-33h0m11 49h0m-1 4h0m7 2h0m-3 1h0m2 1h0m-2 0h0m-6 8h0m2 2h0m0 1h0m2 0h0m4 2h0m-5 3h0m8 0h0m1 2h0m-3 0h0m0 1h0m-1 2h0m3 1h0m-1 1h0m2 2h0m-11 73h0m6 9h0m8 18h0m-3-3h0m6-9h0m-5 0h0m8-79h0m-1-1h0m2-2h0m0 0h0m-5-1h0m7 0h0m-1-1h0m-1-1h0m-9-1h0m10 0h0m-9-1h0m-1 0h0m0-2h0m4-2h0m3-4h0m-8 0h0m1-1h0m8-1h0m-7-3h0m6 0h0m-8-1h0m5-4h0m-1-1h0m-1-13h0m11 2h0m4 5h0m-1 5h0m7 16h0m-8 2h0m-2 1h0m6 1h0m1 0h0m0 1h0m-1 1h0m-6 1h0m9 1h0m-9 2h0m5 0h0m-4 1h0m5 1h0m3 1h0m-2 0h0m-4 1h0m-3 0h0m0 1h0m-1 1h0m2 1h0m2 2h0m-1 81h0m1 2h0m3 3h0m10 10h0m4-84h0m1-1h0m-1-1h0m1-1h0m-5 0h0m2 0h0m-7-3h0m5-1h0m-3 0h0m0-2h0m8 0h0m1 0h0m-11-1h0m-1-1h0m6-1h0m4-1h0m-1-1h0m-2 0h0m2-2h0m-5-1h0m-1 0h0m-1 0h0m-2 0h0m1-2h0m5-3h0m-4 0h0m4-22h0m13 27h0m-1 4h0m-5 3h0m10 2h0m-5 2h0m5 1h0m0 4h0m-11 0h0m2 1h0m9 1h0m-6 3h0m12 84h0m6-74h0m-1-1h0m-2-3h0m1-2h0m-5-2h0m-3-1h0m3-1h0m4 0h0m0-3h0m-7 0h0m3-14h0m-1-2h0m-2-1h0m8-2h0m6 23h0m-1 3h0m7 4h0m1 0h0m-4 2h0m-4 0h0m-1 1h0m2 1h0m3 2h0m2 3h0m4 3h0m-6 63h0m14-5h0m-3-5h0m-4 0h0m6-11h0m1-3h0m1-3h0m1-2h0m-3-6h0m4-6h0m-3 0h0m2-6h0m-6-23h0m-3-12h0m13 38h0" stroke="#f00" class="dt"/>
<path transform="scale(.5)" d="M755 1426h0m0 33h0m11 17h0m-1-1h0m-1-1h0m-3-20h0m1-3h0m2-4h0m1-1h0m-4 0h0m2-3h0m3-2h0m-3 0h0m4-3h0m-8-8h0m6-1h0m-8-1h0m1-16h0m18-53h0m-6 41h0m10 8h0m-5 1h0m3 8h0m1 3h0m1 2h0m-5 2h0m-1 1h0m-2 4h0m6 0h0m-4 2h0m4 0h0m-5 1h0m4 0h0m1 1h0m-6 0h0m-3 51h0m0 0h0m1 14h0m10 19h0m7-4h0m-2-1h0m-2-3h0m0-5h0m7-72h0m-3-2h0m-7-1h0m1 0h0m2-2h0m6-1h0m-6 0h0m-2 0h0m6-1h0m3 0h0m-5 0h0m6 0h0m-4-2h0m3-1h0m0-13h0m-5-24h0m-3-1h0m14 14h0m-3 16h0m8 2h0m-1 6h0m1 7h0m-8 1h0m9 3h0m-8 0h0m2 2h0m3 2h0m-2 3h0m1 1h0m5 0h0m-4 1h0m4 1h0m-3 4h0m2 1h0m-9 75h0m1 17h0m9 7h0m12 0h0m-7-11h0m7-70h0m-1-1h0m1-4h0m-4 0h0m1-1h0m-3 0h0m4-3h0m1-1h0m-8-2h0m9-1h0m-1 0h0m-5-2h0m-3-2h0m4-1h0m6-2h0m-3-1h0m0 0h0m-1 0h0m-6 0h0m1-1h0m-3 0h0m7 0h0m-2-6h0m-4-2h0m7-1h0m-1-5h0m14 1h0m-8 3h0m3 9h0m-1 12h0m-2 1h0m0 2h0m2 1h0m4 1h0m1 1h0m-7 4h0m8 1h0m-7 0h0m9 0h0m-4 1h0m-2 3h0m4 0h0m-1 1h0m-2 1h0m2 5h0m1 0h0m0 0h0m1 1h0m13 94h0m-6-3h0m5-82h0m0 0h0m-3-1h0m5-1h0m-5-1h0m-2 0h0m6-1h0m-8-1h0m0-1h0m4-2h0m0-1h0m2 0h0m-6-3h0m2-1h0m2-2h0m1-2h0m-3-1h0m-5-3h0m2-3h0m6-6h0m-2-2h0m15 1h0m0 0h0m-4 15h0m4 6h0m-8 3h0m4 4h0m0 0h0m5 1h0m2 0h0m-7 1h0m5 2h0m-7 1h0m1 1h0m6 1h0m-7 0h0m6 3h0m-5 0h0m1 1h0m3 1h0m3 1h0m-1 1h0m-4 79h0m-6 12h0m21-83h0m2-2h0m-5-1h0m-3 0h0m3 0h0m2-1h0m-8-1h0m12-1h0m-11 0h0m1-1h0m0 0h0m9-2h0m-4 0h0m-6-3h0m0-1h0m3-6h0m4-1h0m2-1h0m-7-3h0m7-8h0m7 6h0m3 22h0m-7 3h0m6 1h0m-1 0h0m5 2h0m-4 1h0m2 0h0m-9 1h0m6 1h0m6 1h0m-2 1h0m2 2h0m11 6h0m-3-1h0m-1-1h0m0-1h0m-4-1h0m6-3h0m-4-1h0m-1-1h0m3-4h0m-1-1h0m1-17h0m6 19h0m8 4h0m-5 0h0m-1 1h0m7 1h0m-7 5h0m-1 1h0m3 4h0m4 4h0m3 4h0m4 55h0m-4-1h0m8-28h0m0-2h0m-1-1h0m0-4h0m4-5h0m-5-5h0m-1 0h0m2-1h0m1-4h0m-7-2h0m1-1h0m1 0h0m3-1h0m-3-24h0m14 32h0m-3 6h0m-1 26h0m5 14h0" stroke="#f00" class="dt"/>
<path transform="scale(.5)" d="M765 1475h0m-2-8h0m-4-4h0m2-7h0m1-1h0m0 0h0m-3-3h0m4-3h0m1-4h0m-5-1h0m8-4h0m-8-3h0m5-1h0m0-1h0m2 0h0m2-1h0m-1-1h0m-5-5h0m0-7h0m15-64h0m-2 51h0m3 10h0m-2 2h0m-2 7h0m-1 2h0m-5 0h0m4 0h0m6 3h0m-9 0h0m7 1h0m-1 0h0m0 1h0m-4 55h0m-3 0h0m4 9h0m3 7h0m15 34h0m-3-23h0m1-6h0m-6-4h0m5-80h0m4-1h0m0-6h0m-5-2h0m-5 0h0m1-7h0m4-2h0m4-21h0m-9-23h0m15 62h0m-1 0h0m0 7h0m3 1h0m-5 1h0m2 2h0m-1 1h0m8 4h0m-5 0h0m5 0h0m-3 3h0m2 1h0m-4 77h0m5 3h0m2 3h0m8 16h0m3-80h0m0-5h0m0 0h0m-4 0h0m4-2h0m-6 0h0m0-1h0m5 0h0m0 0h0m-5-1h0m5 0h0m-7-1h0m3-1h0m-5-1h0m1 0h0m0-1h0m9-1h0m-9-1h0m3-3h0m4-2h0m-9-2h0m1-3h0m8-4h0m-5-3h0m0-2h0m6-12h0m-7-22h0m12 43h0m8 2h0m-10 7h0m6 5h0m2 2h0m-8 2h0m1 3h0m-1 1h0m5 2h0m0 1h0m-2 2h0m-1 2h0m0 0h0m-1 1h0m8 0h0m-7 2h0m9 0h0m-8 1h0m4 3h0m3 0h0m-2 1h0m-7 72h0m-1 1h0m7 7h0m16 16h0m-6-1h0m-4-7h0m8-75h0m2-1h0m-3-2h0m-1-1h0m-1-1h0m3-1h0m-5 0h0m0-1h0m3-1h0m-8-1h0m1 0h0m3-1h0m-2 0h0m4 0h0m4 0h0m-3 0h0m-2-3h0m5-1h0m-10-3h0m7-3h0m-3-1h0m0 0h0m3-3h0m-6-6h0m9-1h0m-3-6h0m13 10h0m3 17h0m-4 2h0m0 6h0m0 1h0m1 1h0m-6 0h0m-2 2h0m0 0h0m6 0h0m2 2h0m3 0h0m-7 1h0m3 0h0m3 0h0m-1 1h0m0 0h0m1 1h0m1 3h0m-1 79h0m0 2h0m9-75h0m1-1h0m-1 0h0m2 0h0m-5 0h0m6-1h0m-3-1h0m-5 0h0m3 0h0m-2-1h0m7 0h0m-5 0h0m4-1h0m-5 0h0m0-1h0m4 0h0m-7-2h0m6-3h0m-1 0h0m4-5h0m-7-5h0m4 0h0m-2 0h0m5-17h0m9 13h0m2 11h0m-4 0h0m-3 5h0m0 1h0m6 0h0m-2 1h0m-1 1h0m-2 0h0m-2 1h0m9 5h0m-3 1h0m-5 0h0m1 1h0m5 0h0m2 1h0m-2 0h0m-6 1h0m1 0h0m19 11h0m-2-1h0m-4-3h0m0-1h0m0-2h0m-2-1h0m8-1h0m-5-2h0m-1-1h0m-1-7h0m-1-6h0m0-1h0m-1-11h0m12 18h0m1 6h0m-2 11h0m9 4h0m-1 1h0m1 0h0m-1 4h0m0 2h0m1 60h0m-3 3h0m-1 1h0m4 3h0m9-9h0m-1-4h0m2-4h0m-1-2h0m6-3h0m-6-2h0m1 0h0m1-2h0m0-2h0m4-16h0m-3-1h0m-3-3h0m-5-21h0m11 17h0m1 7h0m-1 11h0" stroke="#f00" class="dt"/>
<path d="M364.0 794.8L376.0 793.6L376.8 786.0L384.0 780.4L396.8 779.9L407.9 780.4L419.1 782.8L430.3 786.8L443.1 792.4L455.9 798.0L465.5 804.4L475.1 809.9L486.2 817.9L495.8 826.7L503.8 837.1L506.2 838.4L510.5 838.4L519.8 838.4L519.8 857.1L510.5 857.1L503.8 857.9L495.8 862.7L486.2 859.5L475.1 854.7L463.9 846.7L452.7 838.7L439.9 830.7L427.1 822.7L415.9 818.7L404.7 817.1L395.2 817.1L385.6 809.9L376.8 803.6L376.0 795.9Z" fill="#fff" shape-rendering="crispEdges"/>
<g shape-rendering="crispEdges"><rect x="360.5" y="790.2" width="10" height="10" fill="#e6e6ff" fill-opacity="0.10"/><rect x="370.5" y="780.2" width="10" height="10" fill="#e7e7ff" fill-opacity="0.09"/><rect x="370.5" y="790.2" width="10" height="10" fill="#dedeff" fill-opacity="0.13"/><rect x="370.5" y="800.2" width="10" height="10" fill="#e9e9ff" fill-opacity="0.09"/><rect x="380.5" y="770.2" width="10" height="10" fill="#f2f2ff" fill-opacity="0.05"/><rect x="380.5" y="780.2" width="10" height="10" fill="#d4d4ff" fill-opacity="0.17"/><rect x="380.5" y="790.2" width="10" height="10" fill="#ccccff" fill-opacity="0.20"/><rect x="380.5" y="800.2" width="10" height="10" fill="#d3d3ff" fill-opacity="0.17"/><rect x="380.5" y="810.2" width="10" height="10" fill="#efefff" fill-opacity="0.06"/><rect x="390.5" y="770.2" width="10" height="10" fill="#f1f1ff" fill-opacity="0.06"/><rect x="390.5" y="780.2" width="10" height="10" fill="#cfcfff" fill-opacity="0.19"/><rect x="390.5" y="790.2" width="10" height="10" fill="#bfbfff" fill-opacity="0.25"/><rect x="390.5" y="800.2" width="10" height="10" fill="#c0c0ff" fill-opacity="0.25"/><rect x="390.5" y="810.2" width="10" height="10" fill="#d8d8ff" fill-opacity="0.15"/><rect x="400.5" y="770.2" width="10" height="10" fill="#f1f1ff" fill-opacity="0.05"/><rect x="400.5" y="780.2" width="10" height="10" fill="#cbcbff" fill-opacity="0.20"/><rect x="400.5" y="790.2" width="10" height="10" fill="#adadff" fill-opacity="0.32"/><rect x="400.5" y="800.2" width="10" height="10" fill="#a9a9ff" fill-opacity="0.34"/><rect x="400.5" y="810.2" width="10" height="10" fill="#d2d2ff" fill-opacity="0.18"/><rect x="400.5" y="820.2" width="10" height="10" fill="#f7f7ff" fill-opacity="0.03"/><rect x="410.5" y="770.2" width="10" height="10" fill="#f5f5ff" fill-opacity="0.04"/><rect x="410.5" y="780.2" width="10" height="10" fill="#cacaff" fill-opacity="0.21"/><rect x="410.5" y="790.2" width="10" height="10" fill="#9898ff" fill-opacity="0.40"/><rect x="410.5" y="800.2" width="10" height="10" fill="#9090ff" fill-opacity="0.44"/><rect x="410.5" y="810.2" width="10" height="10" fill="#c3c3ff" fill-opacity="0.23"/><rect x="410.5" y="820.2" width="10" height="10" fill="#f4f4ff" fill-opacity="0.04"/><rect x="420.5" y="780.2" width="10" height="10" fill="#d9d9ff" fill-opacity="0.15"/><rect x="420.5" y="790.2" width="10" height="10" fill="#9393ff" fill-opacity="0.42"/><rect x="420.5" y="800.2" width="10" height="10" fill="#6f6fff" fill-opacity="0.57"/><rect x="420.5" y="810.2" width="10" height="10" fill="#a6a6ff" fill-opacity="0.35"/><rect x="420.5" y="820.2" width="10" height="10" fill="#e9e9ff" fill-opacity="0.09"/><rect x="430.5" y="780.2" width="10" height="10" fill="#ededff" fill-opacity="0.07"/><rect x="430.5" y="790.2" width="10" height="10" fill="#9c9cff" fill-opacity="0.39"/><rect x="430.5" y="800.2" width="10" height="10" fill="#5e5eff" fill-opacity="0.63"/><rect x="430.5" y="810.2" width="10" height="10" fill="#7171ff" fill-opacity="0.56"/><rect x="430.5" y="820.2" width="10" height="10" fill="#cdcdff" fill-opacity="0.20"/><rect x="430.5" y="830.2" width="10" height="10" fill="#f4f4ff" fill-opacity="0.04"/><rect x="440.5" y="780.2" width="10" height="10" fill="#f7f7ff" fill-opacity="0.03"/><rect x="440.5" y="790.2" width="10" height="10" fill="#bebeff" fill-opacity="0.26"/><rect x="440.5" y="800.2" width="10" height="10" fill="#6969ff" fill-opacity="0.59"/><rect x="440.5" y="810.2" width="10" height="10" fill="#3333ff" fill-opacity="0.80"/><rect x="440.5" y="820.2" width="10" height="10" fill="#9e9eff" fill-opacity="0.38"/><rect x="440.5" y="830.2" width="10" height="10" fill="#e0e0ff" fill-opacity="0.12"/><rect x="450.5" y="790.2" width="10" height="10" fill="#e7e7ff" fill-opacity="0.10"/><rect x="450.5" y="800.2" width="10" height="10" fill="#8a8aff" fill-opacity="0.46"/><rect x="450.5" y="810.2" width="10" height="10" fill="#4848ff" fill-opacity="0.72"/><rect x="450.5" y="820.2" width="10" height="10" fill="#2e2eff" fill-opacity="0.82"/><rect x="450.5" y="830.2" width="10" height="10" fill="#b8b8ff" fill-opacity="0.28"/><rect x="450.5" y="840.2" width="10" height="10" fill="#ededff" fill-opacity="0.07"/><rect x="460.5" y="790.2" width="10" height="10" fill="#f7f7ff" fill-opacity="0.03"/><rect x="460.5" y="800.2" width="10" height="10" fill="#cacaff" fill-opacity="0.21"/><rect x="460.5" y="810.2" width="10" height="10" fill="#6b6bff" fill-opacity="0.58"/><rect x="460.5" y="820.2" width="10" height="10" fill="#0000ff" fill-opacity="1.00"/><rect x="460.5" y="830.2" width="10" height="10" fill="#5454ff" fill-opacity="0.67"/><rect x="460.5" y="840.2" width="10" height="10" fill="#c9c9ff" fill-opacity="0.21"/><rect x="460.5" y="850.2" width="10" height="10" fill="#f4f4ff" fill-opacity="0.04"/><rect x="470.5" y="800.2" width="10" height="10" fill="#efefff" fill-opacity="0.06"/><rect x="470.5" y="810.2" width="10" height="10" fill="#acacff" fill-opacity="0.32"/><rect x="470.5" y="820.2" width="10" height="10" fill="#5c5cff" fill-opacity="0.64"/><rect x="470.5" y="830.2" width="10" height="10" fill="#2626ff" fill-opacity="0.85"/><rect x="470.5" y="840.2" width="10" height="10" fill="#7f7fff" fill-opacity="0.50"/><rect x="470.5" y="850.2" width="10" height="10" fill="#ddddff" fill-opacity="0.13"/><rect x="480.5" y="810.2" width="10" height="10" fill="#e4e4ff" fill-opacity="0.11"/><rect x="480.5" y="820.2" width="10" height="10" fill="#a0a0ff" fill-opacity="0.37"/><rect x="480.5" y="830.2" width="10" height="10" fill="#6565ff" fill-opacity="0.60"/><rect x="480.5" y="840.2" width="10" height="10" fill="#6f6fff" fill-opacity="0.56"/><rect x="480.5" y="850.2" width="10" height="10" fill="#c1c1ff" fill-opacity="0.24"/><rect x="480.5" y="860.2" width="10" height="10" fill="#f3f3ff" fill-opacity="0.05"/><rect x="490.5" y="820.2" width="10" height="10" fill="#e0e0ff" fill-opacity="0.12"/><rect x="490.5" y="830.2" width="10" height="10" fill="#a9a9ff" fill-opacity="0.34"/><rect x="490.5" y="840.2" width="10" height="10" fill="#9191ff" fill-opacity="0.43"/><rect x="490.5" y="850.2" width="10" height="10" fill="#b7b7ff" fill-opacity="0.28"/><rect x="490.5" y="860.2" width="10" height="10" fill="#ebebff" fill-opacity="0.08"/><rect x="500.5" y="830.2" width="10" height="10" fill="#e6e6ff" fill-opacity="0.10"/><rect x="500.5" y="840.2" width="10" height="10" fill="#bebeff" fill-opacity="0.26"/><rect x="500.5" y="850.2" width="10" height="10" fill="#d1d1ff" fill-opacity="0.18"/><rect x="500.5" y="860.2" width="10" height="10" fill="#f6f6ff" fill-opacity="0.04"/></g>
<path d="M384.9 717.0L394.7 716.3L399.9 723.7L406.1 732.0L413.3 740.2L421.5 747.4L429.8 753.6L438.0 757.7L446.3 762.9L451.4 770.1L453.5 776.3L453.5 784.5L450.4 791.8L445.3 797.4L438.0 794.3L429.8 791.8L421.5 787.6L414.3 781.4L409.2 774.2L404.0 766.0L396.8 758.8L389.6 749.5L384.4 741.2L381.3 733.0L381.9 724.7Z" fill="#fff" shape-rendering="crispEdges"/>
<g shape-rendering="crispEdges"><rect x="370.5" y="720.2" width="10" height="10" fill="#fff5f5" fill-opacity="0.04"/><rect x="370.5" y="730.2" width="10" height="10" fill="#fff5f5" fill-opacity="0.04"/><rect x="380.5" y="710.2" width="10" height="10" fill="#ffe7e7" fill-opacity="0.09"/><rect x="380.5" y="720.2" width="10" height="10" fill="#ffcece" fill-opacity="0.19"/><rect x="380.5" y="730.2" width="10" height="10" fill="#ffc2c2" fill-opacity="0.24"/><rect x="380.5" y="740.2" width="10" height="10" fill="#ffe0e0" fill-opacity="0.12"/><rect x="380.5" y="750.2" width="10" height="10" fill="#fff5f5" fill-opacity="0.04"/><rect x="390.5" y="710.2" width="10" height="10" fill="#ffe7e7" fill-opacity="0.09"/><rect x="390.5" y="720.2" width="10" height="10" fill="#ffc0c0" fill-opacity="0.25"/><rect x="390.5" y="730.2" width="10" height="10" fill="#ffa4a4" fill-opacity="0.36"/><rect x="390.5" y="740.2" width="10" height="10" fill="#ffa5a5" fill-opacity="0.35"/><rect x="390.5" y="750.2" width="10" height="10" fill="#ffcbcb" fill-opacity="0.20"/><rect x="390.5" y="760.2" width="10" height="10" fill="#fff2f2" fill-opacity="0.05"/><rect x="400.5" y="720.2" width="10" height="10" fill="#ffeded" fill-opacity="0.07"/><rect x="400.5" y="730.2" width="10" height="10" fill="#ffc3c3" fill-opacity="0.23"/><rect x="400.5" y="740.2" width="10" height="10" fill="#ffa5a5" fill-opacity="0.35"/><rect x="400.5" y="750.2" width="10" height="10" fill="#ffa0a0" fill-opacity="0.37"/><rect x="400.5" y="760.2" width="10" height="10" fill="#ffc8c8" fill-opacity="0.21"/><rect x="400.5" y="770.2" width="10" height="10" fill="#ffeded" fill-opacity="0.07"/><rect x="410.5" y="730.2" width="10" height="10" fill="#fff1f1" fill-opacity="0.05"/><rect x="410.5" y="740.2" width="10" height="10" fill="#ffc8c8" fill-opacity="0.22"/><rect x="410.5" y="750.2" width="10" height="10" fill="#ff9797" fill-opacity="0.41"/><rect x="410.5" y="760.2" width="10" height="10" fill="#ff8d8d" fill-opacity="0.45"/><rect x="410.5" y="770.2" width="10" height="10" fill="#ffa7a7" fill-opacity="0.34"/><rect x="410.5" y="780.2" width="10" height="10" fill="#ffe5e5" fill-opacity="0.10"/><rect x="420.5" y="740.2" width="10" height="10" fill="#ffefef" fill-opacity="0.06"/><rect x="420.5" y="750.2" width="10" height="10" fill="#ffadad" fill-opacity="0.32"/><rect x="420.5" y="760.2" width="10" height="10" fill="#ff7070" fill-opacity="0.56"/><rect x="420.5" y="770.2" width="10" height="10" fill="#ff5a5a" fill-opacity="0.65"/><rect x="420.5" y="780.2" width="10" height="10" fill="#ffa5a5" fill-opacity="0.35"/><rect x="420.5" y="790.2" width="10" height="10" fill="#fff1f1" fill-opacity="0.05"/><rect x="430.5" y="750.2" width="10" height="10" fill="#ffdcdc" fill-opacity="0.14"/><rect x="430.5" y="760.2" width="10" height="10" fill="#ff6565" fill-opacity="0.60"/><rect x="430.5" y="770.2" width="10" height="10" fill="#ff0000" fill-opacity="1.00"/><rect x="430.5" y="780.2" width="10" height="10" fill="#ff7171" fill-opacity="0.56"/><rect x="430.5" y="790.2" width="10" height="10" fill="#ffe1e1" fill-opacity="0.12"/><rect x="440.5" y="750.2" width="10" height="10" fill="#fff4f4" fill-opacity="0.04"/><rect x="440.5" y="760.2" width="10" height="10" fill="#ffb7b7" fill-opacity="0.28"/><rect x="440.5" y="770.2" width="10" height="10" fill="#ff5757" fill-opacity="0.66"/><rect x="440.5" y="780.2" width="10" height="10" fill="#ff4040" fill-opacity="0.75"/><rect x="440.5" y="790.2" width="10" height="10" fill="#ffcbcb" fill-opacity="0.20"/><rect x="450.5" y="760.2" width="10" height="10" fill="#fff4f4" fill-opacity="0.04"/><rect x="450.5" y="770.2" width="10" height="10" fill="#ffe6e6" fill-opacity="0.10"/><rect x="450.5" y="780.2" width="10" height="10" fill="#ffe6e6" fill-opacity="0.10"/><rect x="450.5" y="790.2" width="10" height="10" fill="#fff5f5" fill-opacity="0.04"/></g>
<path d="M364.0 794.8L376.0 793.6L376.8 786.0L384.0 780.4L396.8 779.9L407.9 780.4L419.1 782.8L430.3 786.8L443.1 792.4L455.9 798.0L465.5 804.4L475.1 809.9L486.2 817.9L495.8 826.7L503.8 837.1L506.2 838.4L510.5 838.4L519.8 838.4L519.8 857.1L510.5 857.1L503.8 857.9L495.8 862.7L486.2 859.5L475.1 854.7L463.9 846.7L452.7 838.7L439.9 830.7L427.1 822.7L415.9 818.7L404.7 817.1L395.2 817.1L385.6 809.9L376.8 803.6L376.0 795.9ZM401.5 804.4L404.7 795.6L414.3 790.0L427.1 790.8L439.9 794.0L451.1 798.0L462.3 805.2L471.9 812.3L481.4 819.5L491.0 829.1L499.0 838.7L502.2 844.3L497.4 853.9L487.8 853.1L478.2 849.9L468.7 843.5L459.1 835.5L449.5 827.5L438.3 821.1L425.5 815.5L412.7 810.7ZM426.3 805.5L435.1 803.2L446.3 806.0L455.9 810.7L465.5 816.3L475.1 824.3L484.6 833.1L487.0 838.7L485.4 844.8L475.1 844.3L467.1 838.7L457.5 830.7L447.9 822.7L438.3 816.3L430.3 810.7ZM455.9 825.1L463.9 821.5L469.5 825.1L463.9 829.4ZM391.2 795.1L396.0 792.9L402.8 794.8L396.0 797.2Z" class="cb"/>
<path d="M384.9 717.0L394.7 716.3L399.9 723.7L406.1 732.0L413.3 740.2L421.5 747.4L429.8 753.6L438.0 757.7L446.3 762.9L451.4 770.1L453.5 776.3L453.5 784.5L450.4 791.8L445.3 797.4L438.0 794.3L429.8 791.8L421.5 787.6L414.3 781.4L409.2 774.2L404.0 766.0L396.8 758.8L389.6 749.5L384.4 741.2L381.3 733.0L381.9 724.7ZM394.7 727.3L403.0 735.1L408.1 744.3L416.4 749.5L425.7 754.6L434.9 758.2L444.2 763.9L449.4 771.1L452.0 777.3L451.4 785.6L448.4 790.7L445.8 793.8L438.0 791.8L429.8 789.2L422.6 784.5L416.4 778.4L411.2 770.1L406.1 760.8L399.9 755.7L394.7 751.5L390.6 743.3L387.0 735.1ZM424.6 768.0L434.9 764.9L442.2 770.1L447.3 776.3L448.4 782.5L445.3 788.1L438.0 784.5L430.8 780.4L425.7 776.3L424.1 772.2Z" class="cr"/>
</g>
<rect x="310.5" y="670.5" width="200" height="200" class="fr"/>
<path d="M346.5 870.5 v5" class="tk"/>
<path d="M395.5 870.5 v5" class="tk"/>
<path d="M444.5 870.5 v5" class="tk"/>
<path d="M493.5 870.5 v5" class="tk"/>
<path d="M310.5 862.5 h-5" class="tk"/>
<path d="M310.5 814.5 h-5" class="tk"/>
<path d="M310.5 766.5 h-5" class="tk"/>
<path d="M310.5 718.5 h-5" class="tk"/>
<path d="M310.5 670.5 h-5" class="tk"/>
<g clip-path="url(#c32)">
<path transform="scale(.5)" d="M1068 1649h0m-2 16h0m13 54h0m-8-21h0m1-8h0m-3-7h0m2-10h0m-3-12h0m2-27h0m9-29h0m0-5h0m-10-3h0m3-12h0m12-3h0m6 0h0m-4 9h0m2 110h0m1 1h0m-2 4h0m3 7h0m-6 2h0m14 16h0m-4-23h0m-1-5h0m0-1h0m4-117h0m-1-7h0m7 0h0m1-44h0m2 3h0m-1 5h0m4 175h0m6 2h0m-8 1h0m5 1h0m-2 13h0m17 19h0m-10 0h0m1-30h0m0-3h0m8-2h0m-9-1h0m9-2h0m-5-145h0m2-8h0m-3-23h0m-1-4h0m11 18h0m8 163h0m-5 0h0m0 3h0m-5 1h0m7 10h0m6-7h0m5-2h0m-4-6h0m2-159h0m2-2h0m-5-1h0m3-3h0m0-16h0m8-12h0m3 27h0m3 6h0m6 128h0m-3 14h0m-2 5h0m0 1h0m-5 6h0m10 2h0m-3 10h0m-8 7h0m-1 3h0m23 2h0m-2-28h0m-9-15h0m4-4h0m-1-2h0m8 0h0m-11-3h0m12-1h0m-2-4h0m-4-5h0m0-3h0m-2-2h0m8-4h0m-6-5h0m6-13h0m-2-1h0m-8-84h0m5-9h0m9-24h0m6 41h0m-3 71h0m2 0h0m-8 1h0m4 21h0m4 5h0m-2 12h0m-4 2h0m8 8h0m-1 21h0m-1 2h0m-3 1h0m13-35h0m0-7h0m-1-12h0m-1-11h0m-3-2h0m3 0h0m2-12h0m-1-13h0m0-48h0m-1-2h0m-1-9h0m11 31h0m1 8h0m0 6h0m5 1h0m-5 1h0m-3 2h0m11 30h0m-3 3h0m-8 74h0m15-62h0" stroke="#00f" class="dt"/>
<path transform="scale(.5)" d="M1051 1644h0m15-5h0m-4 3h0m-4 7h0m5 9h0m4 6h0m1 15h0m-1 1h0m-3 27h0m2 3h0m13 30h0m-1-13h0m-5-14h0m2-20h0m1-8h0m-4-5h0m-3-4h0m3-56h0m2-1h0m5-29h0m8-23h0m-1 18h0m-5 116h0m0 2h0m9 15h0m0 4h0m7-16h0m-5-4h0m2-111h0m-2-1h0m11-8h0m-4-2h0m9-18h0m-3 153h0m7 2h0m2 3h0m-4 0h0m-5 2h0m5 9h0m17 2h0m0-3h0m-8-5h0m4-4h0m-6-5h0m7-167h0m16-11h0m-4 3h0m-4 17h0m-3 4h0m10 152h0m-11 3h0m8 5h0m-8 1h0m7 2h0m-5 5h0m17 11h0m0-25h0m-3-156h0m5-3h0m2 0h0m-9-1h0m6-7h0m-7-2h0m6-4h0m-2-14h0m10-3h0m4 29h0m-5 3h0m2 0h0m7 138h0m-3 7h0m-5 8h0m7 1h0m-4 1h0m0 5h0m3 3h0m7 0h0m-1-11h0m1-4h0m2-5h0m6-6h0m-4-2h0m-5-6h0m-2-8h0m11-6h0m-8-6h0m2 0h0m3-5h0m0-7h0m1-5h0m0-5h0m1-90h0m5 2h0m1 7h0m4 69h0m1 6h0m0 3h0m-1 1h0m-7 0h0m-2 7h0m9 24h0m1 2h0m-9 5h0m19 20h0m-5-27h0m-2-16h0m1-1h0m-2-13h0m6-8h0m0-87h0m8 22h0m0 10h0m5 21h0m-1 1h0m2 2h0m-6 4h0m9 6h0m-6 1h0m-1 4h0m-1 2h0m5 48h0m-8 20h0m16-34h0m-2-14h0m4-29h0" stroke="#00f" class="dt"/>
<path transform="scale(.5)" d="M1067 1560h0m-3 18h0m0 26h0m2 3h0m-10 24h0m11 8h0m-8 2h0m1 10h0m6 13h0m-5 9h0m4 19h0m-2 10h0m4 25h0m11-25h0m2-2h0m-11 0h0m1-66h0m1-2h0m3-38h0m15-38h0m-1 38h0m-4 8h0m-1 92h0m7 13h0m-8 22h0m21 5h0m-9-5h0m8-18h0m8-148h0m2 2h0m-8 4h0m10 1h0m0 146h0m-4 2h0m2 2h0m-5 5h0m-3 4h0m21 14h0m2-14h0m-6-2h0m-2-1h0m8-8h0m0-2h0m-6 0h0m-1-148h0m13-7h0m-4 1h0m2 1h0m-3 152h0m8 1h0m0 0h0m-5 10h0m9 4h0m2 8h0m1-16h0m8-4h0m0-160h0m-9-4h0m7 0h0m-4-5h0m10-30h0m-1 3h0m4 34h0m3 0h0m-1 2h0m4 138h0m-2 1h0m-3 8h0m0 26h0m15 8h0m-9-5h0m0-15h0m0-2h0m10-10h0m-5-3h0m-4-5h0m3-6h0m-1-5h0m5-1h0m0-2h0m1 0h0m-10-1h0m3-4h0m5-3h0m-3-3h0m0-5h0m3-4h0m3-5h0m-1-10h0m0-1h0m2-2h0m-4-92h0m2-7h0m0-22h0m8 30h0m3 4h0m-8 2h0m4 74h0m-4 3h0m4 2h0m6 9h0m-6 7h0m5 2h0m-10 7h0m5 16h0m-3 2h0m12 49h0m1-79h0m2-6h0m2-4h0m2-27h0m3-41h0m-4-10h0m-5-1h0m-2-20h0m14 26h0m3 13h0m3 5h0m-2 1h0m0 9h0m-1 18h0m-4 7h0m1 27h0m20-1h0m-7-10h0" stroke="#00f" class="dt"/>
<path transform="scale(.5)" d="M1066 1590h0m1 34h0m-10 9h0m10 1h0m-9 8h0m-1 0h0m2 12h0m8 3h0m-10 1h0m9 6h0m-3 32h0m14 13h0m0-8h0m-1-11h0m-3-10h0m-2-9h0m3-50h0m4-9h0m-7-23h0m21-1h0m-6 10h0m-5 94h0m2 3h0m7 6h0m13 36h0m-8-7h0m3 0h0m1-12h0m-3-129h0m-1-16h0m19-35h0m-2 16h0m1 18h0m-4 144h0m-2 11h0m15 17h0m-4-1h0m6-8h0m-7-4h0m-1-162h0m11-5h0m5-6h0m1 6h0m3 151h0m-7 2h0m7 1h0m-7 5h0m14 3h0m5-7h0m-7-5h0m7-2h0m-3-152h0m-1-5h0m5-5h0m2-27h0m6 22h0m6 142h0m-7 21h0m5 6h0m-1 11h0m-6 1h0m9 1h0m-9 13h0m14-26h0m7-12h0m-7-19h0m-1-3h0m9-3h0m-8-9h0m3-5h0m5-3h0m-7 0h0m-1-3h0m4-1h0m-4-102h0m7 0h0m-7-1h0m1-1h0m-1-7h0m19-5h0m-3 27h0m4 62h0m-1 0h0m-4 12h0m5 1h0m-3 0h0m2 11h0m-9 5h0m8 5h0m-5 3h0m-1 1h0m2 3h0m-2 8h0m4 3h0m-6 10h0m21 5h0m-5-34h0m4-11h0m-8-4h0m6-1h0m0-14h0m1-1h0m-9-2h0m4-1h0m3-10h0m4-2h0m-3-1h0m-4-58h0m3-3h0m14 6h0m-2 25h0m-5 0h0m2 5h0m2 10h0m-3 1h0m0 1h0m6 0h0m-8 3h0m4 2h0m-4 2h0m4 26h0m-4 40h0m13-31h0m1-13h0m7-28h0" stroke="#00f" class="dt"/>
<path transform="scale(.5)" d="M1056 1661h0m1-63h0m10 17h0m0 6h0m0 19h0m-3 8h0m2 11h0m-6 5h0m0 30h0m0 17h0m13 19h0m-5-4h0m2-10h0m2-5h0m7-2h0m-11-21h0m2-6h0m5-2h0m-6-2h0m1-7h0m-1-45h0m4-9h0m2-14h0m2-7h0m13-31h0m-1 134h0m2 1h0m-4 2h0m5 0h0m0 6h0m-4 36h0m4-12h0m5-16h0m6-1h0m-9-4h0m4-5h0m-3-2h0m5-121h0m-6-8h0m13 4h0m-2 132h0m7 7h0m0 2h0m-2 0h0m-5 2h0m17-1h0m-3-5h0m5-155h0m5 155h0m3 0h0m-2 1h0m-2 1h0m6 12h0m3 1h0m15-6h0m-11-9h0m3 0h0m4-1h0m-8-2h0m10-1h0m-4-161h0m13-20h0m1 14h0m3 146h0m-11 25h0m9 12h0m-2 2h0m-7 5h0m17-9h0m5-2h0m-4-7h0m-5-17h0m5-4h0m0-5h0m-1-10h0m0-2h0m0-2h0m0-8h0m2 0h0m2-1h0m-4-9h0m4-8h0m-9-100h0m12-25h0m1 28h0m2 6h0m2 1h0m2 77h0m4 2h0m-8 1h0m-3 5h0m2 4h0m0 3h0m1 3h0m-3 14h0m6 1h0m-4 9h0m-1 0h0m8 12h0m-5 9h0m-3 12h0m12-78h0m1-1h0m-2-1h0m2-2h0m2-3h0m-1 0h0m-1-2h0m1-1h0m2-1h0m1-7h0m5-4h0m0-32h0m-1-5h0m-3-50h0m6 31h0m5 14h0m3 5h0m-6 11h0m2 4h0m-2 0h0m-3 19h0m2 12h0m0 2h0m17-20h0" stroke="#00f" class="dt"/>
<path transform="scale(.5)" d="M1052 1695h0m2-17h0m-6-28h0m18-24h0m-5 39h0m4 2h0m1 3h0m0 12h0m7 48h0m5-18h0m-1-20h0m-1-3h0m-7-2h0m6-8h0m-7-10h0m0-30h0m6-17h0m0-2h0m1-10h0m-1-29h0m13-6h0m0 6h0m-4 13h0m7 2h0m-5 6h0m-5 90h0m5 2h0m4 6h0m1 1h0m-6 1h0m20 25h0m-2-6h0m-4-6h0m-1-137h0m12-38h0m2 28h0m-3 146h0m4 2h0m-2 5h0m-4 8h0m17 20h0m5-26h0m-5-6h0m-7-1h0m5-150h0m4 0h0m2-12h0m-2-4h0m2-11h0m-3-28h0m15 5h0m-8 30h0m3 6h0m-4 8h0m-2 4h0m7 155h0m1 2h0m-1 3h0m1 4h0m-7 3h0m21 24h0m-4-31h0m-3-6h0m4-3h0m-7-1h0m9-157h0m-2-1h0m-6-16h0m13 8h0m2 1h0m-3 7h0m1 2h0m8 130h0m-6 21h0m6 10h0m-8 2h0m-1 6h0m18-9h0m-5-8h0m1-32h0m5-4h0m-4-3h0m3-2h0m-2-11h0m2 0h0m3-2h0m-4-3h0m3-91h0m-4-6h0m3-10h0m7 6h0m3 12h0m2 1h0m3 1h0m-1 64h0m-7 11h0m-1 1h0m-1 3h0m0 3h0m9 12h0m-8 17h0m-1 28h0m7 15h0m-5 7h0m10-30h0m3-1h0m4-27h0m-5-20h0m7-9h0m-5-18h0m2-54h0m5 10h0m0 3h0m6 10h0m-1 2h0m3 0h0m-4 1h0m-2 4h0m6 25h0m-1 0h0m1 6h0m1 7h0m-7 13h0m-1 1h0m25-46h0" stroke="#00f" class="dt"/>
<path transform="scale(.5)" d="M1054 1688h0m-8-46h0m14-22h0m-3 18h0m0 7h0m7 14h0m3 5h0m-7 1h0m-2 22h0m5 37h0m14 0h0m-1-34h0m-6-26h0m-2-17h0m6-27h0m2-3h0m-4-3h0m6-4h0m-5-1h0m-3-13h0m8-29h0m5 133h0m3 4h0m3 2h0m-1 5h0m-7 14h0m3 5h0m13 10h0m-1-8h0m0-13h0m7-4h0m0-4h0m-3-3h0m-6-1h0m1-1h0m4-129h0m16-9h0m-2 6h0m-8 4h0m4 139h0m0 1h0m1 0h0m5 9h0m6 17h0m3-18h0m-6-7h0m5-152h0m-1-2h0m2-5h0m0-10h0m16 7h0m-1 159h0m0 13h0m-3 3h0m10-17h0m4-3h0m-7-151h0m2-7h0m5-1h0m-4-6h0m10 8h0m8 135h0m-4 6h0m-1 2h0m1 2h0m2 1h0m-2 4h0m-3 1h0m-5 9h0m0 3h0m1 5h0m8 12h0m4 5h0m0-6h0m10-5h0m0-4h0m1-7h0m-11-1h0m-1-3h0m9-9h0m0-8h0m0-6h0m-7-12h0m2-3h0m0-1h0m-2 0h0m6-13h0m3-3h0m-6-1h0m0-1h0m6-12h0m-11-94h0m23-11h0m-8 16h0m4 1h0m0 79h0m-3 1h0m2 8h0m3 1h0m2 4h0m-8 3h0m1 4h0m0 12h0m1 20h0m-2 5h0m1 28h0m19-76h0m-9-5h0m2-14h0m-3-2h0m7-5h0m0-2h0m1-1h0m2-40h0m1-3h0m10 9h0m-9 0h0m8 19h0m1 7h0m-10 13h0m8 14h0m-5 33h0m-2 46h0m19-87h0m8-10h0" stroke="#00f" class="dt"/>
<path transform="scale(.5)" d="M1042 1649h0m18-21h0m7 5h0m-1 4h0m-5 2h0m3 11h0m-7 3h0m9 47h0m9-1h0m-1-6h0m-1-13h0m0-4h0m-2-6h0m-1-1h0m-1-31h0m4-25h0m1-7h0m10-34h0m3 23h0m-6 6h0m1 0h0m3 98h0m5 1h0m2 8h0m-7 3h0m-2 3h0m12 20h0m1-19h0m1-4h0m-1-2h0m-1-123h0m3-11h0m14-24h0m-4 4h0m0 5h0m-2 12h0m2 3h0m0 1h0m-4 135h0m2 4h0m7 8h0m3 2h0m-2 7h0m9-11h0m2-4h0m-8-1h0m7 0h0m3-172h0m2-7h0m1 24h0m9 1h0m-7 154h0m1 0h0m9 18h0m10-17h0m-5-165h0m7-2h0m1 9h0m8 128h0m-1 12h0m-4 1h0m1 6h0m4 0h0m0 8h0m-3 6h0m2 0h0m7 38h0m-4-16h0m3-6h0m-2-5h0m0-15h0m9-1h0m-7-4h0m3-3h0m3-6h0m-6-3h0m-1-14h0m-2-1h0m0-2h0m3-1h0m3-1h0m-4-4h0m-2-1h0m1-5h0m3-5h0m4-1h0m1-9h0m-3 0h0m3-6h0m1-4h0m-11-94h0m9-7h0m-2-2h0m9 8h0m5 82h0m-4 2h0m0 5h0m-4 0h0m2 2h0m7 7h0m0 9h0m-5 6h0m7 23h0m-7 0h0m-3 10h0m1 8h0m18-30h0m0-13h0m-3-1h0m2-11h0m-3-13h0m-1-1h0m-2-1h0m1-5h0m5-3h0m0 0h0m-4-2h0m1-4h0m10-32h0m3 0h0m-2 5h0m-1 7h0m1 15h0m7 14h0m3 43h0" stroke="#00f" class="dt"/>
<path transform="scale(.5)" d="M1111 1529h0m-2 34h0m17 13h0m-2-27h0m-4-27h0m18-10h0m1 8h0m-3 11h0m-4 7h0m1 2h0m0 29h0m3 1h0m4 2h0m-5 2h0m7 1h0m8-36h0m2-3h0m-8-11h0m3-5h0m13-15h0m0 8h0m-2 4h0m-4 1h0m4 2h0m3 0h0m-4 2h0m3 7h0m1 2h0m-7 5h0m6 49h0m-6 3h0m16 5h0m-4-3h0m22-108h0m-8 26h0m8 1h0m-1 11h0m-2 65h0m0 2h0m-2 6h0m14-83h0m-4-7h0m6-12h0m-8 0h0m17-1h0m-7 12h0m3 2h0m-1 4h0m7 1h0m-5 3h0m6 78h0m12-3h0m-4-79h0m2-12h0m-3-6h0m0-4h0m13-18h0m3 7h0m-2 24h0m3 1h0m-5 7h0m-4 1h0m-1 0h0m4 91h0m9-2h0m8-8h0m-1-1h0m-6-86h0m4-3h0m-1-1h0m-4-1h0m7-2h0m2-8h0m-4-41h0m16 16h0m-10 0h0m9 2h0m-4 6h0m-1 3h0m4 1h0m1 4h0m-9 4h0m11 5h0m-3 1h0m-9 6h0m10 93h0m11 2h0m-8-3h0m3-98h0m4-2h0m3-4h0m0-1h0m-1-5h0m-6-6h0m-2-12h0m3-1h0m6-1h0m1-32h0m12 29h0m-3 8h0m2 1h0m-2 1h0m1 0h0m0 10h0m-8 5h0m2 4h0m-3 1h0m-1 107h0m0 3h0m2 2h0m18-2h0m2-9h0m-8-114h0m-2-2h0m2-1h0m1-4h0m8 0h0m-7 0h0m0-2h0m5-4h0m-4-2h0m1-9h0m3-2h0m2 0h0m-4 0h0m2-10h0m1-17h0m13-29h0m-10 33h0m0 16h0m10 2h0m-5 1h0m5 6h0m0 0h0m-10 1h0m3 1h0m8 3h0m-11 0h0m4 0h0m0 1h0m6 0h0m-1 2h0m-4 1h0m0 1h0m-3 2h0m1 0h0m-2 2h0m-1 3h0m6 120h0m-6 0h0m4 1h0m-5 4h0m9 6h0m15-10h0m-9-140h0m3 0h0m0-2h0m-1 0h0m3-8h0m3-6h0m-10-2h0m17-28h0m-1 9h0m-3 12h0m8 2h0m-6 13h0m-3 5h0m11 117h0m-5 7h0m-3 5h0m10-13h0m7-7h0m3-2h0m-11-115h0m1-1h0m7-1h0m-4-8h0m-4-5h0m1-2h0m11-24h0m10 6h0m-9 5h0m-1 0h0m2 5h0m3 2h0m4 12h0m-7 2h0m9 1h0m-5 0h0m4 0h0m-1 112h0m-6 21h0m10 28h0m0-29h0m-2-9h0m7-4h0m-1-4h0m-4 0h0m1-1h0m-3-1h0m7-4h0m1-3h0m-3 0h0m2-4h0m1-2h0m-7-102h0m3-1h0m-3-5h0m1 0h0m6-9h0m-6 0h0m9-6h0m2-7h0m9 5h0m-3 4h0m2 2h0m-7 1h0m10 3h0m-10 0h0m3 2h0m-5 4h0m6 3h0m-2 1h0m0 0h0m3 1h0m4 76h0m0 1h0m-3 8h0m-2 2h0m0 6h0m-3 3h0m6 2h0m-1 4h0m-5 4h0m7 3h0m-1 38h0m8-42h0m-5-6h0m10-5h0m-3-16h0m-4-6h0m-3 0h0m1 0h0m1-3h0m4-10h0m3-7h0m-2-3h0m2-8h0m-1-9h0m2-5h0m1-1h0m0-1h0m1-2h0m-7-15h0m4-1h0m-9-1h0m10-6h0m-7-12h0m-1-25h0m12-16h0m8 48h0m-5 3h0m-4 9h0m8 5h0m-2 5h0m-3 2h0m6 7h0m-9 4h0m9 6h0m-1 15h0m1 4h0m-7 2h0m4 3h0m2 7h0m-7 29h0m7 3h0m7 11h0m6-25h0m-8-11h0m2-12h0m-3-23h0m1-18h0m10-5h0m-11-16h0m4-15h0m0 0h0m-2-11h0m19 55h0" stroke="#f00" class="dt"/>
<path transform="scale(.5)" d="M1121 1559h0m-2-11h0m7-2h0m2-7h0m-7-21h0m13 19h0m3 4h0m-6 26h0m-1 1h0m0 17h0m19-8h0m2-43h0m-1 0h0m-5-6h0m15-1h0m-7 10h0m8 41h0m-3 1h0m4 4h0m-1 10h0m15-4h0m-2-5h0m-5-66h0m-3-1h0m-1-13h0m13 13h0m7 5h0m-9 3h0m8 72h0m16-11h0m-12-68h0m9-1h0m2-1h0m-8-21h0m6-5h0m-5-1h0m7-7h0m4 20h0m9 5h0m-11 0h0m3 1h0m1 5h0m-1 74h0m7 1h0m-9 10h0m19-6h0m-5-2h0m0-2h0m3-80h0m5-3h0m-11-5h0m3-3h0m5-29h0m7 17h0m4 2h0m1 2h0m1 5h0m-7 0h0m7 4h0m-6 1h0m1 8h0m5 84h0m-3 3h0m1 14h0m4-1h0m5-12h0m1-93h0m-6 0h0m9-3h0m-9-1h0m10-2h0m0-1h0m-7-2h0m-2-1h0m21-53h0m-8 26h0m2 8h0m5 12h0m2 8h0m-2 2h0m-5 3h0m-1 1h0m4 102h0m17-11h0m-5 0h0m-1-1h0m-6-94h0m7-9h0m-2-1h0m4-21h0m3-5h0m7-45h0m-5 37h0m5 6h0m-5 8h0m2 4h0m5 0h0m0 1h0m0 2h0m-1 6h0m-4 4h0m-4 4h0m0 99h0m4 1h0m0 33h0m16-29h0m-5 0h0m7-8h0m-9-108h0m-1-6h0m6-1h0m1-6h0m2-7h0m-3-4h0m-5-4h0m0-2h0m8-3h0m0 0h0m-3-1h0m3-3h0m0-3h0m-2-10h0m7-26h0m7 17h0m-8 3h0m3 17h0m4 1h0m2 1h0m-7 4h0m9 2h0m-10 1h0m9 2h0m0 2h0m-8 2h0m-2 8h0m4 0h0m6 116h0m-3 8h0m-5 1h0m4 17h0m15-25h0m2-8h0m-9-119h0m5-2h0m-6-1h0m1-2h0m-3-3h0m1-8h0m10-24h0m5 8h0m-2 1h0m1 5h0m2 2h0m6 2h0m-8 0h0m3 7h0m0 0h0m5 1h0m-10 1h0m2 0h0m7 131h0m-7 7h0m4 0h0m0 3h0m6-20h0m2-3h0m1-1h0m1-122h0m-2-2h0m-1-1h0m2-3h0m-1-2h0m2-3h0m-2 0h0m7-9h0m-6-15h0m14-4h0m3 15h0m-8 1h0m8 1h0m-7 3h0m0 3h0m3 2h0m5 3h0m-10 1h0m3 1h0m7 3h0m-5 0h0m1 116h0m1 0h0m-2 6h0m3 3h0m12 0h0m-7 0h0m1-4h0m0 0h0m10-6h0m-12-2h0m8 0h0m-6-2h0m-1-5h0m5-1h0m1-1h0m-1-4h0m6-7h0m-8-95h0m5 0h0m-2-1h0m-5-8h0m-1 0h0m9-3h0m-8-5h0m7-4h0m-1 0h0m11 5h0m-7 3h0m11 0h0m-5 2h0m-4 3h0m2 5h0m0 1h0m0 1h0m8 72h0m-2 5h0m1 8h0m-1 0h0m-4 6h0m0 1h0m-4 2h0m-2 1h0m5 10h0m-1 3h0m2 2h0m-2 8h0m1 3h0m8 2h0m0-18h0m2-4h0m-2 0h0m2-22h0m-2-4h0m0 0h0m5-1h0m-1-1h0m-4-4h0m2-2h0m1-5h0m6-3h0m-6-1h0m8-6h0m-3-10h0m2-1h0m-1-1h0m2 0h0m-1-4h0m-1-13h0m1-12h0m-10-8h0m5-1h0m-3-1h0m7-1h0m-1-1h0m-9-6h0m8 0h0m2-1h0m-4-3h0m-2 0h0m1-10h0m18-29h0m-5 18h0m5 5h0m1 7h0m-7 25h0m0 7h0m-3 0h0m1 6h0m0 3h0m-1 8h0m0 12h0m4 16h0m1 8h0m7-12h0m5-23h0m-6-8h0m-1-5h0m6-24h0m-6-5h0m22 31h0" stroke="#f00" class="dt"/>
<path transform="scale(.5)" d="M1104 1531h0m9 13h0m-2 24h0m15-8h0m-9-6h0m10 0h0m-2-4h0m-1-11h0m11-20h0m-4 22h0m7 2h0m-7 23h0m-1 10h0m2 8h0m10-6h0m9-2h0m-9 0h0m7-53h0m2-11h0m-5-21h0m16 26h0m-2 14h0m2 0h0m-6 4h0m13-10h0m-3-1h0m5-6h0m-7-3h0m9-5h0m1-1h0m9-9h0m-3 6h0m-2 4h0m0 11h0m7 1h0m-3 1h0m-6 0h0m9 63h0m0 11h0m12-80h0m0-1h0m6-30h0m6 19h0m-4 3h0m5 3h0m-9 1h0m10 74h0m1 2h0m-11 2h0m1 5h0m15 0h0m3-84h0m-1-1h0m0-2h0m-4-1h0m3-3h0m4 0h0m1-17h0m0 0h0m11-4h0m-3 7h0m3 2h0m-8 1h0m3 3h0m1 4h0m0 6h0m-2 85h0m11 6h0m4-8h0m0-87h0m0 0h0m4-1h0m-10-1h0m8-1h0m-7 0h0m10 0h0m-3-4h0m-8-3h0m8-30h0m15-12h0m-8 18h0m-1 29h0m-2 0h0m7 89h0m-2 1h0m-3 0h0m-1 10h0m11-7h0m5-103h0m6-1h0m-6-3h0m-3-7h0m5-2h0m-5-5h0m0-9h0m1-34h0m8 1h0m2 13h0m7 15h0m-3 5h0m-2 2h0m2 0h0m1 3h0m2 0h0m-6 3h0m3 2h0m5 3h0m-10 4h0m4 3h0m-3 3h0m7 114h0m7 6h0m-2-18h0m0-112h0m1-1h0m2-2h0m2-2h0m-6-1h0m6-1h0m2-1h0m0-1h0m-3 0h0m6-1h0m-8-3h0m8-3h0m-3-1h0m1 0h0m-7-3h0m3-6h0m1-17h0m-4-9h0m20 13h0m-8 1h0m2 3h0m-3 2h0m9 4h0m-5 8h0m-2 0h0m7 2h0m-11 6h0m1 0h0m5 117h0m-1 16h0m-2 2h0m16-26h0m3 0h0m-5-123h0m2-2h0m-6 0h0m5-2h0m-1 0h0m-5-2h0m10-5h0m-2-43h0m6-1h0m4 13h0m-2 11h0m-2 1h0m-1 7h0m10 1h0m-3 5h0m0 3h0m3 1h0m-2 0h0m0 1h0m1 1h0m1 121h0m0 9h0m-2 5h0m-7 7h0m13 7h0m3-13h0m3-6h0m-5-1h0m7-1h0m-10-130h0m3-4h0m-1-1h0m-2-13h0m4-2h0m1-4h0m3-28h0m7 31h0m-1 1h0m4 2h0m-2 5h0m5 1h0m-7 4h0m-3 1h0m10 109h0m-2 9h0m-4 7h0m-2 7h0m1 12h0m-2 5h0m16 9h0m1-36h0m-2-12h0m6-5h0m1-2h0m0 0h0m-2-3h0m-3-1h0m6-3h0m-2-1h0m-3-102h0m2-1h0m1 0h0m0-2h0m-1-5h0m-8-1h0m1-1h0m7-1h0m-9-2h0m9-2h0m-6-9h0m-2-37h0m22 16h0m-8 23h0m1 2h0m2 14h0m5 0h0m-11 1h0m4 2h0m8 8h0m0 74h0m-2 13h0m-2 4h0m-7 1h0m9 1h0m-1 0h0m-4 2h0m-1 5h0m4 8h0m-2 1h0m-6 9h0m16-16h0m1-7h0m3-27h0m-4-3h0m5-1h0m-4-1h0m-1-8h0m3-4h0m-2-1h0m5-11h0m-2 0h0m1-1h0m1-5h0m-1-5h0m3-5h0m-2-10h0m0-2h0m-1-1h0m1-1h0m-1-6h0m-1-5h0m4-1h0m-1-1h0m-9-1h0m9-5h0m-10-1h0m6-4h0m5-27h0m2 23h0m4 20h0m-1 1h0m1 2h0m-2 5h0m-2 3h0m-1 7h0m6 1h0m0 4h0m-3 3h0m-3 2h0m-1 2h0m3 10h0m3 1h0m-2 2h0m-4 15h0m1 25h0m4 0h0m5 3h0m5-18h0m15-92h0m-1 28h0m6 15h0m-6 19h0" stroke="#f00" class="dt"/>
<path transform="scale(.5)" d="M1101 1558h0m14-11h0m2 16h0m3-12h0m9 9h0m3 8h0m-1 3h0m3 8h0m18 7h0m-1-3h0m-7-10h0m1 0h0m3-33h0m-7 0h0m4-1h0m4 0h0m-6-1h0m6 0h0m-9-10h0m6-5h0m16-8h0m1 0h0m-5 3h0m3 6h0m-9 7h0m7 47h0m-2 11h0m8-1h0m6-2h0m-7-1h0m8-59h0m-3-8h0m5-4h0m0-4h0m10-27h0m-4 18h0m5 15h0m1 0h0m-4 5h0m4 63h0m-5 2h0m5 2h0m-4 7h0m7-8h0m8-73h0m0-2h0m-4-5h0m2-7h0m-4-5h0m9-34h0m8 30h0m-8 20h0m0 3h0m5 72h0m1 0h0m5 1h0m9 8h0m-3-88h0m-4-1h0m1-3h0m-1-12h0m5-33h0m11-12h0m1 28h0m-1 7h0m-5 11h0m1 9h0m4 3h0m-4 4h0m2 0h0m-2 1h0m10 94h0m5-3h0m6-2h0m-6-2h0m3-6h0m-4-90h0m4-4h0m0-3h0m-5 0h0m9-1h0m-4-1h0m-4-4h0m13-45h0m8 17h0m-7 4h0m-1 0h0m3 13h0m-4 10h0m4 2h0m3 4h0m-6 3h0m6 2h0m-10 0h0m5 1h0m-4 1h0m4 88h0m-3 6h0m4 0h0m11-115h0m0-2h0m3-1h0m2-36h0m-7-15h0m18-5h0m2 40h0m-9 10h0m4 1h0m2 1h0m2 2h0m-8 1h0m9 1h0m-10 5h0m1 1h0m-1 3h0m5 103h0m-4 8h0m16-126h0m-4-2h0m-2 0h0m12-5h0m-8-2h0m2-1h0m-6-1h0m9-3h0m-8-6h0m3-9h0m4-6h0m2-5h0m8-20h0m-3 18h0m3 6h0m1 8h0m-2 8h0m5 0h0m-2 2h0m3 124h0m-4 2h0m1 11h0m12-4h0m-6-10h0m1-2h0m2-125h0m-1-6h0m7-7h0m1-1h0m-10-5h0m2-3h0m8-3h0m-3-29h0m15 21h0m-4 8h0m-7 5h0m1 2h0m9 2h0m-5 2h0m-3 1h0m1 3h0m-2 0h0m6 123h0m3 3h0m-10 5h0m8 1h0m-6 1h0m2 7h0m0 11h0m-4 11h0m14-33h0m1-3h0m5 0h0m-7-8h0m4-3h0m3-3h0m3 0h0m-2-2h0m-2-121h0m-6 0h0m3-4h0m4-3h0m3-5h0m-5-2h0m-3-20h0m11-8h0m3 12h0m5 1h0m-2 13h0m-6 8h0m-2 3h0m8 0h0m1 1h0m-6 2h0m0 116h0m-2 3h0m10 1h0m-11 4h0m3 1h0m-2 4h0m0 0h0m4 2h0m-3 19h0m17-32h0m-6 0h0m0 0h0m-1-8h0m9-5h0m-4-4h0m2 0h0m-1-2h0m-6-100h0m7-4h0m-6-12h0m7-1h0m-6-2h0m0 0h0m2-1h0m3-12h0m-7 0h0m19-18h0m2 8h0m-8 12h0m4 18h0m4 5h0m-9 0h0m10 1h0m-5 4h0m-2 89h0m0 4h0m0 0h0m8 0h0m-10 2h0m-1 3h0m7 36h0m-4 0h0m9-25h0m3-19h0m-4 0h0m3-2h0m0-7h0m6-2h0m-8-1h0m4-6h0m-2-3h0m3-1h0m-4-2h0m3-7h0m6-4h0m-2-13h0m2-4h0m-2 0h0m2-1h0m0-10h0m0-11h0m0-5h0m-6-6h0m-4-2h0m10-3h0m-10-1h0m5 0h0m5-3h0m-11-9h0m6-16h0m-6-22h0m9-11h0m4 24h0m2 15h0m-3 0h0m8 20h0m-5 4h0m6 1h0m-5 4h0m0 8h0m-1 6h0m1 13h0m4 3h0m-3 2h0m-3 8h0m2 24h0m-3 6h0m6 3h0m6-17h0m0-15h0m7-36h0m-5-1h0m0-29h0m-1-6h0m10 51h0m10 11h0m-9 13h0" stroke="#f00" class="dt"/>
<path transform="scale(.5)" d="M1100 1541h0m6 10h0m1 6h0m10 1h0m9-4h0m-7-2h0m20-54h0m-10 24h0m5 4h0m-3 20h0m1 1h0m6 35h0m9-3h0m-2-6h0m-3-37h0m5-1h0m-3-2h0m0-16h0m10-30h0m5 17h0m-7 19h0m4 8h0m5 2h0m-7 0h0m-1 43h0m1 9h0m13 15h0m3-13h0m4-5h0m-7-56h0m4-4h0m-2-2h0m-3 0h0m10-5h0m-8-2h0m2-1h0m4-9h0m2-19h0m11 26h0m-10 7h0m6 66h0m0 1h0m-1 0h0m5 13h0m-2 1h0m7-2h0m-3-76h0m5-8h0m-1-12h0m5 0h0m4-27h0m7 12h0m-3 16h0m-4 10h0m-2 1h0m1 3h0m-1 2h0m9 69h0m-5 0h0m7 2h0m-5 1h0m3 5h0m-3 8h0m12-11h0m0-81h0m1-2h0m5-3h0m-4-1h0m-4 0h0m8-5h0m11-24h0m-10 23h0m5 4h0m-4 5h0m1 84h0m4 4h0m1 7h0m-4 6h0m9-5h0m8-101h0m3-1h0m-1-1h0m-4-1h0m-4-1h0m8-2h0m-3-8h0m-2-4h0m3-2h0m14-37h0m0 0h0m0 12h0m0 11h0m-3 2h0m1 13h0m-4 11h0m3 2h0m2 1h0m-5 1h0m4 88h0m3 1h0m-5 4h0m15-3h0m-10-2h0m6-98h0m3-1h0m-9-1h0m11-7h0m-7-5h0m-2-4h0m0-6h0m1-26h0m17 12h0m2 4h0m-3 6h0m0 2h0m-5 2h0m8 2h0m-8 2h0m1 3h0m2 1h0m-2 4h0m5 0h0m1 3h0m0 0h0m-8 6h0m22 114h0m-9-10h0m0-122h0m1 0h0m1-1h0m3-2h0m1-5h0m3-1h0m0-3h0m-2-11h0m3-10h0m2-1h0m6 3h0m-5 7h0m1 6h0m6 0h0m-3 0h0m2 5h0m-8 125h0m10 5h0m2-6h0m8-1h0m-9-129h0m10-7h0m-10 0h0m10-6h0m-7-3h0m5-3h0m-2-3h0m-2-4h0m-1-14h0m21-1h0m-4 17h0m-3 3h0m4 8h0m-8 1h0m0 131h0m-1 13h0m16 4h0m-3 0h0m0-8h0m5 0h0m5-12h0m-11 0h0m5-5h0m4-10h0m-6-119h0m5-3h0m0-3h0m0-1h0m4-1h0m-7-3h0m-3-10h0m1-24h0m20-5h0m-2 12h0m1 8h0m2 6h0m-10 1h0m8 1h0m-9 10h0m2 5h0m-1 3h0m4 119h0m6 2h0m-10 6h0m9 7h0m-9 7h0m8 2h0m-1 1h0m11-3h0m2-31h0m-4-6h0m3-5h0m0-2h0m2-4h0m-9-97h0m5-1h0m3 0h0m-3-7h0m14-32h0m2 5h0m0 0h0m-8 4h0m6 1h0m-4 13h0m1 1h0m2 13h0m-4 2h0m1 0h0m6 0h0m-3 2h0m2 78h0m-3 2h0m1 11h0m-6 1h0m7 3h0m-5 1h0m5 6h0m-3 9h0m17 18h0m-1-47h0m-8-12h0m5-4h0m1-7h0m-2-1h0m-3 0h0m2-7h0m6-4h0m-4-1h0m0-1h0m-1-4h0m4-5h0m0-2h0m-2-5h0m1-2h0m3-11h0m0-2h0m0-3h0m0-5h0m-6-3h0m3-1h0m0-4h0m-3 0h0m-3-1h0m4-16h0m-2-5h0m3-3h0m-1-11h0m-3-4h0m8 0h0m4 10h0m6 17h0m-7 4h0m-2 4h0m4 10h0m3 2h0m-6 2h0m6 1h0m-8 3h0m11 0h0m-1 0h0m-3 3h0m-3 10h0m2 7h0m-4 1h0m-1 2h0m0 3h0m10 1h0m-10 21h0m8 23h0m-1 14h0m6-51h0m10-11h0m-8-1h0m-3-7h0m1-16h0m2-17h0m-4-12h0m5-1h0m-5-11h0m22 53h0" stroke="#f00" class="dt"/>
<path transform="scale(.5)" d="M1114 1522h0m13 63h0m-6-11h0m3-8h0m-3-17h0m5-1h0m12-44h0m-2 8h0m-7 1h0m5 24h0m3 1h0m1 5h0m-4 3h0m-6 15h0m8 11h0m-2 2h0m0 4h0m14 8h0m-3-4h0m2-7h0m1-35h0m-3-3h0m7-7h0m0-18h0m10 17h0m-8 5h0m-1 2h0m13-8h0m4 0h0m-1-2h0m4-1h0m-8 0h0m8-3h0m3 0h0m-4-12h0m11-10h0m-6 20h0m7 0h0m0 64h0m-6 1h0m11 3h0m10-1h0m-9-3h0m-2-65h0m4-7h0m3 0h0m-5-1h0m2-2h0m4-1h0m-3-2h0m3-23h0m12 12h0m-8 0h0m6 1h0m-2 6h0m1 1h0m6 4h0m-7 7h0m8-2h0m2-2h0m2 0h0m-4-15h0m11-9h0m4-24h0m2 25h0m0 6h0m2 2h0m-6 4h0m1 4h0m2 1h0m-3 1h0m4 1h0m2 84h0m2 3h0m1 0h0m5 0h0m-2-3h0m7-90h0m-1-5h0m0 0h0m3-5h0m-1-1h0m-1-9h0m-1 0h0m4-17h0m10-13h0m2 13h0m-6 12h0m-1 6h0m-2 0h0m10 10h0m-12 3h0m10 0h0m-6 5h0m10 98h0m9-110h0m0-4h0m-2 0h0m-4-1h0m-2-25h0m7-47h0m7 23h0m4 2h0m-1 1h0m-2 20h0m-3 11h0m-2 3h0m0 5h0m0 0h0m2 3h0m3 3h0m-5 1h0m0 2h0m2 105h0m-1 9h0m16-5h0m0-7h0m-2-115h0m-2-1h0m0-2h0m9-3h0m-4-1h0m5 0h0m-8 0h0m4-1h0m-5-2h0m7-1h0m-10-2h0m5-2h0m7-1h0m-8-2h0m6-8h0m-2-4h0m-6-1h0m11-17h0m-1 4h0m7 4h0m-7 3h0m6 15h0m0 1h0m-2 1h0m1 1h0m0 6h0m-3 3h0m7 130h0m12-9h0m-5-134h0m5-6h0m-2 0h0m0-5h0m-7-2h0m3-22h0m6-15h0m11 11h0m-2 16h0m-4 0h0m-1 1h0m3 0h0m2 1h0m-4 1h0m5 4h0m-6 0h0m8 0h0m2 2h0m-6 1h0m0 2h0m-3 128h0m8 10h0m5 15h0m3-11h0m2-4h0m-7-16h0m5-3h0m-4 0h0m-1-123h0m4-9h0m-3-4h0m4-4h0m3-12h0m15 1h0m-2 6h0m0 4h0m-2 4h0m-2 1h0m-1 1h0m2 1h0m-7 4h0m1 0h0m3 114h0m-2 6h0m0 2h0m9 2h0m-7 8h0m-3 2h0m6 12h0m-4 10h0m-3 14h0m19-15h0m-5-36h0m1 0h0m2-9h0m-2-1h0m4-5h0m-2-3h0m5 0h0m2-3h0m-3-4h0m-5-102h0m6 0h0m-6-5h0m1-2h0m-2 0h0m-1-3h0m10-5h0m-1-3h0m-8-11h0m8-5h0m-1 0h0m5-6h0m9 21h0m-9 11h0m-1 0h0m7 0h0m-5 9h0m2 2h0m-1 0h0m6 1h0m-1 76h0m-1 9h0m-3 2h0m2 2h0m-1 4h0m-5 0h0m9 1h0m-3 3h0m4 4h0m-7 19h0m-4 5h0m2 1h0m20-16h0m-8-31h0m6-9h0m-5-4h0m0 0h0m-2-4h0m6-1h0m-4-1h0m-1-3h0m4 0h0m1-2h0m3 0h0m-1-3h0m-4-4h0m1-5h0m1-17h0m3-6h0m-1-1h0m1-7h0m0-10h0m-4-1h0m5-2h0m-4-15h0m7 3h0m-1 8h0m0 14h0m2 3h0m3 4h0m1 5h0m-8 4h0m3 1h0m2 5h0m-1 4h0m4 3h0m-8 4h0m5 0h0m-4 3h0m7 9h0m1 4h0m-7 6h0m3 10h0m9-25h0m9-14h0m-3-32h0m4-24h0m1 49h0m3 0h0m10-36h0" stroke="#f00" class="dt"/>
<path transform="scale(.5)" d="M1114 1575h0m5 0h0m6-4h0m3-10h0m-7-4h0m5-13h0m-3-2h0m10-9h0m5 3h0m-1 2h0m-2 0h0m-4 3h0m-3 16h0m2 1h0m3 13h0m4 5h0m0 8h0m9-3h0m2-1h0m-1-5h0m-5-1h0m5-42h0m-6-21h0m19-24h0m2 5h0m-1 29h0m-2 7h0m3 2h0m7 78h0m2-11h0m4-14h0m-7-3h0m2-55h0m6 0h0m-5-2h0m-3-5h0m16-4h0m4 2h0m-9 2h0m0 6h0m3 64h0m8 16h0m-1-86h0m9-1h0m-1-1h0m-2-1h0m-1-2h0m-3 0h0m10-37h0m1 24h0m0 1h0m7 7h0m-2 81h0m1 0h0m-6 5h0m22 6h0m-2-7h0m-5-1h0m1-82h0m2 0h0m1-6h0m12 83h0m-1 1h0m3 2h0m-10 4h0m9 5h0m2 5h0m3-102h0m1-2h0m4-4h0m1-4h0m12-36h0m2 9h0m-4 2h0m5 11h0m-10 1h0m2 4h0m-1 0h0m0 2h0m5 7h0m14 103h0m-10-1h0m0-99h0m5-4h0m-1-3h0m8-1h0m-1-3h0m-6-2h0m6-19h0m-4-44h0m15 38h0m-4 6h0m3 2h0m0 11h0m-8 1h0m7 1h0m-8 1h0m7 1h0m1 0h0m-5 1h0m4 105h0m-1 15h0m10-16h0m-1-2h0m0 0h0m3 0h0m-2-1h0m-1-112h0m5-4h0m-1 0h0m-4-3h0m2-2h0m3-3h0m1-1h0m-3-10h0m11-30h0m-1 6h0m7 17h0m-1 1h0m-1 3h0m-3 1h0m2 5h0m-2 0h0m-6 1h0m6 0h0m4 3h0m-9 4h0m4 1h0m-3 2h0m-1 2h0m8 112h0m-5 6h0m-3 4h0m1 8h0m0 1h0m16-13h0m-1-7h0m2-5h0m-2-123h0m-2-1h0m2-5h0m0 0h0m3-2h0m-4-1h0m7-1h0m-5 0h0m3-1h0m-1 0h0m-1-4h0m-5 0h0m6-9h0m-1-7h0m3-2h0m12-14h0m-5 6h0m3 3h0m-3 0h0m4 6h0m0 5h0m-3 5h0m-2 3h0m3 1h0m4 1h0m-11 2h0m1 0h0m10 1h0m-10 1h0m5 3h0m0 1h0m-6 1h0m7 121h0m-1 8h0m4 3h0m-9 3h0m3 7h0m16-10h0m-5-9h0m0-5h0m5-7h0m3-3h0m-11-112h0m7-6h0m4 0h0m-5-2h0m0 0h0m3-1h0m0-15h0m-3-5h0m2-25h0m13-15h0m-4 55h0m5 1h0m-6 2h0m-2 2h0m6 115h0m-1 5h0m-6 2h0m0 5h0m1 2h0m4 2h0m9-8h0m8-3h0m-7-3h0m6-2h0m-3-5h0m-5 0h0m0-1h0m6-6h0m3-1h0m-5 0h0m6-7h0m-3-98h0m1-1h0m-10 0h0m3 0h0m8-2h0m1-5h0m-8-2h0m3-2h0m-3-2h0m-2-2h0m7 0h0m-8-1h0m0-24h0m22 19h0m-5 6h0m1 4h0m-5 4h0m6 4h0m-2 4h0m4 0h0m-1 76h0m-3 9h0m-3 8h0m-2 4h0m2 0h0m1 6h0m-3 5h0m1 33h0m15-34h0m-4-1h0m1-17h0m1-15h0m-3-3h0m5-2h0m-4-3h0m7-3h0m-2-2h0m2-1h0m-5 0h0m6-16h0m2-1h0m-5-1h0m5-4h0m-2-2h0m2-5h0m-1-2h0m0-4h0m0-22h0m-7-1h0m-2-9h0m6-6h0m-3-4h0m9-17h0m4 9h0m-1 22h0m4 1h0m3 2h0m-3 4h0m-8 0h0m0 1h0m2 0h0m4 6h0m-5 5h0m4 0h0m-2 4h0m-2 2h0m10 2h0m-6 3h0m-4 16h0m-1 15h0m3 14h0m10 2h0m2-9h0m-2-26h0m2-23h0m-2-16h0" stroke="#f00" class="dt"/>
<path transform="scale(.5)" d="M1112 1530h0m-5 24h0m19 21h0m-3-14h0m1-4h0m-2-15h0m10-23h0m-1 2h0m2 7h0m3 44h0m0 5h0m12-3h0m-8-32h0m3-7h0m2-14h0m2-8h0m-7-10h0m15 3h0m1 22h0m-1 2h0m1 2h0m6 0h0m-6 2h0m-3 44h0m1 3h0m4 2h0m-4 3h0m3 12h0m13-14h0m-4-1h0m10-1h0m-5-1h0m-6-54h0m0 0h0m7-1h0m-3-16h0m0 0h0m13-35h0m-4 16h0m-1 28h0m7 1h0m-8 5h0m6 59h0m-3 0h0m-2 22h0m12-8h0m3-7h0m0-72h0m3-10h0m-3-17h0m3-6h0m10-3h0m3 15h0m-3 4h0m5 7h0m-9 1h0m1 4h0m-1 0h0m6 76h0m-3 0h0m5 1h0m-1 1h0m-8 9h0m15-14h0m6-77h0m1-1h0m-1-3h0m2-2h0m-3-3h0m-7 0h0m6-1h0m1-3h0m3-8h0m5-30h0m7 18h0m-9 10h0m6 0h0m-7 5h0m10 4h0m-2 2h0m-1 5h0m1 84h0m10 2h0m-2 0h0m2-88h0m-3 0h0m8-2h0m-5-1h0m-4-1h0m9-1h0m-2-3h0m-5-16h0m17-15h0m-2 5h0m-3 20h0m6 4h0m-6 2h0m-1 3h0m-3 96h0m10 10h0m11-2h0m-9-10h0m5-1h0m6-103h0m-8-3h0m3 0h0m2-1h0m-1-2h0m0-3h0m2-4h0m0-2h0m-7-6h0m8-39h0m2-6h0m3 18h0m8 21h0m-3 4h0m-6 2h0m8 5h0m-4 1h0m1 1h0m-1 2h0m3 3h0m-4 2h0m-2 1h0m1 1h0m5 102h0m-3 0h0m1 12h0m-7 2h0m11-124h0m0-3h0m5-3h0m-1 0h0m-1-1h0m0 0h0m7-1h0m-2-1h0m-2 0h0m-5-1h0m9-3h0m1-6h0m2-35h0m10 5h0m-6 19h0m5 4h0m2 1h0m-1 0h0m-3 2h0m2 1h0m-5 4h0m-4 5h0m1 3h0m2 121h0m11-9h0m5-5h0m-1 0h0m5-129h0m-8-1h0m2-3h0m5-1h0m-7-7h0m3-21h0m6 12h0m10 3h0m-11 4h0m4 2h0m-3 2h0m9 3h0m-4 0h0m-3 4h0m6 120h0m-5 13h0m13 11h0m-1-24h0m2-4h0m-1-132h0m5-1h0m1-5h0m-4 0h0m-5-4h0m5 0h0m1-6h0m6-6h0m0 16h0m10 0h0m-11 1h0m5 2h0m1 1h0m2 4h0m-3 118h0m-4 7h0m-2 2h0m5 1h0m1 7h0m17-13h0m-10-13h0m2-1h0m6-3h0m-5-3h0m1 0h0m5-5h0m-4-102h0m0 0h0m4-1h0m-3 0h0m-6-1h0m4-4h0m4-2h0m2-2h0m-3-2h0m-6-30h0m4-4h0m17 18h0m-8 3h0m5 2h0m-4 22h0m6 1h0m-9 2h0m10 1h0m0 79h0m-3 2h0m-1 4h0m-3 12h0m1 0h0m1 4h0m-5 4h0m3 2h0m3 10h0m12-27h0m4-7h0m-2-11h0m-7-5h0m0 0h0m2-3h0m6-3h0m-4-1h0m1-4h0m3-1h0m1-1h0m-3-2h0m-2-5h0m2-10h0m0-8h0m4-3h0m-7-22h0m5-1h0m-9-9h0m8 0h0m-6-2h0m-3-5h0m2-14h0m21-7h0m-8 7h0m4 15h0m1 4h0m-1 5h0m4 2h0m-10 4h0m0 1h0m-1 1h0m1 0h0m1 0h0m-1 2h0m9 4h0m-3 0h0m4 3h0m-9 3h0m-1 1h0m1 4h0m8 8h0m0 2h0m-4 1h0m-1 0h0m-4 23h0m1 13h0m7 19h0m-2 4h0m4 17h0m3-24h0m-2-31h0m3-12h0m0-15h0m9-3h0m-1-24h0m4 53h0m14-27h0" stroke="#f00" class="dt"/>
<path d="M580.8 779.8L590.1 781.9L597.3 787.0L601.4 794.7L600.4 804.0L594.2 812.3L588.0 819.5L584.4 825.7L582.9 836.0L579.8 848.4L576.2 855.6L565.4 857.6L555.6 857.6L546.8 851.4L539.6 844.2L535.5 833.9L533.9 824.6L536.0 814.3L540.1 804.0L547.8 794.7L556.1 787.5L564.3 782.9L572.6 780.3Z" fill="#fff" shape-rendering="crispEdges"/>
<g shape-rendering="crispEdges"><rect x="520.5" y="820.2" width="10" height="10" fill="#f5f5ff" fill-opacity="0.04"/><rect x="530.5" y="790.2" width="10" height="10" fill="#f6f6ff" fill-opacity="0.03"/><rect x="530.5" y="800.2" width="10" height="10" fill="#e5e5ff" fill-opacity="0.10"/><rect x="530.5" y="810.2" width="10" height="10" fill="#cdcdff" fill-opacity="0.20"/><rect x="530.5" y="820.2" width="10" height="10" fill="#c0c0ff" fill-opacity="0.25"/><rect x="530.5" y="830.2" width="10" height="10" fill="#cfcfff" fill-opacity="0.19"/><rect x="530.5" y="840.2" width="10" height="10" fill="#e8e8ff" fill-opacity="0.09"/><rect x="540.5" y="780.2" width="10" height="10" fill="#f5f5ff" fill-opacity="0.04"/><rect x="540.5" y="790.2" width="10" height="10" fill="#d6d6ff" fill-opacity="0.16"/><rect x="540.5" y="800.2" width="10" height="10" fill="#9b9bff" fill-opacity="0.39"/><rect x="540.5" y="810.2" width="10" height="10" fill="#6e6eff" fill-opacity="0.57"/><rect x="540.5" y="820.2" width="10" height="10" fill="#6666ff" fill-opacity="0.60"/><rect x="540.5" y="830.2" width="10" height="10" fill="#7c7cff" fill-opacity="0.51"/><rect x="540.5" y="840.2" width="10" height="10" fill="#adadff" fill-opacity="0.32"/><rect x="540.5" y="850.2" width="10" height="10" fill="#e5e5ff" fill-opacity="0.10"/><rect x="550.5" y="780.2" width="10" height="10" fill="#ddddff" fill-opacity="0.13"/><rect x="550.5" y="790.2" width="10" height="10" fill="#9b9bff" fill-opacity="0.39"/><rect x="550.5" y="800.2" width="10" height="10" fill="#3d3dff" fill-opacity="0.76"/><rect x="550.5" y="810.2" width="10" height="10" fill="#0000ff" fill-opacity="1.00"/><rect x="550.5" y="820.2" width="10" height="10" fill="#0303ff" fill-opacity="0.99"/><rect x="550.5" y="830.2" width="10" height="10" fill="#3535ff" fill-opacity="0.79"/><rect x="550.5" y="840.2" width="10" height="10" fill="#7070ff" fill-opacity="0.56"/><rect x="550.5" y="850.2" width="10" height="10" fill="#bebeff" fill-opacity="0.26"/><rect x="550.5" y="860.2" width="10" height="10" fill="#f3f3ff" fill-opacity="0.05"/><rect x="560.5" y="770.2" width="10" height="10" fill="#f1f1ff" fill-opacity="0.05"/><rect x="560.5" y="780.2" width="10" height="10" fill="#bcbcff" fill-opacity="0.26"/><rect x="560.5" y="790.2" width="10" height="10" fill="#7c7cff" fill-opacity="0.51"/><rect x="560.5" y="800.2" width="10" height="10" fill="#2f2fff" fill-opacity="0.82"/><rect x="560.5" y="810.2" width="10" height="10" fill="#1919ff" fill-opacity="0.90"/><rect x="560.5" y="820.2" width="10" height="10" fill="#1919ff" fill-opacity="0.90"/><rect x="560.5" y="830.2" width="10" height="10" fill="#3c3cff" fill-opacity="0.76"/><rect x="560.5" y="840.2" width="10" height="10" fill="#6565ff" fill-opacity="0.60"/><rect x="560.5" y="850.2" width="10" height="10" fill="#b8b8ff" fill-opacity="0.28"/><rect x="560.5" y="860.2" width="10" height="10" fill="#f3f3ff" fill-opacity="0.05"/><rect x="570.5" y="770.2" width="10" height="10" fill="#eaeaff" fill-opacity="0.08"/><rect x="570.5" y="780.2" width="10" height="10" fill="#b1b1ff" fill-opacity="0.31"/><rect x="570.5" y="790.2" width="10" height="10" fill="#7b7bff" fill-opacity="0.52"/><rect x="570.5" y="800.2" width="10" height="10" fill="#4c4cff" fill-opacity="0.70"/><rect x="570.5" y="810.2" width="10" height="10" fill="#5757ff" fill-opacity="0.66"/><rect x="570.5" y="820.2" width="10" height="10" fill="#7272ff" fill-opacity="0.55"/><rect x="570.5" y="830.2" width="10" height="10" fill="#8c8cff" fill-opacity="0.45"/><rect x="570.5" y="840.2" width="10" height="10" fill="#a9a9ff" fill-opacity="0.34"/><rect x="570.5" y="850.2" width="10" height="10" fill="#ceceff" fill-opacity="0.19"/><rect x="570.5" y="860.2" width="10" height="10" fill="#f6f6ff" fill-opacity="0.03"/><rect x="580.5" y="770.2" width="10" height="10" fill="#ededff" fill-opacity="0.07"/><rect x="580.5" y="780.2" width="10" height="10" fill="#b8b8ff" fill-opacity="0.28"/><rect x="580.5" y="790.2" width="10" height="10" fill="#9999ff" fill-opacity="0.40"/><rect x="580.5" y="800.2" width="10" height="10" fill="#9090ff" fill-opacity="0.44"/><rect x="580.5" y="810.2" width="10" height="10" fill="#a9a9ff" fill-opacity="0.34"/><rect x="580.5" y="820.2" width="10" height="10" fill="#ceceff" fill-opacity="0.19"/><rect x="580.5" y="830.2" width="10" height="10" fill="#ddddff" fill-opacity="0.13"/><rect x="580.5" y="840.2" width="10" height="10" fill="#eaeaff" fill-opacity="0.08"/><rect x="580.5" y="850.2" width="10" height="10" fill="#f4f4ff" fill-opacity="0.04"/><rect x="590.5" y="770.2" width="10" height="10" fill="#f5f5ff" fill-opacity="0.04"/><rect x="590.5" y="780.2" width="10" height="10" fill="#d2d2ff" fill-opacity="0.18"/><rect x="590.5" y="790.2" width="10" height="10" fill="#b8b8ff" fill-opacity="0.28"/><rect x="590.5" y="800.2" width="10" height="10" fill="#bcbcff" fill-opacity="0.26"/><rect x="590.5" y="810.2" width="10" height="10" fill="#e0e0ff" fill-opacity="0.12"/><rect x="590.5" y="820.2" width="10" height="10" fill="#f6f6ff" fill-opacity="0.03"/><rect x="600.5" y="780.2" width="10" height="10" fill="#f4f4ff" fill-opacity="0.04"/><rect x="600.5" y="790.2" width="10" height="10" fill="#e8e8ff" fill-opacity="0.09"/><rect x="600.5" y="800.2" width="10" height="10" fill="#ededff" fill-opacity="0.07"/></g>
<path d="M563.5 775.0L573.6 770.4L585.9 763.4L601.4 758.0L616.9 753.4L630.8 747.9L641.6 738.7L652.4 727.8L663.2 718.6L674.1 712.4L684.9 710.5L694.9 714.7L693.4 730.9L690.3 744.8L684.9 757.2L675.6 768.0L666.3 777.3L657.1 785.1L646.2 790.5L632.3 792.8L616.9 793.6L601.4 792.8L585.9 790.5L575.1 787.4L566.6 784.3Z" fill="#fff" shape-rendering="crispEdges"/>
<g shape-rendering="crispEdges"><rect x="560.5" y="770.2" width="10" height="10" fill="#ffdddd" fill-opacity="0.13"/><rect x="560.5" y="780.2" width="10" height="10" fill="#ffe7e7" fill-opacity="0.09"/><rect x="570.5" y="760.2" width="10" height="10" fill="#ffeded" fill-opacity="0.07"/><rect x="570.5" y="770.2" width="10" height="10" fill="#ffbebe" fill-opacity="0.25"/><rect x="570.5" y="780.2" width="10" height="10" fill="#ffc8c8" fill-opacity="0.22"/><rect x="570.5" y="790.2" width="10" height="10" fill="#fff7f7" fill-opacity="0.03"/><rect x="580.5" y="750.2" width="10" height="10" fill="#fff7f7" fill-opacity="0.03"/><rect x="580.5" y="760.2" width="10" height="10" fill="#ffd3d3" fill-opacity="0.17"/><rect x="580.5" y="770.2" width="10" height="10" fill="#ff8d8d" fill-opacity="0.45"/><rect x="580.5" y="780.2" width="10" height="10" fill="#ff6f6f" fill-opacity="0.56"/><rect x="580.5" y="790.2" width="10" height="10" fill="#ffe8e8" fill-opacity="0.09"/><rect x="590.5" y="750.2" width="10" height="10" fill="#fff0f0" fill-opacity="0.06"/><rect x="590.5" y="760.2" width="10" height="10" fill="#ffb9b9" fill-opacity="0.27"/><rect x="590.5" y="770.2" width="10" height="10" fill="#ff4a4a" fill-opacity="0.71"/><rect x="590.5" y="780.2" width="10" height="10" fill="#ff5656" fill-opacity="0.66"/><rect x="590.5" y="790.2" width="10" height="10" fill="#ffecec" fill-opacity="0.08"/><rect x="600.5" y="750.2" width="10" height="10" fill="#ffe3e3" fill-opacity="0.11"/><rect x="600.5" y="760.2" width="10" height="10" fill="#ff9292" fill-opacity="0.43"/><rect x="600.5" y="770.2" width="10" height="10" fill="#ff1414" fill-opacity="0.92"/><rect x="600.5" y="780.2" width="10" height="10" fill="#ff5353" fill-opacity="0.68"/><rect x="600.5" y="790.2" width="10" height="10" fill="#ffe6e6" fill-opacity="0.10"/><rect x="610.5" y="750.2" width="10" height="10" fill="#ffd1d1" fill-opacity="0.18"/><rect x="610.5" y="760.2" width="10" height="10" fill="#ff6161" fill-opacity="0.62"/><rect x="610.5" y="770.2" width="10" height="10" fill="#ff0000" fill-opacity="1.00"/><rect x="610.5" y="780.2" width="10" height="10" fill="#ff6161" fill-opacity="0.62"/><rect x="610.5" y="790.2" width="10" height="10" fill="#ffe3e3" fill-opacity="0.11"/><rect x="620.5" y="740.2" width="10" height="10" fill="#fff0f0" fill-opacity="0.06"/><rect x="620.5" y="750.2" width="10" height="10" fill="#ffb9b9" fill-opacity="0.27"/><rect x="620.5" y="760.2" width="10" height="10" fill="#ff4e4e" fill-opacity="0.69"/><rect x="620.5" y="770.2" width="10" height="10" fill="#ff2727" fill-opacity="0.85"/><rect x="620.5" y="780.2" width="10" height="10" fill="#ff7c7c" fill-opacity="0.51"/><rect x="620.5" y="790.2" width="10" height="10" fill="#ffe6e6" fill-opacity="0.10"/><rect x="630.5" y="730.2" width="10" height="10" fill="#fff5f5" fill-opacity="0.04"/><rect x="630.5" y="740.2" width="10" height="10" fill="#ffd6d6" fill-opacity="0.16"/><rect x="630.5" y="750.2" width="10" height="10" fill="#ff9898" fill-opacity="0.40"/><rect x="630.5" y="760.2" width="10" height="10" fill="#ff4e4e" fill-opacity="0.70"/><rect x="630.5" y="770.2" width="10" height="10" fill="#ff4949" fill-opacity="0.72"/><rect x="630.5" y="780.2" width="10" height="10" fill="#ff9c9c" fill-opacity="0.39"/><rect x="630.5" y="790.2" width="10" height="10" fill="#ffeaea" fill-opacity="0.08"/><rect x="640.5" y="720.2" width="10" height="10" fill="#fff5f5" fill-opacity="0.04"/><rect x="640.5" y="730.2" width="10" height="10" fill="#ffdada" fill-opacity="0.15"/><rect x="640.5" y="740.2" width="10" height="10" fill="#ffafaf" fill-opacity="0.31"/><rect x="640.5" y="750.2" width="10" height="10" fill="#ff8787" fill-opacity="0.47"/><rect x="640.5" y="760.2" width="10" height="10" fill="#ff5b5b" fill-opacity="0.64"/><rect x="640.5" y="770.2" width="10" height="10" fill="#ff7474" fill-opacity="0.54"/><rect x="640.5" y="780.2" width="10" height="10" fill="#ffb9b9" fill-opacity="0.27"/><rect x="640.5" y="790.2" width="10" height="10" fill="#fff0f0" fill-opacity="0.06"/><rect x="650.5" y="710.2" width="10" height="10" fill="#fff7f7" fill-opacity="0.03"/><rect x="650.5" y="720.2" width="10" height="10" fill="#ffdcdc" fill-opacity="0.14"/><rect x="650.5" y="730.2" width="10" height="10" fill="#ffb1b1" fill-opacity="0.30"/><rect x="650.5" y="740.2" width="10" height="10" fill="#ff8c8c" fill-opacity="0.45"/><rect x="650.5" y="750.2" width="10" height="10" fill="#ff7575" fill-opacity="0.54"/><rect x="650.5" y="760.2" width="10" height="10" fill="#ff8080" fill-opacity="0.50"/><rect x="650.5" y="770.2" width="10" height="10" fill="#ffa2a2" fill-opacity="0.36"/><rect x="650.5" y="780.2" width="10" height="10" fill="#ffd8d8" fill-opacity="0.15"/><rect x="660.5" y="710.2" width="10" height="10" fill="#ffe5e5" fill-opacity="0.10"/><rect x="660.5" y="720.2" width="10" height="10" fill="#ffb7b7" fill-opacity="0.28"/><rect x="660.5" y="730.2" width="10" height="10" fill="#ff8c8c" fill-opacity="0.45"/><rect x="660.5" y="740.2" width="10" height="10" fill="#ff7575" fill-opacity="0.54"/><rect x="660.5" y="750.2" width="10" height="10" fill="#ff9494" fill-opacity="0.42"/><rect x="660.5" y="760.2" width="10" height="10" fill="#ffa9a9" fill-opacity="0.34"/><rect x="660.5" y="770.2" width="10" height="10" fill="#ffcfcf" fill-opacity="0.19"/><rect x="660.5" y="780.2" width="10" height="10" fill="#fff3f3" fill-opacity="0.05"/><rect x="670.5" y="700.2" width="10" height="10" fill="#fff5f5" fill-opacity="0.04"/><rect x="670.5" y="710.2" width="10" height="10" fill="#ffcdcd" fill-opacity="0.19"/><rect x="670.5" y="720.2" width="10" height="10" fill="#ffa7a7" fill-opacity="0.34"/><rect x="670.5" y="730.2" width="10" height="10" fill="#ff7575" fill-opacity="0.54"/><rect x="670.5" y="740.2" width="10" height="10" fill="#ff9494" fill-opacity="0.42"/><rect x="670.5" y="750.2" width="10" height="10" fill="#ffb5b5" fill-opacity="0.29"/><rect x="670.5" y="760.2" width="10" height="10" fill="#ffd2d2" fill-opacity="0.18"/><rect x="670.5" y="770.2" width="10" height="10" fill="#fff1f1" fill-opacity="0.05"/><rect x="680.5" y="700.2" width="10" height="10" fill="#fff3f3" fill-opacity="0.05"/><rect x="680.5" y="710.2" width="10" height="10" fill="#ffcfcf" fill-opacity="0.19"/><rect x="680.5" y="720.2" width="10" height="10" fill="#ffbdbd" fill-opacity="0.26"/><rect x="680.5" y="730.2" width="10" height="10" fill="#ffbbbb" fill-opacity="0.27"/><rect x="680.5" y="740.2" width="10" height="10" fill="#ffc9c9" fill-opacity="0.21"/><rect x="680.5" y="750.2" width="10" height="10" fill="#ffdcdc" fill-opacity="0.14"/><rect x="680.5" y="760.2" width="10" height="10" fill="#fff3f3" fill-opacity="0.05"/><rect x="690.5" y="710.2" width="10" height="10" fill="#ffe4e4" fill-opacity="0.11"/><rect x="690.5" y="720.2" width="10" height="10" fill="#ffe4e4" fill-opacity="0.10"/><rect x="690.5" y="730.2" width="10" height="10" fill="#ffeaea" fill-opacity="0.08"/><rect x="690.5" y="740.2" width="10" height="10" fill="#fff2f2" fill-opacity="0.05"/></g>
<path d="M580.8 779.8L590.1 781.9L597.3 787.0L601.4 794.7L600.4 804.0L594.2 812.3L588.0 819.5L584.4 825.7L582.9 836.0L579.8 848.4L576.2 855.6L565.4 857.6L555.6 857.6L546.8 851.4L539.6 844.2L535.5 833.9L533.9 824.6L536.0 814.3L540.1 804.0L547.8 794.7L556.1 787.5L564.3 782.9L572.6 780.3ZM565.4 793.2L574.6 792.2L581.9 795.3L584.9 804.0L581.9 813.3L578.8 822.6L576.2 832.9L571.5 844.2L564.8 850.4L555.1 848.9L547.8 842.2L543.2 833.9L541.1 824.6L542.2 815.4L546.8 806.1L553.0 798.4L560.2 795.3ZM554.0 804.0L565.4 801.4L576.2 803.5L574.6 813.3L570.5 825.7L567.4 837.0L564.8 844.2L555.1 840.1L550.4 833.9L548.4 823.6L549.4 814.3L550.9 808.1Z" class="cb"/>
<path d="M563.5 775.0L573.6 770.4L585.9 763.4L601.4 758.0L616.9 753.4L630.8 747.9L641.6 738.7L652.4 727.8L663.2 718.6L674.1 712.4L684.9 710.5L694.9 714.7L693.4 730.9L690.3 744.8L684.9 757.2L675.6 768.0L666.3 777.3L657.1 785.1L646.2 790.5L632.3 792.8L616.9 793.6L601.4 792.8L585.9 790.5L575.1 787.4L566.6 784.3ZM577.4 776.5L585.9 771.1L599.8 765.7L615.3 760.3L630.8 755.7L641.6 749.5L652.4 738.7L663.2 728.6L674.8 720.9L681.0 724.0L683.4 734.0L678.7 746.4L672.5 757.2L663.2 769.6L654.0 778.9L643.1 784.3L629.2 788.1L613.8 789.7L599.8 790.5L587.5 794.3L578.2 786.6ZM584.4 784.3L592.1 774.2L604.5 768.8L619.9 763.4L633.9 761.1L644.7 760.8L649.3 764.9L644.7 772.7L638.5 778.9L627.7 782.7L613.8 785.8L599.8 787.4L589.0 786.6ZM599.8 775.0L606.0 771.9L616.9 771.1L625.4 775.0L618.4 779.6L607.6 780.4L602.2 778.1Z" class="cr"/>
</g>
<rect x="520.5" y="670.5" width="200" height="200" class="fr"/>
<path d="M560.5 870.5 v5" class="tk"/>
<path d="M602.5 870.5 v5" class="tk"/>
<path d="M644.5 870.5 v5" class="tk"/>
<path d="M686.5 870.5 v5" class="tk"/>
<path d="M520.5 862.5 h-5" class="tk"/>
<path d="M520.5 814.5 h-5" class="tk"/>
<path d="M520.5 766.5 h-5" class="tk"/>
<path d="M520.5 718.5 h-5" class="tk"/>
<path d="M520.5 670.5 h-5" class="tk"/>
<g clip-path="url(#c33)">
<path d="M738.5 670.5 V870.5" class="gr"/>
<path d="M786.5 670.5 V870.5" class="gr"/>
<path d="M834.5 670.5 V870.5" class="gr"/>
<path d="M882.5 670.5 V870.5" class="gr"/>
<path d="M730.5 723.5 H930.5" class="gr"/>
<path d="M730.5 796.5 H930.5" class="gr"/>
<path d="M730.5 870.5 L730.5 864.3 L740.5 864.3 L740.5 840.3 L750.5 840.3 L750.5 796.5 L760.5 796.5 L760.5 766.3 L770.5 766.3 L770.5 746.5 L780.5 746.5 L780.5 736.4 L790.5 736.4 L790.5 750.2 L800.5 750.2 L800.5 791.5 L810.5 791.5 L810.5 830.1 L820.5 830.1 L820.5 854.4 L830.5 854.4 L830.5 863.3 L840.5 863.3 L840.5 868.2 L850.5 868.2 L850.5 870.5 L860.5 870.5 L860.5 870.5 L870.5 870.5 L870.5 870.5 L880.5 870.5 L880.5 870.5 L890.5 870.5 L890.5 870.5 L900.5 870.5 L900.5 870.5 L910.5 870.5 L910.5 870.5 L920.5 870.5 L920.5 870.5 L930.5 870.5 L930.5 870.5" class="hb"/>
<path d="M730.5 870.5 L730.5 870.5 L740.5 870.5 L740.5 870.5 L750.5 870.5 L750.5 870.5 L760.5 870.5 L760.5 870.5 L770.5 870.5 L770.5 870.5 L780.5 870.5 L780.5 870.5 L790.5 870.5 L790.5 869.2 L800.5 869.2 L800.5 842.2 L810.5 842.2 L810.5 743.5 L820.5 743.5 L820.5 688.4 L830.5 688.4 L830.5 744.3 L840.5 744.3 L840.5 793.0 L850.5 793.0 L850.5 804.4 L860.5 804.4 L860.5 814.3 L870.5 814.3 L870.5 833.3 L880.5 833.3 L880.5 850.2 L890.5 850.2 L890.5 859.3 L900.5 859.3 L900.5 866.7 L910.5 866.7 L910.5 869.2 L920.5 869.2 L920.5 870.5 L930.5 870.5 L930.5 870.5" class="hr"/>
<path d="M761.2 870.5 V670.5" class="dq"/>
<path d="M782.0 870.5 V670.5" class="dq"/>
<path d="M803.0 870.5 V670.5" class="dq"/>
</g>
<rect x="730.5" y="670.5" width="200" height="200" class="fr"/>
<path d="M738.5 870.5 v5" class="tk"/>
<path d="M786.5 870.5 v5" class="tk"/>
<path d="M834.5 870.5 v5" class="tk"/>
<path d="M882.5 870.5 v5" class="tk"/>
<path d="M930.5 870.5 v5" class="tk"/>
<path d="M730.5 723.5 h-5" class="tk"/>
<path d="M730.5 796.5 h-5" class="tk"/>
<path d="M730.5 870.4 h-5" class="tk"/>
<text transform="translate(119.3 904.2) rotate(-45)" y="4.5" text-anchor="middle">0.003</text>
<text transform="translate(160.2 904.2) rotate(-45)" y="4.5" text-anchor="middle">0.006</text>
<text transform="translate(200.3 904.2) rotate(-45)" y="4.5" text-anchor="middle">0.009</text>
<text transform="translate(240.3 904.2) rotate(-45)" y="4.5" text-anchor="middle">0.012</text>
<text transform="translate(280.4 904.2) rotate(-45)" y="4.5" text-anchor="middle">0.015</text>
<text transform="translate(345.3 896.7) rotate(-45)" y="4.5" text-anchor="middle">0.0</text>
<text transform="translate(394.3 896.7) rotate(-45)" y="4.5" text-anchor="middle">0.4</text>
<text transform="translate(443.3 896.7) rotate(-45)" y="4.5" text-anchor="middle">0.8</text>
<text transform="translate(492.3 896.7) rotate(-45)" y="4.5" text-anchor="middle">1.2</text>
<text transform="translate(559.3 904.2) rotate(-45)" y="4.5" text-anchor="middle">0.003</text>
<text transform="translate(601.3 904.2) rotate(-45)" y="4.5" text-anchor="middle">0.006</text>
<text transform="translate(643.3 904.2) rotate(-45)" y="4.5" text-anchor="middle">0.009</text>
<text transform="translate(685.3 904.2) rotate(-45)" y="4.5" text-anchor="middle">0.012</text>
<text transform="translate(737.3 896.0) rotate(-45)" y="4.5" text-anchor="middle">−3</text>
<text transform="translate(785.3 891.1) rotate(-45)" y="4.5" text-anchor="middle">0</text>
<text transform="translate(833.3 891.1) rotate(-45)" y="4.5" text-anchor="middle">3</text>
<text transform="translate(881.3 891.1) rotate(-45)" y="4.5" text-anchor="middle">6</text>
<text transform="translate(929.3 891.1) rotate(-45)" y="4.5" text-anchor="middle">9</text>
<text transform="translate(74.8 423.7) rotate(-45)" y="4.5" text-anchor="middle">0.0</text>
<text transform="translate(74.8 374.7) rotate(-45)" y="4.5" text-anchor="middle">0.4</text>
<text transform="translate(74.8 325.7) rotate(-45)" y="4.5" text-anchor="middle">0.8</text>
<text transform="translate(74.8 276.7) rotate(-45)" y="4.5" text-anchor="middle">1.2</text>
<text transform="translate(67.3 637.2) rotate(-45)" y="4.5" text-anchor="middle">0.003</text>
<text transform="translate(67.3 595.2) rotate(-45)" y="4.5" text-anchor="middle">0.006</text>
<text transform="translate(67.3 553.2) rotate(-45)" y="4.5" text-anchor="middle">0.009</text>
<text transform="translate(67.3 511.2) rotate(-45)" y="4.5" text-anchor="middle">0.012</text>
<text transform="translate(75.5 871.0) rotate(-45)" y="4.5" text-anchor="middle">−3</text>
<text transform="translate(80.4 818.1) rotate(-45)" y="4.5" text-anchor="middle">0</text>
<text transform="translate(80.4 770.1) rotate(-45)" y="4.5" text-anchor="middle">3</text>
<text transform="translate(80.4 722.1) rotate(-45)" y="4.5" text-anchor="middle">6</text>
<text transform="translate(80.4 674.1) rotate(-45)" y="4.5" text-anchor="middle">9</text>
<text x="100.5" y="665.6">1e−3</text>
<text x="930.5" y="927.3" text-anchor="end">1e−3</text>
</svg>
</body></html>
